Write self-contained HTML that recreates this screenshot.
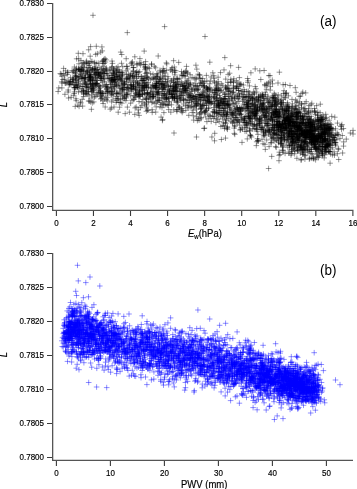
<!DOCTYPE html><html><head><meta charset="utf-8"><style>html,body{margin:0;padding:0;background:#fff;width:357px;height:489px;overflow:hidden}svg{display:block}</style></head><body><svg width="357" height="489" viewBox="0 0 357 489"><path d="M308.2 151.4h5.6m-2.8-2.8v5.6M103.9 69.2h5.6m-2.8-2.8v5.6M91.0 101.9h5.6m-2.8-2.8v5.6M177.5 97.2h5.6m-2.8-2.8v5.6M82.3 74.1h5.6m-2.8-2.8v5.6M326.2 128.7h5.6m-2.8-2.8v5.6M220.4 92.3h5.6m-2.8-2.8v5.6M245.5 123.9h5.6m-2.8-2.8v5.6M261.4 117.5h5.6m-2.8-2.8v5.6M213.4 88.2h5.6m-2.8-2.8v5.6M87.8 46.6h5.6m-2.8-2.8v5.6M194.0 89.5h5.6m-2.8-2.8v5.6M198.2 106.3h5.6m-2.8-2.8v5.6M218.7 114.5h5.6m-2.8-2.8v5.6M118.6 80.7h5.6m-2.8-2.8v5.6M175.9 62.4h5.6m-2.8-2.8v5.6M281.2 90.7h5.6m-2.8-2.8v5.6M131.1 89.4h5.6m-2.8-2.8v5.6M278.3 127.3h5.6m-2.8-2.8v5.6M268.9 116.6h5.6m-2.8-2.8v5.6M264.3 85.2h5.6m-2.8-2.8v5.6M299.1 131.2h5.6m-2.8-2.8v5.6M319.7 138.3h5.6m-2.8-2.8v5.6M264.3 126.0h5.6m-2.8-2.8v5.6M136.5 91.4h5.6m-2.8-2.8v5.6M322.4 134.9h5.6m-2.8-2.8v5.6M287.9 122.6h5.6m-2.8-2.8v5.6M261.8 116.9h5.6m-2.8-2.8v5.6M294.8 146.6h5.6m-2.8-2.8v5.6M288.0 118.4h5.6m-2.8-2.8v5.6M273.6 109.5h5.6m-2.8-2.8v5.6M69.9 79.2h5.6m-2.8-2.8v5.6M308.5 124.3h5.6m-2.8-2.8v5.6M304.2 146.6h5.6m-2.8-2.8v5.6M293.1 114.8h5.6m-2.8-2.8v5.6M302.5 131.8h5.6m-2.8-2.8v5.6M120.1 98.2h5.6m-2.8-2.8v5.6M265.1 119.9h5.6m-2.8-2.8v5.6M171.3 97.7h5.6m-2.8-2.8v5.6M211.8 103.6h5.6m-2.8-2.8v5.6M232.1 111.8h5.6m-2.8-2.8v5.6M113.0 76.7h5.6m-2.8-2.8v5.6M292.5 87.7h5.6m-2.8-2.8v5.6M163.9 84.9h5.6m-2.8-2.8v5.6M103.4 86.5h5.6m-2.8-2.8v5.6M274.6 114.5h5.6m-2.8-2.8v5.6M294.6 129.3h5.6m-2.8-2.8v5.6M321.5 132.9h5.6m-2.8-2.8v5.6M284.5 118.0h5.6m-2.8-2.8v5.6M279.7 124.3h5.6m-2.8-2.8v5.6M300.9 146.7h5.6m-2.8-2.8v5.6M214.6 105.2h5.6m-2.8-2.8v5.6M312.6 138.5h5.6m-2.8-2.8v5.6M93.2 86.7h5.6m-2.8-2.8v5.6M275.7 110.1h5.6m-2.8-2.8v5.6M296.6 126.2h5.6m-2.8-2.8v5.6M320.5 124.0h5.6m-2.8-2.8v5.6M269.7 128.1h5.6m-2.8-2.8v5.6M325.5 129.8h5.6m-2.8-2.8v5.6M126.6 112.2h5.6m-2.8-2.8v5.6M87.2 81.2h5.6m-2.8-2.8v5.6M288.4 142.2h5.6m-2.8-2.8v5.6M289.0 136.8h5.6m-2.8-2.8v5.6M141.6 103.9h5.6m-2.8-2.8v5.6M112.2 70.7h5.6m-2.8-2.8v5.6M277.2 154.6h5.6m-2.8-2.8v5.6M228.9 98.0h5.6m-2.8-2.8v5.6M186.0 83.8h5.6m-2.8-2.8v5.6M91.7 96.9h5.6m-2.8-2.8v5.6M201.7 86.1h5.6m-2.8-2.8v5.6M90.4 85.3h5.6m-2.8-2.8v5.6M211.3 78.3h5.6m-2.8-2.8v5.6M299.7 149.9h5.6m-2.8-2.8v5.6M216.2 107.3h5.6m-2.8-2.8v5.6M321.0 125.5h5.6m-2.8-2.8v5.6M216.1 112.4h5.6m-2.8-2.8v5.6M62.8 83.2h5.6m-2.8-2.8v5.6M327.3 144.5h5.6m-2.8-2.8v5.6M118.7 63.3h5.6m-2.8-2.8v5.6M218.7 99.7h5.6m-2.8-2.8v5.6M124.1 94.7h5.6m-2.8-2.8v5.6M321.4 146.9h5.6m-2.8-2.8v5.6M249.4 98.5h5.6m-2.8-2.8v5.6M108.1 92.4h5.6m-2.8-2.8v5.6M267.4 90.1h5.6m-2.8-2.8v5.6M303.0 126.2h5.6m-2.8-2.8v5.6M308.8 131.1h5.6m-2.8-2.8v5.6M189.3 77.6h5.6m-2.8-2.8v5.6M232.0 134.4h5.6m-2.8-2.8v5.6M322.3 131.2h5.6m-2.8-2.8v5.6M301.7 155.0h5.6m-2.8-2.8v5.6M92.4 75.8h5.6m-2.8-2.8v5.6M303.1 125.7h5.6m-2.8-2.8v5.6M260.8 133.9h5.6m-2.8-2.8v5.6M283.1 117.2h5.6m-2.8-2.8v5.6M275.6 129.7h5.6m-2.8-2.8v5.6M303.0 111.2h5.6m-2.8-2.8v5.6M66.2 84.8h5.6m-2.8-2.8v5.6M311.7 145.2h5.6m-2.8-2.8v5.6M153.3 85.7h5.6m-2.8-2.8v5.6M326.2 132.2h5.6m-2.8-2.8v5.6M93.9 80.5h5.6m-2.8-2.8v5.6M339.1 124.5h5.6m-2.8-2.8v5.6M237.3 130.0h5.6m-2.8-2.8v5.6M285.5 123.8h5.6m-2.8-2.8v5.6M162.9 95.7h5.6m-2.8-2.8v5.6M282.5 110.6h5.6m-2.8-2.8v5.6M269.2 125.0h5.6m-2.8-2.8v5.6M286.5 122.8h5.6m-2.8-2.8v5.6M263.7 116.5h5.6m-2.8-2.8v5.6M223.8 120.4h5.6m-2.8-2.8v5.6M242.3 125.6h5.6m-2.8-2.8v5.6M131.2 95.5h5.6m-2.8-2.8v5.6M298.1 145.2h5.6m-2.8-2.8v5.6M253.1 88.7h5.6m-2.8-2.8v5.6M85.7 87.0h5.6m-2.8-2.8v5.6M89.2 98.0h5.6m-2.8-2.8v5.6M289.9 122.3h5.6m-2.8-2.8v5.6M289.4 133.4h5.6m-2.8-2.8v5.6M104.5 100.8h5.6m-2.8-2.8v5.6M303.1 131.0h5.6m-2.8-2.8v5.6M154.5 95.1h5.6m-2.8-2.8v5.6M284.7 117.8h5.6m-2.8-2.8v5.6M318.2 120.3h5.6m-2.8-2.8v5.6M328.5 124.7h5.6m-2.8-2.8v5.6M269.7 120.4h5.6m-2.8-2.8v5.6M289.9 115.8h5.6m-2.8-2.8v5.6M249.3 111.5h5.6m-2.8-2.8v5.6M252.4 86.6h5.6m-2.8-2.8v5.6M294.4 133.3h5.6m-2.8-2.8v5.6M146.7 68.6h5.6m-2.8-2.8v5.6M317.7 137.4h5.6m-2.8-2.8v5.6M319.9 138.6h5.6m-2.8-2.8v5.6M73.1 80.8h5.6m-2.8-2.8v5.6M211.3 104.1h5.6m-2.8-2.8v5.6M233.6 122.2h5.6m-2.8-2.8v5.6M202.3 96.7h5.6m-2.8-2.8v5.6M243.7 108.5h5.6m-2.8-2.8v5.6M296.1 119.7h5.6m-2.8-2.8v5.6M143.6 111.3h5.6m-2.8-2.8v5.6M321.8 137.6h5.6m-2.8-2.8v5.6M150.2 96.4h5.6m-2.8-2.8v5.6M156.5 79.7h5.6m-2.8-2.8v5.6M313.3 141.5h5.6m-2.8-2.8v5.6M221.1 110.6h5.6m-2.8-2.8v5.6M111.5 79.4h5.6m-2.8-2.8v5.6M208.3 77.0h5.6m-2.8-2.8v5.6M143.4 98.3h5.6m-2.8-2.8v5.6M194.0 104.1h5.6m-2.8-2.8v5.6M301.2 133.8h5.6m-2.8-2.8v5.6M307.5 112.3h5.6m-2.8-2.8v5.6M196.4 94.8h5.6m-2.8-2.8v5.6M55.3 91.5h5.6m-2.8-2.8v5.6M236.8 125.0h5.6m-2.8-2.8v5.6M311.1 142.1h5.6m-2.8-2.8v5.6M248.1 72.8h5.6m-2.8-2.8v5.6M263.1 130.5h5.6m-2.8-2.8v5.6M211.3 81.2h5.6m-2.8-2.8v5.6M232.1 126.0h5.6m-2.8-2.8v5.6M154.0 102.2h5.6m-2.8-2.8v5.6M316.8 120.5h5.6m-2.8-2.8v5.6M298.3 127.4h5.6m-2.8-2.8v5.6M119.5 78.7h5.6m-2.8-2.8v5.6M236.5 83.9h5.6m-2.8-2.8v5.6M273.3 125.8h5.6m-2.8-2.8v5.6M291.2 133.8h5.6m-2.8-2.8v5.6M290.5 138.0h5.6m-2.8-2.8v5.6M280.1 146.3h5.6m-2.8-2.8v5.6M210.6 98.3h5.6m-2.8-2.8v5.6M277.8 144.0h5.6m-2.8-2.8v5.6M317.3 119.8h5.6m-2.8-2.8v5.6M153.3 92.5h5.6m-2.8-2.8v5.6M321.8 138.5h5.6m-2.8-2.8v5.6M268.4 114.6h5.6m-2.8-2.8v5.6M295.5 142.3h5.6m-2.8-2.8v5.6M279.3 141.2h5.6m-2.8-2.8v5.6M131.2 99.0h5.6m-2.8-2.8v5.6M288.2 121.9h5.6m-2.8-2.8v5.6M300.5 120.0h5.6m-2.8-2.8v5.6M216.0 106.1h5.6m-2.8-2.8v5.6M261.3 100.4h5.6m-2.8-2.8v5.6M306.8 131.4h5.6m-2.8-2.8v5.6M238.6 117.6h5.6m-2.8-2.8v5.6M218.6 90.3h5.6m-2.8-2.8v5.6M308.4 116.3h5.6m-2.8-2.8v5.6M318.7 152.8h5.6m-2.8-2.8v5.6M194.1 100.4h5.6m-2.8-2.8v5.6M65.2 80.8h5.6m-2.8-2.8v5.6M224.5 127.0h5.6m-2.8-2.8v5.6M280.2 114.8h5.6m-2.8-2.8v5.6M301.2 128.3h5.6m-2.8-2.8v5.6M294.8 151.1h5.6m-2.8-2.8v5.6M174.0 95.7h5.6m-2.8-2.8v5.6M265.0 106.5h5.6m-2.8-2.8v5.6M282.4 123.4h5.6m-2.8-2.8v5.6M315.4 119.1h5.6m-2.8-2.8v5.6M214.2 85.4h5.6m-2.8-2.8v5.6M311.7 111.6h5.6m-2.8-2.8v5.6M298.9 120.2h5.6m-2.8-2.8v5.6M180.3 95.4h5.6m-2.8-2.8v5.6M276.7 126.7h5.6m-2.8-2.8v5.6M87.6 76.5h5.6m-2.8-2.8v5.6M211.0 107.5h5.6m-2.8-2.8v5.6M237.1 107.9h5.6m-2.8-2.8v5.6M59.1 76.2h5.6m-2.8-2.8v5.6M302.2 147.1h5.6m-2.8-2.8v5.6M234.4 99.1h5.6m-2.8-2.8v5.6M92.7 84.6h5.6m-2.8-2.8v5.6M281.5 112.4h5.6m-2.8-2.8v5.6M203.6 75.4h5.6m-2.8-2.8v5.6M306.4 117.2h5.6m-2.8-2.8v5.6M87.0 78.0h5.6m-2.8-2.8v5.6M295.7 136.7h5.6m-2.8-2.8v5.6M242.6 96.9h5.6m-2.8-2.8v5.6M230.9 87.9h5.6m-2.8-2.8v5.6M283.9 133.5h5.6m-2.8-2.8v5.6M267.7 119.2h5.6m-2.8-2.8v5.6M267.2 75.7h5.6m-2.8-2.8v5.6M92.7 83.8h5.6m-2.8-2.8v5.6M300.5 119.8h5.6m-2.8-2.8v5.6M244.2 105.1h5.6m-2.8-2.8v5.6M334.9 134.4h5.6m-2.8-2.8v5.6M245.0 107.0h5.6m-2.8-2.8v5.6M302.5 137.0h5.6m-2.8-2.8v5.6M292.7 135.7h5.6m-2.8-2.8v5.6M216.2 110.6h5.6m-2.8-2.8v5.6M247.1 131.1h5.6m-2.8-2.8v5.6M270.2 112.7h5.6m-2.8-2.8v5.6M151.1 87.8h5.6m-2.8-2.8v5.6M230.1 123.1h5.6m-2.8-2.8v5.6M119.7 96.1h5.6m-2.8-2.8v5.6M245.0 82.4h5.6m-2.8-2.8v5.6M85.8 79.7h5.6m-2.8-2.8v5.6M140.2 83.7h5.6m-2.8-2.8v5.6M274.9 104.1h5.6m-2.8-2.8v5.6M184.2 72.5h5.6m-2.8-2.8v5.6M88.8 91.3h5.6m-2.8-2.8v5.6M97.6 77.9h5.6m-2.8-2.8v5.6M334.7 123.1h5.6m-2.8-2.8v5.6M282.2 121.9h5.6m-2.8-2.8v5.6M214.1 94.9h5.6m-2.8-2.8v5.6M230.7 91.9h5.6m-2.8-2.8v5.6M87.9 80.5h5.6m-2.8-2.8v5.6M297.8 127.2h5.6m-2.8-2.8v5.6M323.9 130.6h5.6m-2.8-2.8v5.6M185.6 105.3h5.6m-2.8-2.8v5.6M172.5 86.9h5.6m-2.8-2.8v5.6M135.0 87.2h5.6m-2.8-2.8v5.6M94.4 83.5h5.6m-2.8-2.8v5.6M280.9 117.4h5.6m-2.8-2.8v5.6M263.0 115.9h5.6m-2.8-2.8v5.6M322.9 114.3h5.6m-2.8-2.8v5.6M193.9 112.8h5.6m-2.8-2.8v5.6M180.8 104.0h5.6m-2.8-2.8v5.6M294.1 134.7h5.6m-2.8-2.8v5.6M244.5 125.3h5.6m-2.8-2.8v5.6M278.5 138.3h5.6m-2.8-2.8v5.6M308.9 128.2h5.6m-2.8-2.8v5.6M150.0 85.1h5.6m-2.8-2.8v5.6M110.5 73.1h5.6m-2.8-2.8v5.6M299.0 130.7h5.6m-2.8-2.8v5.6M241.2 97.8h5.6m-2.8-2.8v5.6M277.8 125.7h5.6m-2.8-2.8v5.6M329.9 142.9h5.6m-2.8-2.8v5.6M266.5 112.8h5.6m-2.8-2.8v5.6M277.3 116.4h5.6m-2.8-2.8v5.6M276.3 125.0h5.6m-2.8-2.8v5.6M66.9 84.7h5.6m-2.8-2.8v5.6M294.8 127.5h5.6m-2.8-2.8v5.6M270.0 112.6h5.6m-2.8-2.8v5.6M261.8 109.5h5.6m-2.8-2.8v5.6M225.2 89.0h5.6m-2.8-2.8v5.6M290.0 121.0h5.6m-2.8-2.8v5.6M145.8 101.6h5.6m-2.8-2.8v5.6M244.7 107.0h5.6m-2.8-2.8v5.6M71.0 95.3h5.6m-2.8-2.8v5.6M209.9 116.0h5.6m-2.8-2.8v5.6M278.9 130.2h5.6m-2.8-2.8v5.6M294.3 112.7h5.6m-2.8-2.8v5.6M209.1 137.0h5.6m-2.8-2.8v5.6M89.5 70.1h5.6m-2.8-2.8v5.6M87.5 67.9h5.6m-2.8-2.8v5.6M270.6 98.8h5.6m-2.8-2.8v5.6M322.0 154.7h5.6m-2.8-2.8v5.6M293.8 126.2h5.6m-2.8-2.8v5.6M75.9 58.8h5.6m-2.8-2.8v5.6M196.4 97.4h5.6m-2.8-2.8v5.6M293.7 122.6h5.6m-2.8-2.8v5.6M315.0 129.0h5.6m-2.8-2.8v5.6M312.4 144.3h5.6m-2.8-2.8v5.6M135.5 109.9h5.6m-2.8-2.8v5.6M308.3 130.3h5.6m-2.8-2.8v5.6M227.0 88.3h5.6m-2.8-2.8v5.6M80.2 70.0h5.6m-2.8-2.8v5.6M214.2 90.6h5.6m-2.8-2.8v5.6M78.1 76.9h5.6m-2.8-2.8v5.6M130.9 99.6h5.6m-2.8-2.8v5.6M97.7 93.4h5.6m-2.8-2.8v5.6M155.6 88.2h5.6m-2.8-2.8v5.6M240.6 94.3h5.6m-2.8-2.8v5.6M322.8 148.3h5.6m-2.8-2.8v5.6M83.2 90.8h5.6m-2.8-2.8v5.6M320.0 141.8h5.6m-2.8-2.8v5.6M92.6 69.0h5.6m-2.8-2.8v5.6M325.4 124.1h5.6m-2.8-2.8v5.6M313.8 138.8h5.6m-2.8-2.8v5.6M325.3 129.3h5.6m-2.8-2.8v5.6M73.8 70.6h5.6m-2.8-2.8v5.6M310.0 135.7h5.6m-2.8-2.8v5.6M254.0 114.0h5.6m-2.8-2.8v5.6M307.6 139.6h5.6m-2.8-2.8v5.6M278.8 143.0h5.6m-2.8-2.8v5.6M253.1 109.5h5.6m-2.8-2.8v5.6M167.5 86.5h5.6m-2.8-2.8v5.6M317.8 133.0h5.6m-2.8-2.8v5.6M319.9 155.0h5.6m-2.8-2.8v5.6M288.9 136.4h5.6m-2.8-2.8v5.6M161.7 94.0h5.6m-2.8-2.8v5.6M250.2 111.6h5.6m-2.8-2.8v5.6M173.7 88.0h5.6m-2.8-2.8v5.6M145.3 93.0h5.6m-2.8-2.8v5.6M274.8 98.1h5.6m-2.8-2.8v5.6M304.6 119.2h5.6m-2.8-2.8v5.6M220.2 112.4h5.6m-2.8-2.8v5.6M283.3 118.8h5.6m-2.8-2.8v5.6M323.6 141.3h5.6m-2.8-2.8v5.6M222.0 108.1h5.6m-2.8-2.8v5.6M166.8 90.9h5.6m-2.8-2.8v5.6M218.1 126.5h5.6m-2.8-2.8v5.6M312.9 137.3h5.6m-2.8-2.8v5.6M131.2 75.8h5.6m-2.8-2.8v5.6M73.6 84.3h5.6m-2.8-2.8v5.6M267.5 135.2h5.6m-2.8-2.8v5.6M202.2 36.5h5.6m-2.8-2.8v5.6M260.1 94.9h5.6m-2.8-2.8v5.6M159.2 107.7h5.6m-2.8-2.8v5.6M137.0 85.2h5.6m-2.8-2.8v5.6M276.6 72.2h5.6m-2.8-2.8v5.6M279.6 147.3h5.6m-2.8-2.8v5.6M277.7 125.4h5.6m-2.8-2.8v5.6M83.9 92.0h5.6m-2.8-2.8v5.6M129.2 65.1h5.6m-2.8-2.8v5.6M322.3 141.0h5.6m-2.8-2.8v5.6M285.8 123.2h5.6m-2.8-2.8v5.6M270.9 131.0h5.6m-2.8-2.8v5.6M292.4 109.5h5.6m-2.8-2.8v5.6M195.3 99.8h5.6m-2.8-2.8v5.6M208.4 97.2h5.6m-2.8-2.8v5.6M262.9 117.6h5.6m-2.8-2.8v5.6M225.8 105.1h5.6m-2.8-2.8v5.6M305.6 145.1h5.6m-2.8-2.8v5.6M119.0 76.9h5.6m-2.8-2.8v5.6M305.3 123.0h5.6m-2.8-2.8v5.6M260.3 129.0h5.6m-2.8-2.8v5.6M294.8 140.5h5.6m-2.8-2.8v5.6M259.0 122.7h5.6m-2.8-2.8v5.6M246.5 118.5h5.6m-2.8-2.8v5.6M317.2 129.2h5.6m-2.8-2.8v5.6M254.2 107.8h5.6m-2.8-2.8v5.6M114.1 96.5h5.6m-2.8-2.8v5.6M73.8 58.8h5.6m-2.8-2.8v5.6M130.5 81.3h5.6m-2.8-2.8v5.6M278.8 135.4h5.6m-2.8-2.8v5.6M325.0 147.0h5.6m-2.8-2.8v5.6M321.5 129.2h5.6m-2.8-2.8v5.6M319.7 146.7h5.6m-2.8-2.8v5.6M311.8 126.3h5.6m-2.8-2.8v5.6M315.1 138.6h5.6m-2.8-2.8v5.6M199.3 99.7h5.6m-2.8-2.8v5.6M60.8 68.4h5.6m-2.8-2.8v5.6M78.3 68.8h5.6m-2.8-2.8v5.6M308.6 137.0h5.6m-2.8-2.8v5.6M169.4 94.4h5.6m-2.8-2.8v5.6M305.7 122.3h5.6m-2.8-2.8v5.6M123.1 100.6h5.6m-2.8-2.8v5.6M171.6 70.3h5.6m-2.8-2.8v5.6M100.7 60.2h5.6m-2.8-2.8v5.6M119.2 75.4h5.6m-2.8-2.8v5.6M309.5 126.0h5.6m-2.8-2.8v5.6M127.9 85.3h5.6m-2.8-2.8v5.6M318.3 125.0h5.6m-2.8-2.8v5.6M99.5 50.9h5.6m-2.8-2.8v5.6M200.1 104.7h5.6m-2.8-2.8v5.6M325.3 136.8h5.6m-2.8-2.8v5.6M331.3 135.1h5.6m-2.8-2.8v5.6M92.8 70.3h5.6m-2.8-2.8v5.6M314.6 148.3h5.6m-2.8-2.8v5.6M181.2 99.3h5.6m-2.8-2.8v5.6M263.9 140.0h5.6m-2.8-2.8v5.6M314.1 136.3h5.6m-2.8-2.8v5.6M65.8 98.0h5.6m-2.8-2.8v5.6M304.7 145.9h5.6m-2.8-2.8v5.6M280.9 118.1h5.6m-2.8-2.8v5.6M309.5 124.3h5.6m-2.8-2.8v5.6M100.0 71.8h5.6m-2.8-2.8v5.6M282.9 120.8h5.6m-2.8-2.8v5.6M129.8 76.0h5.6m-2.8-2.8v5.6M159.1 84.3h5.6m-2.8-2.8v5.6M155.0 94.5h5.6m-2.8-2.8v5.6M72.6 73.2h5.6m-2.8-2.8v5.6M80.8 71.0h5.6m-2.8-2.8v5.6M202.3 111.2h5.6m-2.8-2.8v5.6M172.1 74.9h5.6m-2.8-2.8v5.6M185.9 94.9h5.6m-2.8-2.8v5.6M207.0 88.3h5.6m-2.8-2.8v5.6M239.4 91.3h5.6m-2.8-2.8v5.6M205.2 114.2h5.6m-2.8-2.8v5.6M289.1 116.7h5.6m-2.8-2.8v5.6M139.3 86.1h5.6m-2.8-2.8v5.6M224.2 101.0h5.6m-2.8-2.8v5.6M79.5 75.4h5.6m-2.8-2.8v5.6M327.7 141.7h5.6m-2.8-2.8v5.6M182.1 88.5h5.6m-2.8-2.8v5.6M288.3 112.9h5.6m-2.8-2.8v5.6M236.7 121.4h5.6m-2.8-2.8v5.6M104.9 93.4h5.6m-2.8-2.8v5.6M305.0 134.0h5.6m-2.8-2.8v5.6M129.1 62.7h5.6m-2.8-2.8v5.6M193.0 86.0h5.6m-2.8-2.8v5.6M118.6 81.0h5.6m-2.8-2.8v5.6M102.5 69.1h5.6m-2.8-2.8v5.6M167.3 94.1h5.6m-2.8-2.8v5.6M97.1 86.2h5.6m-2.8-2.8v5.6M302.9 92.9h5.6m-2.8-2.8v5.6M182.4 76.2h5.6m-2.8-2.8v5.6M86.6 74.8h5.6m-2.8-2.8v5.6M253.6 118.3h5.6m-2.8-2.8v5.6M318.0 128.0h5.6m-2.8-2.8v5.6M273.8 121.3h5.6m-2.8-2.8v5.6M174.5 102.2h5.6m-2.8-2.8v5.6M308.4 119.1h5.6m-2.8-2.8v5.6M82.3 77.3h5.6m-2.8-2.8v5.6M116.7 87.9h5.6m-2.8-2.8v5.6M113.9 71.1h5.6m-2.8-2.8v5.6M276.2 121.7h5.6m-2.8-2.8v5.6M291.2 148.7h5.6m-2.8-2.8v5.6M229.3 112.5h5.6m-2.8-2.8v5.6M330.7 137.5h5.6m-2.8-2.8v5.6M66.9 83.4h5.6m-2.8-2.8v5.6M258.8 109.7h5.6m-2.8-2.8v5.6M325.5 144.3h5.6m-2.8-2.8v5.6M303.0 127.4h5.6m-2.8-2.8v5.6M286.2 110.2h5.6m-2.8-2.8v5.6M246.8 118.3h5.6m-2.8-2.8v5.6M95.9 89.8h5.6m-2.8-2.8v5.6M115.4 112.2h5.6m-2.8-2.8v5.6M243.9 122.6h5.6m-2.8-2.8v5.6M108.6 87.0h5.6m-2.8-2.8v5.6M113.3 102.5h5.6m-2.8-2.8v5.6M235.7 109.8h5.6m-2.8-2.8v5.6M166.9 91.0h5.6m-2.8-2.8v5.6M169.2 94.2h5.6m-2.8-2.8v5.6M297.7 130.9h5.6m-2.8-2.8v5.6M286.3 106.7h5.6m-2.8-2.8v5.6M78.2 70.4h5.6m-2.8-2.8v5.6M267.4 125.7h5.6m-2.8-2.8v5.6M153.3 87.7h5.6m-2.8-2.8v5.6M99.9 94.0h5.6m-2.8-2.8v5.6M255.7 121.4h5.6m-2.8-2.8v5.6M103.0 96.0h5.6m-2.8-2.8v5.6M157.1 70.3h5.6m-2.8-2.8v5.6M121.9 84.4h5.6m-2.8-2.8v5.6M199.0 111.7h5.6m-2.8-2.8v5.6M211.0 111.4h5.6m-2.8-2.8v5.6M97.9 99.0h5.6m-2.8-2.8v5.6M283.2 127.5h5.6m-2.8-2.8v5.6M98.0 78.3h5.6m-2.8-2.8v5.6M330.0 128.9h5.6m-2.8-2.8v5.6M315.2 154.2h5.6m-2.8-2.8v5.6M311.6 136.8h5.6m-2.8-2.8v5.6M271.3 133.4h5.6m-2.8-2.8v5.6M213.4 90.6h5.6m-2.8-2.8v5.6M290.9 134.5h5.6m-2.8-2.8v5.6M76.4 76.9h5.6m-2.8-2.8v5.6M238.4 84.3h5.6m-2.8-2.8v5.6M188.8 102.0h5.6m-2.8-2.8v5.6M291.7 147.5h5.6m-2.8-2.8v5.6M326.9 139.7h5.6m-2.8-2.8v5.6M153.4 106.9h5.6m-2.8-2.8v5.6M293.5 123.0h5.6m-2.8-2.8v5.6M152.7 98.1h5.6m-2.8-2.8v5.6M196.8 114.0h5.6m-2.8-2.8v5.6M308.6 142.4h5.6m-2.8-2.8v5.6M243.2 97.4h5.6m-2.8-2.8v5.6M305.7 130.5h5.6m-2.8-2.8v5.6M183.2 71.0h5.6m-2.8-2.8v5.6M158.5 84.3h5.6m-2.8-2.8v5.6M84.4 94.3h5.6m-2.8-2.8v5.6M237.8 110.3h5.6m-2.8-2.8v5.6M94.5 80.1h5.6m-2.8-2.8v5.6M109.4 93.3h5.6m-2.8-2.8v5.6M153.7 87.5h5.6m-2.8-2.8v5.6M221.9 113.1h5.6m-2.8-2.8v5.6M175.0 81.5h5.6m-2.8-2.8v5.6M159.8 119.5h5.6m-2.8-2.8v5.6M119.9 74.7h5.6m-2.8-2.8v5.6M129.6 76.8h5.6m-2.8-2.8v5.6M323.0 146.7h5.6m-2.8-2.8v5.6M257.1 118.9h5.6m-2.8-2.8v5.6M224.6 127.2h5.6m-2.8-2.8v5.6M195.3 74.2h5.6m-2.8-2.8v5.6M135.8 72.6h5.6m-2.8-2.8v5.6M314.1 121.7h5.6m-2.8-2.8v5.6M168.9 94.5h5.6m-2.8-2.8v5.6M103.8 89.4h5.6m-2.8-2.8v5.6M289.1 107.5h5.6m-2.8-2.8v5.6M302.0 131.5h5.6m-2.8-2.8v5.6M116.8 107.2h5.6m-2.8-2.8v5.6M89.5 102.9h5.6m-2.8-2.8v5.6M274.7 130.2h5.6m-2.8-2.8v5.6M273.6 106.1h5.6m-2.8-2.8v5.6M263.2 115.7h5.6m-2.8-2.8v5.6M92.4 67.0h5.6m-2.8-2.8v5.6M298.8 128.9h5.6m-2.8-2.8v5.6M128.4 63.4h5.6m-2.8-2.8v5.6M328.9 134.0h5.6m-2.8-2.8v5.6M291.5 112.1h5.6m-2.8-2.8v5.6M75.7 91.8h5.6m-2.8-2.8v5.6M150.2 91.4h5.6m-2.8-2.8v5.6M213.8 118.1h5.6m-2.8-2.8v5.6M233.8 117.3h5.6m-2.8-2.8v5.6M230.9 81.1h5.6m-2.8-2.8v5.6M270.2 117.2h5.6m-2.8-2.8v5.6M201.6 105.3h5.6m-2.8-2.8v5.6M264.6 130.3h5.6m-2.8-2.8v5.6M167.7 85.7h5.6m-2.8-2.8v5.6M238.1 114.9h5.6m-2.8-2.8v5.6M285.0 138.4h5.6m-2.8-2.8v5.6M272.9 101.4h5.6m-2.8-2.8v5.6M322.5 139.4h5.6m-2.8-2.8v5.6M211.0 118.6h5.6m-2.8-2.8v5.6M249.3 124.0h5.6m-2.8-2.8v5.6M245.7 100.7h5.6m-2.8-2.8v5.6M331.7 155.1h5.6m-2.8-2.8v5.6M264.8 123.4h5.6m-2.8-2.8v5.6M121.0 84.8h5.6m-2.8-2.8v5.6M201.4 96.9h5.6m-2.8-2.8v5.6M103.4 84.6h5.6m-2.8-2.8v5.6M288.7 119.3h5.6m-2.8-2.8v5.6M251.1 113.0h5.6m-2.8-2.8v5.6M303.4 101.7h5.6m-2.8-2.8v5.6M90.3 90.4h5.6m-2.8-2.8v5.6M326.0 151.5h5.6m-2.8-2.8v5.6M309.8 139.0h5.6m-2.8-2.8v5.6M180.5 90.6h5.6m-2.8-2.8v5.6M301.3 139.2h5.6m-2.8-2.8v5.6M162.0 101.4h5.6m-2.8-2.8v5.6M153.6 77.1h5.6m-2.8-2.8v5.6M273.5 105.0h5.6m-2.8-2.8v5.6M248.3 117.1h5.6m-2.8-2.8v5.6M139.4 87.4h5.6m-2.8-2.8v5.6M286.2 126.2h5.6m-2.8-2.8v5.6M136.9 71.6h5.6m-2.8-2.8v5.6M291.0 141.9h5.6m-2.8-2.8v5.6M283.0 128.1h5.6m-2.8-2.8v5.6M313.4 121.5h5.6m-2.8-2.8v5.6M292.1 121.3h5.6m-2.8-2.8v5.6M200.5 105.5h5.6m-2.8-2.8v5.6M305.7 111.2h5.6m-2.8-2.8v5.6M283.9 110.9h5.6m-2.8-2.8v5.6M198.8 94.6h5.6m-2.8-2.8v5.6M82.9 73.7h5.6m-2.8-2.8v5.6M191.3 78.2h5.6m-2.8-2.8v5.6M286.6 146.1h5.6m-2.8-2.8v5.6M225.3 104.1h5.6m-2.8-2.8v5.6M144.5 77.2h5.6m-2.8-2.8v5.6M126.3 79.8h5.6m-2.8-2.8v5.6M254.4 102.2h5.6m-2.8-2.8v5.6M296.2 123.5h5.6m-2.8-2.8v5.6M292.7 100.0h5.6m-2.8-2.8v5.6M326.1 151.6h5.6m-2.8-2.8v5.6M89.9 91.2h5.6m-2.8-2.8v5.6M281.6 137.6h5.6m-2.8-2.8v5.6M97.8 87.2h5.6m-2.8-2.8v5.6M170.4 82.2h5.6m-2.8-2.8v5.6M144.8 110.1h5.6m-2.8-2.8v5.6M217.1 108.0h5.6m-2.8-2.8v5.6M290.6 121.9h5.6m-2.8-2.8v5.6M301.9 134.4h5.6m-2.8-2.8v5.6M123.8 66.2h5.6m-2.8-2.8v5.6M297.7 116.4h5.6m-2.8-2.8v5.6M228.1 121.3h5.6m-2.8-2.8v5.6M148.0 99.0h5.6m-2.8-2.8v5.6M178.7 71.5h5.6m-2.8-2.8v5.6M275.2 112.9h5.6m-2.8-2.8v5.6M305.2 133.4h5.6m-2.8-2.8v5.6M283.0 120.6h5.6m-2.8-2.8v5.6M165.9 109.6h5.6m-2.8-2.8v5.6M279.5 130.7h5.6m-2.8-2.8v5.6M157.8 104.3h5.6m-2.8-2.8v5.6M319.2 119.3h5.6m-2.8-2.8v5.6M159.0 85.5h5.6m-2.8-2.8v5.6M300.9 108.3h5.6m-2.8-2.8v5.6M110.5 80.2h5.6m-2.8-2.8v5.6M110.7 71.2h5.6m-2.8-2.8v5.6M171.1 78.9h5.6m-2.8-2.8v5.6M306.8 134.0h5.6m-2.8-2.8v5.6M128.9 85.2h5.6m-2.8-2.8v5.6M154.6 101.0h5.6m-2.8-2.8v5.6M293.6 136.8h5.6m-2.8-2.8v5.6M226.8 100.8h5.6m-2.8-2.8v5.6M174.6 98.6h5.6m-2.8-2.8v5.6M318.6 133.9h5.6m-2.8-2.8v5.6M83.8 61.1h5.6m-2.8-2.8v5.6M315.4 129.1h5.6m-2.8-2.8v5.6M214.4 93.7h5.6m-2.8-2.8v5.6M62.2 82.9h5.6m-2.8-2.8v5.6M273.6 130.6h5.6m-2.8-2.8v5.6M279.8 129.2h5.6m-2.8-2.8v5.6M282.7 93.8h5.6m-2.8-2.8v5.6M185.1 94.8h5.6m-2.8-2.8v5.6M296.7 135.2h5.6m-2.8-2.8v5.6M143.4 84.6h5.6m-2.8-2.8v5.6M152.1 78.0h5.6m-2.8-2.8v5.6M312.7 144.2h5.6m-2.8-2.8v5.6M82.7 80.0h5.6m-2.8-2.8v5.6M309.9 139.5h5.6m-2.8-2.8v5.6M207.8 90.2h5.6m-2.8-2.8v5.6M292.1 150.8h5.6m-2.8-2.8v5.6M212.0 97.1h5.6m-2.8-2.8v5.6M268.1 142.9h5.6m-2.8-2.8v5.6M247.4 112.7h5.6m-2.8-2.8v5.6M295.9 127.3h5.6m-2.8-2.8v5.6M136.5 63.6h5.6m-2.8-2.8v5.6M257.4 111.3h5.6m-2.8-2.8v5.6M319.8 135.0h5.6m-2.8-2.8v5.6M112.6 81.5h5.6m-2.8-2.8v5.6M106.9 78.0h5.6m-2.8-2.8v5.6M260.4 131.0h5.6m-2.8-2.8v5.6M59.3 83.0h5.6m-2.8-2.8v5.6M320.8 142.2h5.6m-2.8-2.8v5.6M297.8 122.2h5.6m-2.8-2.8v5.6M123.0 96.7h5.6m-2.8-2.8v5.6M185.7 86.5h5.6m-2.8-2.8v5.6M105.6 78.7h5.6m-2.8-2.8v5.6M306.6 129.4h5.6m-2.8-2.8v5.6M283.6 130.5h5.6m-2.8-2.8v5.6M302.4 141.3h5.6m-2.8-2.8v5.6M286.7 130.8h5.6m-2.8-2.8v5.6M178.4 94.0h5.6m-2.8-2.8v5.6M117.8 102.4h5.6m-2.8-2.8v5.6M285.6 106.0h5.6m-2.8-2.8v5.6M235.8 90.5h5.6m-2.8-2.8v5.6M70.8 71.1h5.6m-2.8-2.8v5.6M124.4 88.1h5.6m-2.8-2.8v5.6M88.4 71.8h5.6m-2.8-2.8v5.6M160.0 83.3h5.6m-2.8-2.8v5.6M244.3 106.0h5.6m-2.8-2.8v5.6M130.3 80.3h5.6m-2.8-2.8v5.6M297.6 115.8h5.6m-2.8-2.8v5.6M237.8 110.9h5.6m-2.8-2.8v5.6M320.1 140.3h5.6m-2.8-2.8v5.6M148.0 88.7h5.6m-2.8-2.8v5.6M316.9 127.9h5.6m-2.8-2.8v5.6M183.3 87.3h5.6m-2.8-2.8v5.6M172.5 90.8h5.6m-2.8-2.8v5.6M72.1 72.3h5.6m-2.8-2.8v5.6M232.2 96.1h5.6m-2.8-2.8v5.6M296.1 112.7h5.6m-2.8-2.8v5.6M215.9 100.8h5.6m-2.8-2.8v5.6M90.2 84.9h5.6m-2.8-2.8v5.6M301.6 149.1h5.6m-2.8-2.8v5.6M304.1 135.1h5.6m-2.8-2.8v5.6M254.9 100.9h5.6m-2.8-2.8v5.6M315.2 135.5h5.6m-2.8-2.8v5.6M253.3 106.3h5.6m-2.8-2.8v5.6M202.9 101.2h5.6m-2.8-2.8v5.6M199.8 106.0h5.6m-2.8-2.8v5.6M91.4 87.6h5.6m-2.8-2.8v5.6M198.9 107.9h5.6m-2.8-2.8v5.6M288.7 111.6h5.6m-2.8-2.8v5.6M231.4 128.1h5.6m-2.8-2.8v5.6M270.6 113.5h5.6m-2.8-2.8v5.6M104.4 75.3h5.6m-2.8-2.8v5.6M249.8 118.7h5.6m-2.8-2.8v5.6M197.7 103.3h5.6m-2.8-2.8v5.6M101.8 81.3h5.6m-2.8-2.8v5.6M64.3 74.4h5.6m-2.8-2.8v5.6M151.0 77.3h5.6m-2.8-2.8v5.6M256.7 118.8h5.6m-2.8-2.8v5.6M98.8 78.6h5.6m-2.8-2.8v5.6M170.8 91.3h5.6m-2.8-2.8v5.6M97.9 52.2h5.6m-2.8-2.8v5.6M103.9 73.3h5.6m-2.8-2.8v5.6M200.0 95.7h5.6m-2.8-2.8v5.6M247.9 106.5h5.6m-2.8-2.8v5.6M105.1 90.9h5.6m-2.8-2.8v5.6M311.0 158.9h5.6m-2.8-2.8v5.6M310.6 136.9h5.6m-2.8-2.8v5.6M254.3 129.6h5.6m-2.8-2.8v5.6M281.3 128.6h5.6m-2.8-2.8v5.6M156.7 87.1h5.6m-2.8-2.8v5.6M216.4 105.3h5.6m-2.8-2.8v5.6M171.0 88.7h5.6m-2.8-2.8v5.6M311.7 124.6h5.6m-2.8-2.8v5.6M293.3 108.7h5.6m-2.8-2.8v5.6M71.8 85.2h5.6m-2.8-2.8v5.6M295.2 126.3h5.6m-2.8-2.8v5.6M273.5 126.6h5.6m-2.8-2.8v5.6M276.8 125.9h5.6m-2.8-2.8v5.6M155.8 91.6h5.6m-2.8-2.8v5.6M316.8 135.6h5.6m-2.8-2.8v5.6M74.0 76.6h5.6m-2.8-2.8v5.6M233.6 80.9h5.6m-2.8-2.8v5.6M248.1 106.5h5.6m-2.8-2.8v5.6M222.7 86.7h5.6m-2.8-2.8v5.6M246.2 117.7h5.6m-2.8-2.8v5.6M80.8 62.7h5.6m-2.8-2.8v5.6M282.7 128.9h5.6m-2.8-2.8v5.6M245.3 80.8h5.6m-2.8-2.8v5.6M179.0 95.4h5.6m-2.8-2.8v5.6M221.9 94.0h5.6m-2.8-2.8v5.6M252.6 114.0h5.6m-2.8-2.8v5.6M277.9 101.4h5.6m-2.8-2.8v5.6M275.9 102.3h5.6m-2.8-2.8v5.6M109.1 95.7h5.6m-2.8-2.8v5.6M130.7 84.9h5.6m-2.8-2.8v5.6M87.3 77.5h5.6m-2.8-2.8v5.6M287.1 117.9h5.6m-2.8-2.8v5.6M309.6 144.6h5.6m-2.8-2.8v5.6M278.9 133.1h5.6m-2.8-2.8v5.6M179.2 108.5h5.6m-2.8-2.8v5.6M290.2 116.2h5.6m-2.8-2.8v5.6M81.9 82.5h5.6m-2.8-2.8v5.6M173.5 101.9h5.6m-2.8-2.8v5.6M136.7 91.8h5.6m-2.8-2.8v5.6M273.6 110.1h5.6m-2.8-2.8v5.6M103.2 59.9h5.6m-2.8-2.8v5.6M107.5 84.5h5.6m-2.8-2.8v5.6M125.3 84.7h5.6m-2.8-2.8v5.6M246.8 92.8h5.6m-2.8-2.8v5.6M121.6 92.8h5.6m-2.8-2.8v5.6M292.6 118.7h5.6m-2.8-2.8v5.6M198.0 82.7h5.6m-2.8-2.8v5.6M211.6 97.1h5.6m-2.8-2.8v5.6M206.5 101.3h5.6m-2.8-2.8v5.6M252.4 105.6h5.6m-2.8-2.8v5.6M205.9 108.1h5.6m-2.8-2.8v5.6M74.7 87.0h5.6m-2.8-2.8v5.6M84.5 71.1h5.6m-2.8-2.8v5.6M280.2 111.8h5.6m-2.8-2.8v5.6M288.9 149.8h5.6m-2.8-2.8v5.6M299.5 130.9h5.6m-2.8-2.8v5.6M254.6 110.7h5.6m-2.8-2.8v5.6M276.3 155.3h5.6m-2.8-2.8v5.6M150.2 101.9h5.6m-2.8-2.8v5.6M287.2 137.2h5.6m-2.8-2.8v5.6M109.8 77.7h5.6m-2.8-2.8v5.6M319.6 153.4h5.6m-2.8-2.8v5.6M315.5 138.5h5.6m-2.8-2.8v5.6M275.8 127.3h5.6m-2.8-2.8v5.6M141.4 51.1h5.6m-2.8-2.8v5.6M270.9 130.0h5.6m-2.8-2.8v5.6M163.5 62.9h5.6m-2.8-2.8v5.6M244.0 127.6h5.6m-2.8-2.8v5.6M300.6 146.9h5.6m-2.8-2.8v5.6M255.7 99.8h5.6m-2.8-2.8v5.6M83.7 84.7h5.6m-2.8-2.8v5.6M314.7 141.8h5.6m-2.8-2.8v5.6M280.2 150.2h5.6m-2.8-2.8v5.6M252.0 128.4h5.6m-2.8-2.8v5.6M144.7 93.0h5.6m-2.8-2.8v5.6M84.5 72.2h5.6m-2.8-2.8v5.6M59.1 87.9h5.6m-2.8-2.8v5.6M279.1 130.1h5.6m-2.8-2.8v5.6M287.2 118.2h5.6m-2.8-2.8v5.6M94.5 94.8h5.6m-2.8-2.8v5.6M99.4 97.3h5.6m-2.8-2.8v5.6M311.0 143.1h5.6m-2.8-2.8v5.6M318.9 136.0h5.6m-2.8-2.8v5.6M250.1 98.9h5.6m-2.8-2.8v5.6M271.3 128.1h5.6m-2.8-2.8v5.6M89.4 86.6h5.6m-2.8-2.8v5.6M274.9 121.6h5.6m-2.8-2.8v5.6M198.1 112.6h5.6m-2.8-2.8v5.6M150.2 94.2h5.6m-2.8-2.8v5.6M126.0 90.7h5.6m-2.8-2.8v5.6M301.7 133.0h5.6m-2.8-2.8v5.6M301.5 144.4h5.6m-2.8-2.8v5.6M138.3 76.9h5.6m-2.8-2.8v5.6M306.1 132.9h5.6m-2.8-2.8v5.6M231.7 98.6h5.6m-2.8-2.8v5.6M190.5 115.8h5.6m-2.8-2.8v5.6M170.6 79.1h5.6m-2.8-2.8v5.6M326.9 151.6h5.6m-2.8-2.8v5.6M75.8 80.1h5.6m-2.8-2.8v5.6M319.7 139.6h5.6m-2.8-2.8v5.6M270.1 138.5h5.6m-2.8-2.8v5.6M197.7 108.9h5.6m-2.8-2.8v5.6M176.5 97.1h5.6m-2.8-2.8v5.6M113.9 100.7h5.6m-2.8-2.8v5.6M294.1 102.5h5.6m-2.8-2.8v5.6M328.9 116.4h5.6m-2.8-2.8v5.6M289.4 108.9h5.6m-2.8-2.8v5.6M181.9 85.0h5.6m-2.8-2.8v5.6M289.5 123.6h5.6m-2.8-2.8v5.6M265.0 124.9h5.6m-2.8-2.8v5.6M163.9 98.2h5.6m-2.8-2.8v5.6M200.3 87.2h5.6m-2.8-2.8v5.6M169.1 88.3h5.6m-2.8-2.8v5.6M141.9 75.8h5.6m-2.8-2.8v5.6M84.0 68.0h5.6m-2.8-2.8v5.6M265.2 113.4h5.6m-2.8-2.8v5.6M221.3 98.7h5.6m-2.8-2.8v5.6M314.1 153.2h5.6m-2.8-2.8v5.6M313.4 149.1h5.6m-2.8-2.8v5.6M309.2 133.7h5.6m-2.8-2.8v5.6M87.1 84.3h5.6m-2.8-2.8v5.6M266.4 131.5h5.6m-2.8-2.8v5.6M167.7 70.1h5.6m-2.8-2.8v5.6M300.4 135.0h5.6m-2.8-2.8v5.6M251.0 126.1h5.6m-2.8-2.8v5.6M138.2 62.7h5.6m-2.8-2.8v5.6M306.8 149.5h5.6m-2.8-2.8v5.6M166.1 102.9h5.6m-2.8-2.8v5.6M285.7 114.9h5.6m-2.8-2.8v5.6M213.6 105.3h5.6m-2.8-2.8v5.6M292.5 131.2h5.6m-2.8-2.8v5.6M293.0 114.1h5.6m-2.8-2.8v5.6M248.0 118.9h5.6m-2.8-2.8v5.6M320.7 132.2h5.6m-2.8-2.8v5.6M257.0 70.8h5.6m-2.8-2.8v5.6M289.8 140.5h5.6m-2.8-2.8v5.6M289.6 113.4h5.6m-2.8-2.8v5.6M93.9 72.9h5.6m-2.8-2.8v5.6M243.9 104.6h5.6m-2.8-2.8v5.6M266.0 75.6h5.6m-2.8-2.8v5.6M88.2 69.7h5.6m-2.8-2.8v5.6M307.3 142.2h5.6m-2.8-2.8v5.6M87.4 56.2h5.6m-2.8-2.8v5.6M322.5 139.0h5.6m-2.8-2.8v5.6M168.5 93.7h5.6m-2.8-2.8v5.6M278.3 126.9h5.6m-2.8-2.8v5.6M174.1 111.5h5.6m-2.8-2.8v5.6M277.8 128.6h5.6m-2.8-2.8v5.6M260.3 143.8h5.6m-2.8-2.8v5.6M87.2 75.7h5.6m-2.8-2.8v5.6M285.5 124.9h5.6m-2.8-2.8v5.6M299.5 133.9h5.6m-2.8-2.8v5.6M284.7 107.1h5.6m-2.8-2.8v5.6M93.0 96.3h5.6m-2.8-2.8v5.6M75.2 85.1h5.6m-2.8-2.8v5.6M72.8 77.6h5.6m-2.8-2.8v5.6M161.1 83.7h5.6m-2.8-2.8v5.6M135.6 94.5h5.6m-2.8-2.8v5.6M76.3 106.4h5.6m-2.8-2.8v5.6M116.6 77.9h5.6m-2.8-2.8v5.6M132.9 93.8h5.6m-2.8-2.8v5.6M299.5 152.2h5.6m-2.8-2.8v5.6M322.5 138.6h5.6m-2.8-2.8v5.6M204.2 103.2h5.6m-2.8-2.8v5.6M288.5 131.3h5.6m-2.8-2.8v5.6M77.0 88.5h5.6m-2.8-2.8v5.6M311.9 129.1h5.6m-2.8-2.8v5.6M305.3 127.8h5.6m-2.8-2.8v5.6M318.2 121.8h5.6m-2.8-2.8v5.6M115.4 79.4h5.6m-2.8-2.8v5.6M239.9 109.5h5.6m-2.8-2.8v5.6M289.4 131.8h5.6m-2.8-2.8v5.6M316.0 133.6h5.6m-2.8-2.8v5.6M171.7 98.3h5.6m-2.8-2.8v5.6M298.6 140.8h5.6m-2.8-2.8v5.6M126.0 88.6h5.6m-2.8-2.8v5.6M276.9 113.2h5.6m-2.8-2.8v5.6M258.9 120.7h5.6m-2.8-2.8v5.6M290.5 110.4h5.6m-2.8-2.8v5.6M191.7 91.2h5.6m-2.8-2.8v5.6M91.6 72.1h5.6m-2.8-2.8v5.6M295.4 137.8h5.6m-2.8-2.8v5.6M162.5 81.5h5.6m-2.8-2.8v5.6M160.1 103.6h5.6m-2.8-2.8v5.6M262.7 123.4h5.6m-2.8-2.8v5.6M161.2 87.0h5.6m-2.8-2.8v5.6M281.9 97.3h5.6m-2.8-2.8v5.6M271.6 105.8h5.6m-2.8-2.8v5.6M79.4 99.3h5.6m-2.8-2.8v5.6M154.1 93.5h5.6m-2.8-2.8v5.6M312.9 134.8h5.6m-2.8-2.8v5.6M281.8 120.5h5.6m-2.8-2.8v5.6M265.0 96.2h5.6m-2.8-2.8v5.6M213.5 110.9h5.6m-2.8-2.8v5.6M196.9 98.0h5.6m-2.8-2.8v5.6M272.9 103.0h5.6m-2.8-2.8v5.6M205.5 97.4h5.6m-2.8-2.8v5.6M220.7 111.0h5.6m-2.8-2.8v5.6M109.7 63.4h5.6m-2.8-2.8v5.6M141.6 85.8h5.6m-2.8-2.8v5.6M275.5 99.5h5.6m-2.8-2.8v5.6M324.2 146.4h5.6m-2.8-2.8v5.6M270.5 113.0h5.6m-2.8-2.8v5.6M150.8 79.4h5.6m-2.8-2.8v5.6M230.0 92.6h5.6m-2.8-2.8v5.6M286.0 126.3h5.6m-2.8-2.8v5.6M324.9 145.8h5.6m-2.8-2.8v5.6M88.6 109.3h5.6m-2.8-2.8v5.6M302.7 137.5h5.6m-2.8-2.8v5.6M293.9 117.1h5.6m-2.8-2.8v5.6M73.8 76.2h5.6m-2.8-2.8v5.6M312.5 148.9h5.6m-2.8-2.8v5.6M192.3 90.2h5.6m-2.8-2.8v5.6M281.6 139.4h5.6m-2.8-2.8v5.6M97.1 76.6h5.6m-2.8-2.8v5.6M285.7 121.0h5.6m-2.8-2.8v5.6M215.4 81.7h5.6m-2.8-2.8v5.6M326.8 143.4h5.6m-2.8-2.8v5.6M229.8 113.8h5.6m-2.8-2.8v5.6M214.5 113.3h5.6m-2.8-2.8v5.6M315.4 120.8h5.6m-2.8-2.8v5.6M294.9 140.1h5.6m-2.8-2.8v5.6M307.9 136.9h5.6m-2.8-2.8v5.6M270.4 117.7h5.6m-2.8-2.8v5.6M316.1 142.1h5.6m-2.8-2.8v5.6M197.4 83.6h5.6m-2.8-2.8v5.6M266.4 108.5h5.6m-2.8-2.8v5.6M326.8 129.7h5.6m-2.8-2.8v5.6M313.6 147.1h5.6m-2.8-2.8v5.6M93.5 46.3h5.6m-2.8-2.8v5.6M300.3 140.5h5.6m-2.8-2.8v5.6M204.6 88.8h5.6m-2.8-2.8v5.6M161.6 76.0h5.6m-2.8-2.8v5.6M284.4 129.5h5.6m-2.8-2.8v5.6M162.3 104.8h5.6m-2.8-2.8v5.6M95.9 92.4h5.6m-2.8-2.8v5.6M224.7 129.3h5.6m-2.8-2.8v5.6M288.0 122.7h5.6m-2.8-2.8v5.6M127.9 95.9h5.6m-2.8-2.8v5.6M287.2 128.3h5.6m-2.8-2.8v5.6M140.5 80.6h5.6m-2.8-2.8v5.6M271.2 106.5h5.6m-2.8-2.8v5.6M184.6 73.6h5.6m-2.8-2.8v5.6M330.0 130.2h5.6m-2.8-2.8v5.6M91.3 68.7h5.6m-2.8-2.8v5.6M193.2 78.0h5.6m-2.8-2.8v5.6M103.0 91.2h5.6m-2.8-2.8v5.6M303.0 144.9h5.6m-2.8-2.8v5.6M263.0 113.2h5.6m-2.8-2.8v5.6M309.8 154.3h5.6m-2.8-2.8v5.6M175.8 84.6h5.6m-2.8-2.8v5.6M193.6 105.6h5.6m-2.8-2.8v5.6M299.2 116.2h5.6m-2.8-2.8v5.6M203.2 92.8h5.6m-2.8-2.8v5.6M305.6 137.4h5.6m-2.8-2.8v5.6M287.0 136.5h5.6m-2.8-2.8v5.6M226.4 96.0h5.6m-2.8-2.8v5.6M322.4 151.3h5.6m-2.8-2.8v5.6M73.5 86.1h5.6m-2.8-2.8v5.6M276.0 131.9h5.6m-2.8-2.8v5.6M281.0 132.4h5.6m-2.8-2.8v5.6M286.6 132.5h5.6m-2.8-2.8v5.6M215.2 103.2h5.6m-2.8-2.8v5.6M61.7 79.2h5.6m-2.8-2.8v5.6M195.4 118.4h5.6m-2.8-2.8v5.6M245.3 96.5h5.6m-2.8-2.8v5.6M130.9 86.5h5.6m-2.8-2.8v5.6M286.5 131.1h5.6m-2.8-2.8v5.6M204.5 96.2h5.6m-2.8-2.8v5.6M66.2 81.4h5.6m-2.8-2.8v5.6M95.3 85.2h5.6m-2.8-2.8v5.6M137.2 90.3h5.6m-2.8-2.8v5.6M218.3 101.1h5.6m-2.8-2.8v5.6M231.9 126.0h5.6m-2.8-2.8v5.6M262.0 98.1h5.6m-2.8-2.8v5.6M262.3 112.6h5.6m-2.8-2.8v5.6M86.6 101.1h5.6m-2.8-2.8v5.6M275.2 83.0h5.6m-2.8-2.8v5.6M180.5 100.1h5.6m-2.8-2.8v5.6M284.8 102.6h5.6m-2.8-2.8v5.6M89.2 61.4h5.6m-2.8-2.8v5.6M310.5 123.0h5.6m-2.8-2.8v5.6M213.0 100.0h5.6m-2.8-2.8v5.6M246.2 115.7h5.6m-2.8-2.8v5.6M111.6 78.9h5.6m-2.8-2.8v5.6M168.4 96.6h5.6m-2.8-2.8v5.6M170.3 90.8h5.6m-2.8-2.8v5.6M311.5 147.3h5.6m-2.8-2.8v5.6M308.7 143.1h5.6m-2.8-2.8v5.6M111.4 89.2h5.6m-2.8-2.8v5.6M184.8 88.7h5.6m-2.8-2.8v5.6M147.9 92.7h5.6m-2.8-2.8v5.6M234.2 108.1h5.6m-2.8-2.8v5.6M184.5 80.6h5.6m-2.8-2.8v5.6M92.2 82.1h5.6m-2.8-2.8v5.6M307.6 119.9h5.6m-2.8-2.8v5.6M176.7 107.0h5.6m-2.8-2.8v5.6M69.3 70.6h5.6m-2.8-2.8v5.6M294.1 134.9h5.6m-2.8-2.8v5.6M211.6 112.3h5.6m-2.8-2.8v5.6M75.2 85.2h5.6m-2.8-2.8v5.6M310.7 139.4h5.6m-2.8-2.8v5.6M199.9 78.5h5.6m-2.8-2.8v5.6M298.2 130.4h5.6m-2.8-2.8v5.6M289.2 106.6h5.6m-2.8-2.8v5.6M129.3 100.3h5.6m-2.8-2.8v5.6M95.5 75.1h5.6m-2.8-2.8v5.6M284.8 116.1h5.6m-2.8-2.8v5.6M108.8 79.8h5.6m-2.8-2.8v5.6M69.8 82.3h5.6m-2.8-2.8v5.6M291.5 145.5h5.6m-2.8-2.8v5.6M89.8 68.8h5.6m-2.8-2.8v5.6M156.4 97.6h5.6m-2.8-2.8v5.6M99.1 46.9h5.6m-2.8-2.8v5.6M94.4 69.6h5.6m-2.8-2.8v5.6M294.2 119.3h5.6m-2.8-2.8v5.6M243.6 124.5h5.6m-2.8-2.8v5.6M139.9 80.5h5.6m-2.8-2.8v5.6M299.1 122.5h5.6m-2.8-2.8v5.6M260.8 135.8h5.6m-2.8-2.8v5.6M103.4 85.0h5.6m-2.8-2.8v5.6M199.0 85.3h5.6m-2.8-2.8v5.6M156.6 79.5h5.6m-2.8-2.8v5.6M250.1 103.3h5.6m-2.8-2.8v5.6M281.1 117.0h5.6m-2.8-2.8v5.6M160.6 105.0h5.6m-2.8-2.8v5.6M152.1 103.5h5.6m-2.8-2.8v5.6M181.5 93.1h5.6m-2.8-2.8v5.6M149.4 112.4h5.6m-2.8-2.8v5.6M312.2 147.3h5.6m-2.8-2.8v5.6M102.3 58.7h5.6m-2.8-2.8v5.6M310.7 135.9h5.6m-2.8-2.8v5.6M150.2 74.3h5.6m-2.8-2.8v5.6M279.3 124.2h5.6m-2.8-2.8v5.6M104.7 87.5h5.6m-2.8-2.8v5.6M286.6 108.3h5.6m-2.8-2.8v5.6M123.4 58.7h5.6m-2.8-2.8v5.6M290.2 141.5h5.6m-2.8-2.8v5.6M92.1 63.3h5.6m-2.8-2.8v5.6M133.8 72.5h5.6m-2.8-2.8v5.6M241.7 118.0h5.6m-2.8-2.8v5.6M171.8 97.1h5.6m-2.8-2.8v5.6M73.4 100.7h5.6m-2.8-2.8v5.6M305.5 112.6h5.6m-2.8-2.8v5.6M299.8 123.4h5.6m-2.8-2.8v5.6M303.9 132.0h5.6m-2.8-2.8v5.6M319.1 119.5h5.6m-2.8-2.8v5.6M109.4 91.3h5.6m-2.8-2.8v5.6M321.9 149.6h5.6m-2.8-2.8v5.6M174.2 93.9h5.6m-2.8-2.8v5.6M179.2 83.3h5.6m-2.8-2.8v5.6M302.1 103.6h5.6m-2.8-2.8v5.6M308.5 158.3h5.6m-2.8-2.8v5.6M294.2 115.3h5.6m-2.8-2.8v5.6M186.0 107.9h5.6m-2.8-2.8v5.6M297.0 144.6h5.6m-2.8-2.8v5.6M220.3 99.0h5.6m-2.8-2.8v5.6M187.0 92.9h5.6m-2.8-2.8v5.6M285.5 142.2h5.6m-2.8-2.8v5.6M217.9 103.2h5.6m-2.8-2.8v5.6M211.5 92.6h5.6m-2.8-2.8v5.6M311.3 130.2h5.6m-2.8-2.8v5.6M166.5 92.3h5.6m-2.8-2.8v5.6M243.9 131.3h5.6m-2.8-2.8v5.6M97.6 75.1h5.6m-2.8-2.8v5.6M305.9 123.8h5.6m-2.8-2.8v5.6M253.7 111.0h5.6m-2.8-2.8v5.6M174.7 84.3h5.6m-2.8-2.8v5.6M278.7 104.6h5.6m-2.8-2.8v5.6M315.3 123.4h5.6m-2.8-2.8v5.6M294.7 119.1h5.6m-2.8-2.8v5.6M216.9 95.5h5.6m-2.8-2.8v5.6M302.2 108.8h5.6m-2.8-2.8v5.6M295.0 116.8h5.6m-2.8-2.8v5.6M274.8 125.3h5.6m-2.8-2.8v5.6M100.9 76.8h5.6m-2.8-2.8v5.6M289.6 140.0h5.6m-2.8-2.8v5.6M107.6 69.9h5.6m-2.8-2.8v5.6M128.4 84.7h5.6m-2.8-2.8v5.6M224.5 112.8h5.6m-2.8-2.8v5.6M128.5 89.3h5.6m-2.8-2.8v5.6M203.3 103.1h5.6m-2.8-2.8v5.6M268.6 116.2h5.6m-2.8-2.8v5.6M215.0 106.9h5.6m-2.8-2.8v5.6M256.7 108.3h5.6m-2.8-2.8v5.6M76.3 69.3h5.6m-2.8-2.8v5.6M125.6 74.2h5.6m-2.8-2.8v5.6M122.4 113.6h5.6m-2.8-2.8v5.6M218.6 83.8h5.6m-2.8-2.8v5.6M310.3 133.5h5.6m-2.8-2.8v5.6M86.4 77.4h5.6m-2.8-2.8v5.6M226.2 91.2h5.6m-2.8-2.8v5.6M239.2 142.4h5.6m-2.8-2.8v5.6M148.7 64.7h5.6m-2.8-2.8v5.6M238.4 119.6h5.6m-2.8-2.8v5.6M275.7 129.1h5.6m-2.8-2.8v5.6M306.5 132.8h5.6m-2.8-2.8v5.6M215.6 114.7h5.6m-2.8-2.8v5.6M305.0 131.2h5.6m-2.8-2.8v5.6M272.5 114.8h5.6m-2.8-2.8v5.6M290.6 134.1h5.6m-2.8-2.8v5.6M287.7 122.0h5.6m-2.8-2.8v5.6M293.9 114.0h5.6m-2.8-2.8v5.6M273.5 140.3h5.6m-2.8-2.8v5.6M279.8 122.7h5.6m-2.8-2.8v5.6M299.8 118.7h5.6m-2.8-2.8v5.6M286.2 116.7h5.6m-2.8-2.8v5.6M322.5 139.7h5.6m-2.8-2.8v5.6M211.8 109.3h5.6m-2.8-2.8v5.6M285.7 110.1h5.6m-2.8-2.8v5.6M221.4 104.0h5.6m-2.8-2.8v5.6M67.7 81.5h5.6m-2.8-2.8v5.6M99.1 68.5h5.6m-2.8-2.8v5.6M230.3 88.8h5.6m-2.8-2.8v5.6M97.4 96.2h5.6m-2.8-2.8v5.6M234.3 119.5h5.6m-2.8-2.8v5.6M230.7 114.9h5.6m-2.8-2.8v5.6M285.1 136.4h5.6m-2.8-2.8v5.6M230.9 112.9h5.6m-2.8-2.8v5.6M145.3 67.7h5.6m-2.8-2.8v5.6M259.8 95.9h5.6m-2.8-2.8v5.6M182.1 75.8h5.6m-2.8-2.8v5.6M304.6 132.2h5.6m-2.8-2.8v5.6M186.2 100.5h5.6m-2.8-2.8v5.6M73.1 98.8h5.6m-2.8-2.8v5.6M323.1 146.3h5.6m-2.8-2.8v5.6M87.6 80.4h5.6m-2.8-2.8v5.6M237.7 84.2h5.6m-2.8-2.8v5.6M278.9 124.4h5.6m-2.8-2.8v5.6M313.3 139.4h5.6m-2.8-2.8v5.6M327.6 128.5h5.6m-2.8-2.8v5.6M253.9 141.8h5.6m-2.8-2.8v5.6M143.4 87.4h5.6m-2.8-2.8v5.6M135.2 83.1h5.6m-2.8-2.8v5.6M136.8 89.9h5.6m-2.8-2.8v5.6M292.2 133.9h5.6m-2.8-2.8v5.6M236.5 93.4h5.6m-2.8-2.8v5.6M328.2 134.3h5.6m-2.8-2.8v5.6M304.1 132.6h5.6m-2.8-2.8v5.6M295.3 115.8h5.6m-2.8-2.8v5.6M319.7 151.0h5.6m-2.8-2.8v5.6M280.9 125.7h5.6m-2.8-2.8v5.6M200.1 91.4h5.6m-2.8-2.8v5.6M219.9 85.4h5.6m-2.8-2.8v5.6M323.1 124.7h5.6m-2.8-2.8v5.6M270.1 137.6h5.6m-2.8-2.8v5.6M169.7 96.6h5.6m-2.8-2.8v5.6M287.6 119.5h5.6m-2.8-2.8v5.6M252.4 114.3h5.6m-2.8-2.8v5.6M347.5 133.0h5.6m-2.8-2.8v5.6M252.3 104.4h5.6m-2.8-2.8v5.6M121.2 95.6h5.6m-2.8-2.8v5.6M158.3 117.1h5.6m-2.8-2.8v5.6M294.4 134.7h5.6m-2.8-2.8v5.6M302.7 122.5h5.6m-2.8-2.8v5.6M73.0 87.4h5.6m-2.8-2.8v5.6M295.3 112.6h5.6m-2.8-2.8v5.6M301.6 113.5h5.6m-2.8-2.8v5.6M217.4 110.7h5.6m-2.8-2.8v5.6M83.3 62.2h5.6m-2.8-2.8v5.6M309.6 122.3h5.6m-2.8-2.8v5.6M304.5 137.1h5.6m-2.8-2.8v5.6M320.8 131.7h5.6m-2.8-2.8v5.6M306.6 137.9h5.6m-2.8-2.8v5.6M292.4 105.8h5.6m-2.8-2.8v5.6M231.5 133.4h5.6m-2.8-2.8v5.6M220.8 122.7h5.6m-2.8-2.8v5.6M284.1 113.7h5.6m-2.8-2.8v5.6M282.2 113.5h5.6m-2.8-2.8v5.6M224.6 112.9h5.6m-2.8-2.8v5.6M338.7 129.4h5.6m-2.8-2.8v5.6M135.8 76.3h5.6m-2.8-2.8v5.6M317.8 122.4h5.6m-2.8-2.8v5.6M229.1 98.9h5.6m-2.8-2.8v5.6M292.5 123.1h5.6m-2.8-2.8v5.6M322.6 118.5h5.6m-2.8-2.8v5.6M323.4 144.5h5.6m-2.8-2.8v5.6M272.8 108.2h5.6m-2.8-2.8v5.6M160.8 95.9h5.6m-2.8-2.8v5.6M187.4 74.7h5.6m-2.8-2.8v5.6M298.0 118.6h5.6m-2.8-2.8v5.6M216.3 104.9h5.6m-2.8-2.8v5.6M299.9 119.0h5.6m-2.8-2.8v5.6M302.8 155.7h5.6m-2.8-2.8v5.6M331.8 142.5h5.6m-2.8-2.8v5.6M230.1 92.9h5.6m-2.8-2.8v5.6M235.9 111.2h5.6m-2.8-2.8v5.6M308.1 133.5h5.6m-2.8-2.8v5.6M222.7 122.3h5.6m-2.8-2.8v5.6M140.8 87.7h5.6m-2.8-2.8v5.6M315.4 119.9h5.6m-2.8-2.8v5.6M224.5 111.5h5.6m-2.8-2.8v5.6M316.0 137.2h5.6m-2.8-2.8v5.6M88.3 89.0h5.6m-2.8-2.8v5.6M161.3 70.8h5.6m-2.8-2.8v5.6M100.5 73.2h5.6m-2.8-2.8v5.6M277.9 143.6h5.6m-2.8-2.8v5.6M191.0 97.6h5.6m-2.8-2.8v5.6M232.7 117.8h5.6m-2.8-2.8v5.6M174.2 90.5h5.6m-2.8-2.8v5.6M177.0 78.6h5.6m-2.8-2.8v5.6M132.1 96.8h5.6m-2.8-2.8v5.6M279.9 150.3h5.6m-2.8-2.8v5.6M161.1 112.6h5.6m-2.8-2.8v5.6M275.1 135.1h5.6m-2.8-2.8v5.6M266.0 111.9h5.6m-2.8-2.8v5.6M234.8 109.5h5.6m-2.8-2.8v5.6M318.2 150.8h5.6m-2.8-2.8v5.6M193.1 98.7h5.6m-2.8-2.8v5.6M292.7 127.3h5.6m-2.8-2.8v5.6M198.4 81.0h5.6m-2.8-2.8v5.6M110.0 72.8h5.6m-2.8-2.8v5.6M287.5 125.7h5.6m-2.8-2.8v5.6M233.8 103.9h5.6m-2.8-2.8v5.6M100.1 100.8h5.6m-2.8-2.8v5.6M177.3 95.7h5.6m-2.8-2.8v5.6M248.6 96.9h5.6m-2.8-2.8v5.6M78.1 69.9h5.6m-2.8-2.8v5.6M286.1 137.1h5.6m-2.8-2.8v5.6M317.5 104.2h5.6m-2.8-2.8v5.6M206.5 91.3h5.6m-2.8-2.8v5.6M72.4 75.7h5.6m-2.8-2.8v5.6M318.5 116.8h5.6m-2.8-2.8v5.6M235.0 82.8h5.6m-2.8-2.8v5.6M311.2 130.8h5.6m-2.8-2.8v5.6M274.5 103.6h5.6m-2.8-2.8v5.6M101.2 79.1h5.6m-2.8-2.8v5.6M137.1 58.6h5.6m-2.8-2.8v5.6M281.5 120.2h5.6m-2.8-2.8v5.6M289.7 139.0h5.6m-2.8-2.8v5.6M315.8 145.6h5.6m-2.8-2.8v5.6M319.2 146.5h5.6m-2.8-2.8v5.6M221.3 98.9h5.6m-2.8-2.8v5.6M241.4 122.7h5.6m-2.8-2.8v5.6M196.7 75.1h5.6m-2.8-2.8v5.6M264.0 109.1h5.6m-2.8-2.8v5.6M94.9 76.9h5.6m-2.8-2.8v5.6M142.8 61.6h5.6m-2.8-2.8v5.6M196.8 74.8h5.6m-2.8-2.8v5.6M317.8 138.1h5.6m-2.8-2.8v5.6M303.6 124.0h5.6m-2.8-2.8v5.6M232.0 97.4h5.6m-2.8-2.8v5.6M220.4 102.0h5.6m-2.8-2.8v5.6M174.3 98.8h5.6m-2.8-2.8v5.6M331.6 139.1h5.6m-2.8-2.8v5.6M271.4 93.2h5.6m-2.8-2.8v5.6M142.3 64.5h5.6m-2.8-2.8v5.6M172.9 70.7h5.6m-2.8-2.8v5.6M75.0 79.0h5.6m-2.8-2.8v5.6M225.8 99.2h5.6m-2.8-2.8v5.6M325.2 144.8h5.6m-2.8-2.8v5.6M288.2 131.0h5.6m-2.8-2.8v5.6M301.4 132.4h5.6m-2.8-2.8v5.6M193.1 65.2h5.6m-2.8-2.8v5.6M155.4 100.1h5.6m-2.8-2.8v5.6M296.3 126.5h5.6m-2.8-2.8v5.6M262.0 84.6h5.6m-2.8-2.8v5.6M297.1 124.9h5.6m-2.8-2.8v5.6M133.4 107.0h5.6m-2.8-2.8v5.6M144.0 77.2h5.6m-2.8-2.8v5.6M303.3 133.0h5.6m-2.8-2.8v5.6M319.7 139.9h5.6m-2.8-2.8v5.6M313.0 148.3h5.6m-2.8-2.8v5.6M321.4 129.2h5.6m-2.8-2.8v5.6M249.1 109.9h5.6m-2.8-2.8v5.6M241.8 119.0h5.6m-2.8-2.8v5.6M326.2 128.6h5.6m-2.8-2.8v5.6M218.7 108.5h5.6m-2.8-2.8v5.6M89.2 84.1h5.6m-2.8-2.8v5.6M255.4 140.7h5.6m-2.8-2.8v5.6M284.5 111.3h5.6m-2.8-2.8v5.6M234.3 108.1h5.6m-2.8-2.8v5.6M179.5 75.5h5.6m-2.8-2.8v5.6M226.1 118.5h5.6m-2.8-2.8v5.6M313.8 105.6h5.6m-2.8-2.8v5.6M322.5 147.4h5.6m-2.8-2.8v5.6M78.9 78.2h5.6m-2.8-2.8v5.6M296.6 109.1h5.6m-2.8-2.8v5.6M314.7 115.6h5.6m-2.8-2.8v5.6M234.1 86.4h5.6m-2.8-2.8v5.6M198.5 108.2h5.6m-2.8-2.8v5.6M253.9 99.4h5.6m-2.8-2.8v5.6M273.4 112.2h5.6m-2.8-2.8v5.6M314.1 139.7h5.6m-2.8-2.8v5.6M188.9 106.0h5.6m-2.8-2.8v5.6M98.5 95.9h5.6m-2.8-2.8v5.6M294.0 117.3h5.6m-2.8-2.8v5.6M154.6 76.5h5.6m-2.8-2.8v5.6M307.2 137.3h5.6m-2.8-2.8v5.6M121.8 97.9h5.6m-2.8-2.8v5.6M169.7 97.9h5.6m-2.8-2.8v5.6M281.2 128.2h5.6m-2.8-2.8v5.6M308.2 123.8h5.6m-2.8-2.8v5.6M132.8 93.0h5.6m-2.8-2.8v5.6M204.0 95.9h5.6m-2.8-2.8v5.6M213.2 94.5h5.6m-2.8-2.8v5.6M278.0 103.6h5.6m-2.8-2.8v5.6M274.5 116.6h5.6m-2.8-2.8v5.6M162.7 87.8h5.6m-2.8-2.8v5.6M77.7 73.8h5.6m-2.8-2.8v5.6M312.8 128.3h5.6m-2.8-2.8v5.6M308.2 104.8h5.6m-2.8-2.8v5.6M280.3 84.7h5.6m-2.8-2.8v5.6M295.2 138.5h5.6m-2.8-2.8v5.6M278.0 131.5h5.6m-2.8-2.8v5.6M164.1 97.5h5.6m-2.8-2.8v5.6M118.1 94.4h5.6m-2.8-2.8v5.6M210.0 72.8h5.6m-2.8-2.8v5.6M145.2 110.3h5.6m-2.8-2.8v5.6M109.2 81.7h5.6m-2.8-2.8v5.6M98.9 93.6h5.6m-2.8-2.8v5.6M201.9 112.8h5.6m-2.8-2.8v5.6M80.7 92.9h5.6m-2.8-2.8v5.6M295.3 113.4h5.6m-2.8-2.8v5.6M246.2 103.5h5.6m-2.8-2.8v5.6M152.6 78.5h5.6m-2.8-2.8v5.6M73.0 80.1h5.6m-2.8-2.8v5.6M267.6 86.6h5.6m-2.8-2.8v5.6M105.1 87.0h5.6m-2.8-2.8v5.6M152.8 67.8h5.6m-2.8-2.8v5.6M340.7 146.1h5.6m-2.8-2.8v5.6M80.8 96.6h5.6m-2.8-2.8v5.6M278.0 137.7h5.6m-2.8-2.8v5.6M323.3 129.5h5.6m-2.8-2.8v5.6M119.1 103.2h5.6m-2.8-2.8v5.6M252.8 99.0h5.6m-2.8-2.8v5.6M252.3 113.3h5.6m-2.8-2.8v5.6M145.4 87.1h5.6m-2.8-2.8v5.6M128.2 87.1h5.6m-2.8-2.8v5.6M101.5 63.5h5.6m-2.8-2.8v5.6M253.0 115.3h5.6m-2.8-2.8v5.6M174.5 78.3h5.6m-2.8-2.8v5.6M129.3 88.2h5.6m-2.8-2.8v5.6M105.0 78.4h5.6m-2.8-2.8v5.6M285.6 120.0h5.6m-2.8-2.8v5.6M141.3 94.0h5.6m-2.8-2.8v5.6M189.8 99.1h5.6m-2.8-2.8v5.6M94.6 69.8h5.6m-2.8-2.8v5.6M129.4 88.7h5.6m-2.8-2.8v5.6M123.4 79.2h5.6m-2.8-2.8v5.6M316.3 138.0h5.6m-2.8-2.8v5.6M157.1 83.5h5.6m-2.8-2.8v5.6M206.4 96.2h5.6m-2.8-2.8v5.6M142.4 98.0h5.6m-2.8-2.8v5.6M231.0 78.8h5.6m-2.8-2.8v5.6M306.4 151.6h5.6m-2.8-2.8v5.6M173.3 91.2h5.6m-2.8-2.8v5.6M211.6 112.5h5.6m-2.8-2.8v5.6M211.9 101.5h5.6m-2.8-2.8v5.6M182.7 90.6h5.6m-2.8-2.8v5.6M188.7 89.1h5.6m-2.8-2.8v5.6M276.7 112.3h5.6m-2.8-2.8v5.6M314.7 117.7h5.6m-2.8-2.8v5.6M255.4 141.2h5.6m-2.8-2.8v5.6M302.1 135.3h5.6m-2.8-2.8v5.6M318.8 136.3h5.6m-2.8-2.8v5.6M292.0 123.2h5.6m-2.8-2.8v5.6M111.7 73.9h5.6m-2.8-2.8v5.6M212.1 90.8h5.6m-2.8-2.8v5.6M213.8 89.0h5.6m-2.8-2.8v5.6M300.1 154.1h5.6m-2.8-2.8v5.6M268.7 117.6h5.6m-2.8-2.8v5.6M116.3 72.1h5.6m-2.8-2.8v5.6M307.0 136.1h5.6m-2.8-2.8v5.6M225.0 105.6h5.6m-2.8-2.8v5.6M277.4 138.0h5.6m-2.8-2.8v5.6M282.1 132.8h5.6m-2.8-2.8v5.6M281.8 123.7h5.6m-2.8-2.8v5.6M281.5 110.0h5.6m-2.8-2.8v5.6M259.0 109.0h5.6m-2.8-2.8v5.6M110.9 86.7h5.6m-2.8-2.8v5.6M340.6 128.5h5.6m-2.8-2.8v5.6M177.7 99.8h5.6m-2.8-2.8v5.6M246.3 96.0h5.6m-2.8-2.8v5.6M132.0 114.4h5.6m-2.8-2.8v5.6M297.2 127.8h5.6m-2.8-2.8v5.6M312.5 114.4h5.6m-2.8-2.8v5.6M315.7 130.1h5.6m-2.8-2.8v5.6M253.7 129.3h5.6m-2.8-2.8v5.6M178.4 111.1h5.6m-2.8-2.8v5.6M271.7 102.0h5.6m-2.8-2.8v5.6M192.3 96.6h5.6m-2.8-2.8v5.6M304.3 150.5h5.6m-2.8-2.8v5.6M335.5 134.7h5.6m-2.8-2.8v5.6M221.2 69.9h5.6m-2.8-2.8v5.6M307.8 124.3h5.6m-2.8-2.8v5.6M215.4 88.8h5.6m-2.8-2.8v5.6M88.5 89.2h5.6m-2.8-2.8v5.6M295.9 129.4h5.6m-2.8-2.8v5.6M289.1 136.2h5.6m-2.8-2.8v5.6M147.8 73.7h5.6m-2.8-2.8v5.6M113.8 93.5h5.6m-2.8-2.8v5.6M296.9 101.9h5.6m-2.8-2.8v5.6M301.0 148.3h5.6m-2.8-2.8v5.6M283.1 105.9h5.6m-2.8-2.8v5.6M130.9 86.5h5.6m-2.8-2.8v5.6M299.9 117.1h5.6m-2.8-2.8v5.6M261.9 120.6h5.6m-2.8-2.8v5.6M258.4 108.1h5.6m-2.8-2.8v5.6M275.6 141.2h5.6m-2.8-2.8v5.6M154.1 81.6h5.6m-2.8-2.8v5.6M95.8 75.2h5.6m-2.8-2.8v5.6M307.2 134.8h5.6m-2.8-2.8v5.6M247.5 113.9h5.6m-2.8-2.8v5.6M265.8 168.5h5.6m-2.8-2.8v5.6M229.3 103.3h5.6m-2.8-2.8v5.6M213.2 87.0h5.6m-2.8-2.8v5.6M114.0 82.4h5.6m-2.8-2.8v5.6M119.8 90.1h5.6m-2.8-2.8v5.6M113.8 85.1h5.6m-2.8-2.8v5.6M173.8 109.9h5.6m-2.8-2.8v5.6M294.0 109.4h5.6m-2.8-2.8v5.6M220.3 108.1h5.6m-2.8-2.8v5.6M282.3 153.4h5.6m-2.8-2.8v5.6M250.0 129.1h5.6m-2.8-2.8v5.6M271.4 97.5h5.6m-2.8-2.8v5.6M253.9 125.8h5.6m-2.8-2.8v5.6M321.7 125.7h5.6m-2.8-2.8v5.6M193.6 109.1h5.6m-2.8-2.8v5.6M121.2 83.2h5.6m-2.8-2.8v5.6M332.7 128.8h5.6m-2.8-2.8v5.6M308.9 137.6h5.6m-2.8-2.8v5.6M135.4 92.9h5.6m-2.8-2.8v5.6M196.5 78.0h5.6m-2.8-2.8v5.6M188.4 96.3h5.6m-2.8-2.8v5.6M296.7 130.7h5.6m-2.8-2.8v5.6M322.9 133.1h5.6m-2.8-2.8v5.6M217.0 112.9h5.6m-2.8-2.8v5.6M190.4 107.3h5.6m-2.8-2.8v5.6M117.9 52.1h5.6m-2.8-2.8v5.6M326.8 135.8h5.6m-2.8-2.8v5.6M303.1 130.4h5.6m-2.8-2.8v5.6M242.3 108.2h5.6m-2.8-2.8v5.6M303.5 131.9h5.6m-2.8-2.8v5.6M309.1 126.4h5.6m-2.8-2.8v5.6M230.8 103.9h5.6m-2.8-2.8v5.6M271.7 133.2h5.6m-2.8-2.8v5.6M208.0 116.6h5.6m-2.8-2.8v5.6M171.5 67.0h5.6m-2.8-2.8v5.6M222.1 94.3h5.6m-2.8-2.8v5.6M275.7 116.4h5.6m-2.8-2.8v5.6M144.0 73.0h5.6m-2.8-2.8v5.6M90.2 85.8h5.6m-2.8-2.8v5.6M332.0 117.2h5.6m-2.8-2.8v5.6M286.9 122.1h5.6m-2.8-2.8v5.6M286.5 145.5h5.6m-2.8-2.8v5.6M302.1 159.1h5.6m-2.8-2.8v5.6M139.7 94.3h5.6m-2.8-2.8v5.6M242.6 122.5h5.6m-2.8-2.8v5.6M311.3 125.8h5.6m-2.8-2.8v5.6M323.1 132.3h5.6m-2.8-2.8v5.6M203.3 110.3h5.6m-2.8-2.8v5.6M279.2 132.4h5.6m-2.8-2.8v5.6M71.0 78.8h5.6m-2.8-2.8v5.6M317.8 142.4h5.6m-2.8-2.8v5.6M298.8 123.9h5.6m-2.8-2.8v5.6M249.5 98.0h5.6m-2.8-2.8v5.6M199.8 82.2h5.6m-2.8-2.8v5.6M153.5 83.5h5.6m-2.8-2.8v5.6M270.2 100.6h5.6m-2.8-2.8v5.6M160.2 76.1h5.6m-2.8-2.8v5.6M296.3 138.3h5.6m-2.8-2.8v5.6M298.8 148.0h5.6m-2.8-2.8v5.6M91.6 74.6h5.6m-2.8-2.8v5.6M171.4 100.3h5.6m-2.8-2.8v5.6M292.9 131.7h5.6m-2.8-2.8v5.6M295.8 140.6h5.6m-2.8-2.8v5.6M232.5 113.9h5.6m-2.8-2.8v5.6M89.1 94.7h5.6m-2.8-2.8v5.6M70.2 72.2h5.6m-2.8-2.8v5.6M225.7 104.9h5.6m-2.8-2.8v5.6M222.9 123.5h5.6m-2.8-2.8v5.6M239.7 129.0h5.6m-2.8-2.8v5.6M251.6 102.1h5.6m-2.8-2.8v5.6M261.8 126.0h5.6m-2.8-2.8v5.6M227.8 81.3h5.6m-2.8-2.8v5.6M81.4 67.4h5.6m-2.8-2.8v5.6M93.6 72.4h5.6m-2.8-2.8v5.6M197.8 95.0h5.6m-2.8-2.8v5.6M302.9 134.1h5.6m-2.8-2.8v5.6M114.0 86.0h5.6m-2.8-2.8v5.6M310.3 158.3h5.6m-2.8-2.8v5.6M256.0 96.2h5.6m-2.8-2.8v5.6M318.1 127.6h5.6m-2.8-2.8v5.6M200.5 100.5h5.6m-2.8-2.8v5.6M286.2 124.0h5.6m-2.8-2.8v5.6M311.5 120.1h5.6m-2.8-2.8v5.6M327.7 128.3h5.6m-2.8-2.8v5.6M71.6 91.9h5.6m-2.8-2.8v5.6M180.3 86.5h5.6m-2.8-2.8v5.6M296.4 96.3h5.6m-2.8-2.8v5.6M128.4 91.7h5.6m-2.8-2.8v5.6M316.1 144.6h5.6m-2.8-2.8v5.6M135.5 112.9h5.6m-2.8-2.8v5.6M266.3 130.6h5.6m-2.8-2.8v5.6M165.6 98.4h5.6m-2.8-2.8v5.6M276.2 137.3h5.6m-2.8-2.8v5.6M317.9 123.9h5.6m-2.8-2.8v5.6M304.0 138.7h5.6m-2.8-2.8v5.6M224.3 116.0h5.6m-2.8-2.8v5.6M206.2 102.1h5.6m-2.8-2.8v5.6M280.4 99.4h5.6m-2.8-2.8v5.6M283.9 106.4h5.6m-2.8-2.8v5.6M315.6 126.3h5.6m-2.8-2.8v5.6M97.5 91.5h5.6m-2.8-2.8v5.6M201.3 97.5h5.6m-2.8-2.8v5.6M262.5 149.4h5.6m-2.8-2.8v5.6M326.7 145.0h5.6m-2.8-2.8v5.6M164.0 97.2h5.6m-2.8-2.8v5.6M298.4 147.0h5.6m-2.8-2.8v5.6M256.7 120.0h5.6m-2.8-2.8v5.6M110.2 100.0h5.6m-2.8-2.8v5.6M112.0 77.3h5.6m-2.8-2.8v5.6M311.7 144.5h5.6m-2.8-2.8v5.6M298.2 159.9h5.6m-2.8-2.8v5.6M88.1 61.6h5.6m-2.8-2.8v5.6M218.9 102.4h5.6m-2.8-2.8v5.6M186.5 97.4h5.6m-2.8-2.8v5.6M310.1 140.0h5.6m-2.8-2.8v5.6M294.9 127.4h5.6m-2.8-2.8v5.6M258.5 106.2h5.6m-2.8-2.8v5.6M314.5 141.7h5.6m-2.8-2.8v5.6M281.9 120.8h5.6m-2.8-2.8v5.6M92.9 73.9h5.6m-2.8-2.8v5.6M151.6 66.3h5.6m-2.8-2.8v5.6M161.9 85.7h5.6m-2.8-2.8v5.6M219.8 101.8h5.6m-2.8-2.8v5.6M143.4 102.6h5.6m-2.8-2.8v5.6M165.1 76.7h5.6m-2.8-2.8v5.6M309.7 133.2h5.6m-2.8-2.8v5.6M315.6 133.7h5.6m-2.8-2.8v5.6M235.8 67.4h5.6m-2.8-2.8v5.6M298.1 134.8h5.6m-2.8-2.8v5.6M322.7 128.9h5.6m-2.8-2.8v5.6M284.6 124.1h5.6m-2.8-2.8v5.6M100.1 63.4h5.6m-2.8-2.8v5.6M236.6 77.6h5.6m-2.8-2.8v5.6M67.2 82.0h5.6m-2.8-2.8v5.6M317.0 125.0h5.6m-2.8-2.8v5.6M304.0 143.8h5.6m-2.8-2.8v5.6M271.2 134.3h5.6m-2.8-2.8v5.6M180.5 98.7h5.6m-2.8-2.8v5.6M306.8 134.2h5.6m-2.8-2.8v5.6M107.9 88.0h5.6m-2.8-2.8v5.6M284.5 104.2h5.6m-2.8-2.8v5.6M129.1 73.3h5.6m-2.8-2.8v5.6M288.3 126.9h5.6m-2.8-2.8v5.6M110.7 94.4h5.6m-2.8-2.8v5.6M312.8 159.8h5.6m-2.8-2.8v5.6M68.2 84.5h5.6m-2.8-2.8v5.6M311.7 134.9h5.6m-2.8-2.8v5.6M308.2 149.4h5.6m-2.8-2.8v5.6M235.9 90.5h5.6m-2.8-2.8v5.6M270.7 97.8h5.6m-2.8-2.8v5.6M268.5 139.0h5.6m-2.8-2.8v5.6M337.2 138.6h5.6m-2.8-2.8v5.6M286.5 134.1h5.6m-2.8-2.8v5.6M293.9 133.6h5.6m-2.8-2.8v5.6M164.0 63.9h5.6m-2.8-2.8v5.6M307.5 131.8h5.6m-2.8-2.8v5.6M276.8 115.1h5.6m-2.8-2.8v5.6M288.2 155.1h5.6m-2.8-2.8v5.6M111.4 74.7h5.6m-2.8-2.8v5.6M294.1 158.3h5.6m-2.8-2.8v5.6M279.6 123.6h5.6m-2.8-2.8v5.6M281.3 140.8h5.6m-2.8-2.8v5.6M251.6 115.6h5.6m-2.8-2.8v5.6M114.7 98.9h5.6m-2.8-2.8v5.6M320.1 146.1h5.6m-2.8-2.8v5.6M272.3 111.9h5.6m-2.8-2.8v5.6M307.2 122.5h5.6m-2.8-2.8v5.6M272.5 115.7h5.6m-2.8-2.8v5.6M274.2 123.0h5.6m-2.8-2.8v5.6M311.4 124.5h5.6m-2.8-2.8v5.6M140.2 99.5h5.6m-2.8-2.8v5.6M289.2 144.2h5.6m-2.8-2.8v5.6M88.9 77.3h5.6m-2.8-2.8v5.6M92.4 74.3h5.6m-2.8-2.8v5.6M308.6 138.9h5.6m-2.8-2.8v5.6M232.7 102.7h5.6m-2.8-2.8v5.6M206.3 100.1h5.6m-2.8-2.8v5.6M298.2 128.7h5.6m-2.8-2.8v5.6M168.9 69.2h5.6m-2.8-2.8v5.6M108.7 79.5h5.6m-2.8-2.8v5.6M170.8 60.7h5.6m-2.8-2.8v5.6M299.0 123.3h5.6m-2.8-2.8v5.6M113.6 93.2h5.6m-2.8-2.8v5.6M85.8 91.4h5.6m-2.8-2.8v5.6M300.7 135.2h5.6m-2.8-2.8v5.6M169.4 67.7h5.6m-2.8-2.8v5.6M120.5 89.6h5.6m-2.8-2.8v5.6M236.7 96.0h5.6m-2.8-2.8v5.6M87.6 76.4h5.6m-2.8-2.8v5.6M250.6 113.9h5.6m-2.8-2.8v5.6M163.8 70.1h5.6m-2.8-2.8v5.6M299.5 141.0h5.6m-2.8-2.8v5.6M249.7 99.9h5.6m-2.8-2.8v5.6M235.2 88.3h5.6m-2.8-2.8v5.6M190.0 95.8h5.6m-2.8-2.8v5.6M245.9 113.6h5.6m-2.8-2.8v5.6M315.8 136.7h5.6m-2.8-2.8v5.6M333.0 145.7h5.6m-2.8-2.8v5.6M186.5 102.7h5.6m-2.8-2.8v5.6M334.3 133.0h5.6m-2.8-2.8v5.6M285.2 130.0h5.6m-2.8-2.8v5.6M156.1 100.6h5.6m-2.8-2.8v5.6M233.6 88.6h5.6m-2.8-2.8v5.6M147.4 98.0h5.6m-2.8-2.8v5.6M206.5 98.8h5.6m-2.8-2.8v5.6M101.4 59.3h5.6m-2.8-2.8v5.6M222.0 57.6h5.6m-2.8-2.8v5.6M299.4 148.2h5.6m-2.8-2.8v5.6M170.3 97.0h5.6m-2.8-2.8v5.6M239.8 97.2h5.6m-2.8-2.8v5.6M111.2 69.1h5.6m-2.8-2.8v5.6M247.6 135.6h5.6m-2.8-2.8v5.6M109.2 66.5h5.6m-2.8-2.8v5.6M249.1 112.5h5.6m-2.8-2.8v5.6M58.9 81.8h5.6m-2.8-2.8v5.6M97.1 73.3h5.6m-2.8-2.8v5.6M323.9 144.8h5.6m-2.8-2.8v5.6M263.6 111.6h5.6m-2.8-2.8v5.6M310.3 136.7h5.6m-2.8-2.8v5.6M319.8 141.5h5.6m-2.8-2.8v5.6M113.6 72.3h5.6m-2.8-2.8v5.6M301.2 122.8h5.6m-2.8-2.8v5.6M133.8 93.0h5.6m-2.8-2.8v5.6M142.1 82.7h5.6m-2.8-2.8v5.6M274.8 127.3h5.6m-2.8-2.8v5.6M316.5 155.7h5.6m-2.8-2.8v5.6M275.6 127.8h5.6m-2.8-2.8v5.6M324.8 145.8h5.6m-2.8-2.8v5.6M96.7 88.4h5.6m-2.8-2.8v5.6M258.8 116.2h5.6m-2.8-2.8v5.6M228.3 110.3h5.6m-2.8-2.8v5.6M143.2 85.9h5.6m-2.8-2.8v5.6M292.1 143.5h5.6m-2.8-2.8v5.6M98.8 76.2h5.6m-2.8-2.8v5.6M158.9 93.6h5.6m-2.8-2.8v5.6M166.7 101.5h5.6m-2.8-2.8v5.6M290.5 122.4h5.6m-2.8-2.8v5.6M315.2 150.1h5.6m-2.8-2.8v5.6M211.7 140.8h5.6m-2.8-2.8v5.6M245.5 117.0h5.6m-2.8-2.8v5.6M297.4 147.2h5.6m-2.8-2.8v5.6M306.8 142.0h5.6m-2.8-2.8v5.6M119.9 66.7h5.6m-2.8-2.8v5.6M69.2 81.8h5.6m-2.8-2.8v5.6M195.1 94.8h5.6m-2.8-2.8v5.6M215.6 90.3h5.6m-2.8-2.8v5.6M339.5 135.5h5.6m-2.8-2.8v5.6M117.5 99.5h5.6m-2.8-2.8v5.6M124.0 94.4h5.6m-2.8-2.8v5.6M257.3 118.7h5.6m-2.8-2.8v5.6M170.4 90.5h5.6m-2.8-2.8v5.6M294.1 101.2h5.6m-2.8-2.8v5.6M251.5 124.4h5.6m-2.8-2.8v5.6M321.9 140.3h5.6m-2.8-2.8v5.6M285.5 131.9h5.6m-2.8-2.8v5.6M109.0 80.6h5.6m-2.8-2.8v5.6M319.1 117.0h5.6m-2.8-2.8v5.6M93.8 83.4h5.6m-2.8-2.8v5.6M190.4 110.2h5.6m-2.8-2.8v5.6M103.5 68.0h5.6m-2.8-2.8v5.6M294.1 137.9h5.6m-2.8-2.8v5.6M291.7 126.4h5.6m-2.8-2.8v5.6M292.9 124.8h5.6m-2.8-2.8v5.6M282.2 120.9h5.6m-2.8-2.8v5.6M133.0 88.1h5.6m-2.8-2.8v5.6M324.4 123.9h5.6m-2.8-2.8v5.6M253.9 124.7h5.6m-2.8-2.8v5.6M251.3 115.2h5.6m-2.8-2.8v5.6M339.8 153.0h5.6m-2.8-2.8v5.6M259.5 127.3h5.6m-2.8-2.8v5.6M103.5 99.3h5.6m-2.8-2.8v5.6M248.7 137.0h5.6m-2.8-2.8v5.6M230.7 85.8h5.6m-2.8-2.8v5.6M90.4 88.8h5.6m-2.8-2.8v5.6M302.2 129.8h5.6m-2.8-2.8v5.6M171.1 94.0h5.6m-2.8-2.8v5.6M276.8 124.7h5.6m-2.8-2.8v5.6M173.2 91.8h5.6m-2.8-2.8v5.6M283.1 123.5h5.6m-2.8-2.8v5.6M105.1 91.7h5.6m-2.8-2.8v5.6M77.4 83.7h5.6m-2.8-2.8v5.6M279.0 102.8h5.6m-2.8-2.8v5.6M321.4 125.8h5.6m-2.8-2.8v5.6M143.6 94.4h5.6m-2.8-2.8v5.6M209.3 102.3h5.6m-2.8-2.8v5.6M236.3 113.8h5.6m-2.8-2.8v5.6M115.7 98.4h5.6m-2.8-2.8v5.6M157.7 72.2h5.6m-2.8-2.8v5.6M266.7 101.3h5.6m-2.8-2.8v5.6M272.8 111.9h5.6m-2.8-2.8v5.6M124.3 66.6h5.6m-2.8-2.8v5.6M171.6 91.5h5.6m-2.8-2.8v5.6M75.6 69.4h5.6m-2.8-2.8v5.6M273.6 125.2h5.6m-2.8-2.8v5.6M306.3 129.8h5.6m-2.8-2.8v5.6M262.3 85.7h5.6m-2.8-2.8v5.6M278.6 102.7h5.6m-2.8-2.8v5.6M208.1 101.5h5.6m-2.8-2.8v5.6M323.2 147.4h5.6m-2.8-2.8v5.6M100.1 60.9h5.6m-2.8-2.8v5.6M220.6 102.2h5.6m-2.8-2.8v5.6M275.9 116.6h5.6m-2.8-2.8v5.6M231.5 120.3h5.6m-2.8-2.8v5.6M281.2 126.9h5.6m-2.8-2.8v5.6M316.5 137.2h5.6m-2.8-2.8v5.6M262.4 92.3h5.6m-2.8-2.8v5.6M325.4 146.0h5.6m-2.8-2.8v5.6M200.7 83.3h5.6m-2.8-2.8v5.6M322.9 120.3h5.6m-2.8-2.8v5.6M175.1 79.5h5.6m-2.8-2.8v5.6M242.2 131.3h5.6m-2.8-2.8v5.6M265.6 82.7h5.6m-2.8-2.8v5.6M281.9 115.8h5.6m-2.8-2.8v5.6M119.5 89.4h5.6m-2.8-2.8v5.6M82.9 93.4h5.6m-2.8-2.8v5.6M308.3 137.1h5.6m-2.8-2.8v5.6M204.8 99.8h5.6m-2.8-2.8v5.6M170.6 85.9h5.6m-2.8-2.8v5.6M294.5 127.5h5.6m-2.8-2.8v5.6M192.2 83.1h5.6m-2.8-2.8v5.6M111.2 107.0h5.6m-2.8-2.8v5.6M137.8 65.0h5.6m-2.8-2.8v5.6M103.3 71.1h5.6m-2.8-2.8v5.6M229.1 114.7h5.6m-2.8-2.8v5.6M275.0 116.5h5.6m-2.8-2.8v5.6M217.4 103.8h5.6m-2.8-2.8v5.6M181.3 72.4h5.6m-2.8-2.8v5.6M254.7 107.4h5.6m-2.8-2.8v5.6M242.1 102.0h5.6m-2.8-2.8v5.6M155.4 56.0h5.6m-2.8-2.8v5.6M303.8 134.7h5.6m-2.8-2.8v5.6M237.0 85.9h5.6m-2.8-2.8v5.6M215.7 105.0h5.6m-2.8-2.8v5.6M277.6 131.2h5.6m-2.8-2.8v5.6M245.7 103.4h5.6m-2.8-2.8v5.6M306.8 158.1h5.6m-2.8-2.8v5.6M281.6 130.4h5.6m-2.8-2.8v5.6M260.0 112.9h5.6m-2.8-2.8v5.6M261.5 135.0h5.6m-2.8-2.8v5.6M86.4 72.9h5.6m-2.8-2.8v5.6M101.0 77.9h5.6m-2.8-2.8v5.6M157.9 81.1h5.6m-2.8-2.8v5.6M265.7 134.2h5.6m-2.8-2.8v5.6M254.7 138.7h5.6m-2.8-2.8v5.6M264.7 102.1h5.6m-2.8-2.8v5.6M259.9 109.0h5.6m-2.8-2.8v5.6M183.0 110.4h5.6m-2.8-2.8v5.6M182.8 105.7h5.6m-2.8-2.8v5.6M285.6 125.0h5.6m-2.8-2.8v5.6M119.6 73.1h5.6m-2.8-2.8v5.6M143.5 79.8h5.6m-2.8-2.8v5.6M130.9 84.8h5.6m-2.8-2.8v5.6M239.8 100.9h5.6m-2.8-2.8v5.6M91.5 83.4h5.6m-2.8-2.8v5.6M263.7 107.8h5.6m-2.8-2.8v5.6M216.4 89.8h5.6m-2.8-2.8v5.6M187.8 93.9h5.6m-2.8-2.8v5.6M223.5 105.0h5.6m-2.8-2.8v5.6M320.2 138.6h5.6m-2.8-2.8v5.6M224.5 101.1h5.6m-2.8-2.8v5.6M265.7 102.6h5.6m-2.8-2.8v5.6M79.5 86.5h5.6m-2.8-2.8v5.6M102.6 62.0h5.6m-2.8-2.8v5.6M110.0 77.8h5.6m-2.8-2.8v5.6M273.5 117.4h5.6m-2.8-2.8v5.6M303.9 135.0h5.6m-2.8-2.8v5.6M160.1 78.4h5.6m-2.8-2.8v5.6M107.4 109.2h5.6m-2.8-2.8v5.6M288.4 143.9h5.6m-2.8-2.8v5.6M289.6 103.8h5.6m-2.8-2.8v5.6M282.8 97.9h5.6m-2.8-2.8v5.6M167.1 89.6h5.6m-2.8-2.8v5.6M235.0 122.7h5.6m-2.8-2.8v5.6M268.0 102.6h5.6m-2.8-2.8v5.6M183.5 92.8h5.6m-2.8-2.8v5.6M119.7 83.1h5.6m-2.8-2.8v5.6M84.2 63.4h5.6m-2.8-2.8v5.6M276.5 123.9h5.6m-2.8-2.8v5.6M227.1 109.3h5.6m-2.8-2.8v5.6M252.5 110.7h5.6m-2.8-2.8v5.6M197.4 78.3h5.6m-2.8-2.8v5.6M201.2 128.5h5.6m-2.8-2.8v5.6M285.0 133.6h5.6m-2.8-2.8v5.6M300.1 154.3h5.6m-2.8-2.8v5.6M116.4 69.9h5.6m-2.8-2.8v5.6M319.5 131.7h5.6m-2.8-2.8v5.6M273.9 117.0h5.6m-2.8-2.8v5.6M87.9 102.0h5.6m-2.8-2.8v5.6M255.7 101.7h5.6m-2.8-2.8v5.6M126.6 78.5h5.6m-2.8-2.8v5.6M280.6 133.9h5.6m-2.8-2.8v5.6M224.3 106.0h5.6m-2.8-2.8v5.6M262.8 94.6h5.6m-2.8-2.8v5.6M182.4 90.9h5.6m-2.8-2.8v5.6M314.8 127.5h5.6m-2.8-2.8v5.6M71.7 88.9h5.6m-2.8-2.8v5.6M317.0 143.1h5.6m-2.8-2.8v5.6M305.9 118.5h5.6m-2.8-2.8v5.6M132.0 56.8h5.6m-2.8-2.8v5.6M146.2 96.9h5.6m-2.8-2.8v5.6M71.4 93.5h5.6m-2.8-2.8v5.6M173.4 96.5h5.6m-2.8-2.8v5.6M204.3 98.9h5.6m-2.8-2.8v5.6M174.8 89.7h5.6m-2.8-2.8v5.6M173.9 85.0h5.6m-2.8-2.8v5.6M301.4 137.8h5.6m-2.8-2.8v5.6M85.9 49.8h5.6m-2.8-2.8v5.6M166.5 93.8h5.6m-2.8-2.8v5.6M308.8 136.4h5.6m-2.8-2.8v5.6M297.2 122.7h5.6m-2.8-2.8v5.6M325.4 143.9h5.6m-2.8-2.8v5.6M289.4 138.7h5.6m-2.8-2.8v5.6M197.6 104.5h5.6m-2.8-2.8v5.6M191.8 99.2h5.6m-2.8-2.8v5.6M205.5 89.1h5.6m-2.8-2.8v5.6M82.9 84.0h5.6m-2.8-2.8v5.6M110.8 73.3h5.6m-2.8-2.8v5.6M79.4 63.2h5.6m-2.8-2.8v5.6M90.5 78.4h5.6m-2.8-2.8v5.6M180.1 110.9h5.6m-2.8-2.8v5.6M247.5 122.9h5.6m-2.8-2.8v5.6M300.6 142.7h5.6m-2.8-2.8v5.6M275.2 135.4h5.6m-2.8-2.8v5.6M317.2 143.0h5.6m-2.8-2.8v5.6M175.0 109.6h5.6m-2.8-2.8v5.6M162.8 73.1h5.6m-2.8-2.8v5.6M326.4 120.2h5.6m-2.8-2.8v5.6M74.9 87.4h5.6m-2.8-2.8v5.6M304.7 119.2h5.6m-2.8-2.8v5.6M108.0 81.3h5.6m-2.8-2.8v5.6M216.2 104.2h5.6m-2.8-2.8v5.6M240.5 108.1h5.6m-2.8-2.8v5.6M159.1 88.8h5.6m-2.8-2.8v5.6M102.4 107.0h5.6m-2.8-2.8v5.6M256.6 125.8h5.6m-2.8-2.8v5.6M93.7 83.4h5.6m-2.8-2.8v5.6M246.0 94.7h5.6m-2.8-2.8v5.6M288.2 134.3h5.6m-2.8-2.8v5.6M171.9 72.4h5.6m-2.8-2.8v5.6M79.8 69.8h5.6m-2.8-2.8v5.6M115.2 66.6h5.6m-2.8-2.8v5.6M94.6 53.7h5.6m-2.8-2.8v5.6M313.9 127.0h5.6m-2.8-2.8v5.6M163.6 94.4h5.6m-2.8-2.8v5.6M107.0 78.2h5.6m-2.8-2.8v5.6M324.1 140.9h5.6m-2.8-2.8v5.6M306.0 132.6h5.6m-2.8-2.8v5.6M155.9 93.9h5.6m-2.8-2.8v5.6M225.6 96.5h5.6m-2.8-2.8v5.6M201.3 86.0h5.6m-2.8-2.8v5.6M141.3 80.7h5.6m-2.8-2.8v5.6M168.1 81.2h5.6m-2.8-2.8v5.6M219.9 105.7h5.6m-2.8-2.8v5.6M214.1 113.1h5.6m-2.8-2.8v5.6M300.7 136.0h5.6m-2.8-2.8v5.6M211.5 116.4h5.6m-2.8-2.8v5.6M152.9 112.1h5.6m-2.8-2.8v5.6M123.5 82.1h5.6m-2.8-2.8v5.6M293.9 112.6h5.6m-2.8-2.8v5.6M328.5 135.2h5.6m-2.8-2.8v5.6M213.6 106.7h5.6m-2.8-2.8v5.6M142.1 66.9h5.6m-2.8-2.8v5.6M261.3 70.5h5.6m-2.8-2.8v5.6M310.6 137.5h5.6m-2.8-2.8v5.6M252.9 104.9h5.6m-2.8-2.8v5.6M269.0 106.6h5.6m-2.8-2.8v5.6M281.4 137.1h5.6m-2.8-2.8v5.6M216.9 97.4h5.6m-2.8-2.8v5.6M227.8 65.7h5.6m-2.8-2.8v5.6M299.8 137.1h5.6m-2.8-2.8v5.6M316.9 146.5h5.6m-2.8-2.8v5.6M297.1 149.2h5.6m-2.8-2.8v5.6M304.3 126.6h5.6m-2.8-2.8v5.6M260.6 105.0h5.6m-2.8-2.8v5.6M171.1 87.8h5.6m-2.8-2.8v5.6M159.9 91.7h5.6m-2.8-2.8v5.6M309.4 134.5h5.6m-2.8-2.8v5.6M181.9 89.2h5.6m-2.8-2.8v5.6M332.6 144.3h5.6m-2.8-2.8v5.6M318.1 137.2h5.6m-2.8-2.8v5.6M284.4 107.3h5.6m-2.8-2.8v5.6M321.8 133.8h5.6m-2.8-2.8v5.6M230.1 100.8h5.6m-2.8-2.8v5.6M271.4 141.0h5.6m-2.8-2.8v5.6M305.0 152.3h5.6m-2.8-2.8v5.6M271.5 114.3h5.6m-2.8-2.8v5.6M139.6 94.0h5.6m-2.8-2.8v5.6M128.1 88.1h5.6m-2.8-2.8v5.6M81.0 90.6h5.6m-2.8-2.8v5.6M171.5 98.5h5.6m-2.8-2.8v5.6M307.1 120.9h5.6m-2.8-2.8v5.6M176.6 91.5h5.6m-2.8-2.8v5.6M173.3 87.3h5.6m-2.8-2.8v5.6M192.1 104.1h5.6m-2.8-2.8v5.6M251.0 105.7h5.6m-2.8-2.8v5.6M258.3 103.3h5.6m-2.8-2.8v5.6M195.5 88.7h5.6m-2.8-2.8v5.6M243.9 91.4h5.6m-2.8-2.8v5.6M224.9 82.5h5.6m-2.8-2.8v5.6M276.5 111.5h5.6m-2.8-2.8v5.6M171.0 109.8h5.6m-2.8-2.8v5.6M302.9 141.7h5.6m-2.8-2.8v5.6M143.5 85.8h5.6m-2.8-2.8v5.6M241.3 89.6h5.6m-2.8-2.8v5.6M140.6 78.6h5.6m-2.8-2.8v5.6M335.9 149.0h5.6m-2.8-2.8v5.6M71.6 87.5h5.6m-2.8-2.8v5.6M276.2 160.7h5.6m-2.8-2.8v5.6M178.3 100.5h5.6m-2.8-2.8v5.6M311.0 141.7h5.6m-2.8-2.8v5.6M204.4 91.1h5.6m-2.8-2.8v5.6M206.3 87.3h5.6m-2.8-2.8v5.6M288.8 149.7h5.6m-2.8-2.8v5.6M257.4 127.2h5.6m-2.8-2.8v5.6M81.5 64.0h5.6m-2.8-2.8v5.6M220.0 125.7h5.6m-2.8-2.8v5.6M288.3 131.9h5.6m-2.8-2.8v5.6M235.7 98.5h5.6m-2.8-2.8v5.6M260.3 108.2h5.6m-2.8-2.8v5.6M157.2 106.8h5.6m-2.8-2.8v5.6M254.1 115.7h5.6m-2.8-2.8v5.6M255.0 110.2h5.6m-2.8-2.8v5.6M62.1 75.4h5.6m-2.8-2.8v5.6M127.6 75.1h5.6m-2.8-2.8v5.6M303.8 136.4h5.6m-2.8-2.8v5.6M303.9 137.4h5.6m-2.8-2.8v5.6M149.0 102.6h5.6m-2.8-2.8v5.6M198.4 97.1h5.6m-2.8-2.8v5.6M222.6 98.3h5.6m-2.8-2.8v5.6M259.8 106.6h5.6m-2.8-2.8v5.6M299.2 117.1h5.6m-2.8-2.8v5.6M285.7 108.6h5.6m-2.8-2.8v5.6M327.0 139.2h5.6m-2.8-2.8v5.6M286.7 124.7h5.6m-2.8-2.8v5.6M217.5 116.3h5.6m-2.8-2.8v5.6M81.5 78.3h5.6m-2.8-2.8v5.6M159.4 95.4h5.6m-2.8-2.8v5.6M240.9 120.1h5.6m-2.8-2.8v5.6M323.1 125.4h5.6m-2.8-2.8v5.6M306.7 119.6h5.6m-2.8-2.8v5.6M257.2 117.3h5.6m-2.8-2.8v5.6M87.9 74.8h5.6m-2.8-2.8v5.6M302.3 137.7h5.6m-2.8-2.8v5.6M176.3 107.6h5.6m-2.8-2.8v5.6M81.2 94.2h5.6m-2.8-2.8v5.6M259.6 96.1h5.6m-2.8-2.8v5.6M276.1 115.3h5.6m-2.8-2.8v5.6M91.0 89.9h5.6m-2.8-2.8v5.6M244.5 101.2h5.6m-2.8-2.8v5.6M285.6 125.5h5.6m-2.8-2.8v5.6M284.1 118.1h5.6m-2.8-2.8v5.6M196.3 120.1h5.6m-2.8-2.8v5.6M230.4 119.2h5.6m-2.8-2.8v5.6M310.2 141.5h5.6m-2.8-2.8v5.6M221.7 116.8h5.6m-2.8-2.8v5.6M267.6 132.7h5.6m-2.8-2.8v5.6M211.9 133.3h5.6m-2.8-2.8v5.6M197.2 95.2h5.6m-2.8-2.8v5.6M291.2 138.1h5.6m-2.8-2.8v5.6M221.3 125.9h5.6m-2.8-2.8v5.6M312.6 143.5h5.6m-2.8-2.8v5.6M161.8 26.6h5.6m-2.8-2.8v5.6M295.8 105.4h5.6m-2.8-2.8v5.6M188.0 98.3h5.6m-2.8-2.8v5.6M311.5 139.0h5.6m-2.8-2.8v5.6M222.7 138.1h5.6m-2.8-2.8v5.6M155.0 89.7h5.6m-2.8-2.8v5.6M320.2 142.3h5.6m-2.8-2.8v5.6M308.8 136.8h5.6m-2.8-2.8v5.6M192.0 106.4h5.6m-2.8-2.8v5.6M246.6 110.3h5.6m-2.8-2.8v5.6M182.9 100.0h5.6m-2.8-2.8v5.6M89.5 69.8h5.6m-2.8-2.8v5.6M278.6 144.0h5.6m-2.8-2.8v5.6M94.2 84.3h5.6m-2.8-2.8v5.6M287.1 145.4h5.6m-2.8-2.8v5.6M228.0 79.4h5.6m-2.8-2.8v5.6M231.3 108.9h5.6m-2.8-2.8v5.6M78.6 91.8h5.6m-2.8-2.8v5.6M76.5 71.6h5.6m-2.8-2.8v5.6M310.0 131.3h5.6m-2.8-2.8v5.6M307.8 128.7h5.6m-2.8-2.8v5.6M295.4 111.5h5.6m-2.8-2.8v5.6M156.0 84.1h5.6m-2.8-2.8v5.6M283.5 125.8h5.6m-2.8-2.8v5.6M260.5 98.7h5.6m-2.8-2.8v5.6M87.4 79.7h5.6m-2.8-2.8v5.6M269.7 103.8h5.6m-2.8-2.8v5.6M296.5 135.7h5.6m-2.8-2.8v5.6M285.7 115.1h5.6m-2.8-2.8v5.6M308.6 133.1h5.6m-2.8-2.8v5.6M253.5 98.2h5.6m-2.8-2.8v5.6M302.9 123.2h5.6m-2.8-2.8v5.6M136.2 101.5h5.6m-2.8-2.8v5.6M308.8 141.2h5.6m-2.8-2.8v5.6M177.2 84.5h5.6m-2.8-2.8v5.6M124.7 87.1h5.6m-2.8-2.8v5.6M152.9 87.3h5.6m-2.8-2.8v5.6M304.5 122.8h5.6m-2.8-2.8v5.6M309.5 130.8h5.6m-2.8-2.8v5.6M88.1 88.1h5.6m-2.8-2.8v5.6M238.7 108.3h5.6m-2.8-2.8v5.6M81.1 84.1h5.6m-2.8-2.8v5.6M268.5 142.6h5.6m-2.8-2.8v5.6M291.5 136.7h5.6m-2.8-2.8v5.6M70.6 84.1h5.6m-2.8-2.8v5.6M280.5 102.7h5.6m-2.8-2.8v5.6M274.4 124.8h5.6m-2.8-2.8v5.6M265.8 123.2h5.6m-2.8-2.8v5.6M311.5 140.5h5.6m-2.8-2.8v5.6M175.6 105.9h5.6m-2.8-2.8v5.6M263.8 89.3h5.6m-2.8-2.8v5.6M307.5 126.3h5.6m-2.8-2.8v5.6M317.3 112.7h5.6m-2.8-2.8v5.6M188.4 91.1h5.6m-2.8-2.8v5.6M239.0 94.2h5.6m-2.8-2.8v5.6M271.0 125.2h5.6m-2.8-2.8v5.6M121.9 87.3h5.6m-2.8-2.8v5.6M110.2 80.2h5.6m-2.8-2.8v5.6M245.4 110.8h5.6m-2.8-2.8v5.6M222.2 103.9h5.6m-2.8-2.8v5.6M143.6 99.2h5.6m-2.8-2.8v5.6M247.4 134.8h5.6m-2.8-2.8v5.6M112.4 86.6h5.6m-2.8-2.8v5.6M139.2 90.4h5.6m-2.8-2.8v5.6M79.1 78.7h5.6m-2.8-2.8v5.6M269.5 80.1h5.6m-2.8-2.8v5.6M109.2 61.1h5.6m-2.8-2.8v5.6M288.1 114.8h5.6m-2.8-2.8v5.6M291.6 119.4h5.6m-2.8-2.8v5.6M260.7 132.5h5.6m-2.8-2.8v5.6M273.6 133.6h5.6m-2.8-2.8v5.6M240.3 122.4h5.6m-2.8-2.8v5.6M180.2 92.4h5.6m-2.8-2.8v5.6M296.0 126.0h5.6m-2.8-2.8v5.6M327.2 133.5h5.6m-2.8-2.8v5.6M198.0 109.0h5.6m-2.8-2.8v5.6M223.8 114.4h5.6m-2.8-2.8v5.6M149.3 109.7h5.6m-2.8-2.8v5.6M350.2 134.0h5.6m-2.8-2.8v5.6M256.4 97.6h5.6m-2.8-2.8v5.6M325.0 124.8h5.6m-2.8-2.8v5.6M318.8 135.1h5.6m-2.8-2.8v5.6M143.0 68.7h5.6m-2.8-2.8v5.6M272.8 101.0h5.6m-2.8-2.8v5.6M297.2 113.0h5.6m-2.8-2.8v5.6M72.7 75.9h5.6m-2.8-2.8v5.6M296.3 133.4h5.6m-2.8-2.8v5.6M307.1 130.5h5.6m-2.8-2.8v5.6M304.4 125.1h5.6m-2.8-2.8v5.6M267.2 100.0h5.6m-2.8-2.8v5.6M262.1 135.9h5.6m-2.8-2.8v5.6M160.3 98.7h5.6m-2.8-2.8v5.6M289.8 125.4h5.6m-2.8-2.8v5.6M203.1 110.2h5.6m-2.8-2.8v5.6M113.0 98.3h5.6m-2.8-2.8v5.6M116.2 102.5h5.6m-2.8-2.8v5.6M325.2 133.8h5.6m-2.8-2.8v5.6M73.7 68.3h5.6m-2.8-2.8v5.6M204.3 96.1h5.6m-2.8-2.8v5.6M253.4 111.6h5.6m-2.8-2.8v5.6M251.5 93.0h5.6m-2.8-2.8v5.6M255.6 97.4h5.6m-2.8-2.8v5.6M118.9 54.5h5.6m-2.8-2.8v5.6M95.7 73.0h5.6m-2.8-2.8v5.6M298.7 141.5h5.6m-2.8-2.8v5.6M271.9 104.9h5.6m-2.8-2.8v5.6M288.5 129.2h5.6m-2.8-2.8v5.6M332.7 135.2h5.6m-2.8-2.8v5.6M200.0 94.0h5.6m-2.8-2.8v5.6M140.3 89.1h5.6m-2.8-2.8v5.6M179.9 89.7h5.6m-2.8-2.8v5.6M273.2 108.9h5.6m-2.8-2.8v5.6M299.7 125.6h5.6m-2.8-2.8v5.6M269.3 97.1h5.6m-2.8-2.8v5.6M285.0 119.9h5.6m-2.8-2.8v5.6M311.6 135.8h5.6m-2.8-2.8v5.6M306.0 108.6h5.6m-2.8-2.8v5.6M288.7 139.6h5.6m-2.8-2.8v5.6M141.3 90.6h5.6m-2.8-2.8v5.6M149.0 91.1h5.6m-2.8-2.8v5.6M159.4 71.8h5.6m-2.8-2.8v5.6M280.4 136.9h5.6m-2.8-2.8v5.6M241.6 92.0h5.6m-2.8-2.8v5.6M237.8 129.6h5.6m-2.8-2.8v5.6M304.6 113.5h5.6m-2.8-2.8v5.6M153.2 85.4h5.6m-2.8-2.8v5.6M225.5 90.9h5.6m-2.8-2.8v5.6M299.2 149.6h5.6m-2.8-2.8v5.6M289.2 146.2h5.6m-2.8-2.8v5.6M285.7 112.2h5.6m-2.8-2.8v5.6M324.6 140.9h5.6m-2.8-2.8v5.6M75.9 81.8h5.6m-2.8-2.8v5.6M294.2 125.4h5.6m-2.8-2.8v5.6M303.8 137.6h5.6m-2.8-2.8v5.6M317.7 148.8h5.6m-2.8-2.8v5.6M306.7 131.7h5.6m-2.8-2.8v5.6M225.4 74.6h5.6m-2.8-2.8v5.6M173.9 78.8h5.6m-2.8-2.8v5.6M89.9 79.7h5.6m-2.8-2.8v5.6M114.6 69.9h5.6m-2.8-2.8v5.6M256.9 123.9h5.6m-2.8-2.8v5.6M278.2 100.5h5.6m-2.8-2.8v5.6M247.4 123.7h5.6m-2.8-2.8v5.6M251.5 94.1h5.6m-2.8-2.8v5.6M294.6 122.0h5.6m-2.8-2.8v5.6M301.4 132.2h5.6m-2.8-2.8v5.6M283.6 127.9h5.6m-2.8-2.8v5.6M99.4 72.5h5.6m-2.8-2.8v5.6M236.2 101.5h5.6m-2.8-2.8v5.6M141.7 90.0h5.6m-2.8-2.8v5.6M164.5 91.2h5.6m-2.8-2.8v5.6M272.6 111.5h5.6m-2.8-2.8v5.6M133.6 74.6h5.6m-2.8-2.8v5.6M317.8 136.3h5.6m-2.8-2.8v5.6M90.2 15.3h5.6m-2.8-2.8v5.6M280.4 124.2h5.6m-2.8-2.8v5.6M254.5 106.6h5.6m-2.8-2.8v5.6M130.6 67.6h5.6m-2.8-2.8v5.6M192.6 96.4h5.6m-2.8-2.8v5.6M296.4 112.9h5.6m-2.8-2.8v5.6M295.1 131.4h5.6m-2.8-2.8v5.6M139.3 88.6h5.6m-2.8-2.8v5.6M194.0 69.1h5.6m-2.8-2.8v5.6M299.0 149.3h5.6m-2.8-2.8v5.6M212.3 92.7h5.6m-2.8-2.8v5.6M265.2 98.2h5.6m-2.8-2.8v5.6M276.1 134.5h5.6m-2.8-2.8v5.6M281.5 108.8h5.6m-2.8-2.8v5.6M220.2 115.4h5.6m-2.8-2.8v5.6M266.7 129.8h5.6m-2.8-2.8v5.6M224.0 114.5h5.6m-2.8-2.8v5.6M286.2 117.6h5.6m-2.8-2.8v5.6M85.0 81.9h5.6m-2.8-2.8v5.6M159.2 81.7h5.6m-2.8-2.8v5.6M86.4 78.7h5.6m-2.8-2.8v5.6M184.1 102.7h5.6m-2.8-2.8v5.6M258.2 97.7h5.6m-2.8-2.8v5.6M95.8 72.0h5.6m-2.8-2.8v5.6M288.7 134.0h5.6m-2.8-2.8v5.6M249.5 112.2h5.6m-2.8-2.8v5.6M76.1 63.8h5.6m-2.8-2.8v5.6M317.0 135.7h5.6m-2.8-2.8v5.6M319.4 129.7h5.6m-2.8-2.8v5.6M317.0 119.6h5.6m-2.8-2.8v5.6M211.8 82.7h5.6m-2.8-2.8v5.6M272.3 98.4h5.6m-2.8-2.8v5.6M237.8 111.4h5.6m-2.8-2.8v5.6M178.3 92.1h5.6m-2.8-2.8v5.6M250.2 125.7h5.6m-2.8-2.8v5.6M312.4 131.0h5.6m-2.8-2.8v5.6M301.7 141.6h5.6m-2.8-2.8v5.6M125.3 78.0h5.6m-2.8-2.8v5.6M325.7 143.9h5.6m-2.8-2.8v5.6M241.7 120.7h5.6m-2.8-2.8v5.6M308.7 140.7h5.6m-2.8-2.8v5.6M263.9 99.2h5.6m-2.8-2.8v5.6M312.6 139.0h5.6m-2.8-2.8v5.6M117.6 88.6h5.6m-2.8-2.8v5.6M203.7 108.8h5.6m-2.8-2.8v5.6M258.5 129.1h5.6m-2.8-2.8v5.6M278.6 95.9h5.6m-2.8-2.8v5.6M207.0 62.2h5.6m-2.8-2.8v5.6M120.1 84.9h5.6m-2.8-2.8v5.6M244.8 78.5h5.6m-2.8-2.8v5.6M312.0 147.0h5.6m-2.8-2.8v5.6M129.6 61.8h5.6m-2.8-2.8v5.6M104.9 97.6h5.6m-2.8-2.8v5.6M267.3 81.8h5.6m-2.8-2.8v5.6M299.5 133.2h5.6m-2.8-2.8v5.6M206.0 118.7h5.6m-2.8-2.8v5.6M254.9 140.6h5.6m-2.8-2.8v5.6M145.0 84.0h5.6m-2.8-2.8v5.6M164.7 82.8h5.6m-2.8-2.8v5.6M273.2 111.4h5.6m-2.8-2.8v5.6M283.0 119.0h5.6m-2.8-2.8v5.6M297.3 136.5h5.6m-2.8-2.8v5.6M207.0 83.8h5.6m-2.8-2.8v5.6M283.2 93.8h5.6m-2.8-2.8v5.6M173.5 85.8h5.6m-2.8-2.8v5.6M187.0 84.4h5.6m-2.8-2.8v5.6M271.9 100.6h5.6m-2.8-2.8v5.6M169.6 71.7h5.6m-2.8-2.8v5.6M251.9 107.9h5.6m-2.8-2.8v5.6M329.7 136.7h5.6m-2.8-2.8v5.6M121.8 83.2h5.6m-2.8-2.8v5.6M56.0 87.9h5.6m-2.8-2.8v5.6M283.7 92.8h5.6m-2.8-2.8v5.6M262.4 131.4h5.6m-2.8-2.8v5.6M301.8 131.6h5.6m-2.8-2.8v5.6M205.9 108.1h5.6m-2.8-2.8v5.6M289.2 99.4h5.6m-2.8-2.8v5.6M161.3 85.2h5.6m-2.8-2.8v5.6M99.5 82.3h5.6m-2.8-2.8v5.6M323.9 145.3h5.6m-2.8-2.8v5.6M111.0 79.6h5.6m-2.8-2.8v5.6M273.8 134.4h5.6m-2.8-2.8v5.6M300.4 115.7h5.6m-2.8-2.8v5.6M134.8 83.9h5.6m-2.8-2.8v5.6M251.6 108.9h5.6m-2.8-2.8v5.6M67.8 77.4h5.6m-2.8-2.8v5.6M327.6 124.0h5.6m-2.8-2.8v5.6M121.7 81.5h5.6m-2.8-2.8v5.6M294.6 112.8h5.6m-2.8-2.8v5.6M286.5 121.4h5.6m-2.8-2.8v5.6M187.6 97.4h5.6m-2.8-2.8v5.6M185.8 78.9h5.6m-2.8-2.8v5.6M178.4 109.1h5.6m-2.8-2.8v5.6M307.8 129.5h5.6m-2.8-2.8v5.6M275.7 142.6h5.6m-2.8-2.8v5.6M235.8 120.2h5.6m-2.8-2.8v5.6M315.8 147.3h5.6m-2.8-2.8v5.6M308.6 149.1h5.6m-2.8-2.8v5.6M306.1 116.5h5.6m-2.8-2.8v5.6M154.9 92.4h5.6m-2.8-2.8v5.6M311.0 135.9h5.6m-2.8-2.8v5.6M171.2 133.0h5.6m-2.8-2.8v5.6M75.0 105.2h5.6m-2.8-2.8v5.6M80.8 90.6h5.6m-2.8-2.8v5.6M98.5 98.3h5.6m-2.8-2.8v5.6M218.6 139.5h5.6m-2.8-2.8v5.6M184.4 99.8h5.6m-2.8-2.8v5.6M300.7 152.0h5.6m-2.8-2.8v5.6M204.0 81.0h5.6m-2.8-2.8v5.6M101.9 73.6h5.6m-2.8-2.8v5.6M245.8 115.2h5.6m-2.8-2.8v5.6M227.3 107.3h5.6m-2.8-2.8v5.6M147.6 79.8h5.6m-2.8-2.8v5.6M229.2 97.0h5.6m-2.8-2.8v5.6M72.8 87.6h5.6m-2.8-2.8v5.6M165.4 85.9h5.6m-2.8-2.8v5.6M314.5 123.6h5.6m-2.8-2.8v5.6M269.7 127.7h5.6m-2.8-2.8v5.6M187.5 84.8h5.6m-2.8-2.8v5.6M223.7 116.1h5.6m-2.8-2.8v5.6M290.6 128.3h5.6m-2.8-2.8v5.6M290.7 148.3h5.6m-2.8-2.8v5.6M89.2 83.6h5.6m-2.8-2.8v5.6M142.4 85.9h5.6m-2.8-2.8v5.6M332.6 142.9h5.6m-2.8-2.8v5.6M260.6 112.2h5.6m-2.8-2.8v5.6M190.8 85.3h5.6m-2.8-2.8v5.6M276.3 118.0h5.6m-2.8-2.8v5.6M327.3 151.7h5.6m-2.8-2.8v5.6M156.6 100.0h5.6m-2.8-2.8v5.6M299.4 129.6h5.6m-2.8-2.8v5.6M329.6 147.7h5.6m-2.8-2.8v5.6M75.5 53.3h5.6m-2.8-2.8v5.6M170.2 86.6h5.6m-2.8-2.8v5.6M318.6 140.9h5.6m-2.8-2.8v5.6M249.5 104.7h5.6m-2.8-2.8v5.6M202.9 116.9h5.6m-2.8-2.8v5.6M118.0 79.2h5.6m-2.8-2.8v5.6M162.6 79.5h5.6m-2.8-2.8v5.6M319.1 132.5h5.6m-2.8-2.8v5.6M222.4 107.9h5.6m-2.8-2.8v5.6M279.6 121.0h5.6m-2.8-2.8v5.6M124.2 94.4h5.6m-2.8-2.8v5.6M115.7 85.3h5.6m-2.8-2.8v5.6M276.6 123.1h5.6m-2.8-2.8v5.6M197.2 114.0h5.6m-2.8-2.8v5.6M308.5 147.3h5.6m-2.8-2.8v5.6M260.6 96.6h5.6m-2.8-2.8v5.6M280.6 93.4h5.6m-2.8-2.8v5.6M334.6 153.7h5.6m-2.8-2.8v5.6M189.0 99.8h5.6m-2.8-2.8v5.6M278.5 139.8h5.6m-2.8-2.8v5.6M96.2 85.9h5.6m-2.8-2.8v5.6M134.7 82.9h5.6m-2.8-2.8v5.6M301.3 132.4h5.6m-2.8-2.8v5.6M318.9 142.0h5.6m-2.8-2.8v5.6M117.3 75.6h5.6m-2.8-2.8v5.6M290.5 141.8h5.6m-2.8-2.8v5.6M144.5 92.5h5.6m-2.8-2.8v5.6M261.4 106.0h5.6m-2.8-2.8v5.6M195.4 89.5h5.6m-2.8-2.8v5.6M326.3 130.9h5.6m-2.8-2.8v5.6M272.0 109.4h5.6m-2.8-2.8v5.6M297.3 134.3h5.6m-2.8-2.8v5.6M193.6 116.8h5.6m-2.8-2.8v5.6M240.6 85.0h5.6m-2.8-2.8v5.6M298.9 134.5h5.6m-2.8-2.8v5.6M321.0 118.0h5.6m-2.8-2.8v5.6M253.5 112.4h5.6m-2.8-2.8v5.6M293.7 121.6h5.6m-2.8-2.8v5.6M99.1 78.4h5.6m-2.8-2.8v5.6M308.4 153.5h5.6m-2.8-2.8v5.6M277.8 106.8h5.6m-2.8-2.8v5.6M157.1 87.2h5.6m-2.8-2.8v5.6M87.4 77.9h5.6m-2.8-2.8v5.6M278.4 138.4h5.6m-2.8-2.8v5.6M83.7 86.8h5.6m-2.8-2.8v5.6M250.5 108.3h5.6m-2.8-2.8v5.6M322.0 128.5h5.6m-2.8-2.8v5.6M222.5 96.6h5.6m-2.8-2.8v5.6M327.3 163.2h5.6m-2.8-2.8v5.6M294.6 128.9h5.6m-2.8-2.8v5.6M228.1 117.0h5.6m-2.8-2.8v5.6M127.5 75.4h5.6m-2.8-2.8v5.6M264.6 110.7h5.6m-2.8-2.8v5.6M269.4 105.0h5.6m-2.8-2.8v5.6M229.6 115.3h5.6m-2.8-2.8v5.6M313.3 140.3h5.6m-2.8-2.8v5.6M276.8 121.6h5.6m-2.8-2.8v5.6M201.8 81.4h5.6m-2.8-2.8v5.6M289.4 136.4h5.6m-2.8-2.8v5.6M97.4 90.6h5.6m-2.8-2.8v5.6M319.4 119.5h5.6m-2.8-2.8v5.6M280.2 105.1h5.6m-2.8-2.8v5.6M201.2 86.0h5.6m-2.8-2.8v5.6M238.6 114.0h5.6m-2.8-2.8v5.6M106.7 70.4h5.6m-2.8-2.8v5.6M303.2 116.5h5.6m-2.8-2.8v5.6M187.8 83.0h5.6m-2.8-2.8v5.6M324.1 130.8h5.6m-2.8-2.8v5.6M316.2 152.3h5.6m-2.8-2.8v5.6M259.2 139.3h5.6m-2.8-2.8v5.6M257.1 123.5h5.6m-2.8-2.8v5.6M288.8 127.9h5.6m-2.8-2.8v5.6M255.9 96.5h5.6m-2.8-2.8v5.6M302.2 149.5h5.6m-2.8-2.8v5.6M160.3 84.5h5.6m-2.8-2.8v5.6M199.4 95.1h5.6m-2.8-2.8v5.6M277.4 113.7h5.6m-2.8-2.8v5.6M91.4 62.5h5.6m-2.8-2.8v5.6M296.0 130.9h5.6m-2.8-2.8v5.6M304.1 127.9h5.6m-2.8-2.8v5.6M268.0 106.5h5.6m-2.8-2.8v5.6M144.1 99.2h5.6m-2.8-2.8v5.6M290.4 132.7h5.6m-2.8-2.8v5.6M85.5 92.0h5.6m-2.8-2.8v5.6M298.6 104.0h5.6m-2.8-2.8v5.6M321.8 143.9h5.6m-2.8-2.8v5.6M145.3 87.9h5.6m-2.8-2.8v5.6M247.0 128.7h5.6m-2.8-2.8v5.6M266.1 107.3h5.6m-2.8-2.8v5.6M310.1 140.2h5.6m-2.8-2.8v5.6M93.0 78.0h5.6m-2.8-2.8v5.6M321.8 123.9h5.6m-2.8-2.8v5.6M150.2 96.2h5.6m-2.8-2.8v5.6M124.6 107.1h5.6m-2.8-2.8v5.6M319.4 155.8h5.6m-2.8-2.8v5.6M92.9 54.4h5.6m-2.8-2.8v5.6M264.2 119.0h5.6m-2.8-2.8v5.6M293.8 142.4h5.6m-2.8-2.8v5.6M236.3 96.7h5.6m-2.8-2.8v5.6M280.8 128.0h5.6m-2.8-2.8v5.6M201.4 112.8h5.6m-2.8-2.8v5.6M179.4 112.5h5.6m-2.8-2.8v5.6M210.9 96.4h5.6m-2.8-2.8v5.6M279.6 110.4h5.6m-2.8-2.8v5.6M301.6 124.8h5.6m-2.8-2.8v5.6M275.9 121.8h5.6m-2.8-2.8v5.6M262.2 108.3h5.6m-2.8-2.8v5.6M171.4 82.5h5.6m-2.8-2.8v5.6M215.7 102.8h5.6m-2.8-2.8v5.6M315.3 115.1h5.6m-2.8-2.8v5.6M258.2 119.4h5.6m-2.8-2.8v5.6M259.9 103.6h5.6m-2.8-2.8v5.6M245.3 121.2h5.6m-2.8-2.8v5.6M80.2 53.7h5.6m-2.8-2.8v5.6M289.9 121.4h5.6m-2.8-2.8v5.6M326.7 130.1h5.6m-2.8-2.8v5.6M172.6 87.9h5.6m-2.8-2.8v5.6M123.4 89.6h5.6m-2.8-2.8v5.6M283.0 126.7h5.6m-2.8-2.8v5.6M198.1 118.8h5.6m-2.8-2.8v5.6M202.4 111.6h5.6m-2.8-2.8v5.6M310.3 122.1h5.6m-2.8-2.8v5.6M178.2 91.6h5.6m-2.8-2.8v5.6M243.9 102.7h5.6m-2.8-2.8v5.6M217.6 100.9h5.6m-2.8-2.8v5.6M331.8 137.9h5.6m-2.8-2.8v5.6M177.0 88.5h5.6m-2.8-2.8v5.6M133.1 87.9h5.6m-2.8-2.8v5.6M317.7 117.8h5.6m-2.8-2.8v5.6M216.4 121.6h5.6m-2.8-2.8v5.6M310.0 127.4h5.6m-2.8-2.8v5.6M301.8 117.2h5.6m-2.8-2.8v5.6M317.7 140.5h5.6m-2.8-2.8v5.6M311.8 108.5h5.6m-2.8-2.8v5.6M241.8 118.9h5.6m-2.8-2.8v5.6M283.3 109.4h5.6m-2.8-2.8v5.6M150.1 94.7h5.6m-2.8-2.8v5.6M80.9 78.4h5.6m-2.8-2.8v5.6M309.0 126.5h5.6m-2.8-2.8v5.6M136.2 94.5h5.6m-2.8-2.8v5.6M160.4 68.4h5.6m-2.8-2.8v5.6M253.4 113.5h5.6m-2.8-2.8v5.6M123.6 97.9h5.6m-2.8-2.8v5.6M328.6 128.7h5.6m-2.8-2.8v5.6M160.4 89.2h5.6m-2.8-2.8v5.6M293.2 116.2h5.6m-2.8-2.8v5.6M272.4 133.0h5.6m-2.8-2.8v5.6M283.1 127.4h5.6m-2.8-2.8v5.6M327.8 149.0h5.6m-2.8-2.8v5.6M280.3 152.2h5.6m-2.8-2.8v5.6M95.1 72.8h5.6m-2.8-2.8v5.6M257.6 104.3h5.6m-2.8-2.8v5.6M83.2 86.0h5.6m-2.8-2.8v5.6M254.6 110.0h5.6m-2.8-2.8v5.6M89.9 80.3h5.6m-2.8-2.8v5.6M268.7 115.2h5.6m-2.8-2.8v5.6M188.1 106.7h5.6m-2.8-2.8v5.6M302.4 141.1h5.6m-2.8-2.8v5.6M288.4 119.8h5.6m-2.8-2.8v5.6M271.5 127.0h5.6m-2.8-2.8v5.6M275.4 123.1h5.6m-2.8-2.8v5.6M325.4 140.4h5.6m-2.8-2.8v5.6M244.3 111.9h5.6m-2.8-2.8v5.6M102.2 86.8h5.6m-2.8-2.8v5.6M307.3 127.6h5.6m-2.8-2.8v5.6M293.5 125.1h5.6m-2.8-2.8v5.6M119.0 91.2h5.6m-2.8-2.8v5.6M214.4 100.9h5.6m-2.8-2.8v5.6M306.1 125.2h5.6m-2.8-2.8v5.6M300.0 116.3h5.6m-2.8-2.8v5.6M308.1 121.6h5.6m-2.8-2.8v5.6M142.6 67.9h5.6m-2.8-2.8v5.6M115.1 93.6h5.6m-2.8-2.8v5.6M111.8 79.5h5.6m-2.8-2.8v5.6M93.2 77.8h5.6m-2.8-2.8v5.6M303.6 142.8h5.6m-2.8-2.8v5.6M301.8 142.8h5.6m-2.8-2.8v5.6M332.8 142.5h5.6m-2.8-2.8v5.6M317.5 125.7h5.6m-2.8-2.8v5.6M144.3 77.0h5.6m-2.8-2.8v5.6M207.5 81.0h5.6m-2.8-2.8v5.6M262.9 132.8h5.6m-2.8-2.8v5.6M178.6 74.9h5.6m-2.8-2.8v5.6M257.1 105.3h5.6m-2.8-2.8v5.6M269.7 83.8h5.6m-2.8-2.8v5.6M281.1 115.0h5.6m-2.8-2.8v5.6M236.7 113.6h5.6m-2.8-2.8v5.6M206.4 94.7h5.6m-2.8-2.8v5.6M307.1 125.4h5.6m-2.8-2.8v5.6M155.7 81.7h5.6m-2.8-2.8v5.6M247.8 135.8h5.6m-2.8-2.8v5.6M113.6 76.2h5.6m-2.8-2.8v5.6M78.0 102.9h5.6m-2.8-2.8v5.6M142.2 78.6h5.6m-2.8-2.8v5.6M297.7 147.8h5.6m-2.8-2.8v5.6M325.1 134.4h5.6m-2.8-2.8v5.6M268.7 129.6h5.6m-2.8-2.8v5.6M312.7 120.4h5.6m-2.8-2.8v5.6M322.9 143.7h5.6m-2.8-2.8v5.6M262.1 144.3h5.6m-2.8-2.8v5.6M233.2 109.2h5.6m-2.8-2.8v5.6M318.7 120.7h5.6m-2.8-2.8v5.6M314.0 148.7h5.6m-2.8-2.8v5.6M298.9 143.0h5.6m-2.8-2.8v5.6M98.3 69.7h5.6m-2.8-2.8v5.6M228.1 82.5h5.6m-2.8-2.8v5.6M114.6 76.5h5.6m-2.8-2.8v5.6M115.9 78.0h5.6m-2.8-2.8v5.6M134.3 64.7h5.6m-2.8-2.8v5.6M144.6 93.5h5.6m-2.8-2.8v5.6M124.8 69.0h5.6m-2.8-2.8v5.6M209.2 89.9h5.6m-2.8-2.8v5.6M252.5 118.7h5.6m-2.8-2.8v5.6M287.0 120.8h5.6m-2.8-2.8v5.6M309.2 143.0h5.6m-2.8-2.8v5.6M270.2 134.9h5.6m-2.8-2.8v5.6M294.1 140.0h5.6m-2.8-2.8v5.6M261.1 102.4h5.6m-2.8-2.8v5.6M145.4 82.6h5.6m-2.8-2.8v5.6M141.8 82.7h5.6m-2.8-2.8v5.6M302.4 125.6h5.6m-2.8-2.8v5.6M232.7 110.7h5.6m-2.8-2.8v5.6M290.3 121.8h5.6m-2.8-2.8v5.6M304.1 127.4h5.6m-2.8-2.8v5.6M300.0 92.2h5.6m-2.8-2.8v5.6M310.9 157.8h5.6m-2.8-2.8v5.6M316.5 151.2h5.6m-2.8-2.8v5.6M136.0 95.9h5.6m-2.8-2.8v5.6M291.7 126.0h5.6m-2.8-2.8v5.6M192.9 102.8h5.6m-2.8-2.8v5.6M143.8 87.2h5.6m-2.8-2.8v5.6M255.2 134.4h5.6m-2.8-2.8v5.6M96.2 67.3h5.6m-2.8-2.8v5.6M273.6 99.9h5.6m-2.8-2.8v5.6M321.8 132.8h5.6m-2.8-2.8v5.6M296.8 139.9h5.6m-2.8-2.8v5.6M319.9 129.3h5.6m-2.8-2.8v5.6M305.4 137.2h5.6m-2.8-2.8v5.6M285.8 135.4h5.6m-2.8-2.8v5.6M271.5 121.1h5.6m-2.8-2.8v5.6M254.0 92.1h5.6m-2.8-2.8v5.6M146.5 94.8h5.6m-2.8-2.8v5.6M142.8 73.3h5.6m-2.8-2.8v5.6M296.3 126.3h5.6m-2.8-2.8v5.6M62.1 94.3h5.6m-2.8-2.8v5.6M297.7 146.0h5.6m-2.8-2.8v5.6M245.4 106.4h5.6m-2.8-2.8v5.6M242.0 127.2h5.6m-2.8-2.8v5.6M312.2 131.0h5.6m-2.8-2.8v5.6M296.9 136.6h5.6m-2.8-2.8v5.6M68.3 97.3h5.6m-2.8-2.8v5.6M159.6 88.8h5.6m-2.8-2.8v5.6M335.3 149.0h5.6m-2.8-2.8v5.6M293.8 144.2h5.6m-2.8-2.8v5.6M285.0 140.3h5.6m-2.8-2.8v5.6M141.6 87.1h5.6m-2.8-2.8v5.6M254.5 119.5h5.6m-2.8-2.8v5.6M161.1 89.6h5.6m-2.8-2.8v5.6M258.9 127.5h5.6m-2.8-2.8v5.6M308.8 143.0h5.6m-2.8-2.8v5.6M257.8 94.9h5.6m-2.8-2.8v5.6M285.6 135.8h5.6m-2.8-2.8v5.6M350.2 130.4h5.6m-2.8-2.8v5.6M280.4 119.5h5.6m-2.8-2.8v5.6M140.8 64.4h5.6m-2.8-2.8v5.6M265.8 103.0h5.6m-2.8-2.8v5.6M119.8 88.4h5.6m-2.8-2.8v5.6M294.0 129.1h5.6m-2.8-2.8v5.6M268.8 109.5h5.6m-2.8-2.8v5.6M311.2 128.8h5.6m-2.8-2.8v5.6M294.1 149.4h5.6m-2.8-2.8v5.6M306.3 124.2h5.6m-2.8-2.8v5.6M234.1 115.3h5.6m-2.8-2.8v5.6M139.9 79.0h5.6m-2.8-2.8v5.6M252.3 117.0h5.6m-2.8-2.8v5.6M258.0 79.5h5.6m-2.8-2.8v5.6M246.8 130.3h5.6m-2.8-2.8v5.6M312.0 141.2h5.6m-2.8-2.8v5.6M287.2 131.4h5.6m-2.8-2.8v5.6M298.7 107.6h5.6m-2.8-2.8v5.6M190.9 120.1h5.6m-2.8-2.8v5.6M271.4 127.7h5.6m-2.8-2.8v5.6M178.0 86.3h5.6m-2.8-2.8v5.6M80.4 89.1h5.6m-2.8-2.8v5.6M321.8 149.0h5.6m-2.8-2.8v5.6M224.6 104.5h5.6m-2.8-2.8v5.6M242.3 116.4h5.6m-2.8-2.8v5.6M82.2 77.6h5.6m-2.8-2.8v5.6M243.9 96.7h5.6m-2.8-2.8v5.6M281.0 124.7h5.6m-2.8-2.8v5.6M326.9 145.4h5.6m-2.8-2.8v5.6M287.9 141.3h5.6m-2.8-2.8v5.6M60.5 73.5h5.6m-2.8-2.8v5.6M132.7 82.7h5.6m-2.8-2.8v5.6M337.9 126.4h5.6m-2.8-2.8v5.6M258.0 100.2h5.6m-2.8-2.8v5.6M108.6 107.9h5.6m-2.8-2.8v5.6M163.4 104.6h5.6m-2.8-2.8v5.6M326.3 136.5h5.6m-2.8-2.8v5.6M291.8 123.6h5.6m-2.8-2.8v5.6M320.0 121.6h5.6m-2.8-2.8v5.6M154.4 76.0h5.6m-2.8-2.8v5.6M168.7 80.6h5.6m-2.8-2.8v5.6M274.7 111.5h5.6m-2.8-2.8v5.6M306.9 139.0h5.6m-2.8-2.8v5.6M130.9 67.5h5.6m-2.8-2.8v5.6M291.5 126.6h5.6m-2.8-2.8v5.6M76.0 77.0h5.6m-2.8-2.8v5.6M159.1 98.0h5.6m-2.8-2.8v5.6M127.2 76.9h5.6m-2.8-2.8v5.6M130.6 86.1h5.6m-2.8-2.8v5.6M249.0 104.7h5.6m-2.8-2.8v5.6M321.3 128.3h5.6m-2.8-2.8v5.6M324.7 132.9h5.6m-2.8-2.8v5.6M72.8 69.6h5.6m-2.8-2.8v5.6M294.8 124.8h5.6m-2.8-2.8v5.6M271.6 111.3h5.6m-2.8-2.8v5.6M315.7 157.5h5.6m-2.8-2.8v5.6M298.0 145.9h5.6m-2.8-2.8v5.6M281.1 134.6h5.6m-2.8-2.8v5.6M316.5 146.8h5.6m-2.8-2.8v5.6M309.3 111.0h5.6m-2.8-2.8v5.6M307.9 126.7h5.6m-2.8-2.8v5.6M86.2 95.9h5.6m-2.8-2.8v5.6M226.7 108.1h5.6m-2.8-2.8v5.6M117.6 79.8h5.6m-2.8-2.8v5.6M130.2 71.1h5.6m-2.8-2.8v5.6M162.0 97.7h5.6m-2.8-2.8v5.6M237.4 114.5h5.6m-2.8-2.8v5.6M196.3 94.4h5.6m-2.8-2.8v5.6M320.2 115.1h5.6m-2.8-2.8v5.6M307.3 134.9h5.6m-2.8-2.8v5.6M86.3 70.7h5.6m-2.8-2.8v5.6M221.7 128.6h5.6m-2.8-2.8v5.6M106.6 91.3h5.6m-2.8-2.8v5.6M169.6 97.5h5.6m-2.8-2.8v5.6M303.3 131.8h5.6m-2.8-2.8v5.6M209.9 111.9h5.6m-2.8-2.8v5.6M90.2 80.1h5.6m-2.8-2.8v5.6M313.0 149.1h5.6m-2.8-2.8v5.6M165.3 78.8h5.6m-2.8-2.8v5.6M78.2 74.7h5.6m-2.8-2.8v5.6M207.0 115.5h5.6m-2.8-2.8v5.6M226.2 91.7h5.6m-2.8-2.8v5.6M289.7 136.9h5.6m-2.8-2.8v5.6M85.9 67.4h5.6m-2.8-2.8v5.6M316.0 138.0h5.6m-2.8-2.8v5.6M281.3 114.3h5.6m-2.8-2.8v5.6M222.9 89.4h5.6m-2.8-2.8v5.6M224.3 88.4h5.6m-2.8-2.8v5.6M249.5 94.3h5.6m-2.8-2.8v5.6M259.3 104.3h5.6m-2.8-2.8v5.6M204.7 89.3h5.6m-2.8-2.8v5.6M241.9 104.6h5.6m-2.8-2.8v5.6M301.9 134.8h5.6m-2.8-2.8v5.6M283.2 110.6h5.6m-2.8-2.8v5.6M299.1 145.4h5.6m-2.8-2.8v5.6M150.8 96.6h5.6m-2.8-2.8v5.6M157.8 77.6h5.6m-2.8-2.8v5.6M139.1 105.7h5.6m-2.8-2.8v5.6M295.4 129.3h5.6m-2.8-2.8v5.6M282.2 123.0h5.6m-2.8-2.8v5.6M313.9 129.0h5.6m-2.8-2.8v5.6M151.0 85.8h5.6m-2.8-2.8v5.6M271.2 113.2h5.6m-2.8-2.8v5.6M283.8 139.7h5.6m-2.8-2.8v5.6M329.5 141.0h5.6m-2.8-2.8v5.6M62.8 70.8h5.6m-2.8-2.8v5.6M291.6 126.1h5.6m-2.8-2.8v5.6M137.1 96.0h5.6m-2.8-2.8v5.6M289.0 115.4h5.6m-2.8-2.8v5.6M65.0 72.6h5.6m-2.8-2.8v5.6M308.8 132.0h5.6m-2.8-2.8v5.6M136.5 84.4h5.6m-2.8-2.8v5.6M340.9 141.9h5.6m-2.8-2.8v5.6M84.7 87.3h5.6m-2.8-2.8v5.6M293.4 129.4h5.6m-2.8-2.8v5.6M282.3 120.8h5.6m-2.8-2.8v5.6M195.9 101.5h5.6m-2.8-2.8v5.6M202.4 100.6h5.6m-2.8-2.8v5.6M217.6 98.7h5.6m-2.8-2.8v5.6M171.5 89.5h5.6m-2.8-2.8v5.6M330.6 140.7h5.6m-2.8-2.8v5.6M300.2 123.6h5.6m-2.8-2.8v5.6M335.9 159.5h5.6m-2.8-2.8v5.6M224.0 128.4h5.6m-2.8-2.8v5.6M315.2 131.8h5.6m-2.8-2.8v5.6M148.8 63.8h5.6m-2.8-2.8v5.6M293.3 114.1h5.6m-2.8-2.8v5.6M320.9 140.3h5.6m-2.8-2.8v5.6M291.5 112.6h5.6m-2.8-2.8v5.6M252.0 124.2h5.6m-2.8-2.8v5.6M269.6 97.7h5.6m-2.8-2.8v5.6M149.6 85.1h5.6m-2.8-2.8v5.6M80.1 91.6h5.6m-2.8-2.8v5.6M185.2 96.6h5.6m-2.8-2.8v5.6M84.2 87.5h5.6m-2.8-2.8v5.6M153.9 82.3h5.6m-2.8-2.8v5.6M311.2 134.6h5.6m-2.8-2.8v5.6M78.6 71.3h5.6m-2.8-2.8v5.6M201.1 92.8h5.6m-2.8-2.8v5.6M295.6 144.8h5.6m-2.8-2.8v5.6M249.1 121.7h5.6m-2.8-2.8v5.6M180.6 73.2h5.6m-2.8-2.8v5.6M132.8 72.9h5.6m-2.8-2.8v5.6M239.2 107.8h5.6m-2.8-2.8v5.6M236.6 108.0h5.6m-2.8-2.8v5.6M194.6 120.6h5.6m-2.8-2.8v5.6M278.3 124.7h5.6m-2.8-2.8v5.6M322.8 151.9h5.6m-2.8-2.8v5.6M134.1 76.7h5.6m-2.8-2.8v5.6M325.4 135.5h5.6m-2.8-2.8v5.6M302.5 136.7h5.6m-2.8-2.8v5.6M290.4 125.8h5.6m-2.8-2.8v5.6M85.1 75.8h5.6m-2.8-2.8v5.6M309.8 124.0h5.6m-2.8-2.8v5.6M213.9 98.7h5.6m-2.8-2.8v5.6M98.0 80.5h5.6m-2.8-2.8v5.6M288.4 116.8h5.6m-2.8-2.8v5.6M79.8 78.3h5.6m-2.8-2.8v5.6M139.2 94.0h5.6m-2.8-2.8v5.6M315.4 125.8h5.6m-2.8-2.8v5.6M273.5 114.9h5.6m-2.8-2.8v5.6M211.0 75.7h5.6m-2.8-2.8v5.6M193.4 105.8h5.6m-2.8-2.8v5.6M326.6 126.0h5.6m-2.8-2.8v5.6M123.3 70.8h5.6m-2.8-2.8v5.6M237.4 108.9h5.6m-2.8-2.8v5.6M295.0 150.5h5.6m-2.8-2.8v5.6M180.0 86.0h5.6m-2.8-2.8v5.6M308.1 125.0h5.6m-2.8-2.8v5.6M309.8 137.9h5.6m-2.8-2.8v5.6M109.1 75.6h5.6m-2.8-2.8v5.6M295.1 130.8h5.6m-2.8-2.8v5.6M298.5 159.7h5.6m-2.8-2.8v5.6M240.5 104.1h5.6m-2.8-2.8v5.6M263.0 132.0h5.6m-2.8-2.8v5.6M289.1 114.1h5.6m-2.8-2.8v5.6M139.4 85.5h5.6m-2.8-2.8v5.6M247.7 97.6h5.6m-2.8-2.8v5.6M298.6 133.6h5.6m-2.8-2.8v5.6M223.2 114.1h5.6m-2.8-2.8v5.6M143.9 106.0h5.6m-2.8-2.8v5.6M313.8 157.0h5.6m-2.8-2.8v5.6M284.1 128.2h5.6m-2.8-2.8v5.6M228.3 91.1h5.6m-2.8-2.8v5.6M318.5 136.4h5.6m-2.8-2.8v5.6M277.7 127.7h5.6m-2.8-2.8v5.6M137.5 107.4h5.6m-2.8-2.8v5.6M315.0 112.1h5.6m-2.8-2.8v5.6M87.6 76.5h5.6m-2.8-2.8v5.6M203.6 87.8h5.6m-2.8-2.8v5.6M316.9 134.1h5.6m-2.8-2.8v5.6M304.8 148.2h5.6m-2.8-2.8v5.6M222.8 119.3h5.6m-2.8-2.8v5.6M234.9 107.6h5.6m-2.8-2.8v5.6M70.5 79.8h5.6m-2.8-2.8v5.6M130.5 76.3h5.6m-2.8-2.8v5.6M193.4 103.2h5.6m-2.8-2.8v5.6M266.9 106.1h5.6m-2.8-2.8v5.6M311.0 136.2h5.6m-2.8-2.8v5.6M108.4 75.3h5.6m-2.8-2.8v5.6M270.3 132.9h5.6m-2.8-2.8v5.6M75.7 69.0h5.6m-2.8-2.8v5.6M73.1 82.5h5.6m-2.8-2.8v5.6M100.6 93.5h5.6m-2.8-2.8v5.6M132.3 107.9h5.6m-2.8-2.8v5.6M302.2 136.2h5.6m-2.8-2.8v5.6M217.7 72.6h5.6m-2.8-2.8v5.6M91.2 73.1h5.6m-2.8-2.8v5.6M247.0 120.8h5.6m-2.8-2.8v5.6M138.7 80.5h5.6m-2.8-2.8v5.6M282.8 124.1h5.6m-2.8-2.8v5.6M314.6 141.9h5.6m-2.8-2.8v5.6M268.0 108.2h5.6m-2.8-2.8v5.6M287.2 85.5h5.6m-2.8-2.8v5.6M65.4 90.0h5.6m-2.8-2.8v5.6M134.1 63.7h5.6m-2.8-2.8v5.6M276.6 116.3h5.6m-2.8-2.8v5.6M265.5 115.9h5.6m-2.8-2.8v5.6M270.0 110.5h5.6m-2.8-2.8v5.6M300.8 119.4h5.6m-2.8-2.8v5.6M172.3 94.8h5.6m-2.8-2.8v5.6M141.9 93.1h5.6m-2.8-2.8v5.6M302.6 139.6h5.6m-2.8-2.8v5.6M161.0 70.8h5.6m-2.8-2.8v5.6M308.0 120.1h5.6m-2.8-2.8v5.6M183.6 83.5h5.6m-2.8-2.8v5.6M316.1 139.3h5.6m-2.8-2.8v5.6M165.3 89.9h5.6m-2.8-2.8v5.6M133.1 90.3h5.6m-2.8-2.8v5.6M89.5 88.4h5.6m-2.8-2.8v5.6M150.8 96.3h5.6m-2.8-2.8v5.6M100.3 103.5h5.6m-2.8-2.8v5.6M273.1 139.2h5.6m-2.8-2.8v5.6M278.9 127.2h5.6m-2.8-2.8v5.6M277.9 117.8h5.6m-2.8-2.8v5.6M124.2 87.5h5.6m-2.8-2.8v5.6M71.5 87.5h5.6m-2.8-2.8v5.6M222.8 101.7h5.6m-2.8-2.8v5.6M318.3 134.7h5.6m-2.8-2.8v5.6M105.1 73.8h5.6m-2.8-2.8v5.6M254.1 120.5h5.6m-2.8-2.8v5.6M222.9 79.1h5.6m-2.8-2.8v5.6M213.4 113.0h5.6m-2.8-2.8v5.6M85.9 101.0h5.6m-2.8-2.8v5.6M139.2 102.1h5.6m-2.8-2.8v5.6M154.9 83.3h5.6m-2.8-2.8v5.6M77.6 102.1h5.6m-2.8-2.8v5.6M142.9 67.0h5.6m-2.8-2.8v5.6M307.6 130.6h5.6m-2.8-2.8v5.6M244.5 138.9h5.6m-2.8-2.8v5.6M58.4 74.2h5.6m-2.8-2.8v5.6M306.4 137.9h5.6m-2.8-2.8v5.6M308.0 139.7h5.6m-2.8-2.8v5.6M281.9 139.8h5.6m-2.8-2.8v5.6M164.2 81.9h5.6m-2.8-2.8v5.6M292.7 142.9h5.6m-2.8-2.8v5.6M319.5 146.5h5.6m-2.8-2.8v5.6M245.7 108.8h5.6m-2.8-2.8v5.6M233.3 87.7h5.6m-2.8-2.8v5.6M184.4 91.2h5.6m-2.8-2.8v5.6M247.3 116.7h5.6m-2.8-2.8v5.6M301.5 110.0h5.6m-2.8-2.8v5.6M118.2 72.2h5.6m-2.8-2.8v5.6M256.5 109.9h5.6m-2.8-2.8v5.6M208.7 103.4h5.6m-2.8-2.8v5.6M168.7 104.8h5.6m-2.8-2.8v5.6M166.0 92.2h5.6m-2.8-2.8v5.6M110.3 80.3h5.6m-2.8-2.8v5.6M275.2 129.5h5.6m-2.8-2.8v5.6M224.1 94.0h5.6m-2.8-2.8v5.6M319.4 134.1h5.6m-2.8-2.8v5.6M189.4 112.5h5.6m-2.8-2.8v5.6M247.4 108.8h5.6m-2.8-2.8v5.6M215.3 77.2h5.6m-2.8-2.8v5.6M186.3 87.9h5.6m-2.8-2.8v5.6M263.2 121.7h5.6m-2.8-2.8v5.6M178.6 82.2h5.6m-2.8-2.8v5.6M243.7 122.9h5.6m-2.8-2.8v5.6M324.0 127.8h5.6m-2.8-2.8v5.6M253.5 145.6h5.6m-2.8-2.8v5.6M152.4 88.7h5.6m-2.8-2.8v5.6M268.9 104.3h5.6m-2.8-2.8v5.6M87.7 84.8h5.6m-2.8-2.8v5.6M290.6 124.8h5.6m-2.8-2.8v5.6M302.5 149.6h5.6m-2.8-2.8v5.6M285.6 95.8h5.6m-2.8-2.8v5.6M91.6 68.8h5.6m-2.8-2.8v5.6M268.7 136.7h5.6m-2.8-2.8v5.6M172.6 82.4h5.6m-2.8-2.8v5.6M165.6 86.5h5.6m-2.8-2.8v5.6M185.2 85.7h5.6m-2.8-2.8v5.6M295.4 150.2h5.6m-2.8-2.8v5.6M217.3 87.8h5.6m-2.8-2.8v5.6M131.6 77.7h5.6m-2.8-2.8v5.6M306.2 105.6h5.6m-2.8-2.8v5.6M266.7 119.8h5.6m-2.8-2.8v5.6M214.9 119.7h5.6m-2.8-2.8v5.6M294.8 147.5h5.6m-2.8-2.8v5.6M142.2 69.7h5.6m-2.8-2.8v5.6M207.4 103.9h5.6m-2.8-2.8v5.6M243.0 116.5h5.6m-2.8-2.8v5.6M201.7 128.1h5.6m-2.8-2.8v5.6M100.3 66.3h5.6m-2.8-2.8v5.6M312.7 140.6h5.6m-2.8-2.8v5.6M275.4 112.9h5.6m-2.8-2.8v5.6M145.8 78.3h5.6m-2.8-2.8v5.6M343.5 139.1h5.6m-2.8-2.8v5.6M212.3 89.5h5.6m-2.8-2.8v5.6M134.1 71.4h5.6m-2.8-2.8v5.6M296.4 125.8h5.6m-2.8-2.8v5.6M283.2 111.4h5.6m-2.8-2.8v5.6M290.7 138.2h5.6m-2.8-2.8v5.6M140.4 86.1h5.6m-2.8-2.8v5.6M331.8 139.9h5.6m-2.8-2.8v5.6M232.3 117.4h5.6m-2.8-2.8v5.6M310.8 130.2h5.6m-2.8-2.8v5.6M213.9 83.1h5.6m-2.8-2.8v5.6M81.7 81.4h5.6m-2.8-2.8v5.6M111.7 90.8h5.6m-2.8-2.8v5.6M285.0 147.6h5.6m-2.8-2.8v5.6M78.8 67.2h5.6m-2.8-2.8v5.6M312.8 129.6h5.6m-2.8-2.8v5.6M242.4 110.8h5.6m-2.8-2.8v5.6M241.4 96.6h5.6m-2.8-2.8v5.6M152.2 86.1h5.6m-2.8-2.8v5.6M319.4 129.9h5.6m-2.8-2.8v5.6M273.0 134.4h5.6m-2.8-2.8v5.6M183.7 66.4h5.6m-2.8-2.8v5.6M230.9 121.2h5.6m-2.8-2.8v5.6M86.4 62.8h5.6m-2.8-2.8v5.6M277.9 140.0h5.6m-2.8-2.8v5.6M287.2 113.5h5.6m-2.8-2.8v5.6M100.3 85.4h5.6m-2.8-2.8v5.6M286.5 121.1h5.6m-2.8-2.8v5.6M130.7 71.2h5.6m-2.8-2.8v5.6M324.5 126.8h5.6m-2.8-2.8v5.6M308.3 125.9h5.6m-2.8-2.8v5.6M293.3 92.3h5.6m-2.8-2.8v5.6M300.1 133.4h5.6m-2.8-2.8v5.6M144.1 72.3h5.6m-2.8-2.8v5.6M260.9 110.1h5.6m-2.8-2.8v5.6M109.1 88.1h5.6m-2.8-2.8v5.6M269.6 121.6h5.6m-2.8-2.8v5.6M205.7 101.8h5.6m-2.8-2.8v5.6M99.4 92.8h5.6m-2.8-2.8v5.6M307.0 136.1h5.6m-2.8-2.8v5.6M297.7 116.6h5.6m-2.8-2.8v5.6M279.9 109.0h5.6m-2.8-2.8v5.6M306.5 159.2h5.6m-2.8-2.8v5.6M270.3 95.8h5.6m-2.8-2.8v5.6M201.1 97.8h5.6m-2.8-2.8v5.6M260.2 129.4h5.6m-2.8-2.8v5.6M143.4 107.9h5.6m-2.8-2.8v5.6M272.9 104.6h5.6m-2.8-2.8v5.6M111.6 82.3h5.6m-2.8-2.8v5.6M148.3 87.3h5.6m-2.8-2.8v5.6M87.9 83.5h5.6m-2.8-2.8v5.6M247.7 100.8h5.6m-2.8-2.8v5.6M279.4 126.6h5.6m-2.8-2.8v5.6M269.2 129.9h5.6m-2.8-2.8v5.6M60.2 79.5h5.6m-2.8-2.8v5.6M323.5 127.7h5.6m-2.8-2.8v5.6M134.2 94.6h5.6m-2.8-2.8v5.6M115.1 74.2h5.6m-2.8-2.8v5.6M269.8 119.9h5.6m-2.8-2.8v5.6M289.5 131.1h5.6m-2.8-2.8v5.6M194.7 85.9h5.6m-2.8-2.8v5.6M261.9 114.8h5.6m-2.8-2.8v5.6M292.3 139.7h5.6m-2.8-2.8v5.6M161.6 87.9h5.6m-2.8-2.8v5.6M319.3 119.2h5.6m-2.8-2.8v5.6M109.0 67.6h5.6m-2.8-2.8v5.6M111.5 85.2h5.6m-2.8-2.8v5.6M80.4 71.1h5.6m-2.8-2.8v5.6M64.9 72.2h5.6m-2.8-2.8v5.6M136.3 96.4h5.6m-2.8-2.8v5.6M313.0 112.5h5.6m-2.8-2.8v5.6M217.5 91.1h5.6m-2.8-2.8v5.6M100.6 69.9h5.6m-2.8-2.8v5.6M304.6 131.0h5.6m-2.8-2.8v5.6M322.5 128.0h5.6m-2.8-2.8v5.6M87.1 74.6h5.6m-2.8-2.8v5.6M269.9 124.2h5.6m-2.8-2.8v5.6M302.0 142.9h5.6m-2.8-2.8v5.6M321.4 157.9h5.6m-2.8-2.8v5.6M326.3 127.0h5.6m-2.8-2.8v5.6M315.8 121.7h5.6m-2.8-2.8v5.6M244.9 104.8h5.6m-2.8-2.8v5.6M170.0 90.6h5.6m-2.8-2.8v5.6M96.7 74.2h5.6m-2.8-2.8v5.6M257.0 107.1h5.6m-2.8-2.8v5.6M274.8 120.9h5.6m-2.8-2.8v5.6M319.7 151.1h5.6m-2.8-2.8v5.6M115.1 92.3h5.6m-2.8-2.8v5.6M279.1 135.7h5.6m-2.8-2.8v5.6M213.7 98.0h5.6m-2.8-2.8v5.6M224.5 103.8h5.6m-2.8-2.8v5.6M136.9 95.0h5.6m-2.8-2.8v5.6M311.6 127.3h5.6m-2.8-2.8v5.6M240.5 99.4h5.6m-2.8-2.8v5.6M331.3 151.8h5.6m-2.8-2.8v5.6M251.6 100.6h5.6m-2.8-2.8v5.6M314.2 135.5h5.6m-2.8-2.8v5.6M223.0 88.0h5.6m-2.8-2.8v5.6M63.6 82.6h5.6m-2.8-2.8v5.6M285.0 117.4h5.6m-2.8-2.8v5.6M322.2 134.2h5.6m-2.8-2.8v5.6M295.3 146.4h5.6m-2.8-2.8v5.6M294.3 128.0h5.6m-2.8-2.8v5.6M204.6 88.9h5.6m-2.8-2.8v5.6M250.6 91.9h5.6m-2.8-2.8v5.6M245.5 91.3h5.6m-2.8-2.8v5.6M221.5 103.6h5.6m-2.8-2.8v5.6M291.5 131.1h5.6m-2.8-2.8v5.6M271.7 114.9h5.6m-2.8-2.8v5.6M315.3 149.5h5.6m-2.8-2.8v5.6M299.3 93.5h5.6m-2.8-2.8v5.6M333.2 135.4h5.6m-2.8-2.8v5.6M272.0 124.7h5.6m-2.8-2.8v5.6M165.2 105.3h5.6m-2.8-2.8v5.6M104.3 92.2h5.6m-2.8-2.8v5.6M223.9 87.8h5.6m-2.8-2.8v5.6M94.0 63.3h5.6m-2.8-2.8v5.6M227.7 94.2h5.6m-2.8-2.8v5.6M287.7 121.1h5.6m-2.8-2.8v5.6M108.8 101.9h5.6m-2.8-2.8v5.6M273.0 95.8h5.6m-2.8-2.8v5.6M245.2 107.8h5.6m-2.8-2.8v5.6M303.4 114.4h5.6m-2.8-2.8v5.6M312.0 110.9h5.6m-2.8-2.8v5.6M225.4 85.3h5.6m-2.8-2.8v5.6M298.5 129.9h5.6m-2.8-2.8v5.6M124.3 77.1h5.6m-2.8-2.8v5.6M121.1 87.6h5.6m-2.8-2.8v5.6M193.7 137.0h5.6m-2.8-2.8v5.6M238.3 127.9h5.6m-2.8-2.8v5.6M298.9 103.9h5.6m-2.8-2.8v5.6M252.4 68.9h5.6m-2.8-2.8v5.6M183.0 87.4h5.6m-2.8-2.8v5.6M84.6 71.1h5.6m-2.8-2.8v5.6M233.8 86.4h5.6m-2.8-2.8v5.6M319.3 145.0h5.6m-2.8-2.8v5.6M256.4 123.4h5.6m-2.8-2.8v5.6M196.8 85.4h5.6m-2.8-2.8v5.6M322.8 147.2h5.6m-2.8-2.8v5.6M263.9 83.7h5.6m-2.8-2.8v5.6M198.4 117.5h5.6m-2.8-2.8v5.6M210.0 92.9h5.6m-2.8-2.8v5.6M272.5 117.2h5.6m-2.8-2.8v5.6M231.5 106.2h5.6m-2.8-2.8v5.6M226.8 73.2h5.6m-2.8-2.8v5.6M318.5 126.2h5.6m-2.8-2.8v5.6M289.2 125.7h5.6m-2.8-2.8v5.6M85.4 63.4h5.6m-2.8-2.8v5.6M315.5 135.2h5.6m-2.8-2.8v5.6M197.9 100.0h5.6m-2.8-2.8v5.6M289.6 151.5h5.6m-2.8-2.8v5.6M97.4 92.6h5.6m-2.8-2.8v5.6M123.5 74.3h5.6m-2.8-2.8v5.6M288.5 153.5h5.6m-2.8-2.8v5.6M124.9 78.8h5.6m-2.8-2.8v5.6M264.0 123.5h5.6m-2.8-2.8v5.6M309.0 103.3h5.6m-2.8-2.8v5.6M274.7 138.4h5.6m-2.8-2.8v5.6M296.9 132.5h5.6m-2.8-2.8v5.6M313.3 140.4h5.6m-2.8-2.8v5.6M116.4 84.0h5.6m-2.8-2.8v5.6M324.8 142.7h5.6m-2.8-2.8v5.6M285.7 116.9h5.6m-2.8-2.8v5.6M274.2 121.7h5.6m-2.8-2.8v5.6M285.0 139.3h5.6m-2.8-2.8v5.6M201.3 90.2h5.6m-2.8-2.8v5.6M193.3 79.3h5.6m-2.8-2.8v5.6M70.0 79.1h5.6m-2.8-2.8v5.6M155.1 74.1h5.6m-2.8-2.8v5.6M219.9 105.5h5.6m-2.8-2.8v5.6M234.9 120.8h5.6m-2.8-2.8v5.6M163.0 99.3h5.6m-2.8-2.8v5.6M227.1 104.7h5.6m-2.8-2.8v5.6M300.4 130.1h5.6m-2.8-2.8v5.6M101.9 70.6h5.6m-2.8-2.8v5.6M326.3 128.3h5.6m-2.8-2.8v5.6M171.3 84.9h5.6m-2.8-2.8v5.6M234.3 112.1h5.6m-2.8-2.8v5.6M229.6 122.6h5.6m-2.8-2.8v5.6M189.2 95.5h5.6m-2.8-2.8v5.6M297.7 96.2h5.6m-2.8-2.8v5.6M304.7 143.4h5.6m-2.8-2.8v5.6M251.7 116.7h5.6m-2.8-2.8v5.6M276.5 152.2h5.6m-2.8-2.8v5.6M284.0 110.4h5.6m-2.8-2.8v5.6M127.8 103.2h5.6m-2.8-2.8v5.6M283.7 120.7h5.6m-2.8-2.8v5.6M320.5 134.1h5.6m-2.8-2.8v5.6M318.9 130.8h5.6m-2.8-2.8v5.6M159.6 120.5h5.6m-2.8-2.8v5.6M314.0 141.8h5.6m-2.8-2.8v5.6M297.5 128.5h5.6m-2.8-2.8v5.6M96.0 63.1h5.6m-2.8-2.8v5.6M320.0 124.6h5.6m-2.8-2.8v5.6M279.1 108.3h5.6m-2.8-2.8v5.6M295.3 139.4h5.6m-2.8-2.8v5.6M284.1 120.3h5.6m-2.8-2.8v5.6M266.6 131.8h5.6m-2.8-2.8v5.6M229.1 113.6h5.6m-2.8-2.8v5.6M138.8 76.7h5.6m-2.8-2.8v5.6M265.9 129.4h5.6m-2.8-2.8v5.6M311.0 145.1h5.6m-2.8-2.8v5.6M268.0 118.5h5.6m-2.8-2.8v5.6M295.8 118.5h5.6m-2.8-2.8v5.6M101.4 73.7h5.6m-2.8-2.8v5.6M287.3 124.3h5.6m-2.8-2.8v5.6M288.4 130.6h5.6m-2.8-2.8v5.6M297.6 122.8h5.6m-2.8-2.8v5.6M289.9 142.5h5.6m-2.8-2.8v5.6M163.8 99.2h5.6m-2.8-2.8v5.6M291.8 130.5h5.6m-2.8-2.8v5.6M249.3 115.5h5.6m-2.8-2.8v5.6M215.3 84.3h5.6m-2.8-2.8v5.6M133.6 78.5h5.6m-2.8-2.8v5.6M134.0 81.8h5.6m-2.8-2.8v5.6M294.8 137.6h5.6m-2.8-2.8v5.6M257.3 121.9h5.6m-2.8-2.8v5.6M109.6 84.0h5.6m-2.8-2.8v5.6M104.2 88.6h5.6m-2.8-2.8v5.6M182.6 88.8h5.6m-2.8-2.8v5.6M306.6 122.3h5.6m-2.8-2.8v5.6M297.5 153.2h5.6m-2.8-2.8v5.6M86.7 65.4h5.6m-2.8-2.8v5.6M132.9 97.4h5.6m-2.8-2.8v5.6M293.9 117.2h5.6m-2.8-2.8v5.6M113.0 80.4h5.6m-2.8-2.8v5.6M281.5 135.9h5.6m-2.8-2.8v5.6M313.9 136.9h5.6m-2.8-2.8v5.6M321.1 134.4h5.6m-2.8-2.8v5.6M289.4 134.7h5.6m-2.8-2.8v5.6M297.1 139.4h5.6m-2.8-2.8v5.6M193.8 99.0h5.6m-2.8-2.8v5.6M149.5 97.4h5.6m-2.8-2.8v5.6M183.9 82.3h5.6m-2.8-2.8v5.6M334.0 139.7h5.6m-2.8-2.8v5.6M165.8 98.5h5.6m-2.8-2.8v5.6M282.1 128.6h5.6m-2.8-2.8v5.6M269.5 105.7h5.6m-2.8-2.8v5.6M313.4 151.2h5.6m-2.8-2.8v5.6M305.7 122.6h5.6m-2.8-2.8v5.6M153.7 83.4h5.6m-2.8-2.8v5.6M293.3 132.1h5.6m-2.8-2.8v5.6M283.5 144.1h5.6m-2.8-2.8v5.6M183.4 90.5h5.6m-2.8-2.8v5.6M261.1 114.8h5.6m-2.8-2.8v5.6M108.8 91.5h5.6m-2.8-2.8v5.6M194.9 90.4h5.6m-2.8-2.8v5.6M79.2 86.5h5.6m-2.8-2.8v5.6M165.2 104.9h5.6m-2.8-2.8v5.6M94.0 93.1h5.6m-2.8-2.8v5.6M277.3 131.8h5.6m-2.8-2.8v5.6M329.8 154.8h5.6m-2.8-2.8v5.6M272.0 102.2h5.6m-2.8-2.8v5.6M257.5 100.4h5.6m-2.8-2.8v5.6M314.9 136.7h5.6m-2.8-2.8v5.6M72.4 106.4h5.6m-2.8-2.8v5.6M282.6 84.6h5.6m-2.8-2.8v5.6M246.7 99.1h5.6m-2.8-2.8v5.6M127.4 82.1h5.6m-2.8-2.8v5.6M289.5 145.3h5.6m-2.8-2.8v5.6M119.3 72.3h5.6m-2.8-2.8v5.6M271.8 119.5h5.6m-2.8-2.8v5.6M181.9 85.6h5.6m-2.8-2.8v5.6M146.2 96.1h5.6m-2.8-2.8v5.6M108.4 94.5h5.6m-2.8-2.8v5.6M174.7 101.9h5.6m-2.8-2.8v5.6M318.9 126.5h5.6m-2.8-2.8v5.6M143.5 104.2h5.6m-2.8-2.8v5.6M83.3 93.7h5.6m-2.8-2.8v5.6M184.6 107.0h5.6m-2.8-2.8v5.6M154.0 73.6h5.6m-2.8-2.8v5.6M173.1 83.5h5.6m-2.8-2.8v5.6M162.2 93.6h5.6m-2.8-2.8v5.6M189.7 89.3h5.6m-2.8-2.8v5.6M79.8 106.1h5.6m-2.8-2.8v5.6M322.7 134.2h5.6m-2.8-2.8v5.6M182.4 81.8h5.6m-2.8-2.8v5.6M123.7 78.3h5.6m-2.8-2.8v5.6M312.2 146.5h5.6m-2.8-2.8v5.6M260.6 104.9h5.6m-2.8-2.8v5.6M308.1 122.9h5.6m-2.8-2.8v5.6M322.6 149.7h5.6m-2.8-2.8v5.6M262.2 109.1h5.6m-2.8-2.8v5.6M303.6 120.1h5.6m-2.8-2.8v5.6M284.9 120.1h5.6m-2.8-2.8v5.6M290.0 116.4h5.6m-2.8-2.8v5.6M113.5 67.9h5.6m-2.8-2.8v5.6M98.1 72.9h5.6m-2.8-2.8v5.6M292.1 141.6h5.6m-2.8-2.8v5.6M247.7 119.0h5.6m-2.8-2.8v5.6M264.1 109.7h5.6m-2.8-2.8v5.6M318.5 149.5h5.6m-2.8-2.8v5.6M160.6 87.0h5.6m-2.8-2.8v5.6M154.2 91.7h5.6m-2.8-2.8v5.6M310.6 121.0h5.6m-2.8-2.8v5.6M315.1 119.3h5.6m-2.8-2.8v5.6M186.0 115.3h5.6m-2.8-2.8v5.6M288.1 136.2h5.6m-2.8-2.8v5.6M221.1 103.4h5.6m-2.8-2.8v5.6M251.1 97.3h5.6m-2.8-2.8v5.6M215.0 100.4h5.6m-2.8-2.8v5.6M152.8 85.7h5.6m-2.8-2.8v5.6M312.4 139.2h5.6m-2.8-2.8v5.6M136.3 115.4h5.6m-2.8-2.8v5.6M290.1 125.9h5.6m-2.8-2.8v5.6M272.0 94.8h5.6m-2.8-2.8v5.6M327.9 154.0h5.6m-2.8-2.8v5.6M287.4 128.0h5.6m-2.8-2.8v5.6M112.5 84.0h5.6m-2.8-2.8v5.6M265.9 128.0h5.6m-2.8-2.8v5.6M147.6 93.9h5.6m-2.8-2.8v5.6M183.0 71.4h5.6m-2.8-2.8v5.6M291.8 153.8h5.6m-2.8-2.8v5.6M254.3 131.4h5.6m-2.8-2.8v5.6M321.5 136.6h5.6m-2.8-2.8v5.6M161.2 94.0h5.6m-2.8-2.8v5.6M309.7 127.3h5.6m-2.8-2.8v5.6M151.5 86.4h5.6m-2.8-2.8v5.6M322.2 139.1h5.6m-2.8-2.8v5.6M286.9 134.9h5.6m-2.8-2.8v5.6M280.3 145.4h5.6m-2.8-2.8v5.6M292.1 133.7h5.6m-2.8-2.8v5.6M194.5 103.8h5.6m-2.8-2.8v5.6M271.2 137.6h5.6m-2.8-2.8v5.6M276.7 109.4h5.6m-2.8-2.8v5.6M288.0 129.0h5.6m-2.8-2.8v5.6M258.3 129.7h5.6m-2.8-2.8v5.6M323.6 151.0h5.6m-2.8-2.8v5.6M314.8 156.3h5.6m-2.8-2.8v5.6M159.0 102.6h5.6m-2.8-2.8v5.6M300.9 150.2h5.6m-2.8-2.8v5.6M274.0 112.7h5.6m-2.8-2.8v5.6M325.4 126.9h5.6m-2.8-2.8v5.6M186.6 95.3h5.6m-2.8-2.8v5.6M307.1 135.1h5.6m-2.8-2.8v5.6M249.4 103.4h5.6m-2.8-2.8v5.6M234.9 96.1h5.6m-2.8-2.8v5.6M328.0 132.5h5.6m-2.8-2.8v5.6M80.0 66.1h5.6m-2.8-2.8v5.6M207.2 102.6h5.6m-2.8-2.8v5.6M328.2 127.5h5.6m-2.8-2.8v5.6M338.7 125.8h5.6m-2.8-2.8v5.6M310.9 144.7h5.6m-2.8-2.8v5.6M259.3 94.1h5.6m-2.8-2.8v5.6M279.5 109.3h5.6m-2.8-2.8v5.6M230.5 82.5h5.6m-2.8-2.8v5.6M286.1 153.2h5.6m-2.8-2.8v5.6M273.4 113.7h5.6m-2.8-2.8v5.6M204.1 121.6h5.6m-2.8-2.8v5.6M137.4 96.1h5.6m-2.8-2.8v5.6M292.2 108.5h5.6m-2.8-2.8v5.6M132.7 89.6h5.6m-2.8-2.8v5.6M289.5 141.9h5.6m-2.8-2.8v5.6M118.8 86.1h5.6m-2.8-2.8v5.6M220.7 114.8h5.6m-2.8-2.8v5.6M294.4 136.8h5.6m-2.8-2.8v5.6M168.0 112.2h5.6m-2.8-2.8v5.6M251.7 109.1h5.6m-2.8-2.8v5.6M245.3 116.6h5.6m-2.8-2.8v5.6M323.8 131.0h5.6m-2.8-2.8v5.6M266.3 146.6h5.6m-2.8-2.8v5.6M197.6 97.7h5.6m-2.8-2.8v5.6M204.0 87.4h5.6m-2.8-2.8v5.6M285.5 134.4h5.6m-2.8-2.8v5.6M275.4 94.8h5.6m-2.8-2.8v5.6M156.1 92.1h5.6m-2.8-2.8v5.6M124.8 93.3h5.6m-2.8-2.8v5.6M300.6 121.6h5.6m-2.8-2.8v5.6M193.3 86.3h5.6m-2.8-2.8v5.6M319.0 127.3h5.6m-2.8-2.8v5.6M90.6 92.6h5.6m-2.8-2.8v5.6M82.9 83.6h5.6m-2.8-2.8v5.6M57.5 73.6h5.6m-2.8-2.8v5.6M253.2 128.4h5.6m-2.8-2.8v5.6M260.2 103.5h5.6m-2.8-2.8v5.6M124.5 32.6h5.6m-2.8-2.8v5.6M285.9 132.9h5.6m-2.8-2.8v5.6M221.7 98.7h5.6m-2.8-2.8v5.6M278.1 106.8h5.6m-2.8-2.8v5.6M135.8 85.8h5.6m-2.8-2.8v5.6M298.2 135.4h5.6m-2.8-2.8v5.6M298.6 134.1h5.6m-2.8-2.8v5.6M300.9 124.6h5.6m-2.8-2.8v5.6M298.0 111.7h5.6m-2.8-2.8v5.6M219.6 118.9h5.6m-2.8-2.8v5.6M276.6 124.5h5.6m-2.8-2.8v5.6M244.4 102.3h5.6m-2.8-2.8v5.6M328.3 145.3h5.6m-2.8-2.8v5.6M234.2 94.7h5.6m-2.8-2.8v5.6M307.5 142.7h5.6m-2.8-2.8v5.6M290.8 116.5h5.6m-2.8-2.8v5.6M292.0 125.5h5.6m-2.8-2.8v5.6M227.9 112.4h5.6m-2.8-2.8v5.6M273.5 147.3h5.6m-2.8-2.8v5.6M149.2 78.6h5.6m-2.8-2.8v5.6M293.0 106.8h5.6m-2.8-2.8v5.6M304.9 132.5h5.6m-2.8-2.8v5.6M65.3 92.0h5.6m-2.8-2.8v5.6M272.8 146.6h5.6m-2.8-2.8v5.6M193.6 96.4h5.6m-2.8-2.8v5.6M330.2 137.5h5.6m-2.8-2.8v5.6M260.3 115.5h5.6m-2.8-2.8v5.6M268.9 156.4h5.6m-2.8-2.8v5.6M117.0 93.2h5.6m-2.8-2.8v5.6M172.7 86.5h5.6m-2.8-2.8v5.6M308.7 141.4h5.6m-2.8-2.8v5.6M203.8 105.3h5.6m-2.8-2.8v5.6M181.4 89.3h5.6m-2.8-2.8v5.6M101.8 99.1h5.6m-2.8-2.8v5.6M320.3 133.1h5.6m-2.8-2.8v5.6M180.6 86.1h5.6m-2.8-2.8v5.6M191.4 88.2h5.6m-2.8-2.8v5.6M324.5 128.3h5.6m-2.8-2.8v5.6M324.7 138.5h5.6m-2.8-2.8v5.6M82.5 77.4h5.6m-2.8-2.8v5.6M274.2 124.8h5.6m-2.8-2.8v5.6M321.7 139.8h5.6m-2.8-2.8v5.6M246.7 85.9h5.6m-2.8-2.8v5.6M78.1 60.5h5.6m-2.8-2.8v5.6M269.4 120.8h5.6m-2.8-2.8v5.6M180.0 85.7h5.6m-2.8-2.8v5.6M76.7 69.8h5.6m-2.8-2.8v5.6M323.7 117.4h5.6m-2.8-2.8v5.6M222.3 108.8h5.6m-2.8-2.8v5.6M264.2 125.2h5.6m-2.8-2.8v5.6M190.7 96.9h5.6m-2.8-2.8v5.6M240.1 118.7h5.6m-2.8-2.8v5.6M152.7 86.7h5.6m-2.8-2.8v5.6M196.3 105.2h5.6m-2.8-2.8v5.6M238.1 91.0h5.6m-2.8-2.8v5.6M283.8 119.0h5.6m-2.8-2.8v5.6M259.9 111.0h5.6m-2.8-2.8v5.6M96.2 75.1h5.6m-2.8-2.8v5.6M300.4 142.0h5.6m-2.8-2.8v5.6M137.3 80.8h5.6m-2.8-2.8v5.6M110.7 68.9h5.6m-2.8-2.8v5.6M213.1 122.5h5.6m-2.8-2.8v5.6M114.7 79.0h5.6m-2.8-2.8v5.6M121.3 98.8h5.6m-2.8-2.8v5.6M325.8 151.0h5.6m-2.8-2.8v5.6M157.2 78.5h5.6m-2.8-2.8v5.6M319.9 153.7h5.6m-2.8-2.8v5.6M292.9 139.4h5.6m-2.8-2.8v5.6M176.4 98.2h5.6m-2.8-2.8v5.6M254.9 125.0h5.6m-2.8-2.8v5.6M190.6 101.5h5.6m-2.8-2.8v5.6M299.5 133.2h5.6m-2.8-2.8v5.6M107.4 82.8h5.6m-2.8-2.8v5.6M116.8 76.6h5.6m-2.8-2.8v5.6M159.9 71.9h5.6m-2.8-2.8v5.6M245.8 100.3h5.6m-2.8-2.8v5.6M71.6 67.0h5.6m-2.8-2.8v5.6M271.9 130.4h5.6m-2.8-2.8v5.6M204.6 100.3h5.6m-2.8-2.8v5.6M205.8 96.9h5.6m-2.8-2.8v5.6M284.2 118.7h5.6m-2.8-2.8v5.6M271.3 124.8h5.6m-2.8-2.8v5.6M308.1 127.2h5.6m-2.8-2.8v5.6M208.4 121.4h5.6m-2.8-2.8v5.6M286.3 152.0h5.6m-2.8-2.8v5.6M265.5 119.2h5.6m-2.8-2.8v5.6M83.8 72.1h5.6m-2.8-2.8v5.6M113.6 75.2h5.6m-2.8-2.8v5.6M116.1 72.4h5.6m-2.8-2.8v5.6M328.4 139.9h5.6m-2.8-2.8v5.6M180.4 75.6h5.6m-2.8-2.8v5.6M297.0 122.7h5.6m-2.8-2.8v5.6M324.0 152.5h5.6m-2.8-2.8v5.6M99.5 61.5h5.6m-2.8-2.8v5.6" fill="none" stroke="#000" stroke-width="0.8" stroke-opacity="0.52"/><path d="M89.2 307.4h5.6m-2.8-2.8v5.6M81.0 319.7h5.6m-2.8-2.8v5.6M285.7 379.6h5.6m-2.8-2.8v5.6M161.0 346.4h5.6m-2.8-2.8v5.6M281.9 385.4h5.6m-2.8-2.8v5.6M180.1 371.8h5.6m-2.8-2.8v5.6M112.1 340.7h5.6m-2.8-2.8v5.6M249.2 358.6h5.6m-2.8-2.8v5.6M160.5 328.9h5.6m-2.8-2.8v5.6M97.7 358.1h5.6m-2.8-2.8v5.6M128.7 356.4h5.6m-2.8-2.8v5.6M215.3 350.3h5.6m-2.8-2.8v5.6M313.1 385.1h5.6m-2.8-2.8v5.6M197.2 366.8h5.6m-2.8-2.8v5.6M111.2 328.8h5.6m-2.8-2.8v5.6M198.4 365.5h5.6m-2.8-2.8v5.6M152.1 358.8h5.6m-2.8-2.8v5.6M105.8 346.4h5.6m-2.8-2.8v5.6M187.6 346.8h5.6m-2.8-2.8v5.6M68.0 335.8h5.6m-2.8-2.8v5.6M293.9 389.8h5.6m-2.8-2.8v5.6M115.2 328.8h5.6m-2.8-2.8v5.6M74.0 342.6h5.6m-2.8-2.8v5.6M218.7 367.0h5.6m-2.8-2.8v5.6M172.0 367.0h5.6m-2.8-2.8v5.6M207.7 368.0h5.6m-2.8-2.8v5.6M241.2 374.9h5.6m-2.8-2.8v5.6M154.9 349.4h5.6m-2.8-2.8v5.6M93.6 342.6h5.6m-2.8-2.8v5.6M210.4 339.9h5.6m-2.8-2.8v5.6M70.6 333.2h5.6m-2.8-2.8v5.6M113.4 334.7h5.6m-2.8-2.8v5.6M302.9 367.5h5.6m-2.8-2.8v5.6M164.5 374.5h5.6m-2.8-2.8v5.6M294.1 373.8h5.6m-2.8-2.8v5.6M86.1 331.8h5.6m-2.8-2.8v5.6M287.6 392.5h5.6m-2.8-2.8v5.6M286.7 390.5h5.6m-2.8-2.8v5.6M281.1 377.4h5.6m-2.8-2.8v5.6M274.2 382.4h5.6m-2.8-2.8v5.6M231.2 364.2h5.6m-2.8-2.8v5.6M73.4 351.9h5.6m-2.8-2.8v5.6M246.6 369.2h5.6m-2.8-2.8v5.6M71.3 328.3h5.6m-2.8-2.8v5.6M310.9 384.9h5.6m-2.8-2.8v5.6M280.7 390.6h5.6m-2.8-2.8v5.6M294.7 372.1h5.6m-2.8-2.8v5.6M84.1 330.2h5.6m-2.8-2.8v5.6M251.3 358.1h5.6m-2.8-2.8v5.6M310.2 375.5h5.6m-2.8-2.8v5.6M192.8 336.7h5.6m-2.8-2.8v5.6M187.0 370.8h5.6m-2.8-2.8v5.6M256.6 368.7h5.6m-2.8-2.8v5.6M71.8 319.7h5.6m-2.8-2.8v5.6M100.9 329.9h5.6m-2.8-2.8v5.6M236.4 356.6h5.6m-2.8-2.8v5.6M243.9 369.3h5.6m-2.8-2.8v5.6M67.6 326.5h5.6m-2.8-2.8v5.6M303.0 378.3h5.6m-2.8-2.8v5.6M130.5 354.8h5.6m-2.8-2.8v5.6M147.2 355.7h5.6m-2.8-2.8v5.6M177.8 362.6h5.6m-2.8-2.8v5.6M315.7 398.2h5.6m-2.8-2.8v5.6M61.1 333.0h5.6m-2.8-2.8v5.6M184.3 363.1h5.6m-2.8-2.8v5.6M143.8 344.9h5.6m-2.8-2.8v5.6M234.3 371.8h5.6m-2.8-2.8v5.6M162.6 365.6h5.6m-2.8-2.8v5.6M249.1 360.1h5.6m-2.8-2.8v5.6M111.3 345.3h5.6m-2.8-2.8v5.6M138.4 334.2h5.6m-2.8-2.8v5.6M189.2 350.3h5.6m-2.8-2.8v5.6M256.6 385.0h5.6m-2.8-2.8v5.6M140.5 361.0h5.6m-2.8-2.8v5.6M223.9 373.5h5.6m-2.8-2.8v5.6M166.1 360.2h5.6m-2.8-2.8v5.6M277.3 368.7h5.6m-2.8-2.8v5.6M278.5 394.6h5.6m-2.8-2.8v5.6M99.9 342.4h5.6m-2.8-2.8v5.6M301.2 383.5h5.6m-2.8-2.8v5.6M203.6 350.8h5.6m-2.8-2.8v5.6M241.6 372.6h5.6m-2.8-2.8v5.6M155.8 338.6h5.6m-2.8-2.8v5.6M279.8 391.3h5.6m-2.8-2.8v5.6M145.4 328.0h5.6m-2.8-2.8v5.6M148.6 379.9h5.6m-2.8-2.8v5.6M75.7 358.0h5.6m-2.8-2.8v5.6M157.8 354.5h5.6m-2.8-2.8v5.6M200.8 346.0h5.6m-2.8-2.8v5.6M215.8 375.2h5.6m-2.8-2.8v5.6M64.0 317.6h5.6m-2.8-2.8v5.6M297.8 381.4h5.6m-2.8-2.8v5.6M79.0 302.7h5.6m-2.8-2.8v5.6M215.8 352.0h5.6m-2.8-2.8v5.6M74.9 320.3h5.6m-2.8-2.8v5.6M74.5 321.8h5.6m-2.8-2.8v5.6M131.7 362.7h5.6m-2.8-2.8v5.6M68.4 328.5h5.6m-2.8-2.8v5.6M273.7 364.9h5.6m-2.8-2.8v5.6M271.4 377.9h5.6m-2.8-2.8v5.6M285.6 373.3h5.6m-2.8-2.8v5.6M283.6 384.4h5.6m-2.8-2.8v5.6M294.0 373.1h5.6m-2.8-2.8v5.6M64.4 325.4h5.6m-2.8-2.8v5.6M133.0 336.2h5.6m-2.8-2.8v5.6M246.7 354.6h5.6m-2.8-2.8v5.6M278.1 358.1h5.6m-2.8-2.8v5.6M97.7 344.3h5.6m-2.8-2.8v5.6M121.9 345.6h5.6m-2.8-2.8v5.6M251.6 359.4h5.6m-2.8-2.8v5.6M294.9 357.4h5.6m-2.8-2.8v5.6M170.7 355.2h5.6m-2.8-2.8v5.6M194.8 363.5h5.6m-2.8-2.8v5.6M100.5 329.9h5.6m-2.8-2.8v5.6M171.7 363.1h5.6m-2.8-2.8v5.6M161.5 363.1h5.6m-2.8-2.8v5.6M134.4 347.2h5.6m-2.8-2.8v5.6M67.3 324.3h5.6m-2.8-2.8v5.6M298.2 392.1h5.6m-2.8-2.8v5.6M234.4 380.5h5.6m-2.8-2.8v5.6M306.8 389.1h5.6m-2.8-2.8v5.6M111.1 338.1h5.6m-2.8-2.8v5.6M178.6 337.1h5.6m-2.8-2.8v5.6M80.6 323.3h5.6m-2.8-2.8v5.6M61.2 335.9h5.6m-2.8-2.8v5.6M254.2 366.4h5.6m-2.8-2.8v5.6M107.8 372.2h5.6m-2.8-2.8v5.6M102.3 349.2h5.6m-2.8-2.8v5.6M223.3 374.0h5.6m-2.8-2.8v5.6M84.4 332.4h5.6m-2.8-2.8v5.6M297.5 378.4h5.6m-2.8-2.8v5.6M285.4 379.8h5.6m-2.8-2.8v5.6M166.1 347.0h5.6m-2.8-2.8v5.6M310.5 381.1h5.6m-2.8-2.8v5.6M134.8 361.7h5.6m-2.8-2.8v5.6M314.5 377.8h5.6m-2.8-2.8v5.6M289.5 384.2h5.6m-2.8-2.8v5.6M65.8 349.7h5.6m-2.8-2.8v5.6M262.3 374.7h5.6m-2.8-2.8v5.6M291.8 384.8h5.6m-2.8-2.8v5.6M266.7 381.2h5.6m-2.8-2.8v5.6M254.0 388.0h5.6m-2.8-2.8v5.6M154.1 350.7h5.6m-2.8-2.8v5.6M272.7 384.7h5.6m-2.8-2.8v5.6M99.8 336.9h5.6m-2.8-2.8v5.6M287.3 409.4h5.6m-2.8-2.8v5.6M290.5 374.1h5.6m-2.8-2.8v5.6M116.3 347.9h5.6m-2.8-2.8v5.6M301.3 387.2h5.6m-2.8-2.8v5.6M279.7 396.2h5.6m-2.8-2.8v5.6M257.9 360.4h5.6m-2.8-2.8v5.6M89.0 345.2h5.6m-2.8-2.8v5.6M213.5 366.1h5.6m-2.8-2.8v5.6M136.0 356.1h5.6m-2.8-2.8v5.6M311.5 396.2h5.6m-2.8-2.8v5.6M201.2 339.3h5.6m-2.8-2.8v5.6M197.9 364.4h5.6m-2.8-2.8v5.6M181.3 359.6h5.6m-2.8-2.8v5.6M275.7 369.7h5.6m-2.8-2.8v5.6M305.9 388.7h5.6m-2.8-2.8v5.6M259.7 366.3h5.6m-2.8-2.8v5.6M269.5 362.3h5.6m-2.8-2.8v5.6M175.6 366.7h5.6m-2.8-2.8v5.6M122.5 348.7h5.6m-2.8-2.8v5.6M223.8 379.3h5.6m-2.8-2.8v5.6M77.0 353.7h5.6m-2.8-2.8v5.6M88.8 337.4h5.6m-2.8-2.8v5.6M118.6 341.0h5.6m-2.8-2.8v5.6M87.3 324.0h5.6m-2.8-2.8v5.6M314.6 395.0h5.6m-2.8-2.8v5.6M202.7 359.9h5.6m-2.8-2.8v5.6M184.5 349.9h5.6m-2.8-2.8v5.6M118.4 344.0h5.6m-2.8-2.8v5.6M280.9 392.9h5.6m-2.8-2.8v5.6M97.9 356.7h5.6m-2.8-2.8v5.6M238.1 354.6h5.6m-2.8-2.8v5.6M265.6 374.9h5.6m-2.8-2.8v5.6M118.4 339.5h5.6m-2.8-2.8v5.6M272.3 374.8h5.6m-2.8-2.8v5.6M160.6 350.8h5.6m-2.8-2.8v5.6M270.3 382.8h5.6m-2.8-2.8v5.6M138.4 342.4h5.6m-2.8-2.8v5.6M163.2 361.4h5.6m-2.8-2.8v5.6M220.7 345.0h5.6m-2.8-2.8v5.6M312.7 394.8h5.6m-2.8-2.8v5.6M110.7 326.8h5.6m-2.8-2.8v5.6M70.1 342.5h5.6m-2.8-2.8v5.6M87.8 334.6h5.6m-2.8-2.8v5.6M268.4 380.2h5.6m-2.8-2.8v5.6M305.4 384.7h5.6m-2.8-2.8v5.6M207.1 367.9h5.6m-2.8-2.8v5.6M297.1 387.1h5.6m-2.8-2.8v5.6M199.7 372.3h5.6m-2.8-2.8v5.6M297.0 377.0h5.6m-2.8-2.8v5.6M266.7 370.1h5.6m-2.8-2.8v5.6M112.0 362.8h5.6m-2.8-2.8v5.6M250.7 363.6h5.6m-2.8-2.8v5.6M82.9 336.7h5.6m-2.8-2.8v5.6M86.3 318.5h5.6m-2.8-2.8v5.6M281.3 395.7h5.6m-2.8-2.8v5.6M302.2 381.6h5.6m-2.8-2.8v5.6M296.5 398.5h5.6m-2.8-2.8v5.6M184.0 355.5h5.6m-2.8-2.8v5.6M102.7 343.7h5.6m-2.8-2.8v5.6M176.1 360.6h5.6m-2.8-2.8v5.6M219.6 359.1h5.6m-2.8-2.8v5.6M201.0 364.9h5.6m-2.8-2.8v5.6M274.7 382.1h5.6m-2.8-2.8v5.6M234.2 371.9h5.6m-2.8-2.8v5.6M275.8 372.0h5.6m-2.8-2.8v5.6M109.1 336.2h5.6m-2.8-2.8v5.6M82.3 319.3h5.6m-2.8-2.8v5.6M283.3 378.9h5.6m-2.8-2.8v5.6M75.0 335.9h5.6m-2.8-2.8v5.6M196.3 363.7h5.6m-2.8-2.8v5.6M148.6 329.1h5.6m-2.8-2.8v5.6M110.2 350.6h5.6m-2.8-2.8v5.6M266.6 376.8h5.6m-2.8-2.8v5.6M69.1 314.5h5.6m-2.8-2.8v5.6M135.6 328.1h5.6m-2.8-2.8v5.6M124.4 347.3h5.6m-2.8-2.8v5.6M189.5 362.5h5.6m-2.8-2.8v5.6M234.5 361.5h5.6m-2.8-2.8v5.6M174.1 343.6h5.6m-2.8-2.8v5.6M277.2 400.3h5.6m-2.8-2.8v5.6M77.9 354.5h5.6m-2.8-2.8v5.6M292.0 384.5h5.6m-2.8-2.8v5.6M152.4 353.4h5.6m-2.8-2.8v5.6M310.4 391.9h5.6m-2.8-2.8v5.6M76.3 332.0h5.6m-2.8-2.8v5.6M207.1 366.0h5.6m-2.8-2.8v5.6M269.1 395.7h5.6m-2.8-2.8v5.6M313.8 365.2h5.6m-2.8-2.8v5.6M158.7 352.1h5.6m-2.8-2.8v5.6M127.4 351.6h5.6m-2.8-2.8v5.6M315.7 375.2h5.6m-2.8-2.8v5.6M93.0 320.0h5.6m-2.8-2.8v5.6M66.4 321.9h5.6m-2.8-2.8v5.6M77.8 360.8h5.6m-2.8-2.8v5.6M276.2 383.3h5.6m-2.8-2.8v5.6M83.0 282.6h5.6m-2.8-2.8v5.6M176.4 353.7h5.6m-2.8-2.8v5.6M90.6 333.8h5.6m-2.8-2.8v5.6M279.8 380.1h5.6m-2.8-2.8v5.6M189.6 340.5h5.6m-2.8-2.8v5.6M149.6 335.1h5.6m-2.8-2.8v5.6M285.3 387.4h5.6m-2.8-2.8v5.6M243.7 361.0h5.6m-2.8-2.8v5.6M212.1 385.3h5.6m-2.8-2.8v5.6M109.4 346.2h5.6m-2.8-2.8v5.6M218.3 361.1h5.6m-2.8-2.8v5.6M188.9 366.9h5.6m-2.8-2.8v5.6M283.1 372.3h5.6m-2.8-2.8v5.6M305.1 391.0h5.6m-2.8-2.8v5.6M278.4 375.5h5.6m-2.8-2.8v5.6M312.8 385.3h5.6m-2.8-2.8v5.6M193.9 349.0h5.6m-2.8-2.8v5.6M109.9 332.4h5.6m-2.8-2.8v5.6M292.8 371.6h5.6m-2.8-2.8v5.6M108.0 320.5h5.6m-2.8-2.8v5.6M222.2 378.8h5.6m-2.8-2.8v5.6M283.4 377.8h5.6m-2.8-2.8v5.6M182.9 347.4h5.6m-2.8-2.8v5.6M292.7 383.8h5.6m-2.8-2.8v5.6M268.9 382.6h5.6m-2.8-2.8v5.6M176.4 333.1h5.6m-2.8-2.8v5.6M261.7 369.0h5.6m-2.8-2.8v5.6M288.3 375.6h5.6m-2.8-2.8v5.6M294.5 379.9h5.6m-2.8-2.8v5.6M85.9 343.7h5.6m-2.8-2.8v5.6M293.8 377.4h5.6m-2.8-2.8v5.6M198.9 356.3h5.6m-2.8-2.8v5.6M83.5 356.8h5.6m-2.8-2.8v5.6M102.9 350.2h5.6m-2.8-2.8v5.6M138.7 349.9h5.6m-2.8-2.8v5.6M192.4 373.6h5.6m-2.8-2.8v5.6M257.7 375.9h5.6m-2.8-2.8v5.6M245.5 353.0h5.6m-2.8-2.8v5.6M145.9 354.1h5.6m-2.8-2.8v5.6M103.6 332.1h5.6m-2.8-2.8v5.6M285.6 400.5h5.6m-2.8-2.8v5.6M141.0 366.0h5.6m-2.8-2.8v5.6M254.0 364.0h5.6m-2.8-2.8v5.6M281.8 386.5h5.6m-2.8-2.8v5.6M260.8 389.6h5.6m-2.8-2.8v5.6M117.2 333.2h5.6m-2.8-2.8v5.6M208.0 350.4h5.6m-2.8-2.8v5.6M123.8 339.0h5.6m-2.8-2.8v5.6M282.5 371.6h5.6m-2.8-2.8v5.6M272.0 375.8h5.6m-2.8-2.8v5.6M84.8 327.5h5.6m-2.8-2.8v5.6M91.8 334.2h5.6m-2.8-2.8v5.6M168.6 345.8h5.6m-2.8-2.8v5.6M220.0 350.7h5.6m-2.8-2.8v5.6M267.4 383.8h5.6m-2.8-2.8v5.6M150.6 338.3h5.6m-2.8-2.8v5.6M207.4 338.4h5.6m-2.8-2.8v5.6M208.4 339.4h5.6m-2.8-2.8v5.6M62.8 340.6h5.6m-2.8-2.8v5.6M294.9 378.0h5.6m-2.8-2.8v5.6M78.8 330.7h5.6m-2.8-2.8v5.6M208.3 366.6h5.6m-2.8-2.8v5.6M292.6 366.4h5.6m-2.8-2.8v5.6M172.5 362.3h5.6m-2.8-2.8v5.6M286.7 390.5h5.6m-2.8-2.8v5.6M160.7 385.1h5.6m-2.8-2.8v5.6M69.4 340.4h5.6m-2.8-2.8v5.6M161.5 366.5h5.6m-2.8-2.8v5.6M244.0 352.0h5.6m-2.8-2.8v5.6M209.1 382.3h5.6m-2.8-2.8v5.6M69.5 315.6h5.6m-2.8-2.8v5.6M279.7 379.0h5.6m-2.8-2.8v5.6M197.7 360.0h5.6m-2.8-2.8v5.6M186.8 363.0h5.6m-2.8-2.8v5.6M165.7 343.7h5.6m-2.8-2.8v5.6M195.1 357.4h5.6m-2.8-2.8v5.6M230.5 360.8h5.6m-2.8-2.8v5.6M287.5 389.4h5.6m-2.8-2.8v5.6M139.0 329.5h5.6m-2.8-2.8v5.6M97.0 324.2h5.6m-2.8-2.8v5.6M84.1 315.7h5.6m-2.8-2.8v5.6M310.0 402.1h5.6m-2.8-2.8v5.6M65.7 326.3h5.6m-2.8-2.8v5.6M214.9 363.1h5.6m-2.8-2.8v5.6M129.5 370.3h5.6m-2.8-2.8v5.6M314.4 397.0h5.6m-2.8-2.8v5.6M80.2 333.4h5.6m-2.8-2.8v5.6M73.7 295.5h5.6m-2.8-2.8v5.6M155.6 359.5h5.6m-2.8-2.8v5.6M139.3 333.5h5.6m-2.8-2.8v5.6M247.3 366.6h5.6m-2.8-2.8v5.6M143.9 336.8h5.6m-2.8-2.8v5.6M216.4 344.7h5.6m-2.8-2.8v5.6M190.1 368.2h5.6m-2.8-2.8v5.6M260.8 372.3h5.6m-2.8-2.8v5.6M195.0 344.9h5.6m-2.8-2.8v5.6M175.9 355.5h5.6m-2.8-2.8v5.6M109.2 335.6h5.6m-2.8-2.8v5.6M89.6 335.4h5.6m-2.8-2.8v5.6M270.0 365.3h5.6m-2.8-2.8v5.6M218.3 391.9h5.6m-2.8-2.8v5.6M271.1 393.5h5.6m-2.8-2.8v5.6M73.3 323.2h5.6m-2.8-2.8v5.6M137.7 346.7h5.6m-2.8-2.8v5.6M309.3 399.8h5.6m-2.8-2.8v5.6M281.7 373.7h5.6m-2.8-2.8v5.6M97.2 358.3h5.6m-2.8-2.8v5.6M92.4 329.5h5.6m-2.8-2.8v5.6M243.0 368.0h5.6m-2.8-2.8v5.6M230.2 357.5h5.6m-2.8-2.8v5.6M189.7 358.3h5.6m-2.8-2.8v5.6M150.8 349.8h5.6m-2.8-2.8v5.6M294.9 387.2h5.6m-2.8-2.8v5.6M227.1 338.7h5.6m-2.8-2.8v5.6M321.9 402.8h5.6m-2.8-2.8v5.6M91.4 339.7h5.6m-2.8-2.8v5.6M210.2 357.9h5.6m-2.8-2.8v5.6M124.7 350.7h5.6m-2.8-2.8v5.6M293.1 398.1h5.6m-2.8-2.8v5.6M156.9 345.4h5.6m-2.8-2.8v5.6M223.9 355.7h5.6m-2.8-2.8v5.6M277.7 351.3h5.6m-2.8-2.8v5.6M152.7 335.6h5.6m-2.8-2.8v5.6M241.5 360.7h5.6m-2.8-2.8v5.6M182.6 354.8h5.6m-2.8-2.8v5.6M164.4 348.6h5.6m-2.8-2.8v5.6M86.9 334.9h5.6m-2.8-2.8v5.6M99.3 350.3h5.6m-2.8-2.8v5.6M244.5 356.4h5.6m-2.8-2.8v5.6M81.3 334.8h5.6m-2.8-2.8v5.6M301.3 389.3h5.6m-2.8-2.8v5.6M281.6 376.1h5.6m-2.8-2.8v5.6M88.0 334.4h5.6m-2.8-2.8v5.6M260.3 365.4h5.6m-2.8-2.8v5.6M107.5 346.5h5.6m-2.8-2.8v5.6M217.0 357.4h5.6m-2.8-2.8v5.6M189.8 368.3h5.6m-2.8-2.8v5.6M312.8 400.6h5.6m-2.8-2.8v5.6M301.9 371.8h5.6m-2.8-2.8v5.6M113.3 342.7h5.6m-2.8-2.8v5.6M138.3 339.4h5.6m-2.8-2.8v5.6M295.3 408.4h5.6m-2.8-2.8v5.6M82.5 341.0h5.6m-2.8-2.8v5.6M233.2 354.1h5.6m-2.8-2.8v5.6M152.0 341.9h5.6m-2.8-2.8v5.6M162.7 342.5h5.6m-2.8-2.8v5.6M69.8 338.7h5.6m-2.8-2.8v5.6M264.2 372.4h5.6m-2.8-2.8v5.6M264.0 391.8h5.6m-2.8-2.8v5.6M74.2 336.7h5.6m-2.8-2.8v5.6M90.9 339.5h5.6m-2.8-2.8v5.6M275.4 390.6h5.6m-2.8-2.8v5.6M126.0 344.1h5.6m-2.8-2.8v5.6M164.0 352.1h5.6m-2.8-2.8v5.6M108.7 336.9h5.6m-2.8-2.8v5.6M247.0 362.8h5.6m-2.8-2.8v5.6M96.8 339.1h5.6m-2.8-2.8v5.6M293.7 383.1h5.6m-2.8-2.8v5.6M180.7 351.1h5.6m-2.8-2.8v5.6M216.5 363.6h5.6m-2.8-2.8v5.6M190.1 340.1h5.6m-2.8-2.8v5.6M241.3 364.4h5.6m-2.8-2.8v5.6M250.9 376.5h5.6m-2.8-2.8v5.6M90.8 336.7h5.6m-2.8-2.8v5.6M212.7 341.1h5.6m-2.8-2.8v5.6M302.4 388.9h5.6m-2.8-2.8v5.6M73.3 326.6h5.6m-2.8-2.8v5.6M160.7 342.6h5.6m-2.8-2.8v5.6M283.0 392.9h5.6m-2.8-2.8v5.6M219.0 360.4h5.6m-2.8-2.8v5.6M244.2 387.4h5.6m-2.8-2.8v5.6M247.0 367.5h5.6m-2.8-2.8v5.6M84.8 333.7h5.6m-2.8-2.8v5.6M200.6 353.0h5.6m-2.8-2.8v5.6M291.1 370.8h5.6m-2.8-2.8v5.6M109.4 355.3h5.6m-2.8-2.8v5.6M118.6 342.1h5.6m-2.8-2.8v5.6M103.3 344.8h5.6m-2.8-2.8v5.6M264.4 373.7h5.6m-2.8-2.8v5.6M238.8 380.0h5.6m-2.8-2.8v5.6M216.8 372.5h5.6m-2.8-2.8v5.6M244.4 376.0h5.6m-2.8-2.8v5.6M132.5 339.3h5.6m-2.8-2.8v5.6M73.0 333.9h5.6m-2.8-2.8v5.6M260.2 382.7h5.6m-2.8-2.8v5.6M185.0 354.8h5.6m-2.8-2.8v5.6M214.2 368.6h5.6m-2.8-2.8v5.6M195.0 357.4h5.6m-2.8-2.8v5.6M112.9 350.0h5.6m-2.8-2.8v5.6M240.4 372.2h5.6m-2.8-2.8v5.6M96.7 336.2h5.6m-2.8-2.8v5.6M223.3 353.9h5.6m-2.8-2.8v5.6M142.1 332.3h5.6m-2.8-2.8v5.6M235.1 376.3h5.6m-2.8-2.8v5.6M201.5 372.6h5.6m-2.8-2.8v5.6M69.6 344.7h5.6m-2.8-2.8v5.6M231.6 365.5h5.6m-2.8-2.8v5.6M275.4 370.7h5.6m-2.8-2.8v5.6M258.6 355.0h5.6m-2.8-2.8v5.6M147.2 363.7h5.6m-2.8-2.8v5.6M306.0 369.9h5.6m-2.8-2.8v5.6M288.5 393.2h5.6m-2.8-2.8v5.6M258.3 380.5h5.6m-2.8-2.8v5.6M282.7 387.6h5.6m-2.8-2.8v5.6M76.0 330.5h5.6m-2.8-2.8v5.6M254.3 409.8h5.6m-2.8-2.8v5.6M265.5 382.1h5.6m-2.8-2.8v5.6M209.7 376.0h5.6m-2.8-2.8v5.6M245.6 363.6h5.6m-2.8-2.8v5.6M268.3 385.7h5.6m-2.8-2.8v5.6M147.5 363.3h5.6m-2.8-2.8v5.6M112.4 321.7h5.6m-2.8-2.8v5.6M298.3 385.5h5.6m-2.8-2.8v5.6M304.1 394.0h5.6m-2.8-2.8v5.6M80.7 342.0h5.6m-2.8-2.8v5.6M295.5 383.9h5.6m-2.8-2.8v5.6M177.6 351.2h5.6m-2.8-2.8v5.6M136.3 346.0h5.6m-2.8-2.8v5.6M121.0 349.5h5.6m-2.8-2.8v5.6M295.7 395.7h5.6m-2.8-2.8v5.6M143.3 339.0h5.6m-2.8-2.8v5.6M301.4 382.6h5.6m-2.8-2.8v5.6M131.7 347.8h5.6m-2.8-2.8v5.6M75.3 344.6h5.6m-2.8-2.8v5.6M65.9 329.4h5.6m-2.8-2.8v5.6M204.8 378.5h5.6m-2.8-2.8v5.6M226.9 364.4h5.6m-2.8-2.8v5.6M146.9 333.3h5.6m-2.8-2.8v5.6M88.7 335.5h5.6m-2.8-2.8v5.6M149.3 356.4h5.6m-2.8-2.8v5.6M205.0 382.9h5.6m-2.8-2.8v5.6M203.3 372.6h5.6m-2.8-2.8v5.6M149.4 358.3h5.6m-2.8-2.8v5.6M270.2 366.1h5.6m-2.8-2.8v5.6M310.8 383.6h5.6m-2.8-2.8v5.6M241.3 367.7h5.6m-2.8-2.8v5.6M164.3 338.3h5.6m-2.8-2.8v5.6M132.9 376.3h5.6m-2.8-2.8v5.6M178.1 367.2h5.6m-2.8-2.8v5.6M204.1 355.5h5.6m-2.8-2.8v5.6M300.2 399.2h5.6m-2.8-2.8v5.6M74.7 322.7h5.6m-2.8-2.8v5.6M70.0 332.0h5.6m-2.8-2.8v5.6M78.6 320.2h5.6m-2.8-2.8v5.6M78.5 322.2h5.6m-2.8-2.8v5.6M317.9 401.5h5.6m-2.8-2.8v5.6M135.6 367.2h5.6m-2.8-2.8v5.6M179.8 352.8h5.6m-2.8-2.8v5.6M129.1 349.2h5.6m-2.8-2.8v5.6M262.5 365.8h5.6m-2.8-2.8v5.6M182.0 360.6h5.6m-2.8-2.8v5.6M148.5 360.2h5.6m-2.8-2.8v5.6M278.1 371.7h5.6m-2.8-2.8v5.6M182.4 348.3h5.6m-2.8-2.8v5.6M309.7 392.7h5.6m-2.8-2.8v5.6M256.4 366.7h5.6m-2.8-2.8v5.6M192.2 344.7h5.6m-2.8-2.8v5.6M281.0 386.2h5.6m-2.8-2.8v5.6M205.6 352.9h5.6m-2.8-2.8v5.6M246.2 367.4h5.6m-2.8-2.8v5.6M190.0 359.7h5.6m-2.8-2.8v5.6M236.3 383.4h5.6m-2.8-2.8v5.6M60.6 337.1h5.6m-2.8-2.8v5.6M249.0 366.0h5.6m-2.8-2.8v5.6M97.3 346.7h5.6m-2.8-2.8v5.6M265.5 377.4h5.6m-2.8-2.8v5.6M154.8 352.7h5.6m-2.8-2.8v5.6M66.9 306.9h5.6m-2.8-2.8v5.6M126.2 314.0h5.6m-2.8-2.8v5.6M94.3 327.7h5.6m-2.8-2.8v5.6M96.5 331.8h5.6m-2.8-2.8v5.6M74.4 364.3h5.6m-2.8-2.8v5.6M275.2 390.8h5.6m-2.8-2.8v5.6M234.3 331.9h5.6m-2.8-2.8v5.6M265.5 362.7h5.6m-2.8-2.8v5.6M92.0 339.5h5.6m-2.8-2.8v5.6M87.3 329.5h5.6m-2.8-2.8v5.6M218.4 371.6h5.6m-2.8-2.8v5.6M88.5 340.9h5.6m-2.8-2.8v5.6M265.5 373.6h5.6m-2.8-2.8v5.6M116.2 346.5h5.6m-2.8-2.8v5.6M276.3 402.6h5.6m-2.8-2.8v5.6M199.4 387.8h5.6m-2.8-2.8v5.6M140.3 344.3h5.6m-2.8-2.8v5.6M172.0 341.1h5.6m-2.8-2.8v5.6M307.5 393.8h5.6m-2.8-2.8v5.6M103.1 338.2h5.6m-2.8-2.8v5.6M256.7 379.0h5.6m-2.8-2.8v5.6M239.2 380.1h5.6m-2.8-2.8v5.6M294.8 366.4h5.6m-2.8-2.8v5.6M205.1 339.8h5.6m-2.8-2.8v5.6M226.5 353.5h5.6m-2.8-2.8v5.6M264.9 382.0h5.6m-2.8-2.8v5.6M84.5 336.5h5.6m-2.8-2.8v5.6M134.8 362.1h5.6m-2.8-2.8v5.6M70.0 329.5h5.6m-2.8-2.8v5.6M315.1 389.5h5.6m-2.8-2.8v5.6M277.5 373.7h5.6m-2.8-2.8v5.6M88.1 341.1h5.6m-2.8-2.8v5.6M101.2 328.9h5.6m-2.8-2.8v5.6M239.5 363.3h5.6m-2.8-2.8v5.6M297.8 381.9h5.6m-2.8-2.8v5.6M198.8 368.6h5.6m-2.8-2.8v5.6M151.1 371.9h5.6m-2.8-2.8v5.6M261.0 384.8h5.6m-2.8-2.8v5.6M88.3 334.1h5.6m-2.8-2.8v5.6M275.4 393.4h5.6m-2.8-2.8v5.6M151.1 350.2h5.6m-2.8-2.8v5.6M108.8 346.4h5.6m-2.8-2.8v5.6M157.5 352.4h5.6m-2.8-2.8v5.6M219.9 348.0h5.6m-2.8-2.8v5.6M191.3 362.9h5.6m-2.8-2.8v5.6M140.9 349.2h5.6m-2.8-2.8v5.6M280.0 379.0h5.6m-2.8-2.8v5.6M261.7 381.4h5.6m-2.8-2.8v5.6M337.2 384.7h5.6m-2.8-2.8v5.6M140.3 337.6h5.6m-2.8-2.8v5.6M108.4 347.4h5.6m-2.8-2.8v5.6M69.8 335.5h5.6m-2.8-2.8v5.6M76.1 324.3h5.6m-2.8-2.8v5.6M299.3 385.3h5.6m-2.8-2.8v5.6M292.8 378.0h5.6m-2.8-2.8v5.6M64.3 352.7h5.6m-2.8-2.8v5.6M127.5 332.0h5.6m-2.8-2.8v5.6M90.3 331.4h5.6m-2.8-2.8v5.6M86.0 343.4h5.6m-2.8-2.8v5.6M132.9 334.7h5.6m-2.8-2.8v5.6M240.3 363.2h5.6m-2.8-2.8v5.6M230.4 354.5h5.6m-2.8-2.8v5.6M218.2 372.2h5.6m-2.8-2.8v5.6M90.0 354.7h5.6m-2.8-2.8v5.6M291.3 379.5h5.6m-2.8-2.8v5.6M267.5 362.5h5.6m-2.8-2.8v5.6M280.8 382.0h5.6m-2.8-2.8v5.6M133.7 355.9h5.6m-2.8-2.8v5.6M293.3 370.5h5.6m-2.8-2.8v5.6M175.5 345.6h5.6m-2.8-2.8v5.6M136.1 356.0h5.6m-2.8-2.8v5.6M115.5 346.2h5.6m-2.8-2.8v5.6M301.4 399.0h5.6m-2.8-2.8v5.6M280.4 373.0h5.6m-2.8-2.8v5.6M107.5 349.6h5.6m-2.8-2.8v5.6M72.3 331.2h5.6m-2.8-2.8v5.6M65.4 338.1h5.6m-2.8-2.8v5.6M90.9 350.9h5.6m-2.8-2.8v5.6M186.6 358.5h5.6m-2.8-2.8v5.6M273.1 374.1h5.6m-2.8-2.8v5.6M315.3 364.2h5.6m-2.8-2.8v5.6M284.0 373.0h5.6m-2.8-2.8v5.6M262.4 381.8h5.6m-2.8-2.8v5.6M223.3 357.1h5.6m-2.8-2.8v5.6M88.0 323.1h5.6m-2.8-2.8v5.6M299.0 386.2h5.6m-2.8-2.8v5.6M219.3 371.0h5.6m-2.8-2.8v5.6M66.9 340.2h5.6m-2.8-2.8v5.6M117.5 360.9h5.6m-2.8-2.8v5.6M303.9 375.3h5.6m-2.8-2.8v5.6M171.9 379.4h5.6m-2.8-2.8v5.6M71.1 352.0h5.6m-2.8-2.8v5.6M77.1 320.0h5.6m-2.8-2.8v5.6M258.7 369.7h5.6m-2.8-2.8v5.6M229.4 376.4h5.6m-2.8-2.8v5.6M298.0 386.1h5.6m-2.8-2.8v5.6M241.4 376.0h5.6m-2.8-2.8v5.6M271.2 401.7h5.6m-2.8-2.8v5.6M299.5 374.0h5.6m-2.8-2.8v5.6M283.9 393.5h5.6m-2.8-2.8v5.6M263.2 367.6h5.6m-2.8-2.8v5.6M281.9 390.6h5.6m-2.8-2.8v5.6M136.2 354.9h5.6m-2.8-2.8v5.6M211.9 354.4h5.6m-2.8-2.8v5.6M112.7 333.6h5.6m-2.8-2.8v5.6M83.6 317.9h5.6m-2.8-2.8v5.6M113.2 333.3h5.6m-2.8-2.8v5.6M203.9 359.2h5.6m-2.8-2.8v5.6M238.5 373.9h5.6m-2.8-2.8v5.6M222.4 395.9h5.6m-2.8-2.8v5.6M100.7 328.5h5.6m-2.8-2.8v5.6M306.6 376.7h5.6m-2.8-2.8v5.6M305.2 380.7h5.6m-2.8-2.8v5.6M305.8 392.4h5.6m-2.8-2.8v5.6M278.9 391.5h5.6m-2.8-2.8v5.6M269.0 382.4h5.6m-2.8-2.8v5.6M101.2 325.1h5.6m-2.8-2.8v5.6M71.1 304.4h5.6m-2.8-2.8v5.6M138.5 352.8h5.6m-2.8-2.8v5.6M280.0 374.1h5.6m-2.8-2.8v5.6M121.6 331.5h5.6m-2.8-2.8v5.6M218.6 361.9h5.6m-2.8-2.8v5.6M67.2 336.8h5.6m-2.8-2.8v5.6M81.9 318.7h5.6m-2.8-2.8v5.6M238.9 371.1h5.6m-2.8-2.8v5.6M255.7 374.1h5.6m-2.8-2.8v5.6M210.7 370.9h5.6m-2.8-2.8v5.6M192.5 361.1h5.6m-2.8-2.8v5.6M77.6 340.6h5.6m-2.8-2.8v5.6M270.1 369.4h5.6m-2.8-2.8v5.6M278.9 404.0h5.6m-2.8-2.8v5.6M80.3 338.6h5.6m-2.8-2.8v5.6M311.5 388.5h5.6m-2.8-2.8v5.6M90.2 337.5h5.6m-2.8-2.8v5.6M266.4 372.0h5.6m-2.8-2.8v5.6M79.0 315.7h5.6m-2.8-2.8v5.6M173.8 339.4h5.6m-2.8-2.8v5.6M195.6 357.4h5.6m-2.8-2.8v5.6M77.9 355.3h5.6m-2.8-2.8v5.6M200.7 348.4h5.6m-2.8-2.8v5.6M62.8 346.8h5.6m-2.8-2.8v5.6M145.3 342.4h5.6m-2.8-2.8v5.6M250.2 359.5h5.6m-2.8-2.8v5.6M290.4 386.4h5.6m-2.8-2.8v5.6M93.2 330.0h5.6m-2.8-2.8v5.6M67.8 323.3h5.6m-2.8-2.8v5.6M188.5 347.9h5.6m-2.8-2.8v5.6M103.0 327.4h5.6m-2.8-2.8v5.6M91.8 349.9h5.6m-2.8-2.8v5.6M78.0 359.9h5.6m-2.8-2.8v5.6M156.9 353.3h5.6m-2.8-2.8v5.6M220.0 363.4h5.6m-2.8-2.8v5.6M221.5 356.4h5.6m-2.8-2.8v5.6M300.9 393.7h5.6m-2.8-2.8v5.6M78.8 351.9h5.6m-2.8-2.8v5.6M149.5 332.5h5.6m-2.8-2.8v5.6M75.1 339.7h5.6m-2.8-2.8v5.6M308.1 387.5h5.6m-2.8-2.8v5.6M207.2 370.0h5.6m-2.8-2.8v5.6M223.3 365.2h5.6m-2.8-2.8v5.6M195.0 357.7h5.6m-2.8-2.8v5.6M309.4 386.6h5.6m-2.8-2.8v5.6M61.7 323.2h5.6m-2.8-2.8v5.6M95.8 348.9h5.6m-2.8-2.8v5.6M142.0 350.4h5.6m-2.8-2.8v5.6M292.2 383.5h5.6m-2.8-2.8v5.6M308.8 377.4h5.6m-2.8-2.8v5.6M114.4 369.1h5.6m-2.8-2.8v5.6M137.4 344.2h5.6m-2.8-2.8v5.6M180.6 345.0h5.6m-2.8-2.8v5.6M107.4 322.1h5.6m-2.8-2.8v5.6M247.6 360.2h5.6m-2.8-2.8v5.6M133.9 344.3h5.6m-2.8-2.8v5.6M294.6 389.9h5.6m-2.8-2.8v5.6M165.4 373.8h5.6m-2.8-2.8v5.6M274.0 382.0h5.6m-2.8-2.8v5.6M81.5 342.5h5.6m-2.8-2.8v5.6M167.5 344.4h5.6m-2.8-2.8v5.6M94.2 313.4h5.6m-2.8-2.8v5.6M117.3 371.6h5.6m-2.8-2.8v5.6M139.4 315.8h5.6m-2.8-2.8v5.6M92.2 320.5h5.6m-2.8-2.8v5.6M162.2 339.2h5.6m-2.8-2.8v5.6M154.2 366.4h5.6m-2.8-2.8v5.6M154.3 365.2h5.6m-2.8-2.8v5.6M293.1 389.5h5.6m-2.8-2.8v5.6M164.9 345.0h5.6m-2.8-2.8v5.6M302.8 400.5h5.6m-2.8-2.8v5.6M315.4 385.2h5.6m-2.8-2.8v5.6M123.2 353.4h5.6m-2.8-2.8v5.6M154.1 363.7h5.6m-2.8-2.8v5.6M153.7 366.0h5.6m-2.8-2.8v5.6M91.0 352.0h5.6m-2.8-2.8v5.6M146.5 363.5h5.6m-2.8-2.8v5.6M89.1 325.0h5.6m-2.8-2.8v5.6M286.3 385.1h5.6m-2.8-2.8v5.6M76.6 323.6h5.6m-2.8-2.8v5.6M134.0 340.8h5.6m-2.8-2.8v5.6M225.5 376.6h5.6m-2.8-2.8v5.6M270.7 382.7h5.6m-2.8-2.8v5.6M312.5 383.2h5.6m-2.8-2.8v5.6M272.7 367.2h5.6m-2.8-2.8v5.6M162.4 346.7h5.6m-2.8-2.8v5.6M311.7 394.2h5.6m-2.8-2.8v5.6M146.4 346.8h5.6m-2.8-2.8v5.6M219.0 355.9h5.6m-2.8-2.8v5.6M247.2 347.1h5.6m-2.8-2.8v5.6M223.8 356.9h5.6m-2.8-2.8v5.6M242.6 370.3h5.6m-2.8-2.8v5.6M158.3 335.3h5.6m-2.8-2.8v5.6M94.3 338.8h5.6m-2.8-2.8v5.6M62.1 342.8h5.6m-2.8-2.8v5.6M267.3 370.5h5.6m-2.8-2.8v5.6M233.1 357.6h5.6m-2.8-2.8v5.6M248.0 371.3h5.6m-2.8-2.8v5.6M224.3 376.7h5.6m-2.8-2.8v5.6M185.7 347.9h5.6m-2.8-2.8v5.6M87.0 350.5h5.6m-2.8-2.8v5.6M293.1 376.3h5.6m-2.8-2.8v5.6M116.2 345.9h5.6m-2.8-2.8v5.6M156.4 331.7h5.6m-2.8-2.8v5.6M315.7 397.4h5.6m-2.8-2.8v5.6M89.3 319.6h5.6m-2.8-2.8v5.6M268.9 379.0h5.6m-2.8-2.8v5.6M268.5 353.7h5.6m-2.8-2.8v5.6M198.1 343.8h5.6m-2.8-2.8v5.6M190.7 370.2h5.6m-2.8-2.8v5.6M104.8 313.0h5.6m-2.8-2.8v5.6M231.3 372.6h5.6m-2.8-2.8v5.6M239.8 352.5h5.6m-2.8-2.8v5.6M138.2 377.7h5.6m-2.8-2.8v5.6M279.0 376.7h5.6m-2.8-2.8v5.6M295.1 375.3h5.6m-2.8-2.8v5.6M284.1 372.5h5.6m-2.8-2.8v5.6M108.0 322.4h5.6m-2.8-2.8v5.6M289.4 373.1h5.6m-2.8-2.8v5.6M84.3 336.0h5.6m-2.8-2.8v5.6M302.8 387.2h5.6m-2.8-2.8v5.6M189.0 344.0h5.6m-2.8-2.8v5.6M302.1 397.6h5.6m-2.8-2.8v5.6M186.4 354.4h5.6m-2.8-2.8v5.6M157.8 353.1h5.6m-2.8-2.8v5.6M310.5 370.7h5.6m-2.8-2.8v5.6M157.0 373.0h5.6m-2.8-2.8v5.6M64.9 332.7h5.6m-2.8-2.8v5.6M254.5 386.2h5.6m-2.8-2.8v5.6M92.4 330.9h5.6m-2.8-2.8v5.6M61.9 326.4h5.6m-2.8-2.8v5.6M315.6 385.8h5.6m-2.8-2.8v5.6M295.8 376.2h5.6m-2.8-2.8v5.6M280.5 402.4h5.6m-2.8-2.8v5.6M240.2 377.2h5.6m-2.8-2.8v5.6M116.2 363.2h5.6m-2.8-2.8v5.6M222.0 367.1h5.6m-2.8-2.8v5.6M226.5 362.6h5.6m-2.8-2.8v5.6M83.5 330.4h5.6m-2.8-2.8v5.6M112.2 335.8h5.6m-2.8-2.8v5.6M80.8 309.1h5.6m-2.8-2.8v5.6M213.9 354.4h5.6m-2.8-2.8v5.6M102.7 351.0h5.6m-2.8-2.8v5.6M310.4 383.5h5.6m-2.8-2.8v5.6M83.3 346.8h5.6m-2.8-2.8v5.6M283.0 378.6h5.6m-2.8-2.8v5.6M269.2 378.6h5.6m-2.8-2.8v5.6M194.2 335.9h5.6m-2.8-2.8v5.6M310.4 374.5h5.6m-2.8-2.8v5.6M199.0 365.2h5.6m-2.8-2.8v5.6M142.7 344.3h5.6m-2.8-2.8v5.6M274.3 367.5h5.6m-2.8-2.8v5.6M63.0 332.1h5.6m-2.8-2.8v5.6M211.2 365.7h5.6m-2.8-2.8v5.6M225.5 371.2h5.6m-2.8-2.8v5.6M161.9 353.3h5.6m-2.8-2.8v5.6M222.5 375.6h5.6m-2.8-2.8v5.6M310.4 382.7h5.6m-2.8-2.8v5.6M297.4 387.4h5.6m-2.8-2.8v5.6M148.0 347.5h5.6m-2.8-2.8v5.6M155.2 375.3h5.6m-2.8-2.8v5.6M78.8 335.9h5.6m-2.8-2.8v5.6M265.1 385.5h5.6m-2.8-2.8v5.6M164.9 363.4h5.6m-2.8-2.8v5.6M308.7 391.8h5.6m-2.8-2.8v5.6M216.7 376.8h5.6m-2.8-2.8v5.6M124.2 336.3h5.6m-2.8-2.8v5.6M179.3 331.7h5.6m-2.8-2.8v5.6M244.9 360.5h5.6m-2.8-2.8v5.6M61.6 324.3h5.6m-2.8-2.8v5.6M99.5 342.3h5.6m-2.8-2.8v5.6M208.4 359.9h5.6m-2.8-2.8v5.6M94.1 358.3h5.6m-2.8-2.8v5.6M137.1 363.4h5.6m-2.8-2.8v5.6M283.5 390.9h5.6m-2.8-2.8v5.6M300.3 386.0h5.6m-2.8-2.8v5.6M238.0 364.1h5.6m-2.8-2.8v5.6M248.0 372.6h5.6m-2.8-2.8v5.6M296.6 378.0h5.6m-2.8-2.8v5.6M113.7 368.0h5.6m-2.8-2.8v5.6M275.1 377.5h5.6m-2.8-2.8v5.6M164.5 370.8h5.6m-2.8-2.8v5.6M161.0 334.5h5.6m-2.8-2.8v5.6M134.6 345.5h5.6m-2.8-2.8v5.6M184.4 359.6h5.6m-2.8-2.8v5.6M299.0 386.3h5.6m-2.8-2.8v5.6M88.1 332.1h5.6m-2.8-2.8v5.6M127.3 352.6h5.6m-2.8-2.8v5.6M169.3 340.2h5.6m-2.8-2.8v5.6M212.2 358.7h5.6m-2.8-2.8v5.6M109.9 321.4h5.6m-2.8-2.8v5.6M276.7 363.6h5.6m-2.8-2.8v5.6M98.6 325.1h5.6m-2.8-2.8v5.6M295.7 373.6h5.6m-2.8-2.8v5.6M157.6 358.0h5.6m-2.8-2.8v5.6M175.7 360.6h5.6m-2.8-2.8v5.6M144.5 337.7h5.6m-2.8-2.8v5.6M194.2 341.5h5.6m-2.8-2.8v5.6M105.9 360.9h5.6m-2.8-2.8v5.6M231.9 364.6h5.6m-2.8-2.8v5.6M285.4 382.1h5.6m-2.8-2.8v5.6M253.1 377.8h5.6m-2.8-2.8v5.6M302.2 385.2h5.6m-2.8-2.8v5.6M150.3 351.0h5.6m-2.8-2.8v5.6M104.0 339.7h5.6m-2.8-2.8v5.6M144.8 368.9h5.6m-2.8-2.8v5.6M156.7 367.7h5.6m-2.8-2.8v5.6M148.5 336.1h5.6m-2.8-2.8v5.6M297.0 383.0h5.6m-2.8-2.8v5.6M114.7 359.6h5.6m-2.8-2.8v5.6M245.6 382.1h5.6m-2.8-2.8v5.6M76.4 322.4h5.6m-2.8-2.8v5.6M157.4 360.9h5.6m-2.8-2.8v5.6M251.0 397.7h5.6m-2.8-2.8v5.6M68.8 338.4h5.6m-2.8-2.8v5.6M226.2 374.7h5.6m-2.8-2.8v5.6M287.2 385.8h5.6m-2.8-2.8v5.6M120.1 339.3h5.6m-2.8-2.8v5.6M101.3 370.2h5.6m-2.8-2.8v5.6M292.0 368.3h5.6m-2.8-2.8v5.6M307.5 392.0h5.6m-2.8-2.8v5.6M199.7 366.5h5.6m-2.8-2.8v5.6M212.0 360.0h5.6m-2.8-2.8v5.6M166.3 356.9h5.6m-2.8-2.8v5.6M118.7 356.4h5.6m-2.8-2.8v5.6M166.8 371.6h5.6m-2.8-2.8v5.6M185.9 350.7h5.6m-2.8-2.8v5.6M75.4 333.3h5.6m-2.8-2.8v5.6M166.7 368.0h5.6m-2.8-2.8v5.6M264.1 390.1h5.6m-2.8-2.8v5.6M240.1 395.3h5.6m-2.8-2.8v5.6M169.3 350.0h5.6m-2.8-2.8v5.6M59.7 337.8h5.6m-2.8-2.8v5.6M118.8 344.8h5.6m-2.8-2.8v5.6M321.5 399.8h5.6m-2.8-2.8v5.6M206.9 319.0h5.6m-2.8-2.8v5.6M147.1 365.2h5.6m-2.8-2.8v5.6M300.2 390.7h5.6m-2.8-2.8v5.6M84.2 351.6h5.6m-2.8-2.8v5.6M76.7 334.2h5.6m-2.8-2.8v5.6M122.3 351.2h5.6m-2.8-2.8v5.6M122.5 358.2h5.6m-2.8-2.8v5.6M236.0 370.8h5.6m-2.8-2.8v5.6M161.5 360.1h5.6m-2.8-2.8v5.6M228.0 371.2h5.6m-2.8-2.8v5.6M287.2 368.8h5.6m-2.8-2.8v5.6M215.1 378.0h5.6m-2.8-2.8v5.6M302.5 377.3h5.6m-2.8-2.8v5.6M268.2 374.9h5.6m-2.8-2.8v5.6M276.8 381.1h5.6m-2.8-2.8v5.6M89.7 319.4h5.6m-2.8-2.8v5.6M166.4 381.2h5.6m-2.8-2.8v5.6M285.0 398.9h5.6m-2.8-2.8v5.6M66.3 317.0h5.6m-2.8-2.8v5.6M170.8 361.6h5.6m-2.8-2.8v5.6M163.9 359.2h5.6m-2.8-2.8v5.6M228.9 363.8h5.6m-2.8-2.8v5.6M248.5 361.1h5.6m-2.8-2.8v5.6M71.9 312.4h5.6m-2.8-2.8v5.6M246.6 348.9h5.6m-2.8-2.8v5.6M85.2 352.4h5.6m-2.8-2.8v5.6M300.1 384.5h5.6m-2.8-2.8v5.6M83.7 327.8h5.6m-2.8-2.8v5.6M100.9 335.4h5.6m-2.8-2.8v5.6M275.5 383.3h5.6m-2.8-2.8v5.6M63.8 331.6h5.6m-2.8-2.8v5.6M138.0 363.9h5.6m-2.8-2.8v5.6M298.0 371.4h5.6m-2.8-2.8v5.6M276.6 365.5h5.6m-2.8-2.8v5.6M229.7 375.9h5.6m-2.8-2.8v5.6M101.3 350.5h5.6m-2.8-2.8v5.6M80.5 351.4h5.6m-2.8-2.8v5.6M282.0 388.0h5.6m-2.8-2.8v5.6M279.9 387.8h5.6m-2.8-2.8v5.6M239.0 394.4h5.6m-2.8-2.8v5.6M292.8 385.7h5.6m-2.8-2.8v5.6M67.8 323.0h5.6m-2.8-2.8v5.6M181.4 352.6h5.6m-2.8-2.8v5.6M221.1 382.3h5.6m-2.8-2.8v5.6M301.2 384.1h5.6m-2.8-2.8v5.6M195.5 355.8h5.6m-2.8-2.8v5.6M272.5 375.9h5.6m-2.8-2.8v5.6M71.0 313.1h5.6m-2.8-2.8v5.6M110.1 313.4h5.6m-2.8-2.8v5.6M76.8 337.1h5.6m-2.8-2.8v5.6M214.1 356.2h5.6m-2.8-2.8v5.6M63.2 352.0h5.6m-2.8-2.8v5.6M197.1 353.5h5.6m-2.8-2.8v5.6M282.1 379.1h5.6m-2.8-2.8v5.6M220.7 375.7h5.6m-2.8-2.8v5.6M151.0 379.1h5.6m-2.8-2.8v5.6M82.2 326.0h5.6m-2.8-2.8v5.6M72.6 335.2h5.6m-2.8-2.8v5.6M179.0 372.9h5.6m-2.8-2.8v5.6M252.4 356.0h5.6m-2.8-2.8v5.6M140.6 337.8h5.6m-2.8-2.8v5.6M302.6 401.0h5.6m-2.8-2.8v5.6M176.4 335.8h5.6m-2.8-2.8v5.6M167.0 344.2h5.6m-2.8-2.8v5.6M236.8 378.3h5.6m-2.8-2.8v5.6M186.0 336.8h5.6m-2.8-2.8v5.6M223.2 367.0h5.6m-2.8-2.8v5.6M69.2 329.8h5.6m-2.8-2.8v5.6M138.3 346.9h5.6m-2.8-2.8v5.6M209.6 353.4h5.6m-2.8-2.8v5.6M268.0 366.7h5.6m-2.8-2.8v5.6M75.8 347.7h5.6m-2.8-2.8v5.6M77.4 310.6h5.6m-2.8-2.8v5.6M281.8 385.4h5.6m-2.8-2.8v5.6M159.4 338.5h5.6m-2.8-2.8v5.6M240.2 374.5h5.6m-2.8-2.8v5.6M112.7 340.1h5.6m-2.8-2.8v5.6M277.8 371.7h5.6m-2.8-2.8v5.6M119.9 352.5h5.6m-2.8-2.8v5.6M255.8 388.0h5.6m-2.8-2.8v5.6M303.2 388.6h5.6m-2.8-2.8v5.6M316.2 400.2h5.6m-2.8-2.8v5.6M315.0 394.1h5.6m-2.8-2.8v5.6M211.8 375.7h5.6m-2.8-2.8v5.6M73.5 351.6h5.6m-2.8-2.8v5.6M246.7 353.0h5.6m-2.8-2.8v5.6M197.5 374.2h5.6m-2.8-2.8v5.6M144.6 337.5h5.6m-2.8-2.8v5.6M225.0 381.1h5.6m-2.8-2.8v5.6M194.7 353.5h5.6m-2.8-2.8v5.6M137.7 358.5h5.6m-2.8-2.8v5.6M279.4 386.4h5.6m-2.8-2.8v5.6M296.2 390.2h5.6m-2.8-2.8v5.6M235.4 379.4h5.6m-2.8-2.8v5.6M146.1 332.4h5.6m-2.8-2.8v5.6M105.1 339.9h5.6m-2.8-2.8v5.6M237.7 365.2h5.6m-2.8-2.8v5.6M156.7 346.7h5.6m-2.8-2.8v5.6M248.2 384.4h5.6m-2.8-2.8v5.6M295.0 380.1h5.6m-2.8-2.8v5.6M214.1 371.1h5.6m-2.8-2.8v5.6M318.7 392.4h5.6m-2.8-2.8v5.6M272.5 380.8h5.6m-2.8-2.8v5.6M75.3 330.8h5.6m-2.8-2.8v5.6M137.7 329.9h5.6m-2.8-2.8v5.6M170.6 359.9h5.6m-2.8-2.8v5.6M227.4 367.8h5.6m-2.8-2.8v5.6M288.1 380.0h5.6m-2.8-2.8v5.6M272.5 385.5h5.6m-2.8-2.8v5.6M306.5 386.5h5.6m-2.8-2.8v5.6M290.7 397.4h5.6m-2.8-2.8v5.6M226.7 377.8h5.6m-2.8-2.8v5.6M74.3 322.4h5.6m-2.8-2.8v5.6M253.2 365.4h5.6m-2.8-2.8v5.6M248.6 376.6h5.6m-2.8-2.8v5.6M228.5 380.4h5.6m-2.8-2.8v5.6M175.4 335.8h5.6m-2.8-2.8v5.6M290.5 375.8h5.6m-2.8-2.8v5.6M173.7 380.0h5.6m-2.8-2.8v5.6M78.3 351.7h5.6m-2.8-2.8v5.6M184.8 369.6h5.6m-2.8-2.8v5.6M68.8 362.0h5.6m-2.8-2.8v5.6M232.0 367.2h5.6m-2.8-2.8v5.6M266.6 388.4h5.6m-2.8-2.8v5.6M189.2 353.8h5.6m-2.8-2.8v5.6M291.0 368.5h5.6m-2.8-2.8v5.6M174.2 376.0h5.6m-2.8-2.8v5.6M107.9 340.7h5.6m-2.8-2.8v5.6M259.6 374.6h5.6m-2.8-2.8v5.6M282.4 390.2h5.6m-2.8-2.8v5.6M303.6 396.4h5.6m-2.8-2.8v5.6M278.5 376.3h5.6m-2.8-2.8v5.6M95.5 344.4h5.6m-2.8-2.8v5.6M294.3 403.0h5.6m-2.8-2.8v5.6M183.5 363.6h5.6m-2.8-2.8v5.6M201.9 359.5h5.6m-2.8-2.8v5.6M243.2 359.6h5.6m-2.8-2.8v5.6M72.1 315.6h5.6m-2.8-2.8v5.6M265.9 362.9h5.6m-2.8-2.8v5.6M190.5 351.3h5.6m-2.8-2.8v5.6M149.6 367.2h5.6m-2.8-2.8v5.6M289.1 386.9h5.6m-2.8-2.8v5.6M110.4 335.6h5.6m-2.8-2.8v5.6M253.9 368.8h5.6m-2.8-2.8v5.6M256.7 388.0h5.6m-2.8-2.8v5.6M278.0 382.5h5.6m-2.8-2.8v5.6M76.8 307.1h5.6m-2.8-2.8v5.6M179.8 356.9h5.6m-2.8-2.8v5.6M87.2 335.4h5.6m-2.8-2.8v5.6M311.6 368.4h5.6m-2.8-2.8v5.6M134.2 329.0h5.6m-2.8-2.8v5.6M130.8 373.8h5.6m-2.8-2.8v5.6M103.4 345.4h5.6m-2.8-2.8v5.6M210.1 338.8h5.6m-2.8-2.8v5.6M155.0 370.9h5.6m-2.8-2.8v5.6M313.6 403.4h5.6m-2.8-2.8v5.6M225.2 350.8h5.6m-2.8-2.8v5.6M102.9 358.9h5.6m-2.8-2.8v5.6M189.3 330.4h5.6m-2.8-2.8v5.6M206.4 349.9h5.6m-2.8-2.8v5.6M146.4 365.6h5.6m-2.8-2.8v5.6M288.6 408.1h5.6m-2.8-2.8v5.6M313.2 402.3h5.6m-2.8-2.8v5.6M267.6 382.8h5.6m-2.8-2.8v5.6M183.3 375.7h5.6m-2.8-2.8v5.6M164.0 352.1h5.6m-2.8-2.8v5.6M150.6 357.8h5.6m-2.8-2.8v5.6M309.4 370.1h5.6m-2.8-2.8v5.6M308.2 391.1h5.6m-2.8-2.8v5.6M71.5 336.0h5.6m-2.8-2.8v5.6M240.8 372.4h5.6m-2.8-2.8v5.6M281.9 377.0h5.6m-2.8-2.8v5.6M268.2 382.1h5.6m-2.8-2.8v5.6M69.1 321.6h5.6m-2.8-2.8v5.6M65.8 335.4h5.6m-2.8-2.8v5.6M297.8 368.9h5.6m-2.8-2.8v5.6M232.3 365.4h5.6m-2.8-2.8v5.6M277.7 388.5h5.6m-2.8-2.8v5.6M142.5 359.6h5.6m-2.8-2.8v5.6M214.6 355.0h5.6m-2.8-2.8v5.6M107.3 354.6h5.6m-2.8-2.8v5.6M66.0 329.9h5.6m-2.8-2.8v5.6M229.3 365.8h5.6m-2.8-2.8v5.6M144.7 346.6h5.6m-2.8-2.8v5.6M224.7 378.7h5.6m-2.8-2.8v5.6M284.5 384.1h5.6m-2.8-2.8v5.6M306.6 392.6h5.6m-2.8-2.8v5.6M274.2 392.6h5.6m-2.8-2.8v5.6M142.5 349.7h5.6m-2.8-2.8v5.6M280.5 377.6h5.6m-2.8-2.8v5.6M63.4 318.8h5.6m-2.8-2.8v5.6M81.4 342.9h5.6m-2.8-2.8v5.6M183.7 342.1h5.6m-2.8-2.8v5.6M318.5 364.5h5.6m-2.8-2.8v5.6M115.1 362.6h5.6m-2.8-2.8v5.6M72.8 327.4h5.6m-2.8-2.8v5.6M94.1 358.0h5.6m-2.8-2.8v5.6M153.3 327.6h5.6m-2.8-2.8v5.6M128.3 349.9h5.6m-2.8-2.8v5.6M99.4 338.6h5.6m-2.8-2.8v5.6M252.2 365.5h5.6m-2.8-2.8v5.6M76.8 326.7h5.6m-2.8-2.8v5.6M228.0 368.1h5.6m-2.8-2.8v5.6M299.0 386.5h5.6m-2.8-2.8v5.6M277.9 386.2h5.6m-2.8-2.8v5.6M239.2 377.9h5.6m-2.8-2.8v5.6M169.7 358.2h5.6m-2.8-2.8v5.6M252.3 383.4h5.6m-2.8-2.8v5.6M96.3 350.5h5.6m-2.8-2.8v5.6M101.3 350.6h5.6m-2.8-2.8v5.6M302.2 399.6h5.6m-2.8-2.8v5.6M286.0 396.0h5.6m-2.8-2.8v5.6M298.5 387.8h5.6m-2.8-2.8v5.6M161.3 335.9h5.6m-2.8-2.8v5.6M287.0 386.1h5.6m-2.8-2.8v5.6M196.0 375.2h5.6m-2.8-2.8v5.6M83.9 356.7h5.6m-2.8-2.8v5.6M163.2 351.5h5.6m-2.8-2.8v5.6M80.6 297.7h5.6m-2.8-2.8v5.6M139.4 370.5h5.6m-2.8-2.8v5.6M69.5 316.5h5.6m-2.8-2.8v5.6M221.0 383.0h5.6m-2.8-2.8v5.6M195.6 348.0h5.6m-2.8-2.8v5.6M104.6 340.6h5.6m-2.8-2.8v5.6M83.0 334.0h5.6m-2.8-2.8v5.6M204.8 379.7h5.6m-2.8-2.8v5.6M299.6 381.1h5.6m-2.8-2.8v5.6M254.5 373.3h5.6m-2.8-2.8v5.6M209.1 376.4h5.6m-2.8-2.8v5.6M79.9 357.2h5.6m-2.8-2.8v5.6M192.1 381.2h5.6m-2.8-2.8v5.6M227.4 368.1h5.6m-2.8-2.8v5.6M299.0 367.6h5.6m-2.8-2.8v5.6M304.7 388.3h5.6m-2.8-2.8v5.6M267.1 377.3h5.6m-2.8-2.8v5.6M133.8 357.0h5.6m-2.8-2.8v5.6M232.8 349.2h5.6m-2.8-2.8v5.6M290.5 380.5h5.6m-2.8-2.8v5.6M294.8 379.8h5.6m-2.8-2.8v5.6M199.5 384.1h5.6m-2.8-2.8v5.6M267.8 381.1h5.6m-2.8-2.8v5.6M100.4 337.2h5.6m-2.8-2.8v5.6M137.6 342.4h5.6m-2.8-2.8v5.6M77.8 343.6h5.6m-2.8-2.8v5.6M267.0 406.0h5.6m-2.8-2.8v5.6M240.6 348.9h5.6m-2.8-2.8v5.6M297.6 372.1h5.6m-2.8-2.8v5.6M161.2 353.9h5.6m-2.8-2.8v5.6M235.4 371.2h5.6m-2.8-2.8v5.6M183.7 379.1h5.6m-2.8-2.8v5.6M270.0 383.9h5.6m-2.8-2.8v5.6M307.6 373.4h5.6m-2.8-2.8v5.6M279.6 380.5h5.6m-2.8-2.8v5.6M272.8 343.7h5.6m-2.8-2.8v5.6M111.2 342.7h5.6m-2.8-2.8v5.6M106.8 346.8h5.6m-2.8-2.8v5.6M87.3 326.9h5.6m-2.8-2.8v5.6M262.0 366.2h5.6m-2.8-2.8v5.6M132.1 345.4h5.6m-2.8-2.8v5.6M255.1 385.7h5.6m-2.8-2.8v5.6M74.7 323.9h5.6m-2.8-2.8v5.6M94.2 323.3h5.6m-2.8-2.8v5.6M95.0 312.6h5.6m-2.8-2.8v5.6M289.0 390.9h5.6m-2.8-2.8v5.6M249.4 377.2h5.6m-2.8-2.8v5.6M137.5 342.1h5.6m-2.8-2.8v5.6M80.7 352.1h5.6m-2.8-2.8v5.6M95.3 348.2h5.6m-2.8-2.8v5.6M240.8 352.1h5.6m-2.8-2.8v5.6M61.6 333.9h5.6m-2.8-2.8v5.6M165.6 347.0h5.6m-2.8-2.8v5.6M234.6 374.2h5.6m-2.8-2.8v5.6M153.9 349.9h5.6m-2.8-2.8v5.6M284.1 381.9h5.6m-2.8-2.8v5.6M68.5 343.1h5.6m-2.8-2.8v5.6M285.3 384.3h5.6m-2.8-2.8v5.6M293.4 398.6h5.6m-2.8-2.8v5.6M98.5 348.0h5.6m-2.8-2.8v5.6M295.2 397.5h5.6m-2.8-2.8v5.6M192.4 369.0h5.6m-2.8-2.8v5.6M74.0 342.4h5.6m-2.8-2.8v5.6M178.8 364.8h5.6m-2.8-2.8v5.6M153.8 337.2h5.6m-2.8-2.8v5.6M198.2 370.2h5.6m-2.8-2.8v5.6M188.0 355.3h5.6m-2.8-2.8v5.6M73.1 316.6h5.6m-2.8-2.8v5.6M295.3 370.3h5.6m-2.8-2.8v5.6M85.3 345.6h5.6m-2.8-2.8v5.6M199.2 347.1h5.6m-2.8-2.8v5.6M217.1 351.9h5.6m-2.8-2.8v5.6M109.9 343.4h5.6m-2.8-2.8v5.6M269.4 369.7h5.6m-2.8-2.8v5.6M287.8 388.6h5.6m-2.8-2.8v5.6M311.6 390.2h5.6m-2.8-2.8v5.6M237.6 377.2h5.6m-2.8-2.8v5.6M64.4 330.9h5.6m-2.8-2.8v5.6M260.3 369.1h5.6m-2.8-2.8v5.6M140.6 354.9h5.6m-2.8-2.8v5.6M83.8 322.6h5.6m-2.8-2.8v5.6M279.4 390.7h5.6m-2.8-2.8v5.6M275.4 360.9h5.6m-2.8-2.8v5.6M257.1 379.4h5.6m-2.8-2.8v5.6M252.3 402.4h5.6m-2.8-2.8v5.6M288.0 386.6h5.6m-2.8-2.8v5.6M269.7 354.1h5.6m-2.8-2.8v5.6M68.3 333.8h5.6m-2.8-2.8v5.6M206.2 349.4h5.6m-2.8-2.8v5.6M215.0 376.0h5.6m-2.8-2.8v5.6M139.7 335.1h5.6m-2.8-2.8v5.6M185.1 340.7h5.6m-2.8-2.8v5.6M232.3 355.0h5.6m-2.8-2.8v5.6M294.9 408.9h5.6m-2.8-2.8v5.6M75.7 340.6h5.6m-2.8-2.8v5.6M178.9 358.5h5.6m-2.8-2.8v5.6M189.1 357.7h5.6m-2.8-2.8v5.6M257.5 382.3h5.6m-2.8-2.8v5.6M80.7 349.0h5.6m-2.8-2.8v5.6M264.8 377.2h5.6m-2.8-2.8v5.6M206.8 366.4h5.6m-2.8-2.8v5.6M225.9 368.0h5.6m-2.8-2.8v5.6M93.8 387.0h5.6m-2.8-2.8v5.6M190.4 365.5h5.6m-2.8-2.8v5.6M168.9 353.2h5.6m-2.8-2.8v5.6M151.5 336.2h5.6m-2.8-2.8v5.6M282.7 370.9h5.6m-2.8-2.8v5.6M68.7 338.6h5.6m-2.8-2.8v5.6M232.5 383.0h5.6m-2.8-2.8v5.6M194.4 372.5h5.6m-2.8-2.8v5.6M229.0 369.7h5.6m-2.8-2.8v5.6M150.5 355.1h5.6m-2.8-2.8v5.6M231.9 377.0h5.6m-2.8-2.8v5.6M162.3 373.8h5.6m-2.8-2.8v5.6M240.2 368.5h5.6m-2.8-2.8v5.6M215.5 361.2h5.6m-2.8-2.8v5.6M176.9 360.0h5.6m-2.8-2.8v5.6M214.3 360.5h5.6m-2.8-2.8v5.6M235.6 370.3h5.6m-2.8-2.8v5.6M204.4 360.8h5.6m-2.8-2.8v5.6M288.8 379.9h5.6m-2.8-2.8v5.6M91.7 359.0h5.6m-2.8-2.8v5.6M306.8 387.0h5.6m-2.8-2.8v5.6M198.6 350.0h5.6m-2.8-2.8v5.6M108.8 316.0h5.6m-2.8-2.8v5.6M116.6 362.0h5.6m-2.8-2.8v5.6M72.3 336.8h5.6m-2.8-2.8v5.6M151.4 347.0h5.6m-2.8-2.8v5.6M291.4 378.4h5.6m-2.8-2.8v5.6M75.2 334.7h5.6m-2.8-2.8v5.6M258.2 355.0h5.6m-2.8-2.8v5.6M171.6 367.0h5.6m-2.8-2.8v5.6M76.9 327.2h5.6m-2.8-2.8v5.6M271.6 419.5h5.6m-2.8-2.8v5.6M225.0 355.1h5.6m-2.8-2.8v5.6M196.1 371.1h5.6m-2.8-2.8v5.6M120.6 328.2h5.6m-2.8-2.8v5.6M122.5 350.4h5.6m-2.8-2.8v5.6M168.4 353.2h5.6m-2.8-2.8v5.6M188.3 334.6h5.6m-2.8-2.8v5.6M238.9 364.8h5.6m-2.8-2.8v5.6M68.8 315.4h5.6m-2.8-2.8v5.6M277.0 370.3h5.6m-2.8-2.8v5.6M121.8 327.4h5.6m-2.8-2.8v5.6M281.6 373.4h5.6m-2.8-2.8v5.6M158.1 353.1h5.6m-2.8-2.8v5.6M266.6 380.7h5.6m-2.8-2.8v5.6M151.1 357.2h5.6m-2.8-2.8v5.6M254.0 387.6h5.6m-2.8-2.8v5.6M276.3 370.6h5.6m-2.8-2.8v5.6M126.3 349.4h5.6m-2.8-2.8v5.6M223.9 366.7h5.6m-2.8-2.8v5.6M126.7 342.9h5.6m-2.8-2.8v5.6M152.1 332.6h5.6m-2.8-2.8v5.6M285.9 377.4h5.6m-2.8-2.8v5.6M85.7 296.8h5.6m-2.8-2.8v5.6M76.7 334.7h5.6m-2.8-2.8v5.6M305.0 376.3h5.6m-2.8-2.8v5.6M68.6 322.2h5.6m-2.8-2.8v5.6M117.2 340.9h5.6m-2.8-2.8v5.6M291.0 397.5h5.6m-2.8-2.8v5.6M189.1 352.1h5.6m-2.8-2.8v5.6M192.7 367.7h5.6m-2.8-2.8v5.6M282.8 376.0h5.6m-2.8-2.8v5.6M64.0 327.2h5.6m-2.8-2.8v5.6M167.7 350.3h5.6m-2.8-2.8v5.6M158.1 335.3h5.6m-2.8-2.8v5.6M290.8 391.4h5.6m-2.8-2.8v5.6M147.1 352.5h5.6m-2.8-2.8v5.6M87.4 326.1h5.6m-2.8-2.8v5.6M165.1 322.9h5.6m-2.8-2.8v5.6M138.1 374.7h5.6m-2.8-2.8v5.6M271.9 382.1h5.6m-2.8-2.8v5.6M63.3 330.9h5.6m-2.8-2.8v5.6M128.7 375.2h5.6m-2.8-2.8v5.6M236.7 374.0h5.6m-2.8-2.8v5.6M209.1 365.7h5.6m-2.8-2.8v5.6M143.6 349.5h5.6m-2.8-2.8v5.6M257.6 371.5h5.6m-2.8-2.8v5.6M157.2 327.1h5.6m-2.8-2.8v5.6M293.2 395.5h5.6m-2.8-2.8v5.6M296.5 383.3h5.6m-2.8-2.8v5.6M102.8 333.3h5.6m-2.8-2.8v5.6M89.8 337.3h5.6m-2.8-2.8v5.6M66.2 325.3h5.6m-2.8-2.8v5.6M66.6 333.9h5.6m-2.8-2.8v5.6M309.3 388.8h5.6m-2.8-2.8v5.6M201.0 365.8h5.6m-2.8-2.8v5.6M73.9 323.3h5.6m-2.8-2.8v5.6M267.7 380.5h5.6m-2.8-2.8v5.6M96.2 332.5h5.6m-2.8-2.8v5.6M263.4 359.5h5.6m-2.8-2.8v5.6M300.5 374.3h5.6m-2.8-2.8v5.6M237.7 368.4h5.6m-2.8-2.8v5.6M210.5 376.0h5.6m-2.8-2.8v5.6M71.4 316.5h5.6m-2.8-2.8v5.6M175.1 373.8h5.6m-2.8-2.8v5.6M215.9 368.6h5.6m-2.8-2.8v5.6M164.7 355.1h5.6m-2.8-2.8v5.6M243.1 387.0h5.6m-2.8-2.8v5.6M272.8 375.4h5.6m-2.8-2.8v5.6M300.9 384.1h5.6m-2.8-2.8v5.6M130.5 363.4h5.6m-2.8-2.8v5.6M116.4 333.9h5.6m-2.8-2.8v5.6M130.5 343.2h5.6m-2.8-2.8v5.6M80.0 346.6h5.6m-2.8-2.8v5.6M172.4 336.4h5.6m-2.8-2.8v5.6M306.1 396.0h5.6m-2.8-2.8v5.6M198.6 358.4h5.6m-2.8-2.8v5.6M243.5 380.0h5.6m-2.8-2.8v5.6M298.0 389.0h5.6m-2.8-2.8v5.6M256.4 385.8h5.6m-2.8-2.8v5.6M116.0 334.4h5.6m-2.8-2.8v5.6M265.6 355.4h5.6m-2.8-2.8v5.6M93.0 344.6h5.6m-2.8-2.8v5.6M109.2 356.0h5.6m-2.8-2.8v5.6M300.2 377.2h5.6m-2.8-2.8v5.6M259.3 374.0h5.6m-2.8-2.8v5.6M211.5 371.9h5.6m-2.8-2.8v5.6M294.1 381.2h5.6m-2.8-2.8v5.6M280.2 382.9h5.6m-2.8-2.8v5.6M256.1 382.4h5.6m-2.8-2.8v5.6M144.7 364.8h5.6m-2.8-2.8v5.6M141.9 331.6h5.6m-2.8-2.8v5.6M129.4 355.8h5.6m-2.8-2.8v5.6M121.8 342.4h5.6m-2.8-2.8v5.6M287.4 396.6h5.6m-2.8-2.8v5.6M81.1 362.7h5.6m-2.8-2.8v5.6M294.3 365.2h5.6m-2.8-2.8v5.6M141.7 356.0h5.6m-2.8-2.8v5.6M276.7 380.3h5.6m-2.8-2.8v5.6M61.6 325.4h5.6m-2.8-2.8v5.6M162.7 339.1h5.6m-2.8-2.8v5.6M159.6 354.5h5.6m-2.8-2.8v5.6M88.4 325.4h5.6m-2.8-2.8v5.6M311.6 402.5h5.6m-2.8-2.8v5.6M76.8 330.8h5.6m-2.8-2.8v5.6M276.2 369.4h5.6m-2.8-2.8v5.6M138.9 333.1h5.6m-2.8-2.8v5.6M93.1 325.9h5.6m-2.8-2.8v5.6M210.8 346.7h5.6m-2.8-2.8v5.6M138.9 333.7h5.6m-2.8-2.8v5.6M211.2 343.9h5.6m-2.8-2.8v5.6M73.8 353.3h5.6m-2.8-2.8v5.6M208.1 376.1h5.6m-2.8-2.8v5.6M220.2 377.3h5.6m-2.8-2.8v5.6M260.6 364.7h5.6m-2.8-2.8v5.6M86.3 317.4h5.6m-2.8-2.8v5.6M260.1 399.2h5.6m-2.8-2.8v5.6M61.9 343.7h5.6m-2.8-2.8v5.6M267.3 377.7h5.6m-2.8-2.8v5.6M92.8 346.6h5.6m-2.8-2.8v5.6M305.0 389.1h5.6m-2.8-2.8v5.6M284.4 393.8h5.6m-2.8-2.8v5.6M262.5 374.5h5.6m-2.8-2.8v5.6M158.6 336.9h5.6m-2.8-2.8v5.6M257.9 393.5h5.6m-2.8-2.8v5.6M257.2 368.5h5.6m-2.8-2.8v5.6M307.6 390.6h5.6m-2.8-2.8v5.6M197.9 339.7h5.6m-2.8-2.8v5.6M90.0 334.8h5.6m-2.8-2.8v5.6M243.7 397.4h5.6m-2.8-2.8v5.6M234.2 395.9h5.6m-2.8-2.8v5.6M134.4 355.4h5.6m-2.8-2.8v5.6M284.6 399.4h5.6m-2.8-2.8v5.6M241.1 371.1h5.6m-2.8-2.8v5.6M143.1 334.2h5.6m-2.8-2.8v5.6M248.7 377.3h5.6m-2.8-2.8v5.6M293.1 401.1h5.6m-2.8-2.8v5.6M78.3 352.4h5.6m-2.8-2.8v5.6M139.3 342.8h5.6m-2.8-2.8v5.6M147.4 344.5h5.6m-2.8-2.8v5.6M174.2 368.1h5.6m-2.8-2.8v5.6M111.1 325.3h5.6m-2.8-2.8v5.6M86.1 343.0h5.6m-2.8-2.8v5.6M292.9 364.6h5.6m-2.8-2.8v5.6M189.5 364.4h5.6m-2.8-2.8v5.6M274.9 391.2h5.6m-2.8-2.8v5.6M259.9 358.6h5.6m-2.8-2.8v5.6M306.7 389.8h5.6m-2.8-2.8v5.6M85.4 316.5h5.6m-2.8-2.8v5.6M268.0 385.2h5.6m-2.8-2.8v5.6M257.8 388.5h5.6m-2.8-2.8v5.6M218.5 376.6h5.6m-2.8-2.8v5.6M269.4 375.0h5.6m-2.8-2.8v5.6M216.9 358.5h5.6m-2.8-2.8v5.6M124.3 348.5h5.6m-2.8-2.8v5.6M264.4 375.3h5.6m-2.8-2.8v5.6M115.4 338.2h5.6m-2.8-2.8v5.6M214.8 360.0h5.6m-2.8-2.8v5.6M94.8 327.8h5.6m-2.8-2.8v5.6M238.7 373.0h5.6m-2.8-2.8v5.6M140.4 348.3h5.6m-2.8-2.8v5.6M77.2 330.4h5.6m-2.8-2.8v5.6M185.5 334.0h5.6m-2.8-2.8v5.6M269.2 382.2h5.6m-2.8-2.8v5.6M254.4 370.6h5.6m-2.8-2.8v5.6M259.8 385.5h5.6m-2.8-2.8v5.6M249.6 378.3h5.6m-2.8-2.8v5.6M262.0 372.4h5.6m-2.8-2.8v5.6M82.6 332.8h5.6m-2.8-2.8v5.6M160.8 355.6h5.6m-2.8-2.8v5.6M262.2 374.3h5.6m-2.8-2.8v5.6M133.6 332.7h5.6m-2.8-2.8v5.6M133.8 346.1h5.6m-2.8-2.8v5.6M297.7 382.5h5.6m-2.8-2.8v5.6M226.7 369.0h5.6m-2.8-2.8v5.6M266.8 374.7h5.6m-2.8-2.8v5.6M310.9 391.1h5.6m-2.8-2.8v5.6M263.4 373.4h5.6m-2.8-2.8v5.6M205.5 371.1h5.6m-2.8-2.8v5.6M225.9 360.5h5.6m-2.8-2.8v5.6M204.5 366.4h5.6m-2.8-2.8v5.6M181.0 346.4h5.6m-2.8-2.8v5.6M186.7 352.4h5.6m-2.8-2.8v5.6M197.8 368.2h5.6m-2.8-2.8v5.6M296.4 398.8h5.6m-2.8-2.8v5.6M267.2 369.5h5.6m-2.8-2.8v5.6M278.3 407.9h5.6m-2.8-2.8v5.6M257.0 378.7h5.6m-2.8-2.8v5.6M238.8 366.0h5.6m-2.8-2.8v5.6M94.6 350.5h5.6m-2.8-2.8v5.6M311.8 399.9h5.6m-2.8-2.8v5.6M174.1 348.3h5.6m-2.8-2.8v5.6M278.3 379.6h5.6m-2.8-2.8v5.6M75.6 339.1h5.6m-2.8-2.8v5.6M164.4 355.8h5.6m-2.8-2.8v5.6M265.9 371.3h5.6m-2.8-2.8v5.6M77.3 325.3h5.6m-2.8-2.8v5.6M186.7 365.8h5.6m-2.8-2.8v5.6M131.7 362.2h5.6m-2.8-2.8v5.6M223.1 369.7h5.6m-2.8-2.8v5.6M288.6 390.6h5.6m-2.8-2.8v5.6M142.2 365.2h5.6m-2.8-2.8v5.6M257.8 383.0h5.6m-2.8-2.8v5.6M90.7 329.4h5.6m-2.8-2.8v5.6M76.2 329.0h5.6m-2.8-2.8v5.6M111.3 327.7h5.6m-2.8-2.8v5.6M210.4 367.5h5.6m-2.8-2.8v5.6M282.5 378.9h5.6m-2.8-2.8v5.6M247.5 371.1h5.6m-2.8-2.8v5.6M214.5 364.3h5.6m-2.8-2.8v5.6M258.4 370.8h5.6m-2.8-2.8v5.6M171.5 353.4h5.6m-2.8-2.8v5.6M311.4 375.8h5.6m-2.8-2.8v5.6M144.2 349.8h5.6m-2.8-2.8v5.6M280.2 418.6h5.6m-2.8-2.8v5.6M224.2 375.2h5.6m-2.8-2.8v5.6M247.9 350.0h5.6m-2.8-2.8v5.6M75.8 329.5h5.6m-2.8-2.8v5.6M283.5 383.4h5.6m-2.8-2.8v5.6M260.0 379.3h5.6m-2.8-2.8v5.6M242.2 365.8h5.6m-2.8-2.8v5.6M171.6 347.8h5.6m-2.8-2.8v5.6M172.9 352.9h5.6m-2.8-2.8v5.6M271.4 378.5h5.6m-2.8-2.8v5.6M155.1 361.7h5.6m-2.8-2.8v5.6M283.9 371.8h5.6m-2.8-2.8v5.6M229.6 367.8h5.6m-2.8-2.8v5.6M126.2 347.8h5.6m-2.8-2.8v5.6M185.8 350.9h5.6m-2.8-2.8v5.6M286.4 387.9h5.6m-2.8-2.8v5.6M270.6 379.7h5.6m-2.8-2.8v5.6M248.1 382.7h5.6m-2.8-2.8v5.6M237.0 372.5h5.6m-2.8-2.8v5.6M111.7 334.7h5.6m-2.8-2.8v5.6M207.7 354.8h5.6m-2.8-2.8v5.6M90.4 338.9h5.6m-2.8-2.8v5.6M64.0 334.5h5.6m-2.8-2.8v5.6M110.9 337.7h5.6m-2.8-2.8v5.6M309.3 392.1h5.6m-2.8-2.8v5.6M253.0 373.8h5.6m-2.8-2.8v5.6M275.1 369.3h5.6m-2.8-2.8v5.6M180.5 347.1h5.6m-2.8-2.8v5.6M144.5 339.5h5.6m-2.8-2.8v5.6M205.0 354.8h5.6m-2.8-2.8v5.6M113.3 351.1h5.6m-2.8-2.8v5.6M106.4 350.7h5.6m-2.8-2.8v5.6M294.4 372.4h5.6m-2.8-2.8v5.6M204.1 347.9h5.6m-2.8-2.8v5.6M318.7 382.5h5.6m-2.8-2.8v5.6M115.3 313.9h5.6m-2.8-2.8v5.6M288.3 374.3h5.6m-2.8-2.8v5.6M158.6 340.7h5.6m-2.8-2.8v5.6M292.4 383.5h5.6m-2.8-2.8v5.6M313.6 395.0h5.6m-2.8-2.8v5.6M137.4 347.1h5.6m-2.8-2.8v5.6M288.9 386.4h5.6m-2.8-2.8v5.6M68.0 334.6h5.6m-2.8-2.8v5.6M243.6 363.9h5.6m-2.8-2.8v5.6M275.8 394.2h5.6m-2.8-2.8v5.6M260.8 382.5h5.6m-2.8-2.8v5.6M209.1 365.4h5.6m-2.8-2.8v5.6M286.1 403.9h5.6m-2.8-2.8v5.6M77.5 327.9h5.6m-2.8-2.8v5.6M304.4 387.2h5.6m-2.8-2.8v5.6M216.6 349.7h5.6m-2.8-2.8v5.6M144.7 354.6h5.6m-2.8-2.8v5.6M221.5 359.0h5.6m-2.8-2.8v5.6M274.2 373.9h5.6m-2.8-2.8v5.6M295.0 381.2h5.6m-2.8-2.8v5.6M215.4 378.3h5.6m-2.8-2.8v5.6M247.3 377.2h5.6m-2.8-2.8v5.6M283.2 379.4h5.6m-2.8-2.8v5.6M250.3 382.8h5.6m-2.8-2.8v5.6M75.5 280.9h5.6m-2.8-2.8v5.6M286.4 386.2h5.6m-2.8-2.8v5.6M119.4 343.5h5.6m-2.8-2.8v5.6M70.9 342.0h5.6m-2.8-2.8v5.6M84.7 342.9h5.6m-2.8-2.8v5.6M142.0 353.6h5.6m-2.8-2.8v5.6M221.6 384.0h5.6m-2.8-2.8v5.6M306.2 401.3h5.6m-2.8-2.8v5.6M106.1 339.6h5.6m-2.8-2.8v5.6M137.3 359.4h5.6m-2.8-2.8v5.6M270.1 384.0h5.6m-2.8-2.8v5.6M85.1 318.9h5.6m-2.8-2.8v5.6M243.7 367.0h5.6m-2.8-2.8v5.6M252.7 368.1h5.6m-2.8-2.8v5.6M263.7 381.2h5.6m-2.8-2.8v5.6M144.8 342.2h5.6m-2.8-2.8v5.6M311.2 375.0h5.6m-2.8-2.8v5.6M298.9 390.0h5.6m-2.8-2.8v5.6M212.8 340.6h5.6m-2.8-2.8v5.6M247.1 350.5h5.6m-2.8-2.8v5.6M81.7 337.1h5.6m-2.8-2.8v5.6M106.8 331.1h5.6m-2.8-2.8v5.6M252.7 380.9h5.6m-2.8-2.8v5.6M292.2 378.4h5.6m-2.8-2.8v5.6M255.9 353.6h5.6m-2.8-2.8v5.6M99.3 340.0h5.6m-2.8-2.8v5.6M283.0 377.8h5.6m-2.8-2.8v5.6M132.0 341.4h5.6m-2.8-2.8v5.6M260.6 354.1h5.6m-2.8-2.8v5.6M191.7 354.2h5.6m-2.8-2.8v5.6M282.3 368.7h5.6m-2.8-2.8v5.6M146.9 346.4h5.6m-2.8-2.8v5.6M62.5 341.5h5.6m-2.8-2.8v5.6M106.7 348.3h5.6m-2.8-2.8v5.6M218.2 348.8h5.6m-2.8-2.8v5.6M111.5 327.3h5.6m-2.8-2.8v5.6M149.8 340.8h5.6m-2.8-2.8v5.6M157.1 353.4h5.6m-2.8-2.8v5.6M255.7 385.5h5.6m-2.8-2.8v5.6M254.5 383.1h5.6m-2.8-2.8v5.6M163.3 356.3h5.6m-2.8-2.8v5.6M285.1 385.1h5.6m-2.8-2.8v5.6M69.2 340.3h5.6m-2.8-2.8v5.6M292.1 399.9h5.6m-2.8-2.8v5.6M218.5 367.3h5.6m-2.8-2.8v5.6M226.2 377.5h5.6m-2.8-2.8v5.6M284.5 374.8h5.6m-2.8-2.8v5.6M288.0 362.4h5.6m-2.8-2.8v5.6M95.8 359.0h5.6m-2.8-2.8v5.6M88.3 326.6h5.6m-2.8-2.8v5.6M66.6 338.4h5.6m-2.8-2.8v5.6M210.0 363.9h5.6m-2.8-2.8v5.6M210.0 364.0h5.6m-2.8-2.8v5.6M276.7 373.9h5.6m-2.8-2.8v5.6M163.9 365.5h5.6m-2.8-2.8v5.6M106.2 331.3h5.6m-2.8-2.8v5.6M267.6 381.6h5.6m-2.8-2.8v5.6M158.1 333.8h5.6m-2.8-2.8v5.6M152.8 356.6h5.6m-2.8-2.8v5.6M251.0 385.9h5.6m-2.8-2.8v5.6M115.6 354.2h5.6m-2.8-2.8v5.6M114.6 328.6h5.6m-2.8-2.8v5.6M69.0 344.6h5.6m-2.8-2.8v5.6M64.7 330.6h5.6m-2.8-2.8v5.6M257.1 390.9h5.6m-2.8-2.8v5.6M297.0 392.6h5.6m-2.8-2.8v5.6M101.2 345.2h5.6m-2.8-2.8v5.6M81.4 334.8h5.6m-2.8-2.8v5.6M89.7 327.2h5.6m-2.8-2.8v5.6M102.6 365.9h5.6m-2.8-2.8v5.6M138.4 342.2h5.6m-2.8-2.8v5.6M65.3 326.9h5.6m-2.8-2.8v5.6M258.7 367.6h5.6m-2.8-2.8v5.6M257.8 373.1h5.6m-2.8-2.8v5.6M230.1 384.5h5.6m-2.8-2.8v5.6M101.7 333.0h5.6m-2.8-2.8v5.6M312.3 392.0h5.6m-2.8-2.8v5.6M100.2 336.1h5.6m-2.8-2.8v5.6M156.0 342.7h5.6m-2.8-2.8v5.6M115.4 333.7h5.6m-2.8-2.8v5.6M166.8 366.0h5.6m-2.8-2.8v5.6M257.4 379.3h5.6m-2.8-2.8v5.6M100.6 320.1h5.6m-2.8-2.8v5.6M197.5 328.3h5.6m-2.8-2.8v5.6M177.9 341.8h5.6m-2.8-2.8v5.6M260.8 369.3h5.6m-2.8-2.8v5.6M195.1 310.0h5.6m-2.8-2.8v5.6M110.4 342.0h5.6m-2.8-2.8v5.6M237.8 352.9h5.6m-2.8-2.8v5.6M156.5 361.5h5.6m-2.8-2.8v5.6M143.1 342.6h5.6m-2.8-2.8v5.6M298.1 391.1h5.6m-2.8-2.8v5.6M75.4 320.3h5.6m-2.8-2.8v5.6M281.3 386.9h5.6m-2.8-2.8v5.6M91.3 331.6h5.6m-2.8-2.8v5.6M90.1 330.8h5.6m-2.8-2.8v5.6M89.4 325.7h5.6m-2.8-2.8v5.6M148.8 346.8h5.6m-2.8-2.8v5.6M202.1 351.6h5.6m-2.8-2.8v5.6M93.3 314.6h5.6m-2.8-2.8v5.6M263.4 410.0h5.6m-2.8-2.8v5.6M177.0 369.0h5.6m-2.8-2.8v5.6M66.8 339.6h5.6m-2.8-2.8v5.6M295.4 384.9h5.6m-2.8-2.8v5.6M277.0 362.5h5.6m-2.8-2.8v5.6M93.6 344.6h5.6m-2.8-2.8v5.6M115.7 350.4h5.6m-2.8-2.8v5.6M213.4 378.0h5.6m-2.8-2.8v5.6M295.0 395.1h5.6m-2.8-2.8v5.6M74.4 330.7h5.6m-2.8-2.8v5.6M256.1 374.1h5.6m-2.8-2.8v5.6M265.0 370.3h5.6m-2.8-2.8v5.6M227.0 389.6h5.6m-2.8-2.8v5.6M95.2 326.4h5.6m-2.8-2.8v5.6M278.3 373.1h5.6m-2.8-2.8v5.6M249.6 375.0h5.6m-2.8-2.8v5.6M87.0 324.5h5.6m-2.8-2.8v5.6M100.3 316.8h5.6m-2.8-2.8v5.6M264.5 389.1h5.6m-2.8-2.8v5.6M105.5 324.9h5.6m-2.8-2.8v5.6M156.0 349.3h5.6m-2.8-2.8v5.6M246.4 370.1h5.6m-2.8-2.8v5.6M275.2 362.5h5.6m-2.8-2.8v5.6M220.4 380.6h5.6m-2.8-2.8v5.6M210.0 373.8h5.6m-2.8-2.8v5.6M282.1 397.5h5.6m-2.8-2.8v5.6M252.3 389.9h5.6m-2.8-2.8v5.6M182.0 366.8h5.6m-2.8-2.8v5.6M77.9 315.5h5.6m-2.8-2.8v5.6M229.2 361.6h5.6m-2.8-2.8v5.6M199.0 346.1h5.6m-2.8-2.8v5.6M179.6 361.1h5.6m-2.8-2.8v5.6M184.2 354.8h5.6m-2.8-2.8v5.6M62.5 339.1h5.6m-2.8-2.8v5.6M287.6 378.7h5.6m-2.8-2.8v5.6M86.5 338.7h5.6m-2.8-2.8v5.6M143.4 347.8h5.6m-2.8-2.8v5.6M174.7 339.5h5.6m-2.8-2.8v5.6M233.2 374.4h5.6m-2.8-2.8v5.6M76.9 312.0h5.6m-2.8-2.8v5.6M246.9 374.1h5.6m-2.8-2.8v5.6M187.9 359.6h5.6m-2.8-2.8v5.6M304.8 386.4h5.6m-2.8-2.8v5.6M251.2 375.8h5.6m-2.8-2.8v5.6M200.7 357.5h5.6m-2.8-2.8v5.6M238.2 358.0h5.6m-2.8-2.8v5.6M303.1 375.5h5.6m-2.8-2.8v5.6M275.9 362.6h5.6m-2.8-2.8v5.6M295.0 399.0h5.6m-2.8-2.8v5.6M85.6 338.8h5.6m-2.8-2.8v5.6M128.4 338.5h5.6m-2.8-2.8v5.6M72.4 325.8h5.6m-2.8-2.8v5.6M276.8 374.7h5.6m-2.8-2.8v5.6M248.7 380.5h5.6m-2.8-2.8v5.6M296.9 379.2h5.6m-2.8-2.8v5.6M148.1 350.5h5.6m-2.8-2.8v5.6M76.3 324.0h5.6m-2.8-2.8v5.6M134.7 353.5h5.6m-2.8-2.8v5.6M276.3 371.6h5.6m-2.8-2.8v5.6M247.3 380.8h5.6m-2.8-2.8v5.6M268.3 379.1h5.6m-2.8-2.8v5.6M164.0 346.2h5.6m-2.8-2.8v5.6M231.7 356.3h5.6m-2.8-2.8v5.6M243.4 358.7h5.6m-2.8-2.8v5.6M187.3 345.9h5.6m-2.8-2.8v5.6M196.2 358.8h5.6m-2.8-2.8v5.6M158.0 381.4h5.6m-2.8-2.8v5.6M105.4 369.4h5.6m-2.8-2.8v5.6M201.8 365.1h5.6m-2.8-2.8v5.6M249.7 390.7h5.6m-2.8-2.8v5.6M276.4 367.2h5.6m-2.8-2.8v5.6M266.5 406.5h5.6m-2.8-2.8v5.6M109.1 322.7h5.6m-2.8-2.8v5.6M253.0 354.0h5.6m-2.8-2.8v5.6M208.1 362.9h5.6m-2.8-2.8v5.6M291.7 389.5h5.6m-2.8-2.8v5.6M156.1 332.4h5.6m-2.8-2.8v5.6M251.9 381.7h5.6m-2.8-2.8v5.6M238.5 382.3h5.6m-2.8-2.8v5.6M133.0 347.3h5.6m-2.8-2.8v5.6M194.5 352.5h5.6m-2.8-2.8v5.6M89.1 326.2h5.6m-2.8-2.8v5.6M211.6 369.0h5.6m-2.8-2.8v5.6M279.2 370.5h5.6m-2.8-2.8v5.6M255.7 386.5h5.6m-2.8-2.8v5.6M110.7 354.4h5.6m-2.8-2.8v5.6M310.8 397.6h5.6m-2.8-2.8v5.6M308.9 402.9h5.6m-2.8-2.8v5.6M276.9 380.8h5.6m-2.8-2.8v5.6M297.4 382.4h5.6m-2.8-2.8v5.6M201.5 374.7h5.6m-2.8-2.8v5.6M300.7 389.3h5.6m-2.8-2.8v5.6M67.9 313.7h5.6m-2.8-2.8v5.6M133.8 334.6h5.6m-2.8-2.8v5.6M174.9 365.7h5.6m-2.8-2.8v5.6M254.2 387.3h5.6m-2.8-2.8v5.6M123.1 358.7h5.6m-2.8-2.8v5.6M173.1 344.8h5.6m-2.8-2.8v5.6M284.6 386.4h5.6m-2.8-2.8v5.6M88.6 336.9h5.6m-2.8-2.8v5.6M272.6 374.4h5.6m-2.8-2.8v5.6M201.1 358.9h5.6m-2.8-2.8v5.6M303.2 388.9h5.6m-2.8-2.8v5.6M231.8 360.7h5.6m-2.8-2.8v5.6M263.1 391.1h5.6m-2.8-2.8v5.6M252.3 383.0h5.6m-2.8-2.8v5.6M238.0 365.5h5.6m-2.8-2.8v5.6M163.6 342.0h5.6m-2.8-2.8v5.6M304.5 393.5h5.6m-2.8-2.8v5.6M273.7 388.9h5.6m-2.8-2.8v5.6M272.2 376.5h5.6m-2.8-2.8v5.6M214.3 366.3h5.6m-2.8-2.8v5.6M266.8 371.1h5.6m-2.8-2.8v5.6M301.2 376.4h5.6m-2.8-2.8v5.6M251.6 342.5h5.6m-2.8-2.8v5.6M65.8 327.9h5.6m-2.8-2.8v5.6M142.7 377.0h5.6m-2.8-2.8v5.6M312.5 398.1h5.6m-2.8-2.8v5.6M111.5 333.6h5.6m-2.8-2.8v5.6M176.9 372.9h5.6m-2.8-2.8v5.6M90.8 320.8h5.6m-2.8-2.8v5.6M262.2 378.7h5.6m-2.8-2.8v5.6M261.6 375.9h5.6m-2.8-2.8v5.6M183.8 365.4h5.6m-2.8-2.8v5.6M175.6 354.4h5.6m-2.8-2.8v5.6M298.6 380.4h5.6m-2.8-2.8v5.6M70.8 324.6h5.6m-2.8-2.8v5.6M65.8 315.0h5.6m-2.8-2.8v5.6M147.5 349.9h5.6m-2.8-2.8v5.6M282.4 389.5h5.6m-2.8-2.8v5.6M285.6 365.0h5.6m-2.8-2.8v5.6M66.4 327.2h5.6m-2.8-2.8v5.6M231.5 378.7h5.6m-2.8-2.8v5.6M215.9 341.1h5.6m-2.8-2.8v5.6M217.4 375.6h5.6m-2.8-2.8v5.6M119.8 351.9h5.6m-2.8-2.8v5.6M231.5 375.4h5.6m-2.8-2.8v5.6M311.5 378.3h5.6m-2.8-2.8v5.6M224.1 382.9h5.6m-2.8-2.8v5.6M75.4 344.0h5.6m-2.8-2.8v5.6M148.6 345.9h5.6m-2.8-2.8v5.6M296.7 388.6h5.6m-2.8-2.8v5.6M268.4 359.6h5.6m-2.8-2.8v5.6M238.6 373.1h5.6m-2.8-2.8v5.6M175.2 345.8h5.6m-2.8-2.8v5.6M198.9 353.8h5.6m-2.8-2.8v5.6M291.0 384.1h5.6m-2.8-2.8v5.6M194.7 357.6h5.6m-2.8-2.8v5.6M311.4 381.3h5.6m-2.8-2.8v5.6M282.3 370.0h5.6m-2.8-2.8v5.6M142.8 362.5h5.6m-2.8-2.8v5.6M129.7 349.5h5.6m-2.8-2.8v5.6M213.8 341.3h5.6m-2.8-2.8v5.6M110.1 340.8h5.6m-2.8-2.8v5.6M179.5 367.1h5.6m-2.8-2.8v5.6M105.6 340.9h5.6m-2.8-2.8v5.6M158.0 374.4h5.6m-2.8-2.8v5.6M222.5 378.6h5.6m-2.8-2.8v5.6M97.0 286.0h5.6m-2.8-2.8v5.6M159.3 348.4h5.6m-2.8-2.8v5.6M246.0 361.4h5.6m-2.8-2.8v5.6M312.5 376.4h5.6m-2.8-2.8v5.6M93.7 348.6h5.6m-2.8-2.8v5.6M300.7 405.3h5.6m-2.8-2.8v5.6M265.0 365.4h5.6m-2.8-2.8v5.6M304.0 366.0h5.6m-2.8-2.8v5.6M215.6 360.9h5.6m-2.8-2.8v5.6M278.3 392.8h5.6m-2.8-2.8v5.6M111.3 336.2h5.6m-2.8-2.8v5.6M70.5 328.0h5.6m-2.8-2.8v5.6M237.0 374.3h5.6m-2.8-2.8v5.6M71.7 328.3h5.6m-2.8-2.8v5.6M295.3 378.0h5.6m-2.8-2.8v5.6M313.4 387.6h5.6m-2.8-2.8v5.6M272.3 381.6h5.6m-2.8-2.8v5.6M279.1 386.5h5.6m-2.8-2.8v5.6M236.5 366.8h5.6m-2.8-2.8v5.6M103.4 332.5h5.6m-2.8-2.8v5.6M305.1 392.0h5.6m-2.8-2.8v5.6M197.3 365.5h5.6m-2.8-2.8v5.6M79.4 348.3h5.6m-2.8-2.8v5.6M301.0 388.8h5.6m-2.8-2.8v5.6M167.8 351.5h5.6m-2.8-2.8v5.6M303.6 382.8h5.6m-2.8-2.8v5.6M98.7 340.1h5.6m-2.8-2.8v5.6M293.7 379.4h5.6m-2.8-2.8v5.6M290.7 370.7h5.6m-2.8-2.8v5.6M280.7 381.0h5.6m-2.8-2.8v5.6M73.5 316.6h5.6m-2.8-2.8v5.6M181.2 344.2h5.6m-2.8-2.8v5.6M65.9 329.9h5.6m-2.8-2.8v5.6M138.0 334.2h5.6m-2.8-2.8v5.6M161.1 364.8h5.6m-2.8-2.8v5.6M238.4 373.6h5.6m-2.8-2.8v5.6M72.4 323.4h5.6m-2.8-2.8v5.6M306.9 371.4h5.6m-2.8-2.8v5.6M276.6 398.8h5.6m-2.8-2.8v5.6M144.0 349.2h5.6m-2.8-2.8v5.6M285.8 366.7h5.6m-2.8-2.8v5.6M182.7 387.7h5.6m-2.8-2.8v5.6M113.9 347.4h5.6m-2.8-2.8v5.6M188.9 375.7h5.6m-2.8-2.8v5.6M202.0 365.0h5.6m-2.8-2.8v5.6M186.9 364.9h5.6m-2.8-2.8v5.6M159.1 348.9h5.6m-2.8-2.8v5.6M80.2 338.4h5.6m-2.8-2.8v5.6M295.3 401.2h5.6m-2.8-2.8v5.6M179.3 331.0h5.6m-2.8-2.8v5.6M292.1 379.3h5.6m-2.8-2.8v5.6M66.9 316.3h5.6m-2.8-2.8v5.6M203.9 369.8h5.6m-2.8-2.8v5.6M231.5 368.5h5.6m-2.8-2.8v5.6M268.5 371.6h5.6m-2.8-2.8v5.6M74.7 265.3h5.6m-2.8-2.8v5.6M254.6 354.2h5.6m-2.8-2.8v5.6M182.6 353.3h5.6m-2.8-2.8v5.6M179.0 332.2h5.6m-2.8-2.8v5.6M170.9 360.2h5.6m-2.8-2.8v5.6M281.4 380.4h5.6m-2.8-2.8v5.6M278.0 358.5h5.6m-2.8-2.8v5.6M65.8 345.1h5.6m-2.8-2.8v5.6M311.3 400.8h5.6m-2.8-2.8v5.6M269.0 378.7h5.6m-2.8-2.8v5.6M211.0 368.6h5.6m-2.8-2.8v5.6M190.2 361.5h5.6m-2.8-2.8v5.6M113.9 335.8h5.6m-2.8-2.8v5.6M286.3 394.7h5.6m-2.8-2.8v5.6M124.4 345.2h5.6m-2.8-2.8v5.6M170.3 371.8h5.6m-2.8-2.8v5.6M310.4 382.5h5.6m-2.8-2.8v5.6M165.2 355.4h5.6m-2.8-2.8v5.6M123.2 352.4h5.6m-2.8-2.8v5.6M97.6 352.8h5.6m-2.8-2.8v5.6M301.2 385.4h5.6m-2.8-2.8v5.6M292.4 382.4h5.6m-2.8-2.8v5.6M170.1 349.8h5.6m-2.8-2.8v5.6M184.1 348.8h5.6m-2.8-2.8v5.6M217.4 378.2h5.6m-2.8-2.8v5.6M250.2 367.8h5.6m-2.8-2.8v5.6M289.8 383.4h5.6m-2.8-2.8v5.6M235.7 367.7h5.6m-2.8-2.8v5.6M192.8 354.3h5.6m-2.8-2.8v5.6M204.9 367.1h5.6m-2.8-2.8v5.6M281.1 376.6h5.6m-2.8-2.8v5.6M121.1 342.7h5.6m-2.8-2.8v5.6M72.1 330.4h5.6m-2.8-2.8v5.6M205.9 381.4h5.6m-2.8-2.8v5.6M301.4 389.2h5.6m-2.8-2.8v5.6M115.1 343.3h5.6m-2.8-2.8v5.6M157.5 359.0h5.6m-2.8-2.8v5.6M240.6 362.6h5.6m-2.8-2.8v5.6M168.0 341.5h5.6m-2.8-2.8v5.6M247.4 365.2h5.6m-2.8-2.8v5.6M95.4 327.7h5.6m-2.8-2.8v5.6M288.9 383.3h5.6m-2.8-2.8v5.6M186.0 353.8h5.6m-2.8-2.8v5.6M143.0 363.3h5.6m-2.8-2.8v5.6M83.3 332.2h5.6m-2.8-2.8v5.6M296.6 396.4h5.6m-2.8-2.8v5.6M262.6 379.9h5.6m-2.8-2.8v5.6M111.4 353.1h5.6m-2.8-2.8v5.6M179.4 366.3h5.6m-2.8-2.8v5.6M236.6 403.2h5.6m-2.8-2.8v5.6M212.1 353.9h5.6m-2.8-2.8v5.6M260.0 363.8h5.6m-2.8-2.8v5.6M130.4 359.0h5.6m-2.8-2.8v5.6M184.0 360.2h5.6m-2.8-2.8v5.6M113.9 340.0h5.6m-2.8-2.8v5.6M76.5 336.0h5.6m-2.8-2.8v5.6M267.4 366.4h5.6m-2.8-2.8v5.6M137.0 346.3h5.6m-2.8-2.8v5.6M178.1 369.9h5.6m-2.8-2.8v5.6M228.9 347.8h5.6m-2.8-2.8v5.6M100.0 330.8h5.6m-2.8-2.8v5.6M121.4 341.2h5.6m-2.8-2.8v5.6M71.0 335.9h5.6m-2.8-2.8v5.6M203.4 372.2h5.6m-2.8-2.8v5.6M193.9 328.6h5.6m-2.8-2.8v5.6M68.7 334.9h5.6m-2.8-2.8v5.6M303.3 393.3h5.6m-2.8-2.8v5.6M306.8 382.0h5.6m-2.8-2.8v5.6M81.6 343.2h5.6m-2.8-2.8v5.6M132.1 348.9h5.6m-2.8-2.8v5.6M140.1 335.2h5.6m-2.8-2.8v5.6M114.2 336.7h5.6m-2.8-2.8v5.6M86.1 354.4h5.6m-2.8-2.8v5.6M287.0 381.2h5.6m-2.8-2.8v5.6M205.2 339.0h5.6m-2.8-2.8v5.6M85.3 351.2h5.6m-2.8-2.8v5.6M135.1 347.8h5.6m-2.8-2.8v5.6M165.9 384.8h5.6m-2.8-2.8v5.6M143.0 333.5h5.6m-2.8-2.8v5.6M80.9 338.6h5.6m-2.8-2.8v5.6M286.8 386.4h5.6m-2.8-2.8v5.6M73.9 325.9h5.6m-2.8-2.8v5.6M284.3 402.9h5.6m-2.8-2.8v5.6M255.8 352.3h5.6m-2.8-2.8v5.6M88.1 333.8h5.6m-2.8-2.8v5.6M84.3 321.7h5.6m-2.8-2.8v5.6M170.6 349.0h5.6m-2.8-2.8v5.6M242.9 340.2h5.6m-2.8-2.8v5.6M237.6 369.4h5.6m-2.8-2.8v5.6M295.4 382.8h5.6m-2.8-2.8v5.6M161.6 379.2h5.6m-2.8-2.8v5.6M216.6 341.3h5.6m-2.8-2.8v5.6M250.0 357.9h5.6m-2.8-2.8v5.6M80.1 327.9h5.6m-2.8-2.8v5.6M136.2 353.5h5.6m-2.8-2.8v5.6M181.9 390.1h5.6m-2.8-2.8v5.6M237.5 352.5h5.6m-2.8-2.8v5.6M149.3 353.1h5.6m-2.8-2.8v5.6M189.8 349.9h5.6m-2.8-2.8v5.6M102.8 344.0h5.6m-2.8-2.8v5.6M120.7 342.0h5.6m-2.8-2.8v5.6M315.3 384.5h5.6m-2.8-2.8v5.6M167.7 366.7h5.6m-2.8-2.8v5.6M138.5 324.5h5.6m-2.8-2.8v5.6M256.2 372.7h5.6m-2.8-2.8v5.6M317.2 387.6h5.6m-2.8-2.8v5.6M153.0 354.3h5.6m-2.8-2.8v5.6M168.1 352.7h5.6m-2.8-2.8v5.6M222.3 388.2h5.6m-2.8-2.8v5.6M204.2 349.3h5.6m-2.8-2.8v5.6M85.6 314.3h5.6m-2.8-2.8v5.6M69.7 316.2h5.6m-2.8-2.8v5.6M259.3 382.7h5.6m-2.8-2.8v5.6M278.9 377.5h5.6m-2.8-2.8v5.6M189.3 354.1h5.6m-2.8-2.8v5.6M177.1 364.1h5.6m-2.8-2.8v5.6M76.8 341.4h5.6m-2.8-2.8v5.6M190.6 345.5h5.6m-2.8-2.8v5.6M59.4 346.5h5.6m-2.8-2.8v5.6M85.0 340.7h5.6m-2.8-2.8v5.6M312.9 387.0h5.6m-2.8-2.8v5.6M229.4 363.7h5.6m-2.8-2.8v5.6M193.1 378.4h5.6m-2.8-2.8v5.6M218.5 374.3h5.6m-2.8-2.8v5.6M103.4 334.9h5.6m-2.8-2.8v5.6M225.6 362.9h5.6m-2.8-2.8v5.6M303.2 396.7h5.6m-2.8-2.8v5.6M298.4 383.2h5.6m-2.8-2.8v5.6M131.6 341.9h5.6m-2.8-2.8v5.6M260.6 376.9h5.6m-2.8-2.8v5.6M112.7 341.0h5.6m-2.8-2.8v5.6M85.0 312.7h5.6m-2.8-2.8v5.6M281.2 359.4h5.6m-2.8-2.8v5.6M84.7 333.6h5.6m-2.8-2.8v5.6M139.1 366.1h5.6m-2.8-2.8v5.6M128.7 339.1h5.6m-2.8-2.8v5.6M233.0 362.5h5.6m-2.8-2.8v5.6M132.7 354.0h5.6m-2.8-2.8v5.6M154.9 348.1h5.6m-2.8-2.8v5.6M177.7 360.9h5.6m-2.8-2.8v5.6M281.2 385.3h5.6m-2.8-2.8v5.6M310.6 373.7h5.6m-2.8-2.8v5.6M180.3 348.7h5.6m-2.8-2.8v5.6M78.6 325.7h5.6m-2.8-2.8v5.6M221.3 359.8h5.6m-2.8-2.8v5.6M287.9 393.7h5.6m-2.8-2.8v5.6M225.7 374.6h5.6m-2.8-2.8v5.6M301.7 384.1h5.6m-2.8-2.8v5.6M156.0 363.0h5.6m-2.8-2.8v5.6M226.1 383.1h5.6m-2.8-2.8v5.6M70.5 349.8h5.6m-2.8-2.8v5.6M192.9 361.5h5.6m-2.8-2.8v5.6M252.4 378.2h5.6m-2.8-2.8v5.6M77.3 337.2h5.6m-2.8-2.8v5.6M113.7 356.1h5.6m-2.8-2.8v5.6M113.6 325.7h5.6m-2.8-2.8v5.6M293.7 400.7h5.6m-2.8-2.8v5.6M65.6 337.4h5.6m-2.8-2.8v5.6M217.6 381.8h5.6m-2.8-2.8v5.6M293.4 382.9h5.6m-2.8-2.8v5.6M237.7 358.7h5.6m-2.8-2.8v5.6M158.8 350.1h5.6m-2.8-2.8v5.6M66.1 353.8h5.6m-2.8-2.8v5.6M200.3 365.9h5.6m-2.8-2.8v5.6M121.3 348.9h5.6m-2.8-2.8v5.6M110.5 334.3h5.6m-2.8-2.8v5.6M178.7 370.6h5.6m-2.8-2.8v5.6M63.6 334.2h5.6m-2.8-2.8v5.6M284.4 393.1h5.6m-2.8-2.8v5.6M98.4 323.4h5.6m-2.8-2.8v5.6M146.5 344.4h5.6m-2.8-2.8v5.6M62.7 350.9h5.6m-2.8-2.8v5.6M172.8 351.5h5.6m-2.8-2.8v5.6M302.6 375.0h5.6m-2.8-2.8v5.6M210.0 362.9h5.6m-2.8-2.8v5.6M267.7 366.3h5.6m-2.8-2.8v5.6M87.7 334.1h5.6m-2.8-2.8v5.6M67.6 338.2h5.6m-2.8-2.8v5.6M98.7 330.1h5.6m-2.8-2.8v5.6M88.9 342.7h5.6m-2.8-2.8v5.6M308.6 398.4h5.6m-2.8-2.8v5.6M280.0 395.6h5.6m-2.8-2.8v5.6M226.5 353.3h5.6m-2.8-2.8v5.6M258.1 358.5h5.6m-2.8-2.8v5.6M211.3 378.0h5.6m-2.8-2.8v5.6M124.1 362.7h5.6m-2.8-2.8v5.6M70.7 332.6h5.6m-2.8-2.8v5.6M172.1 341.6h5.6m-2.8-2.8v5.6M93.1 332.3h5.6m-2.8-2.8v5.6M233.8 378.8h5.6m-2.8-2.8v5.6M297.0 386.7h5.6m-2.8-2.8v5.6M275.4 382.5h5.6m-2.8-2.8v5.6M111.3 333.3h5.6m-2.8-2.8v5.6M266.7 370.0h5.6m-2.8-2.8v5.6M250.6 350.3h5.6m-2.8-2.8v5.6M297.5 385.0h5.6m-2.8-2.8v5.6M218.2 374.7h5.6m-2.8-2.8v5.6M93.4 320.7h5.6m-2.8-2.8v5.6M250.5 358.9h5.6m-2.8-2.8v5.6M83.1 352.2h5.6m-2.8-2.8v5.6M300.6 377.9h5.6m-2.8-2.8v5.6M207.3 357.2h5.6m-2.8-2.8v5.6M304.5 399.2h5.6m-2.8-2.8v5.6M73.4 368.2h5.6m-2.8-2.8v5.6M158.5 352.3h5.6m-2.8-2.8v5.6M216.5 366.4h5.6m-2.8-2.8v5.6M267.3 367.8h5.6m-2.8-2.8v5.6M247.7 379.0h5.6m-2.8-2.8v5.6M286.3 387.0h5.6m-2.8-2.8v5.6M266.2 397.5h5.6m-2.8-2.8v5.6M293.4 384.5h5.6m-2.8-2.8v5.6M188.0 374.3h5.6m-2.8-2.8v5.6M300.3 400.2h5.6m-2.8-2.8v5.6M216.6 368.0h5.6m-2.8-2.8v5.6M128.5 340.1h5.6m-2.8-2.8v5.6M80.1 329.5h5.6m-2.8-2.8v5.6M165.9 353.3h5.6m-2.8-2.8v5.6M246.6 373.5h5.6m-2.8-2.8v5.6M197.2 365.7h5.6m-2.8-2.8v5.6M180.9 360.3h5.6m-2.8-2.8v5.6M247.1 382.6h5.6m-2.8-2.8v5.6M88.4 345.8h5.6m-2.8-2.8v5.6M255.4 368.5h5.6m-2.8-2.8v5.6M237.2 369.7h5.6m-2.8-2.8v5.6M300.6 394.9h5.6m-2.8-2.8v5.6M258.1 381.4h5.6m-2.8-2.8v5.6M153.7 336.2h5.6m-2.8-2.8v5.6M290.0 394.1h5.6m-2.8-2.8v5.6M271.3 390.2h5.6m-2.8-2.8v5.6M214.9 356.7h5.6m-2.8-2.8v5.6M201.0 361.8h5.6m-2.8-2.8v5.6M292.1 380.5h5.6m-2.8-2.8v5.6M138.1 339.9h5.6m-2.8-2.8v5.6M132.4 359.8h5.6m-2.8-2.8v5.6M68.2 332.2h5.6m-2.8-2.8v5.6M224.4 366.3h5.6m-2.8-2.8v5.6M82.5 334.4h5.6m-2.8-2.8v5.6M166.8 356.8h5.6m-2.8-2.8v5.6M208.4 340.0h5.6m-2.8-2.8v5.6M289.2 393.4h5.6m-2.8-2.8v5.6M283.4 381.4h5.6m-2.8-2.8v5.6M160.2 347.3h5.6m-2.8-2.8v5.6M69.8 322.3h5.6m-2.8-2.8v5.6M181.7 358.0h5.6m-2.8-2.8v5.6M112.5 329.7h5.6m-2.8-2.8v5.6M63.0 338.0h5.6m-2.8-2.8v5.6M188.7 344.3h5.6m-2.8-2.8v5.6M161.1 347.3h5.6m-2.8-2.8v5.6M284.3 370.4h5.6m-2.8-2.8v5.6M139.8 357.9h5.6m-2.8-2.8v5.6M307.2 369.8h5.6m-2.8-2.8v5.6M192.7 353.9h5.6m-2.8-2.8v5.6M125.1 333.3h5.6m-2.8-2.8v5.6M287.7 381.7h5.6m-2.8-2.8v5.6M293.1 382.0h5.6m-2.8-2.8v5.6M269.9 380.4h5.6m-2.8-2.8v5.6M112.8 349.4h5.6m-2.8-2.8v5.6M67.7 302.5h5.6m-2.8-2.8v5.6M208.8 354.4h5.6m-2.8-2.8v5.6M265.1 387.3h5.6m-2.8-2.8v5.6M281.5 388.3h5.6m-2.8-2.8v5.6M314.1 392.7h5.6m-2.8-2.8v5.6M182.6 382.5h5.6m-2.8-2.8v5.6M102.1 325.7h5.6m-2.8-2.8v5.6M271.0 398.7h5.6m-2.8-2.8v5.6M196.5 342.0h5.6m-2.8-2.8v5.6M315.8 390.4h5.6m-2.8-2.8v5.6M147.5 349.7h5.6m-2.8-2.8v5.6M212.2 362.1h5.6m-2.8-2.8v5.6M158.5 359.6h5.6m-2.8-2.8v5.6M220.8 362.3h5.6m-2.8-2.8v5.6M246.0 391.3h5.6m-2.8-2.8v5.6M236.2 364.2h5.6m-2.8-2.8v5.6M161.7 377.2h5.6m-2.8-2.8v5.6M174.8 345.1h5.6m-2.8-2.8v5.6M120.8 343.5h5.6m-2.8-2.8v5.6M195.3 355.9h5.6m-2.8-2.8v5.6M286.9 389.6h5.6m-2.8-2.8v5.6M309.1 397.6h5.6m-2.8-2.8v5.6M79.5 337.4h5.6m-2.8-2.8v5.6M208.9 355.8h5.6m-2.8-2.8v5.6M183.6 370.5h5.6m-2.8-2.8v5.6M238.9 393.5h5.6m-2.8-2.8v5.6M169.9 346.3h5.6m-2.8-2.8v5.6M132.2 339.5h5.6m-2.8-2.8v5.6M297.9 381.3h5.6m-2.8-2.8v5.6M276.5 359.3h5.6m-2.8-2.8v5.6M295.6 398.6h5.6m-2.8-2.8v5.6M60.5 343.1h5.6m-2.8-2.8v5.6M299.4 397.4h5.6m-2.8-2.8v5.6M65.8 340.5h5.6m-2.8-2.8v5.6M271.8 382.5h5.6m-2.8-2.8v5.6M311.6 388.4h5.6m-2.8-2.8v5.6M296.8 389.1h5.6m-2.8-2.8v5.6M241.5 375.4h5.6m-2.8-2.8v5.6M118.4 339.8h5.6m-2.8-2.8v5.6M277.6 384.6h5.6m-2.8-2.8v5.6M212.2 348.9h5.6m-2.8-2.8v5.6M276.7 361.9h5.6m-2.8-2.8v5.6M187.0 338.1h5.6m-2.8-2.8v5.6M185.9 346.4h5.6m-2.8-2.8v5.6M99.6 367.0h5.6m-2.8-2.8v5.6M139.7 367.1h5.6m-2.8-2.8v5.6M303.0 389.7h5.6m-2.8-2.8v5.6M300.5 375.6h5.6m-2.8-2.8v5.6M71.7 322.4h5.6m-2.8-2.8v5.6M85.1 341.7h5.6m-2.8-2.8v5.6M238.0 368.8h5.6m-2.8-2.8v5.6M262.2 375.2h5.6m-2.8-2.8v5.6M164.1 345.3h5.6m-2.8-2.8v5.6M289.2 403.3h5.6m-2.8-2.8v5.6M75.0 327.9h5.6m-2.8-2.8v5.6M148.2 364.0h5.6m-2.8-2.8v5.6M65.5 321.4h5.6m-2.8-2.8v5.6M154.8 342.4h5.6m-2.8-2.8v5.6M93.7 326.7h5.6m-2.8-2.8v5.6M192.8 351.8h5.6m-2.8-2.8v5.6M236.0 361.9h5.6m-2.8-2.8v5.6M280.0 379.4h5.6m-2.8-2.8v5.6M231.1 376.2h5.6m-2.8-2.8v5.6M145.5 368.9h5.6m-2.8-2.8v5.6M84.1 321.8h5.6m-2.8-2.8v5.6M199.6 366.8h5.6m-2.8-2.8v5.6M64.0 336.9h5.6m-2.8-2.8v5.6M281.7 374.4h5.6m-2.8-2.8v5.6M288.5 356.7h5.6m-2.8-2.8v5.6M74.2 327.7h5.6m-2.8-2.8v5.6M179.4 352.4h5.6m-2.8-2.8v5.6M89.1 334.1h5.6m-2.8-2.8v5.6M173.7 358.6h5.6m-2.8-2.8v5.6M103.4 325.3h5.6m-2.8-2.8v5.6M172.2 329.7h5.6m-2.8-2.8v5.6M198.4 374.1h5.6m-2.8-2.8v5.6M312.8 369.6h5.6m-2.8-2.8v5.6M64.9 327.4h5.6m-2.8-2.8v5.6M90.9 316.9h5.6m-2.8-2.8v5.6M239.9 395.0h5.6m-2.8-2.8v5.6M210.1 353.2h5.6m-2.8-2.8v5.6M97.2 350.1h5.6m-2.8-2.8v5.6M167.7 345.1h5.6m-2.8-2.8v5.6M191.0 351.3h5.6m-2.8-2.8v5.6M194.1 341.3h5.6m-2.8-2.8v5.6M188.3 357.6h5.6m-2.8-2.8v5.6M91.6 334.8h5.6m-2.8-2.8v5.6M61.7 332.6h5.6m-2.8-2.8v5.6M180.7 349.9h5.6m-2.8-2.8v5.6M287.7 381.2h5.6m-2.8-2.8v5.6M217.1 345.8h5.6m-2.8-2.8v5.6M291.1 383.5h5.6m-2.8-2.8v5.6M77.2 332.2h5.6m-2.8-2.8v5.6M312.3 365.4h5.6m-2.8-2.8v5.6M224.7 392.1h5.6m-2.8-2.8v5.6M206.4 371.8h5.6m-2.8-2.8v5.6M233.1 368.5h5.6m-2.8-2.8v5.6M225.4 375.5h5.6m-2.8-2.8v5.6M293.9 392.1h5.6m-2.8-2.8v5.6M294.2 386.4h5.6m-2.8-2.8v5.6M300.2 396.6h5.6m-2.8-2.8v5.6M179.2 344.7h5.6m-2.8-2.8v5.6M96.0 345.0h5.6m-2.8-2.8v5.6M119.3 343.2h5.6m-2.8-2.8v5.6M296.0 407.5h5.6m-2.8-2.8v5.6M73.9 336.5h5.6m-2.8-2.8v5.6M88.9 367.2h5.6m-2.8-2.8v5.6M144.6 342.6h5.6m-2.8-2.8v5.6M95.8 327.5h5.6m-2.8-2.8v5.6M317.2 379.3h5.6m-2.8-2.8v5.6M97.9 335.2h5.6m-2.8-2.8v5.6M104.6 338.7h5.6m-2.8-2.8v5.6M160.4 382.3h5.6m-2.8-2.8v5.6M109.1 327.1h5.6m-2.8-2.8v5.6M220.2 372.8h5.6m-2.8-2.8v5.6M132.1 339.0h5.6m-2.8-2.8v5.6M94.4 329.6h5.6m-2.8-2.8v5.6M86.6 347.1h5.6m-2.8-2.8v5.6M77.7 315.3h5.6m-2.8-2.8v5.6M221.7 368.3h5.6m-2.8-2.8v5.6M151.1 334.4h5.6m-2.8-2.8v5.6M262.2 381.5h5.6m-2.8-2.8v5.6M149.4 325.6h5.6m-2.8-2.8v5.6M315.7 390.0h5.6m-2.8-2.8v5.6M310.0 383.8h5.6m-2.8-2.8v5.6M144.1 384.6h5.6m-2.8-2.8v5.6M95.9 341.9h5.6m-2.8-2.8v5.6M103.7 336.0h5.6m-2.8-2.8v5.6M273.7 376.0h5.6m-2.8-2.8v5.6M101.2 320.0h5.6m-2.8-2.8v5.6M190.0 342.0h5.6m-2.8-2.8v5.6M84.8 311.4h5.6m-2.8-2.8v5.6M245.1 349.7h5.6m-2.8-2.8v5.6M193.1 358.4h5.6m-2.8-2.8v5.6M186.8 347.9h5.6m-2.8-2.8v5.6M178.3 373.4h5.6m-2.8-2.8v5.6M255.7 399.4h5.6m-2.8-2.8v5.6M199.8 340.1h5.6m-2.8-2.8v5.6M207.5 355.1h5.6m-2.8-2.8v5.6M164.7 335.5h5.6m-2.8-2.8v5.6M258.3 389.9h5.6m-2.8-2.8v5.6M219.0 354.6h5.6m-2.8-2.8v5.6M154.6 346.7h5.6m-2.8-2.8v5.6M195.8 348.9h5.6m-2.8-2.8v5.6M136.4 354.2h5.6m-2.8-2.8v5.6M222.4 355.3h5.6m-2.8-2.8v5.6M211.3 387.9h5.6m-2.8-2.8v5.6M232.3 366.3h5.6m-2.8-2.8v5.6M237.2 357.8h5.6m-2.8-2.8v5.6M312.4 380.9h5.6m-2.8-2.8v5.6M174.6 341.9h5.6m-2.8-2.8v5.6M90.1 333.5h5.6m-2.8-2.8v5.6M305.1 396.6h5.6m-2.8-2.8v5.6M198.6 362.4h5.6m-2.8-2.8v5.6M68.6 322.7h5.6m-2.8-2.8v5.6M229.6 358.8h5.6m-2.8-2.8v5.6M259.3 375.5h5.6m-2.8-2.8v5.6M131.6 356.7h5.6m-2.8-2.8v5.6M309.9 398.7h5.6m-2.8-2.8v5.6M173.3 346.7h5.6m-2.8-2.8v5.6M306.8 388.5h5.6m-2.8-2.8v5.6M240.1 388.4h5.6m-2.8-2.8v5.6M190.0 355.9h5.6m-2.8-2.8v5.6M274.9 359.2h5.6m-2.8-2.8v5.6M178.1 361.7h5.6m-2.8-2.8v5.6M206.6 349.5h5.6m-2.8-2.8v5.6M265.4 361.2h5.6m-2.8-2.8v5.6M72.1 331.3h5.6m-2.8-2.8v5.6M99.8 329.1h5.6m-2.8-2.8v5.6M228.1 370.4h5.6m-2.8-2.8v5.6M306.4 395.3h5.6m-2.8-2.8v5.6M159.1 362.3h5.6m-2.8-2.8v5.6M162.2 365.3h5.6m-2.8-2.8v5.6M140.5 349.5h5.6m-2.8-2.8v5.6M157.0 344.0h5.6m-2.8-2.8v5.6M216.6 368.4h5.6m-2.8-2.8v5.6M129.8 330.3h5.6m-2.8-2.8v5.6M292.4 375.9h5.6m-2.8-2.8v5.6M249.7 352.4h5.6m-2.8-2.8v5.6M72.7 344.9h5.6m-2.8-2.8v5.6M141.1 351.5h5.6m-2.8-2.8v5.6M118.4 351.6h5.6m-2.8-2.8v5.6M66.3 332.7h5.6m-2.8-2.8v5.6M215.3 361.0h5.6m-2.8-2.8v5.6M170.5 383.0h5.6m-2.8-2.8v5.6M124.2 348.7h5.6m-2.8-2.8v5.6M239.5 347.8h5.6m-2.8-2.8v5.6M95.1 343.7h5.6m-2.8-2.8v5.6M106.4 347.3h5.6m-2.8-2.8v5.6M245.1 367.9h5.6m-2.8-2.8v5.6M140.4 350.9h5.6m-2.8-2.8v5.6M304.1 379.6h5.6m-2.8-2.8v5.6M225.0 370.8h5.6m-2.8-2.8v5.6M298.0 383.0h5.6m-2.8-2.8v5.6M211.6 351.3h5.6m-2.8-2.8v5.6M177.8 348.7h5.6m-2.8-2.8v5.6M95.9 359.1h5.6m-2.8-2.8v5.6M239.0 374.8h5.6m-2.8-2.8v5.6M105.6 351.4h5.6m-2.8-2.8v5.6M217.7 350.3h5.6m-2.8-2.8v5.6M77.3 336.3h5.6m-2.8-2.8v5.6M250.8 382.0h5.6m-2.8-2.8v5.6M182.2 365.0h5.6m-2.8-2.8v5.6M169.8 338.8h5.6m-2.8-2.8v5.6M247.1 379.3h5.6m-2.8-2.8v5.6M79.9 320.3h5.6m-2.8-2.8v5.6M67.8 327.2h5.6m-2.8-2.8v5.6M268.2 383.5h5.6m-2.8-2.8v5.6M287.3 388.5h5.6m-2.8-2.8v5.6M220.6 367.7h5.6m-2.8-2.8v5.6M220.5 372.1h5.6m-2.8-2.8v5.6M209.8 373.7h5.6m-2.8-2.8v5.6M86.9 350.1h5.6m-2.8-2.8v5.6M180.8 359.1h5.6m-2.8-2.8v5.6M276.2 371.5h5.6m-2.8-2.8v5.6M295.6 384.4h5.6m-2.8-2.8v5.6M132.1 353.2h5.6m-2.8-2.8v5.6M261.7 376.3h5.6m-2.8-2.8v5.6M245.2 391.3h5.6m-2.8-2.8v5.6M87.8 325.1h5.6m-2.8-2.8v5.6M276.7 374.5h5.6m-2.8-2.8v5.6M74.0 334.7h5.6m-2.8-2.8v5.6M114.2 344.3h5.6m-2.8-2.8v5.6M295.8 385.9h5.6m-2.8-2.8v5.6M252.5 376.1h5.6m-2.8-2.8v5.6M273.3 382.7h5.6m-2.8-2.8v5.6M306.4 383.2h5.6m-2.8-2.8v5.6M87.0 328.7h5.6m-2.8-2.8v5.6M91.5 353.6h5.6m-2.8-2.8v5.6M127.5 339.9h5.6m-2.8-2.8v5.6M294.5 390.4h5.6m-2.8-2.8v5.6M224.4 352.9h5.6m-2.8-2.8v5.6M311.4 386.6h5.6m-2.8-2.8v5.6M238.3 379.3h5.6m-2.8-2.8v5.6M115.3 344.6h5.6m-2.8-2.8v5.6M191.6 357.7h5.6m-2.8-2.8v5.6M186.9 341.6h5.6m-2.8-2.8v5.6M205.0 379.3h5.6m-2.8-2.8v5.6M259.1 369.6h5.6m-2.8-2.8v5.6M291.4 388.0h5.6m-2.8-2.8v5.6M193.0 354.1h5.6m-2.8-2.8v5.6M136.3 337.5h5.6m-2.8-2.8v5.6M248.7 378.0h5.6m-2.8-2.8v5.6M247.0 375.9h5.6m-2.8-2.8v5.6M121.6 366.8h5.6m-2.8-2.8v5.6M111.3 339.0h5.6m-2.8-2.8v5.6M274.8 388.8h5.6m-2.8-2.8v5.6M257.2 373.0h5.6m-2.8-2.8v5.6M292.5 389.4h5.6m-2.8-2.8v5.6M304.4 380.9h5.6m-2.8-2.8v5.6M102.1 315.5h5.6m-2.8-2.8v5.6M111.0 332.8h5.6m-2.8-2.8v5.6M222.8 323.3h5.6m-2.8-2.8v5.6M251.1 379.9h5.6m-2.8-2.8v5.6M276.6 395.4h5.6m-2.8-2.8v5.6M263.6 377.3h5.6m-2.8-2.8v5.6M102.1 347.7h5.6m-2.8-2.8v5.6M143.8 367.1h5.6m-2.8-2.8v5.6M70.8 324.9h5.6m-2.8-2.8v5.6M156.5 361.8h5.6m-2.8-2.8v5.6M186.0 347.7h5.6m-2.8-2.8v5.6M199.5 350.2h5.6m-2.8-2.8v5.6M268.8 384.1h5.6m-2.8-2.8v5.6M197.6 371.6h5.6m-2.8-2.8v5.6M76.0 333.2h5.6m-2.8-2.8v5.6M291.2 395.2h5.6m-2.8-2.8v5.6M159.8 363.1h5.6m-2.8-2.8v5.6M93.8 351.3h5.6m-2.8-2.8v5.6M88.2 334.8h5.6m-2.8-2.8v5.6M258.0 373.5h5.6m-2.8-2.8v5.6M71.5 327.3h5.6m-2.8-2.8v5.6M73.3 344.3h5.6m-2.8-2.8v5.6M242.9 383.4h5.6m-2.8-2.8v5.6M233.6 362.4h5.6m-2.8-2.8v5.6M140.4 350.2h5.6m-2.8-2.8v5.6M281.5 387.8h5.6m-2.8-2.8v5.6M180.2 352.2h5.6m-2.8-2.8v5.6M261.3 402.8h5.6m-2.8-2.8v5.6M87.7 336.0h5.6m-2.8-2.8v5.6M260.3 369.2h5.6m-2.8-2.8v5.6M259.9 365.9h5.6m-2.8-2.8v5.6M165.5 360.5h5.6m-2.8-2.8v5.6M161.5 345.7h5.6m-2.8-2.8v5.6M203.4 347.4h5.6m-2.8-2.8v5.6M278.7 380.2h5.6m-2.8-2.8v5.6M305.3 379.7h5.6m-2.8-2.8v5.6M69.6 316.1h5.6m-2.8-2.8v5.6M97.4 343.8h5.6m-2.8-2.8v5.6M272.2 364.7h5.6m-2.8-2.8v5.6M254.6 373.1h5.6m-2.8-2.8v5.6M123.0 338.7h5.6m-2.8-2.8v5.6M262.3 393.7h5.6m-2.8-2.8v5.6M254.6 378.5h5.6m-2.8-2.8v5.6M137.3 360.7h5.6m-2.8-2.8v5.6M261.3 367.4h5.6m-2.8-2.8v5.6M275.2 387.8h5.6m-2.8-2.8v5.6M301.7 381.3h5.6m-2.8-2.8v5.6M95.7 330.9h5.6m-2.8-2.8v5.6M114.9 350.9h5.6m-2.8-2.8v5.6M311.4 389.6h5.6m-2.8-2.8v5.6M257.2 367.2h5.6m-2.8-2.8v5.6M73.1 329.6h5.6m-2.8-2.8v5.6M306.5 372.2h5.6m-2.8-2.8v5.6M222.6 375.0h5.6m-2.8-2.8v5.6M126.4 340.2h5.6m-2.8-2.8v5.6M192.6 346.3h5.6m-2.8-2.8v5.6M180.5 346.5h5.6m-2.8-2.8v5.6M181.9 343.9h5.6m-2.8-2.8v5.6M275.6 378.1h5.6m-2.8-2.8v5.6M100.0 341.1h5.6m-2.8-2.8v5.6M105.5 350.7h5.6m-2.8-2.8v5.6M114.9 330.9h5.6m-2.8-2.8v5.6M124.5 330.1h5.6m-2.8-2.8v5.6M83.3 320.3h5.6m-2.8-2.8v5.6M287.0 368.5h5.6m-2.8-2.8v5.6M296.8 388.4h5.6m-2.8-2.8v5.6M288.5 382.3h5.6m-2.8-2.8v5.6M86.9 349.9h5.6m-2.8-2.8v5.6M91.5 326.5h5.6m-2.8-2.8v5.6M293.7 356.7h5.6m-2.8-2.8v5.6M152.9 363.8h5.6m-2.8-2.8v5.6M250.0 373.7h5.6m-2.8-2.8v5.6M77.1 321.8h5.6m-2.8-2.8v5.6M239.0 368.3h5.6m-2.8-2.8v5.6M258.8 362.9h5.6m-2.8-2.8v5.6M106.7 357.2h5.6m-2.8-2.8v5.6M93.4 330.9h5.6m-2.8-2.8v5.6M175.9 358.1h5.6m-2.8-2.8v5.6M290.6 380.9h5.6m-2.8-2.8v5.6M131.6 376.0h5.6m-2.8-2.8v5.6M279.1 385.3h5.6m-2.8-2.8v5.6M185.6 366.2h5.6m-2.8-2.8v5.6M160.0 348.1h5.6m-2.8-2.8v5.6M282.2 384.0h5.6m-2.8-2.8v5.6M278.3 375.0h5.6m-2.8-2.8v5.6M313.7 390.5h5.6m-2.8-2.8v5.6M303.5 375.5h5.6m-2.8-2.8v5.6M264.1 366.1h5.6m-2.8-2.8v5.6M103.5 341.3h5.6m-2.8-2.8v5.6M198.6 340.6h5.6m-2.8-2.8v5.6M306.5 376.4h5.6m-2.8-2.8v5.6M235.6 359.5h5.6m-2.8-2.8v5.6M304.8 399.9h5.6m-2.8-2.8v5.6M195.4 355.8h5.6m-2.8-2.8v5.6M292.7 376.6h5.6m-2.8-2.8v5.6M305.4 390.6h5.6m-2.8-2.8v5.6M276.9 390.7h5.6m-2.8-2.8v5.6M193.4 353.5h5.6m-2.8-2.8v5.6M161.4 348.1h5.6m-2.8-2.8v5.6M222.0 342.5h5.6m-2.8-2.8v5.6M274.2 376.2h5.6m-2.8-2.8v5.6M139.8 342.9h5.6m-2.8-2.8v5.6M79.4 331.8h5.6m-2.8-2.8v5.6M144.0 346.9h5.6m-2.8-2.8v5.6M301.6 392.8h5.6m-2.8-2.8v5.6M298.9 389.2h5.6m-2.8-2.8v5.6M104.8 342.2h5.6m-2.8-2.8v5.6M125.0 356.9h5.6m-2.8-2.8v5.6M199.3 353.3h5.6m-2.8-2.8v5.6M156.1 350.1h5.6m-2.8-2.8v5.6M231.5 355.9h5.6m-2.8-2.8v5.6M208.4 359.0h5.6m-2.8-2.8v5.6M298.8 401.4h5.6m-2.8-2.8v5.6M251.6 365.6h5.6m-2.8-2.8v5.6M258.2 379.9h5.6m-2.8-2.8v5.6M293.8 384.1h5.6m-2.8-2.8v5.6M70.2 332.6h5.6m-2.8-2.8v5.6M268.3 358.5h5.6m-2.8-2.8v5.6M289.8 376.1h5.6m-2.8-2.8v5.6M231.3 384.3h5.6m-2.8-2.8v5.6M287.2 381.0h5.6m-2.8-2.8v5.6M151.6 332.5h5.6m-2.8-2.8v5.6M92.2 352.7h5.6m-2.8-2.8v5.6M131.5 345.3h5.6m-2.8-2.8v5.6M267.3 393.3h5.6m-2.8-2.8v5.6M247.3 380.7h5.6m-2.8-2.8v5.6M259.1 367.2h5.6m-2.8-2.8v5.6M291.4 378.0h5.6m-2.8-2.8v5.6M168.0 365.0h5.6m-2.8-2.8v5.6M68.8 331.6h5.6m-2.8-2.8v5.6M155.4 351.5h5.6m-2.8-2.8v5.6M260.9 378.7h5.6m-2.8-2.8v5.6M211.9 347.9h5.6m-2.8-2.8v5.6M250.9 368.9h5.6m-2.8-2.8v5.6M69.5 351.5h5.6m-2.8-2.8v5.6M77.9 328.8h5.6m-2.8-2.8v5.6M258.2 383.9h5.6m-2.8-2.8v5.6M254.4 379.6h5.6m-2.8-2.8v5.6M82.1 305.2h5.6m-2.8-2.8v5.6M304.6 372.3h5.6m-2.8-2.8v5.6M74.5 357.3h5.6m-2.8-2.8v5.6M108.9 343.2h5.6m-2.8-2.8v5.6M130.9 332.1h5.6m-2.8-2.8v5.6M303.0 382.7h5.6m-2.8-2.8v5.6M295.2 385.5h5.6m-2.8-2.8v5.6M68.6 321.1h5.6m-2.8-2.8v5.6M105.0 335.5h5.6m-2.8-2.8v5.6M245.7 384.0h5.6m-2.8-2.8v5.6M269.5 372.5h5.6m-2.8-2.8v5.6M64.6 333.5h5.6m-2.8-2.8v5.6M77.5 325.8h5.6m-2.8-2.8v5.6M229.0 362.8h5.6m-2.8-2.8v5.6M144.1 323.9h5.6m-2.8-2.8v5.6M185.2 359.4h5.6m-2.8-2.8v5.6M94.2 320.9h5.6m-2.8-2.8v5.6M276.3 388.8h5.6m-2.8-2.8v5.6M70.2 331.3h5.6m-2.8-2.8v5.6M270.1 361.6h5.6m-2.8-2.8v5.6M311.4 352.7h5.6m-2.8-2.8v5.6M270.8 379.6h5.6m-2.8-2.8v5.6M148.5 342.7h5.6m-2.8-2.8v5.6M285.9 379.4h5.6m-2.8-2.8v5.6M309.5 396.1h5.6m-2.8-2.8v5.6M248.2 379.9h5.6m-2.8-2.8v5.6M159.3 352.8h5.6m-2.8-2.8v5.6M65.0 338.3h5.6m-2.8-2.8v5.6M176.8 343.0h5.6m-2.8-2.8v5.6M67.9 330.3h5.6m-2.8-2.8v5.6M299.2 377.7h5.6m-2.8-2.8v5.6M162.1 324.7h5.6m-2.8-2.8v5.6M76.2 324.1h5.6m-2.8-2.8v5.6M267.7 386.9h5.6m-2.8-2.8v5.6M306.4 378.0h5.6m-2.8-2.8v5.6M222.6 371.0h5.6m-2.8-2.8v5.6M98.1 323.0h5.6m-2.8-2.8v5.6M68.9 351.8h5.6m-2.8-2.8v5.6M178.0 341.0h5.6m-2.8-2.8v5.6M273.9 388.5h5.6m-2.8-2.8v5.6M126.3 347.2h5.6m-2.8-2.8v5.6M178.6 341.1h5.6m-2.8-2.8v5.6M181.9 342.6h5.6m-2.8-2.8v5.6M310.8 392.0h5.6m-2.8-2.8v5.6M96.7 324.4h5.6m-2.8-2.8v5.6M214.3 331.7h5.6m-2.8-2.8v5.6M84.9 347.7h5.6m-2.8-2.8v5.6M293.1 387.3h5.6m-2.8-2.8v5.6M311.6 391.6h5.6m-2.8-2.8v5.6M126.8 325.8h5.6m-2.8-2.8v5.6M303.7 362.4h5.6m-2.8-2.8v5.6M80.9 352.5h5.6m-2.8-2.8v5.6M177.0 362.1h5.6m-2.8-2.8v5.6M247.8 390.7h5.6m-2.8-2.8v5.6M230.0 366.1h5.6m-2.8-2.8v5.6M78.8 344.3h5.6m-2.8-2.8v5.6M155.6 368.5h5.6m-2.8-2.8v5.6M119.4 346.8h5.6m-2.8-2.8v5.6M287.3 385.1h5.6m-2.8-2.8v5.6M101.2 337.7h5.6m-2.8-2.8v5.6M72.8 325.3h5.6m-2.8-2.8v5.6M61.2 338.5h5.6m-2.8-2.8v5.6M285.1 368.4h5.6m-2.8-2.8v5.6M296.5 389.6h5.6m-2.8-2.8v5.6M288.8 381.7h5.6m-2.8-2.8v5.6M265.7 371.2h5.6m-2.8-2.8v5.6M83.2 330.1h5.6m-2.8-2.8v5.6M308.6 390.7h5.6m-2.8-2.8v5.6M151.4 348.9h5.6m-2.8-2.8v5.6M278.4 374.6h5.6m-2.8-2.8v5.6M85.9 382.5h5.6m-2.8-2.8v5.6M307.4 397.2h5.6m-2.8-2.8v5.6M177.4 348.8h5.6m-2.8-2.8v5.6M141.9 355.6h5.6m-2.8-2.8v5.6M279.1 366.5h5.6m-2.8-2.8v5.6M299.2 379.6h5.6m-2.8-2.8v5.6M300.4 389.4h5.6m-2.8-2.8v5.6M234.1 366.5h5.6m-2.8-2.8v5.6M312.0 388.7h5.6m-2.8-2.8v5.6M148.3 353.7h5.6m-2.8-2.8v5.6M240.7 365.6h5.6m-2.8-2.8v5.6M75.9 318.7h5.6m-2.8-2.8v5.6M245.9 341.8h5.6m-2.8-2.8v5.6M245.0 340.4h5.6m-2.8-2.8v5.6M124.7 352.6h5.6m-2.8-2.8v5.6M268.7 360.5h5.6m-2.8-2.8v5.6M280.9 380.6h5.6m-2.8-2.8v5.6M299.1 389.5h5.6m-2.8-2.8v5.6M198.0 370.4h5.6m-2.8-2.8v5.6M271.1 370.0h5.6m-2.8-2.8v5.6M144.3 332.8h5.6m-2.8-2.8v5.6M291.9 375.6h5.6m-2.8-2.8v5.6M204.6 369.1h5.6m-2.8-2.8v5.6M220.9 365.6h5.6m-2.8-2.8v5.6M305.3 399.4h5.6m-2.8-2.8v5.6M243.3 386.3h5.6m-2.8-2.8v5.6M264.4 378.4h5.6m-2.8-2.8v5.6M197.6 352.2h5.6m-2.8-2.8v5.6M71.3 329.4h5.6m-2.8-2.8v5.6M285.7 399.4h5.6m-2.8-2.8v5.6M294.9 374.3h5.6m-2.8-2.8v5.6M183.2 377.2h5.6m-2.8-2.8v5.6M169.9 347.2h5.6m-2.8-2.8v5.6M267.1 371.2h5.6m-2.8-2.8v5.6M93.7 331.1h5.6m-2.8-2.8v5.6M122.6 340.2h5.6m-2.8-2.8v5.6M160.6 359.0h5.6m-2.8-2.8v5.6M221.8 370.8h5.6m-2.8-2.8v5.6M150.8 364.6h5.6m-2.8-2.8v5.6M256.5 372.7h5.6m-2.8-2.8v5.6M224.9 334.6h5.6m-2.8-2.8v5.6M276.4 371.8h5.6m-2.8-2.8v5.6M233.5 349.9h5.6m-2.8-2.8v5.6M310.2 378.9h5.6m-2.8-2.8v5.6M168.3 341.8h5.6m-2.8-2.8v5.6M73.1 303.3h5.6m-2.8-2.8v5.6M291.3 383.8h5.6m-2.8-2.8v5.6M85.6 336.4h5.6m-2.8-2.8v5.6M186.1 358.4h5.6m-2.8-2.8v5.6M246.1 348.9h5.6m-2.8-2.8v5.6M315.4 380.3h5.6m-2.8-2.8v5.6M79.7 348.9h5.6m-2.8-2.8v5.6M292.7 386.1h5.6m-2.8-2.8v5.6M156.8 365.9h5.6m-2.8-2.8v5.6M271.4 361.9h5.6m-2.8-2.8v5.6M73.4 308.8h5.6m-2.8-2.8v5.6M120.4 364.3h5.6m-2.8-2.8v5.6M125.1 370.4h5.6m-2.8-2.8v5.6M192.9 363.5h5.6m-2.8-2.8v5.6M121.3 353.8h5.6m-2.8-2.8v5.6M164.0 333.1h5.6m-2.8-2.8v5.6M174.6 358.0h5.6m-2.8-2.8v5.6M61.9 332.9h5.6m-2.8-2.8v5.6M64.7 361.4h5.6m-2.8-2.8v5.6M283.3 378.9h5.6m-2.8-2.8v5.6M312.7 383.5h5.6m-2.8-2.8v5.6M134.1 368.1h5.6m-2.8-2.8v5.6M95.3 334.1h5.6m-2.8-2.8v5.6M68.4 324.1h5.6m-2.8-2.8v5.6M138.6 340.3h5.6m-2.8-2.8v5.6M171.1 343.0h5.6m-2.8-2.8v5.6M263.7 396.4h5.6m-2.8-2.8v5.6M302.5 375.2h5.6m-2.8-2.8v5.6M252.0 371.1h5.6m-2.8-2.8v5.6M240.1 388.7h5.6m-2.8-2.8v5.6M240.7 391.8h5.6m-2.8-2.8v5.6M285.4 385.3h5.6m-2.8-2.8v5.6M117.3 336.8h5.6m-2.8-2.8v5.6M304.1 390.8h5.6m-2.8-2.8v5.6M286.7 379.8h5.6m-2.8-2.8v5.6M279.8 367.8h5.6m-2.8-2.8v5.6M169.8 378.6h5.6m-2.8-2.8v5.6M196.3 354.9h5.6m-2.8-2.8v5.6M181.3 355.9h5.6m-2.8-2.8v5.6M251.3 379.2h5.6m-2.8-2.8v5.6M180.6 339.1h5.6m-2.8-2.8v5.6M110.9 356.3h5.6m-2.8-2.8v5.6M179.7 345.8h5.6m-2.8-2.8v5.6M200.5 366.7h5.6m-2.8-2.8v5.6M164.7 343.0h5.6m-2.8-2.8v5.6M270.2 358.5h5.6m-2.8-2.8v5.6M301.1 372.3h5.6m-2.8-2.8v5.6M139.1 350.7h5.6m-2.8-2.8v5.6M87.7 334.3h5.6m-2.8-2.8v5.6M132.3 366.7h5.6m-2.8-2.8v5.6M68.9 329.0h5.6m-2.8-2.8v5.6M245.4 366.9h5.6m-2.8-2.8v5.6M239.7 356.3h5.6m-2.8-2.8v5.6M92.6 343.6h5.6m-2.8-2.8v5.6M167.8 340.3h5.6m-2.8-2.8v5.6M202.0 371.8h5.6m-2.8-2.8v5.6M146.6 331.8h5.6m-2.8-2.8v5.6M67.3 334.3h5.6m-2.8-2.8v5.6M206.7 358.4h5.6m-2.8-2.8v5.6M161.3 337.9h5.6m-2.8-2.8v5.6M240.3 369.6h5.6m-2.8-2.8v5.6M270.6 391.5h5.6m-2.8-2.8v5.6M279.0 378.5h5.6m-2.8-2.8v5.6M257.3 394.8h5.6m-2.8-2.8v5.6M278.3 387.9h5.6m-2.8-2.8v5.6M219.6 368.1h5.6m-2.8-2.8v5.6M197.1 344.8h5.6m-2.8-2.8v5.6M236.5 342.7h5.6m-2.8-2.8v5.6M216.3 358.1h5.6m-2.8-2.8v5.6M238.4 386.3h5.6m-2.8-2.8v5.6M278.5 377.2h5.6m-2.8-2.8v5.6M286.0 374.5h5.6m-2.8-2.8v5.6M216.0 358.0h5.6m-2.8-2.8v5.6M235.4 353.1h5.6m-2.8-2.8v5.6M72.5 320.4h5.6m-2.8-2.8v5.6M261.1 374.3h5.6m-2.8-2.8v5.6M191.7 358.4h5.6m-2.8-2.8v5.6M155.6 359.4h5.6m-2.8-2.8v5.6M277.4 384.7h5.6m-2.8-2.8v5.6M129.1 330.5h5.6m-2.8-2.8v5.6M197.2 359.8h5.6m-2.8-2.8v5.6M73.6 311.6h5.6m-2.8-2.8v5.6M277.6 362.1h5.6m-2.8-2.8v5.6M229.7 376.2h5.6m-2.8-2.8v5.6M258.4 374.6h5.6m-2.8-2.8v5.6M135.5 348.1h5.6m-2.8-2.8v5.6M246.5 371.6h5.6m-2.8-2.8v5.6M71.6 331.7h5.6m-2.8-2.8v5.6M131.4 351.4h5.6m-2.8-2.8v5.6M188.0 360.6h5.6m-2.8-2.8v5.6M202.2 375.6h5.6m-2.8-2.8v5.6M263.6 371.0h5.6m-2.8-2.8v5.6M194.7 382.1h5.6m-2.8-2.8v5.6M267.8 393.8h5.6m-2.8-2.8v5.6M154.3 340.5h5.6m-2.8-2.8v5.6M145.7 350.4h5.6m-2.8-2.8v5.6M251.2 360.1h5.6m-2.8-2.8v5.6M269.3 373.9h5.6m-2.8-2.8v5.6M67.4 324.8h5.6m-2.8-2.8v5.6M163.2 354.9h5.6m-2.8-2.8v5.6M278.2 374.0h5.6m-2.8-2.8v5.6M178.8 374.3h5.6m-2.8-2.8v5.6M114.9 361.2h5.6m-2.8-2.8v5.6M215.6 372.2h5.6m-2.8-2.8v5.6M300.7 392.4h5.6m-2.8-2.8v5.6M71.5 330.5h5.6m-2.8-2.8v5.6M300.8 376.3h5.6m-2.8-2.8v5.6M245.0 372.2h5.6m-2.8-2.8v5.6M301.3 387.6h5.6m-2.8-2.8v5.6M184.8 381.4h5.6m-2.8-2.8v5.6M260.5 373.4h5.6m-2.8-2.8v5.6M104.0 344.2h5.6m-2.8-2.8v5.6M279.6 374.4h5.6m-2.8-2.8v5.6M280.1 386.4h5.6m-2.8-2.8v5.6M312.1 382.7h5.6m-2.8-2.8v5.6M168.7 356.9h5.6m-2.8-2.8v5.6M286.7 395.3h5.6m-2.8-2.8v5.6M305.7 400.9h5.6m-2.8-2.8v5.6M181.2 360.6h5.6m-2.8-2.8v5.6M252.0 353.3h5.6m-2.8-2.8v5.6M234.7 370.6h5.6m-2.8-2.8v5.6M219.2 377.0h5.6m-2.8-2.8v5.6M111.7 352.3h5.6m-2.8-2.8v5.6M247.4 378.9h5.6m-2.8-2.8v5.6M285.1 380.6h5.6m-2.8-2.8v5.6M301.0 376.6h5.6m-2.8-2.8v5.6M241.3 369.2h5.6m-2.8-2.8v5.6M189.6 339.7h5.6m-2.8-2.8v5.6M259.2 358.3h5.6m-2.8-2.8v5.6M313.1 386.4h5.6m-2.8-2.8v5.6M303.6 380.2h5.6m-2.8-2.8v5.6M90.3 344.0h5.6m-2.8-2.8v5.6M69.2 312.3h5.6m-2.8-2.8v5.6M94.2 340.4h5.6m-2.8-2.8v5.6M105.7 326.6h5.6m-2.8-2.8v5.6M288.9 378.5h5.6m-2.8-2.8v5.6M86.6 328.4h5.6m-2.8-2.8v5.6M97.1 336.0h5.6m-2.8-2.8v5.6M112.5 335.3h5.6m-2.8-2.8v5.6M152.6 356.4h5.6m-2.8-2.8v5.6M75.5 347.7h5.6m-2.8-2.8v5.6M279.2 377.2h5.6m-2.8-2.8v5.6M299.9 393.8h5.6m-2.8-2.8v5.6M210.1 362.2h5.6m-2.8-2.8v5.6M210.7 362.6h5.6m-2.8-2.8v5.6M94.0 368.3h5.6m-2.8-2.8v5.6M139.7 333.1h5.6m-2.8-2.8v5.6M250.2 392.1h5.6m-2.8-2.8v5.6M276.7 372.9h5.6m-2.8-2.8v5.6M224.0 351.5h5.6m-2.8-2.8v5.6M168.4 349.0h5.6m-2.8-2.8v5.6M69.9 308.7h5.6m-2.8-2.8v5.6M126.5 357.0h5.6m-2.8-2.8v5.6M161.7 347.9h5.6m-2.8-2.8v5.6M196.6 354.9h5.6m-2.8-2.8v5.6M96.1 326.2h5.6m-2.8-2.8v5.6M229.7 379.0h5.6m-2.8-2.8v5.6M233.7 374.9h5.6m-2.8-2.8v5.6M233.9 379.3h5.6m-2.8-2.8v5.6M129.8 346.9h5.6m-2.8-2.8v5.6M162.7 356.5h5.6m-2.8-2.8v5.6M147.4 333.8h5.6m-2.8-2.8v5.6M301.8 389.8h5.6m-2.8-2.8v5.6M265.8 376.6h5.6m-2.8-2.8v5.6M172.8 330.2h5.6m-2.8-2.8v5.6M140.8 361.7h5.6m-2.8-2.8v5.6M81.8 316.6h5.6m-2.8-2.8v5.6M305.6 382.6h5.6m-2.8-2.8v5.6M78.4 334.6h5.6m-2.8-2.8v5.6M285.9 377.2h5.6m-2.8-2.8v5.6M214.9 361.0h5.6m-2.8-2.8v5.6M71.5 350.3h5.6m-2.8-2.8v5.6M300.0 380.2h5.6m-2.8-2.8v5.6M300.7 388.9h5.6m-2.8-2.8v5.6M316.1 391.8h5.6m-2.8-2.8v5.6M198.2 339.9h5.6m-2.8-2.8v5.6M312.2 386.5h5.6m-2.8-2.8v5.6M314.8 390.2h5.6m-2.8-2.8v5.6M241.5 360.4h5.6m-2.8-2.8v5.6M249.0 367.4h5.6m-2.8-2.8v5.6M67.7 336.2h5.6m-2.8-2.8v5.6M84.2 333.5h5.6m-2.8-2.8v5.6M277.4 362.3h5.6m-2.8-2.8v5.6M271.2 381.8h5.6m-2.8-2.8v5.6M71.1 332.6h5.6m-2.8-2.8v5.6M97.1 338.7h5.6m-2.8-2.8v5.6M72.6 332.4h5.6m-2.8-2.8v5.6M304.4 367.1h5.6m-2.8-2.8v5.6M74.4 329.7h5.6m-2.8-2.8v5.6M130.1 338.2h5.6m-2.8-2.8v5.6M303.6 388.2h5.6m-2.8-2.8v5.6M119.9 332.4h5.6m-2.8-2.8v5.6M92.3 321.8h5.6m-2.8-2.8v5.6M157.3 348.6h5.6m-2.8-2.8v5.6M293.3 391.1h5.6m-2.8-2.8v5.6M221.2 362.9h5.6m-2.8-2.8v5.6M304.2 396.7h5.6m-2.8-2.8v5.6M111.2 344.5h5.6m-2.8-2.8v5.6M142.6 341.6h5.6m-2.8-2.8v5.6M253.7 372.6h5.6m-2.8-2.8v5.6M300.3 388.5h5.6m-2.8-2.8v5.6M187.0 368.8h5.6m-2.8-2.8v5.6M85.1 338.3h5.6m-2.8-2.8v5.6M67.3 330.7h5.6m-2.8-2.8v5.6M296.5 396.2h5.6m-2.8-2.8v5.6M236.2 359.0h5.6m-2.8-2.8v5.6M209.1 384.9h5.6m-2.8-2.8v5.6M125.7 352.0h5.6m-2.8-2.8v5.6M173.8 347.8h5.6m-2.8-2.8v5.6M107.0 322.1h5.6m-2.8-2.8v5.6M272.0 391.1h5.6m-2.8-2.8v5.6M237.5 358.6h5.6m-2.8-2.8v5.6M274.4 377.8h5.6m-2.8-2.8v5.6M258.9 370.1h5.6m-2.8-2.8v5.6M86.3 335.3h5.6m-2.8-2.8v5.6M287.2 373.3h5.6m-2.8-2.8v5.6M291.0 373.5h5.6m-2.8-2.8v5.6M247.6 357.8h5.6m-2.8-2.8v5.6M106.5 337.1h5.6m-2.8-2.8v5.6M87.8 363.0h5.6m-2.8-2.8v5.6M162.6 362.9h5.6m-2.8-2.8v5.6M217.7 361.5h5.6m-2.8-2.8v5.6M76.2 369.7h5.6m-2.8-2.8v5.6M222.8 344.5h5.6m-2.8-2.8v5.6M136.2 353.9h5.6m-2.8-2.8v5.6M177.6 377.8h5.6m-2.8-2.8v5.6M80.4 325.4h5.6m-2.8-2.8v5.6M94.6 353.2h5.6m-2.8-2.8v5.6M253.6 365.7h5.6m-2.8-2.8v5.6M250.2 373.9h5.6m-2.8-2.8v5.6M201.7 369.9h5.6m-2.8-2.8v5.6M88.4 327.2h5.6m-2.8-2.8v5.6M243.8 375.6h5.6m-2.8-2.8v5.6M249.8 378.6h5.6m-2.8-2.8v5.6M103.9 387.6h5.6m-2.8-2.8v5.6M289.8 370.3h5.6m-2.8-2.8v5.6M267.5 392.1h5.6m-2.8-2.8v5.6M170.0 376.8h5.6m-2.8-2.8v5.6M297.9 392.1h5.6m-2.8-2.8v5.6M303.6 392.5h5.6m-2.8-2.8v5.6M221.7 339.8h5.6m-2.8-2.8v5.6M312.0 390.3h5.6m-2.8-2.8v5.6M102.3 315.3h5.6m-2.8-2.8v5.6M73.6 336.2h5.6m-2.8-2.8v5.6M307.5 373.3h5.6m-2.8-2.8v5.6M61.2 325.4h5.6m-2.8-2.8v5.6M253.2 355.1h5.6m-2.8-2.8v5.6M128.5 343.5h5.6m-2.8-2.8v5.6M296.8 388.4h5.6m-2.8-2.8v5.6M306.1 390.1h5.6m-2.8-2.8v5.6M83.5 346.3h5.6m-2.8-2.8v5.6M302.7 386.7h5.6m-2.8-2.8v5.6M301.4 366.9h5.6m-2.8-2.8v5.6M319.9 387.8h5.6m-2.8-2.8v5.6M137.2 356.4h5.6m-2.8-2.8v5.6M91.1 327.0h5.6m-2.8-2.8v5.6M120.7 343.8h5.6m-2.8-2.8v5.6M256.5 357.7h5.6m-2.8-2.8v5.6M107.5 343.0h5.6m-2.8-2.8v5.6M193.8 359.8h5.6m-2.8-2.8v5.6M279.2 385.4h5.6m-2.8-2.8v5.6M84.5 332.3h5.6m-2.8-2.8v5.6M289.2 408.1h5.6m-2.8-2.8v5.6M297.2 383.0h5.6m-2.8-2.8v5.6M192.9 360.2h5.6m-2.8-2.8v5.6M99.1 335.8h5.6m-2.8-2.8v5.6M204.2 347.5h5.6m-2.8-2.8v5.6M263.6 372.1h5.6m-2.8-2.8v5.6M118.0 327.9h5.6m-2.8-2.8v5.6M234.0 370.9h5.6m-2.8-2.8v5.6M210.4 372.6h5.6m-2.8-2.8v5.6M112.1 343.7h5.6m-2.8-2.8v5.6M287.8 396.3h5.6m-2.8-2.8v5.6M286.2 394.2h5.6m-2.8-2.8v5.6M303.9 391.7h5.6m-2.8-2.8v5.6M296.8 369.2h5.6m-2.8-2.8v5.6M163.6 339.5h5.6m-2.8-2.8v5.6M293.2 379.6h5.6m-2.8-2.8v5.6M208.7 374.2h5.6m-2.8-2.8v5.6M108.3 338.7h5.6m-2.8-2.8v5.6M244.9 372.5h5.6m-2.8-2.8v5.6M304.6 387.3h5.6m-2.8-2.8v5.6M89.4 334.1h5.6m-2.8-2.8v5.6M243.9 380.6h5.6m-2.8-2.8v5.6M311.7 390.8h5.6m-2.8-2.8v5.6M293.1 373.0h5.6m-2.8-2.8v5.6M234.7 375.7h5.6m-2.8-2.8v5.6M131.3 362.8h5.6m-2.8-2.8v5.6M165.7 361.4h5.6m-2.8-2.8v5.6M228.9 364.3h5.6m-2.8-2.8v5.6M147.1 370.4h5.6m-2.8-2.8v5.6M305.2 390.1h5.6m-2.8-2.8v5.6M259.6 365.3h5.6m-2.8-2.8v5.6M71.9 324.3h5.6m-2.8-2.8v5.6M103.1 343.3h5.6m-2.8-2.8v5.6M200.7 364.4h5.6m-2.8-2.8v5.6M253.4 386.8h5.6m-2.8-2.8v5.6M60.4 333.7h5.6m-2.8-2.8v5.6M244.0 373.0h5.6m-2.8-2.8v5.6M253.6 365.7h5.6m-2.8-2.8v5.6M80.7 332.9h5.6m-2.8-2.8v5.6M297.3 384.0h5.6m-2.8-2.8v5.6M275.0 376.8h5.6m-2.8-2.8v5.6M250.6 396.8h5.6m-2.8-2.8v5.6M265.5 384.1h5.6m-2.8-2.8v5.6M308.3 379.3h5.6m-2.8-2.8v5.6M62.9 336.5h5.6m-2.8-2.8v5.6M195.2 352.4h5.6m-2.8-2.8v5.6M252.8 386.3h5.6m-2.8-2.8v5.6M83.1 323.1h5.6m-2.8-2.8v5.6M92.8 342.8h5.6m-2.8-2.8v5.6M156.7 344.1h5.6m-2.8-2.8v5.6M126.7 344.8h5.6m-2.8-2.8v5.6M305.3 380.7h5.6m-2.8-2.8v5.6M238.6 365.3h5.6m-2.8-2.8v5.6M212.1 346.7h5.6m-2.8-2.8v5.6M274.2 373.3h5.6m-2.8-2.8v5.6M292.1 387.2h5.6m-2.8-2.8v5.6M167.8 317.9h5.6m-2.8-2.8v5.6M90.7 329.0h5.6m-2.8-2.8v5.6M238.3 354.9h5.6m-2.8-2.8v5.6M297.3 367.4h5.6m-2.8-2.8v5.6M111.4 332.7h5.6m-2.8-2.8v5.6M320.6 370.6h5.6m-2.8-2.8v5.6M319.5 391.0h5.6m-2.8-2.8v5.6M156.7 364.1h5.6m-2.8-2.8v5.6M146.7 337.8h5.6m-2.8-2.8v5.6M114.0 338.8h5.6m-2.8-2.8v5.6M189.6 351.2h5.6m-2.8-2.8v5.6M238.7 362.9h5.6m-2.8-2.8v5.6M163.2 367.0h5.6m-2.8-2.8v5.6M181.8 365.0h5.6m-2.8-2.8v5.6M184.8 355.2h5.6m-2.8-2.8v5.6M78.6 312.6h5.6m-2.8-2.8v5.6M133.1 343.1h5.6m-2.8-2.8v5.6M177.3 364.5h5.6m-2.8-2.8v5.6M79.3 316.8h5.6m-2.8-2.8v5.6M296.3 385.7h5.6m-2.8-2.8v5.6M245.7 370.4h5.6m-2.8-2.8v5.6M276.1 378.3h5.6m-2.8-2.8v5.6M233.5 363.2h5.6m-2.8-2.8v5.6M150.4 346.3h5.6m-2.8-2.8v5.6M208.9 349.6h5.6m-2.8-2.8v5.6M312.3 387.4h5.6m-2.8-2.8v5.6M149.8 349.9h5.6m-2.8-2.8v5.6M98.7 347.4h5.6m-2.8-2.8v5.6M243.2 384.9h5.6m-2.8-2.8v5.6M228.1 386.4h5.6m-2.8-2.8v5.6M165.2 363.2h5.6m-2.8-2.8v5.6M99.2 329.9h5.6m-2.8-2.8v5.6M80.5 327.8h5.6m-2.8-2.8v5.6M95.0 345.9h5.6m-2.8-2.8v5.6M82.1 329.0h5.6m-2.8-2.8v5.6M278.1 387.8h5.6m-2.8-2.8v5.6M228.6 362.8h5.6m-2.8-2.8v5.6M313.7 391.5h5.6m-2.8-2.8v5.6M189.1 340.4h5.6m-2.8-2.8v5.6M186.9 360.6h5.6m-2.8-2.8v5.6M164.1 331.2h5.6m-2.8-2.8v5.6M121.5 362.1h5.6m-2.8-2.8v5.6M212.7 350.3h5.6m-2.8-2.8v5.6M309.2 367.3h5.6m-2.8-2.8v5.6M223.7 382.8h5.6m-2.8-2.8v5.6M288.7 371.3h5.6m-2.8-2.8v5.6M106.8 353.8h5.6m-2.8-2.8v5.6M304.0 388.8h5.6m-2.8-2.8v5.6M287.6 397.3h5.6m-2.8-2.8v5.6M126.8 345.7h5.6m-2.8-2.8v5.6M188.8 355.3h5.6m-2.8-2.8v5.6M175.8 370.2h5.6m-2.8-2.8v5.6M194.5 365.3h5.6m-2.8-2.8v5.6M257.4 395.1h5.6m-2.8-2.8v5.6M301.5 375.5h5.6m-2.8-2.8v5.6M176.9 355.0h5.6m-2.8-2.8v5.6M68.1 353.3h5.6m-2.8-2.8v5.6M309.0 383.1h5.6m-2.8-2.8v5.6M112.9 361.0h5.6m-2.8-2.8v5.6M82.0 339.7h5.6m-2.8-2.8v5.6M89.2 328.6h5.6m-2.8-2.8v5.6M213.3 353.3h5.6m-2.8-2.8v5.6M198.1 358.0h5.6m-2.8-2.8v5.6M285.0 377.8h5.6m-2.8-2.8v5.6M175.5 354.1h5.6m-2.8-2.8v5.6M229.1 364.2h5.6m-2.8-2.8v5.6M300.0 398.7h5.6m-2.8-2.8v5.6M235.3 356.6h5.6m-2.8-2.8v5.6M135.0 326.6h5.6m-2.8-2.8v5.6M292.8 396.6h5.6m-2.8-2.8v5.6M74.6 324.1h5.6m-2.8-2.8v5.6M289.2 381.7h5.6m-2.8-2.8v5.6M291.9 397.6h5.6m-2.8-2.8v5.6M75.4 330.8h5.6m-2.8-2.8v5.6M148.4 354.7h5.6m-2.8-2.8v5.6M294.2 386.9h5.6m-2.8-2.8v5.6M90.5 321.3h5.6m-2.8-2.8v5.6M247.2 354.2h5.6m-2.8-2.8v5.6M133.3 358.2h5.6m-2.8-2.8v5.6M66.0 337.1h5.6m-2.8-2.8v5.6M201.2 376.6h5.6m-2.8-2.8v5.6M258.2 387.8h5.6m-2.8-2.8v5.6M319.7 388.7h5.6m-2.8-2.8v5.6M303.1 393.3h5.6m-2.8-2.8v5.6M256.1 380.7h5.6m-2.8-2.8v5.6M301.9 389.9h5.6m-2.8-2.8v5.6M249.7 364.6h5.6m-2.8-2.8v5.6M259.8 365.5h5.6m-2.8-2.8v5.6M198.6 369.5h5.6m-2.8-2.8v5.6M276.8 388.4h5.6m-2.8-2.8v5.6M260.2 381.4h5.6m-2.8-2.8v5.6M89.3 340.2h5.6m-2.8-2.8v5.6M289.1 394.8h5.6m-2.8-2.8v5.6M82.6 308.3h5.6m-2.8-2.8v5.6M64.0 339.0h5.6m-2.8-2.8v5.6M158.5 365.5h5.6m-2.8-2.8v5.6M124.2 341.5h5.6m-2.8-2.8v5.6M314.3 394.5h5.6m-2.8-2.8v5.6M153.0 332.6h5.6m-2.8-2.8v5.6M81.2 329.9h5.6m-2.8-2.8v5.6M208.7 370.5h5.6m-2.8-2.8v5.6M200.2 350.6h5.6m-2.8-2.8v5.6M158.7 351.2h5.6m-2.8-2.8v5.6M152.1 343.6h5.6m-2.8-2.8v5.6M228.9 373.7h5.6m-2.8-2.8v5.6M195.0 358.0h5.6m-2.8-2.8v5.6M101.4 333.8h5.6m-2.8-2.8v5.6M281.4 390.7h5.6m-2.8-2.8v5.6M142.3 342.3h5.6m-2.8-2.8v5.6M283.3 377.1h5.6m-2.8-2.8v5.6M282.0 384.2h5.6m-2.8-2.8v5.6M194.6 365.0h5.6m-2.8-2.8v5.6M86.8 313.4h5.6m-2.8-2.8v5.6M208.6 346.9h5.6m-2.8-2.8v5.6M172.1 368.7h5.6m-2.8-2.8v5.6M116.8 338.8h5.6m-2.8-2.8v5.6M278.6 386.0h5.6m-2.8-2.8v5.6M240.1 374.3h5.6m-2.8-2.8v5.6M67.9 332.0h5.6m-2.8-2.8v5.6M229.4 373.4h5.6m-2.8-2.8v5.6M250.3 407.6h5.6m-2.8-2.8v5.6M81.3 344.1h5.6m-2.8-2.8v5.6M308.6 387.5h5.6m-2.8-2.8v5.6M264.7 371.0h5.6m-2.8-2.8v5.6M69.1 356.6h5.6m-2.8-2.8v5.6M309.0 386.2h5.6m-2.8-2.8v5.6M133.3 331.2h5.6m-2.8-2.8v5.6M233.8 347.6h5.6m-2.8-2.8v5.6M178.0 350.8h5.6m-2.8-2.8v5.6M182.0 364.0h5.6m-2.8-2.8v5.6M288.3 386.8h5.6m-2.8-2.8v5.6M160.2 365.9h5.6m-2.8-2.8v5.6M196.8 358.5h5.6m-2.8-2.8v5.6M206.9 377.1h5.6m-2.8-2.8v5.6M229.0 358.9h5.6m-2.8-2.8v5.6M149.2 337.2h5.6m-2.8-2.8v5.6M296.7 379.2h5.6m-2.8-2.8v5.6M232.6 381.1h5.6m-2.8-2.8v5.6M314.3 380.0h5.6m-2.8-2.8v5.6M93.2 338.8h5.6m-2.8-2.8v5.6M200.4 346.4h5.6m-2.8-2.8v5.6M156.4 371.5h5.6m-2.8-2.8v5.6M271.1 379.1h5.6m-2.8-2.8v5.6M243.9 358.8h5.6m-2.8-2.8v5.6M251.9 383.4h5.6m-2.8-2.8v5.6M255.9 393.0h5.6m-2.8-2.8v5.6M308.2 400.8h5.6m-2.8-2.8v5.6M284.5 382.8h5.6m-2.8-2.8v5.6M239.7 374.9h5.6m-2.8-2.8v5.6M275.9 383.1h5.6m-2.8-2.8v5.6M185.5 358.1h5.6m-2.8-2.8v5.6M293.2 406.5h5.6m-2.8-2.8v5.6M307.8 377.6h5.6m-2.8-2.8v5.6M121.9 368.1h5.6m-2.8-2.8v5.6M65.3 325.9h5.6m-2.8-2.8v5.6M90.0 346.2h5.6m-2.8-2.8v5.6M283.8 379.3h5.6m-2.8-2.8v5.6M66.1 312.2h5.6m-2.8-2.8v5.6M264.7 380.4h5.6m-2.8-2.8v5.6M83.1 315.9h5.6m-2.8-2.8v5.6M161.2 345.2h5.6m-2.8-2.8v5.6M108.5 328.4h5.6m-2.8-2.8v5.6M201.7 348.9h5.6m-2.8-2.8v5.6M135.9 352.2h5.6m-2.8-2.8v5.6M85.6 322.9h5.6m-2.8-2.8v5.6M73.2 320.2h5.6m-2.8-2.8v5.6M264.1 377.6h5.6m-2.8-2.8v5.6M109.2 345.5h5.6m-2.8-2.8v5.6M223.2 337.7h5.6m-2.8-2.8v5.6M280.6 381.6h5.6m-2.8-2.8v5.6M198.1 348.9h5.6m-2.8-2.8v5.6M165.7 365.9h5.6m-2.8-2.8v5.6M155.8 339.7h5.6m-2.8-2.8v5.6M273.7 376.4h5.6m-2.8-2.8v5.6M66.8 337.5h5.6m-2.8-2.8v5.6M298.1 387.6h5.6m-2.8-2.8v5.6M283.3 376.1h5.6m-2.8-2.8v5.6M68.7 336.5h5.6m-2.8-2.8v5.6M146.0 331.6h5.6m-2.8-2.8v5.6M183.6 355.4h5.6m-2.8-2.8v5.6M197.1 347.0h5.6m-2.8-2.8v5.6M76.7 316.4h5.6m-2.8-2.8v5.6M132.3 333.2h5.6m-2.8-2.8v5.6M290.5 385.7h5.6m-2.8-2.8v5.6M262.0 390.5h5.6m-2.8-2.8v5.6M224.9 364.6h5.6m-2.8-2.8v5.6M78.2 345.0h5.6m-2.8-2.8v5.6M153.6 355.9h5.6m-2.8-2.8v5.6M134.3 360.7h5.6m-2.8-2.8v5.6M169.9 371.3h5.6m-2.8-2.8v5.6M100.2 333.2h5.6m-2.8-2.8v5.6M81.2 315.8h5.6m-2.8-2.8v5.6M279.6 391.7h5.6m-2.8-2.8v5.6M128.5 349.9h5.6m-2.8-2.8v5.6M148.5 361.1h5.6m-2.8-2.8v5.6M285.5 373.4h5.6m-2.8-2.8v5.6M261.9 380.9h5.6m-2.8-2.8v5.6M127.9 337.4h5.6m-2.8-2.8v5.6M284.7 372.1h5.6m-2.8-2.8v5.6M259.6 373.3h5.6m-2.8-2.8v5.6M145.3 365.0h5.6m-2.8-2.8v5.6M274.4 396.3h5.6m-2.8-2.8v5.6M282.0 368.5h5.6m-2.8-2.8v5.6M282.9 367.0h5.6m-2.8-2.8v5.6M128.5 339.7h5.6m-2.8-2.8v5.6M61.4 319.8h5.6m-2.8-2.8v5.6M286.0 378.6h5.6m-2.8-2.8v5.6M82.8 339.2h5.6m-2.8-2.8v5.6M70.3 332.1h5.6m-2.8-2.8v5.6M185.6 369.5h5.6m-2.8-2.8v5.6M248.6 381.8h5.6m-2.8-2.8v5.6M106.6 338.4h5.6m-2.8-2.8v5.6M265.2 382.4h5.6m-2.8-2.8v5.6M101.3 346.3h5.6m-2.8-2.8v5.6M127.1 361.0h5.6m-2.8-2.8v5.6M282.7 385.8h5.6m-2.8-2.8v5.6M99.4 327.4h5.6m-2.8-2.8v5.6M287.2 380.4h5.6m-2.8-2.8v5.6M289.5 393.8h5.6m-2.8-2.8v5.6M243.5 345.7h5.6m-2.8-2.8v5.6M241.8 363.4h5.6m-2.8-2.8v5.6M175.3 356.3h5.6m-2.8-2.8v5.6M274.1 371.4h5.6m-2.8-2.8v5.6M302.6 396.7h5.6m-2.8-2.8v5.6M68.1 322.7h5.6m-2.8-2.8v5.6M273.5 389.9h5.6m-2.8-2.8v5.6M81.5 340.4h5.6m-2.8-2.8v5.6M82.2 357.3h5.6m-2.8-2.8v5.6M218.6 351.0h5.6m-2.8-2.8v5.6M243.9 380.5h5.6m-2.8-2.8v5.6M80.1 354.4h5.6m-2.8-2.8v5.6M124.5 328.3h5.6m-2.8-2.8v5.6M91.0 338.4h5.6m-2.8-2.8v5.6M70.8 315.3h5.6m-2.8-2.8v5.6M187.5 358.4h5.6m-2.8-2.8v5.6M296.8 374.4h5.6m-2.8-2.8v5.6M105.3 366.8h5.6m-2.8-2.8v5.6M114.7 352.4h5.6m-2.8-2.8v5.6M288.2 373.2h5.6m-2.8-2.8v5.6M232.0 383.5h5.6m-2.8-2.8v5.6M263.1 356.9h5.6m-2.8-2.8v5.6M303.6 401.3h5.6m-2.8-2.8v5.6M260.8 368.1h5.6m-2.8-2.8v5.6M74.5 354.5h5.6m-2.8-2.8v5.6M311.2 390.9h5.6m-2.8-2.8v5.6M114.4 338.0h5.6m-2.8-2.8v5.6M299.2 381.4h5.6m-2.8-2.8v5.6M128.9 356.6h5.6m-2.8-2.8v5.6M206.8 345.2h5.6m-2.8-2.8v5.6M174.4 362.0h5.6m-2.8-2.8v5.6M163.7 348.4h5.6m-2.8-2.8v5.6M108.0 350.3h5.6m-2.8-2.8v5.6M293.1 384.7h5.6m-2.8-2.8v5.6M218.2 338.2h5.6m-2.8-2.8v5.6M199.6 359.9h5.6m-2.8-2.8v5.6M182.4 358.8h5.6m-2.8-2.8v5.6M94.7 312.4h5.6m-2.8-2.8v5.6M112.6 361.8h5.6m-2.8-2.8v5.6M164.0 368.5h5.6m-2.8-2.8v5.6M109.0 331.6h5.6m-2.8-2.8v5.6M264.3 376.4h5.6m-2.8-2.8v5.6M121.2 348.2h5.6m-2.8-2.8v5.6M264.3 385.3h5.6m-2.8-2.8v5.6M80.8 330.0h5.6m-2.8-2.8v5.6M164.0 345.1h5.6m-2.8-2.8v5.6M76.7 341.7h5.6m-2.8-2.8v5.6M171.3 363.6h5.6m-2.8-2.8v5.6M100.5 343.0h5.6m-2.8-2.8v5.6M177.4 362.2h5.6m-2.8-2.8v5.6M112.9 334.6h5.6m-2.8-2.8v5.6M118.7 357.6h5.6m-2.8-2.8v5.6M206.9 376.0h5.6m-2.8-2.8v5.6M159.1 336.0h5.6m-2.8-2.8v5.6M267.9 378.0h5.6m-2.8-2.8v5.6M226.5 369.8h5.6m-2.8-2.8v5.6M296.1 394.1h5.6m-2.8-2.8v5.6M84.1 341.3h5.6m-2.8-2.8v5.6M275.6 380.4h5.6m-2.8-2.8v5.6M258.4 379.5h5.6m-2.8-2.8v5.6M72.2 338.8h5.6m-2.8-2.8v5.6M155.7 340.1h5.6m-2.8-2.8v5.6M234.3 374.6h5.6m-2.8-2.8v5.6M316.3 386.6h5.6m-2.8-2.8v5.6M299.6 400.4h5.6m-2.8-2.8v5.6M210.8 364.7h5.6m-2.8-2.8v5.6M278.1 383.8h5.6m-2.8-2.8v5.6M274.6 386.7h5.6m-2.8-2.8v5.6M171.4 355.9h5.6m-2.8-2.8v5.6M87.6 328.4h5.6m-2.8-2.8v5.6M92.0 349.7h5.6m-2.8-2.8v5.6M247.9 348.3h5.6m-2.8-2.8v5.6M204.2 360.2h5.6m-2.8-2.8v5.6M195.2 381.2h5.6m-2.8-2.8v5.6M230.7 386.1h5.6m-2.8-2.8v5.6M237.8 371.1h5.6m-2.8-2.8v5.6M227.6 372.9h5.6m-2.8-2.8v5.6M250.1 377.5h5.6m-2.8-2.8v5.6M151.4 346.9h5.6m-2.8-2.8v5.6M82.9 334.2h5.6m-2.8-2.8v5.6M163.3 350.2h5.6m-2.8-2.8v5.6M301.7 389.4h5.6m-2.8-2.8v5.6M294.0 356.2h5.6m-2.8-2.8v5.6M286.4 396.3h5.6m-2.8-2.8v5.6M243.6 382.9h5.6m-2.8-2.8v5.6M204.3 384.5h5.6m-2.8-2.8v5.6M91.1 304.7h5.6m-2.8-2.8v5.6M229.7 366.5h5.6m-2.8-2.8v5.6M215.6 367.0h5.6m-2.8-2.8v5.6M144.6 337.3h5.6m-2.8-2.8v5.6M268.7 364.7h5.6m-2.8-2.8v5.6M116.8 346.1h5.6m-2.8-2.8v5.6M282.7 376.8h5.6m-2.8-2.8v5.6M193.9 363.2h5.6m-2.8-2.8v5.6M299.8 381.2h5.6m-2.8-2.8v5.6M152.8 347.6h5.6m-2.8-2.8v5.6M133.0 345.1h5.6m-2.8-2.8v5.6M147.8 324.8h5.6m-2.8-2.8v5.6M74.6 331.2h5.6m-2.8-2.8v5.6M88.9 324.4h5.6m-2.8-2.8v5.6M271.6 397.0h5.6m-2.8-2.8v5.6M135.2 332.5h5.6m-2.8-2.8v5.6M161.9 349.6h5.6m-2.8-2.8v5.6M179.1 373.2h5.6m-2.8-2.8v5.6M283.5 390.6h5.6m-2.8-2.8v5.6M67.1 326.7h5.6m-2.8-2.8v5.6M157.9 352.9h5.6m-2.8-2.8v5.6M135.4 351.6h5.6m-2.8-2.8v5.6M119.3 331.0h5.6m-2.8-2.8v5.6M286.8 377.7h5.6m-2.8-2.8v5.6M137.9 367.9h5.6m-2.8-2.8v5.6M173.2 339.9h5.6m-2.8-2.8v5.6M308.9 387.4h5.6m-2.8-2.8v5.6M286.4 391.4h5.6m-2.8-2.8v5.6M216.1 362.8h5.6m-2.8-2.8v5.6M299.6 390.2h5.6m-2.8-2.8v5.6M218.8 362.2h5.6m-2.8-2.8v5.6M278.1 383.3h5.6m-2.8-2.8v5.6M249.7 380.9h5.6m-2.8-2.8v5.6M289.7 373.9h5.6m-2.8-2.8v5.6M234.4 362.0h5.6m-2.8-2.8v5.6M253.5 388.3h5.6m-2.8-2.8v5.6M217.0 379.7h5.6m-2.8-2.8v5.6M241.0 378.7h5.6m-2.8-2.8v5.6M294.4 389.4h5.6m-2.8-2.8v5.6M231.0 364.5h5.6m-2.8-2.8v5.6M295.9 379.4h5.6m-2.8-2.8v5.6M177.0 375.2h5.6m-2.8-2.8v5.6M129.6 351.6h5.6m-2.8-2.8v5.6M69.6 310.6h5.6m-2.8-2.8v5.6M243.9 373.2h5.6m-2.8-2.8v5.6M177.0 340.2h5.6m-2.8-2.8v5.6M122.6 322.5h5.6m-2.8-2.8v5.6M220.6 359.6h5.6m-2.8-2.8v5.6M134.4 356.6h5.6m-2.8-2.8v5.6M224.5 357.3h5.6m-2.8-2.8v5.6M239.2 373.4h5.6m-2.8-2.8v5.6M282.0 369.8h5.6m-2.8-2.8v5.6M288.8 383.9h5.6m-2.8-2.8v5.6M290.2 364.4h5.6m-2.8-2.8v5.6M253.7 374.0h5.6m-2.8-2.8v5.6M221.2 366.9h5.6m-2.8-2.8v5.6M146.7 365.4h5.6m-2.8-2.8v5.6M295.1 382.3h5.6m-2.8-2.8v5.6M280.8 367.1h5.6m-2.8-2.8v5.6M124.0 336.1h5.6m-2.8-2.8v5.6M89.4 352.8h5.6m-2.8-2.8v5.6M150.9 351.4h5.6m-2.8-2.8v5.6M116.5 357.4h5.6m-2.8-2.8v5.6M208.5 353.1h5.6m-2.8-2.8v5.6M248.8 377.3h5.6m-2.8-2.8v5.6M304.8 382.0h5.6m-2.8-2.8v5.6M147.3 345.8h5.6m-2.8-2.8v5.6M141.3 344.8h5.6m-2.8-2.8v5.6M73.2 310.4h5.6m-2.8-2.8v5.6M289.4 383.8h5.6m-2.8-2.8v5.6M105.3 347.2h5.6m-2.8-2.8v5.6M240.8 347.4h5.6m-2.8-2.8v5.6M253.5 400.9h5.6m-2.8-2.8v5.6M207.5 344.0h5.6m-2.8-2.8v5.6M139.8 340.9h5.6m-2.8-2.8v5.6M224.6 362.0h5.6m-2.8-2.8v5.6M78.9 329.3h5.6m-2.8-2.8v5.6M165.5 381.5h5.6m-2.8-2.8v5.6M292.4 391.4h5.6m-2.8-2.8v5.6M61.8 338.3h5.6m-2.8-2.8v5.6M208.0 383.4h5.6m-2.8-2.8v5.6M96.8 338.3h5.6m-2.8-2.8v5.6M90.8 352.1h5.6m-2.8-2.8v5.6M116.9 350.0h5.6m-2.8-2.8v5.6M220.1 380.7h5.6m-2.8-2.8v5.6M215.5 347.6h5.6m-2.8-2.8v5.6M268.8 371.0h5.6m-2.8-2.8v5.6M231.0 362.3h5.6m-2.8-2.8v5.6M180.7 358.2h5.6m-2.8-2.8v5.6M175.9 356.0h5.6m-2.8-2.8v5.6M164.9 359.2h5.6m-2.8-2.8v5.6M246.1 366.3h5.6m-2.8-2.8v5.6M100.2 335.8h5.6m-2.8-2.8v5.6M181.0 375.3h5.6m-2.8-2.8v5.6M213.7 346.7h5.6m-2.8-2.8v5.6M88.0 354.6h5.6m-2.8-2.8v5.6M273.0 367.5h5.6m-2.8-2.8v5.6M200.3 358.6h5.6m-2.8-2.8v5.6M167.8 366.6h5.6m-2.8-2.8v5.6M266.4 398.5h5.6m-2.8-2.8v5.6M144.2 336.1h5.6m-2.8-2.8v5.6M261.5 362.0h5.6m-2.8-2.8v5.6M91.2 335.0h5.6m-2.8-2.8v5.6M131.1 330.7h5.6m-2.8-2.8v5.6M150.9 348.0h5.6m-2.8-2.8v5.6M96.2 346.6h5.6m-2.8-2.8v5.6M115.3 334.5h5.6m-2.8-2.8v5.6M204.5 372.6h5.6m-2.8-2.8v5.6M222.5 368.5h5.6m-2.8-2.8v5.6M74.1 312.7h5.6m-2.8-2.8v5.6M295.2 373.7h5.6m-2.8-2.8v5.6M166.0 355.1h5.6m-2.8-2.8v5.6M212.9 371.9h5.6m-2.8-2.8v5.6M86.9 324.6h5.6m-2.8-2.8v5.6M226.5 359.8h5.6m-2.8-2.8v5.6M237.4 368.5h5.6m-2.8-2.8v5.6M248.2 358.7h5.6m-2.8-2.8v5.6M71.3 343.5h5.6m-2.8-2.8v5.6M71.8 310.6h5.6m-2.8-2.8v5.6M124.2 354.6h5.6m-2.8-2.8v5.6M146.7 350.2h5.6m-2.8-2.8v5.6M80.1 323.2h5.6m-2.8-2.8v5.6M169.5 367.5h5.6m-2.8-2.8v5.6M285.8 389.9h5.6m-2.8-2.8v5.6M123.9 336.1h5.6m-2.8-2.8v5.6M72.3 333.6h5.6m-2.8-2.8v5.6M179.3 361.4h5.6m-2.8-2.8v5.6M147.3 366.5h5.6m-2.8-2.8v5.6M96.0 332.3h5.6m-2.8-2.8v5.6M307.1 380.1h5.6m-2.8-2.8v5.6M243.2 346.7h5.6m-2.8-2.8v5.6M283.9 376.5h5.6m-2.8-2.8v5.6M133.2 352.0h5.6m-2.8-2.8v5.6M316.2 385.1h5.6m-2.8-2.8v5.6M287.6 378.6h5.6m-2.8-2.8v5.6M311.5 392.0h5.6m-2.8-2.8v5.6M75.6 345.4h5.6m-2.8-2.8v5.6M206.2 365.9h5.6m-2.8-2.8v5.6M159.6 340.8h5.6m-2.8-2.8v5.6M246.9 386.3h5.6m-2.8-2.8v5.6M88.3 324.3h5.6m-2.8-2.8v5.6M157.9 379.8h5.6m-2.8-2.8v5.6M119.2 351.3h5.6m-2.8-2.8v5.6M95.3 330.6h5.6m-2.8-2.8v5.6M86.4 312.1h5.6m-2.8-2.8v5.6M283.4 383.3h5.6m-2.8-2.8v5.6M96.6 348.4h5.6m-2.8-2.8v5.6M74.8 313.6h5.6m-2.8-2.8v5.6M68.5 327.2h5.6m-2.8-2.8v5.6M128.0 360.6h5.6m-2.8-2.8v5.6M79.6 324.7h5.6m-2.8-2.8v5.6M252.5 371.1h5.6m-2.8-2.8v5.6M237.4 344.9h5.6m-2.8-2.8v5.6M69.8 327.4h5.6m-2.8-2.8v5.6M146.4 341.4h5.6m-2.8-2.8v5.6M104.8 351.5h5.6m-2.8-2.8v5.6M113.5 333.6h5.6m-2.8-2.8v5.6M182.4 352.7h5.6m-2.8-2.8v5.6M264.6 370.4h5.6m-2.8-2.8v5.6M105.1 341.9h5.6m-2.8-2.8v5.6M233.7 374.3h5.6m-2.8-2.8v5.6M95.9 331.6h5.6m-2.8-2.8v5.6M305.1 398.5h5.6m-2.8-2.8v5.6M137.1 331.2h5.6m-2.8-2.8v5.6M278.2 373.7h5.6m-2.8-2.8v5.6M188.6 370.0h5.6m-2.8-2.8v5.6M179.7 365.4h5.6m-2.8-2.8v5.6M85.7 317.9h5.6m-2.8-2.8v5.6M303.7 379.2h5.6m-2.8-2.8v5.6M163.0 363.3h5.6m-2.8-2.8v5.6M99.2 322.5h5.6m-2.8-2.8v5.6M64.3 346.7h5.6m-2.8-2.8v5.6M86.4 341.3h5.6m-2.8-2.8v5.6M170.1 345.1h5.6m-2.8-2.8v5.6M230.0 338.4h5.6m-2.8-2.8v5.6M74.5 334.3h5.6m-2.8-2.8v5.6M260.8 370.1h5.6m-2.8-2.8v5.6M170.0 352.4h5.6m-2.8-2.8v5.6M269.3 382.8h5.6m-2.8-2.8v5.6M59.0 340.8h5.6m-2.8-2.8v5.6M300.9 373.7h5.6m-2.8-2.8v5.6M310.2 390.9h5.6m-2.8-2.8v5.6M126.4 376.1h5.6m-2.8-2.8v5.6M169.3 345.0h5.6m-2.8-2.8v5.6M228.9 381.3h5.6m-2.8-2.8v5.6M133.1 343.9h5.6m-2.8-2.8v5.6M183.1 369.2h5.6m-2.8-2.8v5.6M94.1 340.5h5.6m-2.8-2.8v5.6M68.4 345.8h5.6m-2.8-2.8v5.6M96.1 351.5h5.6m-2.8-2.8v5.6M63.9 345.3h5.6m-2.8-2.8v5.6M167.4 351.3h5.6m-2.8-2.8v5.6M276.2 391.4h5.6m-2.8-2.8v5.6M265.7 395.2h5.6m-2.8-2.8v5.6M236.4 365.2h5.6m-2.8-2.8v5.6M108.0 340.3h5.6m-2.8-2.8v5.6M117.8 338.2h5.6m-2.8-2.8v5.6M71.4 315.9h5.6m-2.8-2.8v5.6M108.3 333.1h5.6m-2.8-2.8v5.6M179.8 347.6h5.6m-2.8-2.8v5.6M216.8 348.6h5.6m-2.8-2.8v5.6M122.7 351.5h5.6m-2.8-2.8v5.6M210.1 368.2h5.6m-2.8-2.8v5.6M62.0 322.6h5.6m-2.8-2.8v5.6M285.2 381.7h5.6m-2.8-2.8v5.6M247.3 378.7h5.6m-2.8-2.8v5.6M168.5 372.5h5.6m-2.8-2.8v5.6M98.2 349.9h5.6m-2.8-2.8v5.6M254.3 358.5h5.6m-2.8-2.8v5.6M70.3 323.1h5.6m-2.8-2.8v5.6M235.7 371.5h5.6m-2.8-2.8v5.6M218.1 350.4h5.6m-2.8-2.8v5.6M299.9 377.9h5.6m-2.8-2.8v5.6M298.4 378.6h5.6m-2.8-2.8v5.6M292.8 390.5h5.6m-2.8-2.8v5.6M160.6 333.4h5.6m-2.8-2.8v5.6M83.2 315.2h5.6m-2.8-2.8v5.6M247.3 360.1h5.6m-2.8-2.8v5.6M265.6 358.9h5.6m-2.8-2.8v5.6M240.2 352.1h5.6m-2.8-2.8v5.6M260.3 380.0h5.6m-2.8-2.8v5.6M81.4 343.7h5.6m-2.8-2.8v5.6M89.8 350.7h5.6m-2.8-2.8v5.6M77.4 343.6h5.6m-2.8-2.8v5.6M99.9 328.7h5.6m-2.8-2.8v5.6M105.2 324.1h5.6m-2.8-2.8v5.6M60.5 347.0h5.6m-2.8-2.8v5.6M253.3 367.1h5.6m-2.8-2.8v5.6M275.6 373.5h5.6m-2.8-2.8v5.6M130.3 339.7h5.6m-2.8-2.8v5.6M231.6 384.6h5.6m-2.8-2.8v5.6M282.4 376.1h5.6m-2.8-2.8v5.6M202.3 333.2h5.6m-2.8-2.8v5.6M109.3 335.5h5.6m-2.8-2.8v5.6M259.6 379.8h5.6m-2.8-2.8v5.6M293.1 385.9h5.6m-2.8-2.8v5.6M74.5 325.0h5.6m-2.8-2.8v5.6M170.5 338.6h5.6m-2.8-2.8v5.6M135.6 352.3h5.6m-2.8-2.8v5.6M83.1 336.3h5.6m-2.8-2.8v5.6M266.4 381.6h5.6m-2.8-2.8v5.6M282.7 372.1h5.6m-2.8-2.8v5.6M278.6 390.0h5.6m-2.8-2.8v5.6M150.0 366.3h5.6m-2.8-2.8v5.6M129.5 349.9h5.6m-2.8-2.8v5.6M246.8 359.7h5.6m-2.8-2.8v5.6M247.4 346.0h5.6m-2.8-2.8v5.6M294.1 381.1h5.6m-2.8-2.8v5.6M279.4 376.4h5.6m-2.8-2.8v5.6M263.6 377.8h5.6m-2.8-2.8v5.6M152.3 354.9h5.6m-2.8-2.8v5.6M292.3 388.2h5.6m-2.8-2.8v5.6M60.9 332.1h5.6m-2.8-2.8v5.6M248.7 365.1h5.6m-2.8-2.8v5.6M130.8 333.8h5.6m-2.8-2.8v5.6M232.2 364.0h5.6m-2.8-2.8v5.6M259.2 362.1h5.6m-2.8-2.8v5.6M298.3 401.6h5.6m-2.8-2.8v5.6M290.8 371.1h5.6m-2.8-2.8v5.6M106.8 348.1h5.6m-2.8-2.8v5.6M288.1 393.1h5.6m-2.8-2.8v5.6M105.4 335.1h5.6m-2.8-2.8v5.6M173.0 376.1h5.6m-2.8-2.8v5.6M290.8 381.2h5.6m-2.8-2.8v5.6M85.0 314.6h5.6m-2.8-2.8v5.6M63.7 324.9h5.6m-2.8-2.8v5.6M213.3 348.3h5.6m-2.8-2.8v5.6M205.6 361.4h5.6m-2.8-2.8v5.6M112.2 351.4h5.6m-2.8-2.8v5.6M158.2 352.6h5.6m-2.8-2.8v5.6M261.4 366.7h5.6m-2.8-2.8v5.6M314.8 385.1h5.6m-2.8-2.8v5.6M305.9 380.6h5.6m-2.8-2.8v5.6M89.2 319.8h5.6m-2.8-2.8v5.6M223.8 350.9h5.6m-2.8-2.8v5.6M100.9 352.6h5.6m-2.8-2.8v5.6M272.8 369.5h5.6m-2.8-2.8v5.6M242.2 372.6h5.6m-2.8-2.8v5.6M304.3 389.7h5.6m-2.8-2.8v5.6M142.4 351.3h5.6m-2.8-2.8v5.6M271.0 382.2h5.6m-2.8-2.8v5.6M227.8 400.6h5.6m-2.8-2.8v5.6M188.6 353.2h5.6m-2.8-2.8v5.6M139.7 365.2h5.6m-2.8-2.8v5.6M250.3 400.5h5.6m-2.8-2.8v5.6M70.7 311.5h5.6m-2.8-2.8v5.6M170.6 358.2h5.6m-2.8-2.8v5.6M67.9 338.3h5.6m-2.8-2.8v5.6M134.7 349.8h5.6m-2.8-2.8v5.6M97.4 334.1h5.6m-2.8-2.8v5.6M184.8 346.2h5.6m-2.8-2.8v5.6M158.7 372.4h5.6m-2.8-2.8v5.6M155.3 350.9h5.6m-2.8-2.8v5.6M251.2 375.9h5.6m-2.8-2.8v5.6M179.0 370.4h5.6m-2.8-2.8v5.6M79.9 323.8h5.6m-2.8-2.8v5.6M167.8 328.3h5.6m-2.8-2.8v5.6M273.0 384.4h5.6m-2.8-2.8v5.6M263.3 375.3h5.6m-2.8-2.8v5.6M187.7 358.9h5.6m-2.8-2.8v5.6M172.6 375.5h5.6m-2.8-2.8v5.6M309.4 396.4h5.6m-2.8-2.8v5.6M231.8 362.5h5.6m-2.8-2.8v5.6M196.0 354.9h5.6m-2.8-2.8v5.6M268.2 362.7h5.6m-2.8-2.8v5.6M138.9 365.1h5.6m-2.8-2.8v5.6M151.5 355.3h5.6m-2.8-2.8v5.6M286.9 382.8h5.6m-2.8-2.8v5.6M209.0 343.6h5.6m-2.8-2.8v5.6M158.6 357.4h5.6m-2.8-2.8v5.6M84.9 327.3h5.6m-2.8-2.8v5.6M287.6 373.0h5.6m-2.8-2.8v5.6M120.6 327.0h5.6m-2.8-2.8v5.6M162.8 344.7h5.6m-2.8-2.8v5.6M109.4 340.7h5.6m-2.8-2.8v5.6M222.9 362.3h5.6m-2.8-2.8v5.6M180.2 362.1h5.6m-2.8-2.8v5.6M200.8 350.9h5.6m-2.8-2.8v5.6M127.6 334.4h5.6m-2.8-2.8v5.6M159.8 340.0h5.6m-2.8-2.8v5.6M85.8 343.6h5.6m-2.8-2.8v5.6M197.9 338.1h5.6m-2.8-2.8v5.6M104.3 352.0h5.6m-2.8-2.8v5.6M122.5 354.4h5.6m-2.8-2.8v5.6M153.3 361.7h5.6m-2.8-2.8v5.6M214.6 352.6h5.6m-2.8-2.8v5.6M166.9 353.1h5.6m-2.8-2.8v5.6M80.7 326.5h5.6m-2.8-2.8v5.6M280.1 385.0h5.6m-2.8-2.8v5.6M141.7 357.6h5.6m-2.8-2.8v5.6M277.6 372.0h5.6m-2.8-2.8v5.6M284.2 392.5h5.6m-2.8-2.8v5.6M290.2 393.4h5.6m-2.8-2.8v5.6M265.7 359.0h5.6m-2.8-2.8v5.6M260.8 377.0h5.6m-2.8-2.8v5.6M262.5 390.3h5.6m-2.8-2.8v5.6M79.8 329.9h5.6m-2.8-2.8v5.6M276.8 373.2h5.6m-2.8-2.8v5.6M234.7 348.3h5.6m-2.8-2.8v5.6M256.3 373.5h5.6m-2.8-2.8v5.6M295.8 387.5h5.6m-2.8-2.8v5.6M273.3 351.9h5.6m-2.8-2.8v5.6M146.9 331.6h5.6m-2.8-2.8v5.6M139.5 341.1h5.6m-2.8-2.8v5.6M150.5 355.9h5.6m-2.8-2.8v5.6M216.3 371.7h5.6m-2.8-2.8v5.6M75.0 337.4h5.6m-2.8-2.8v5.6M248.4 345.1h5.6m-2.8-2.8v5.6M80.5 354.1h5.6m-2.8-2.8v5.6M107.3 351.9h5.6m-2.8-2.8v5.6M262.2 390.6h5.6m-2.8-2.8v5.6M217.6 356.8h5.6m-2.8-2.8v5.6M177.4 332.2h5.6m-2.8-2.8v5.6M292.0 395.6h5.6m-2.8-2.8v5.6M243.9 376.7h5.6m-2.8-2.8v5.6M308.4 375.6h5.6m-2.8-2.8v5.6M144.2 344.7h5.6m-2.8-2.8v5.6M276.2 376.7h5.6m-2.8-2.8v5.6M89.1 328.3h5.6m-2.8-2.8v5.6M214.9 378.7h5.6m-2.8-2.8v5.6M130.8 359.3h5.6m-2.8-2.8v5.6M294.7 377.6h5.6m-2.8-2.8v5.6M255.8 376.1h5.6m-2.8-2.8v5.6M160.7 361.6h5.6m-2.8-2.8v5.6M132.0 350.1h5.6m-2.8-2.8v5.6M100.9 343.0h5.6m-2.8-2.8v5.6M220.7 357.9h5.6m-2.8-2.8v5.6M290.8 379.5h5.6m-2.8-2.8v5.6M261.3 377.4h5.6m-2.8-2.8v5.6M310.6 391.0h5.6m-2.8-2.8v5.6M317.9 398.8h5.6m-2.8-2.8v5.6M264.5 395.1h5.6m-2.8-2.8v5.6M231.6 350.3h5.6m-2.8-2.8v5.6M65.7 333.0h5.6m-2.8-2.8v5.6M211.4 354.8h5.6m-2.8-2.8v5.6M198.2 345.1h5.6m-2.8-2.8v5.6M310.7 397.1h5.6m-2.8-2.8v5.6M68.8 331.2h5.6m-2.8-2.8v5.6M155.5 350.8h5.6m-2.8-2.8v5.6M283.9 389.6h5.6m-2.8-2.8v5.6M255.2 358.0h5.6m-2.8-2.8v5.6M294.7 407.0h5.6m-2.8-2.8v5.6M289.5 378.1h5.6m-2.8-2.8v5.6M267.5 376.6h5.6m-2.8-2.8v5.6M65.3 338.6h5.6m-2.8-2.8v5.6M305.6 388.4h5.6m-2.8-2.8v5.6M154.8 350.7h5.6m-2.8-2.8v5.6M242.2 393.8h5.6m-2.8-2.8v5.6M281.3 368.4h5.6m-2.8-2.8v5.6M229.2 364.7h5.6m-2.8-2.8v5.6M78.9 333.1h5.6m-2.8-2.8v5.6M261.6 389.7h5.6m-2.8-2.8v5.6M275.2 380.9h5.6m-2.8-2.8v5.6M291.0 385.7h5.6m-2.8-2.8v5.6M310.4 401.6h5.6m-2.8-2.8v5.6M225.8 386.6h5.6m-2.8-2.8v5.6M65.6 317.1h5.6m-2.8-2.8v5.6M106.5 331.4h5.6m-2.8-2.8v5.6M284.6 388.7h5.6m-2.8-2.8v5.6M158.7 343.7h5.6m-2.8-2.8v5.6M286.7 395.5h5.6m-2.8-2.8v5.6M307.6 393.9h5.6m-2.8-2.8v5.6M254.2 358.7h5.6m-2.8-2.8v5.6M89.8 319.1h5.6m-2.8-2.8v5.6M205.2 360.6h5.6m-2.8-2.8v5.6M173.3 339.9h5.6m-2.8-2.8v5.6M149.1 344.5h5.6m-2.8-2.8v5.6M71.6 309.8h5.6m-2.8-2.8v5.6M171.3 355.7h5.6m-2.8-2.8v5.6M143.6 336.1h5.6m-2.8-2.8v5.6M307.1 382.2h5.6m-2.8-2.8v5.6M183.9 350.2h5.6m-2.8-2.8v5.6M212.2 334.0h5.6m-2.8-2.8v5.6M70.6 344.6h5.6m-2.8-2.8v5.6M96.5 325.9h5.6m-2.8-2.8v5.6M285.5 373.0h5.6m-2.8-2.8v5.6M93.2 344.3h5.6m-2.8-2.8v5.6M83.1 332.9h5.6m-2.8-2.8v5.6M104.0 351.7h5.6m-2.8-2.8v5.6M255.9 381.6h5.6m-2.8-2.8v5.6M194.2 351.3h5.6m-2.8-2.8v5.6M257.2 358.5h5.6m-2.8-2.8v5.6M300.1 383.4h5.6m-2.8-2.8v5.6M81.5 353.7h5.6m-2.8-2.8v5.6M162.6 360.0h5.6m-2.8-2.8v5.6M286.1 374.9h5.6m-2.8-2.8v5.6M191.6 361.5h5.6m-2.8-2.8v5.6M294.9 385.3h5.6m-2.8-2.8v5.6M83.9 322.9h5.6m-2.8-2.8v5.6M102.8 333.0h5.6m-2.8-2.8v5.6M226.4 354.0h5.6m-2.8-2.8v5.6M167.7 367.6h5.6m-2.8-2.8v5.6M271.4 389.0h5.6m-2.8-2.8v5.6M128.2 338.2h5.6m-2.8-2.8v5.6M284.7 388.1h5.6m-2.8-2.8v5.6M73.8 345.5h5.6m-2.8-2.8v5.6M190.5 340.7h5.6m-2.8-2.8v5.6M266.9 372.1h5.6m-2.8-2.8v5.6M265.6 374.7h5.6m-2.8-2.8v5.6M307.4 388.1h5.6m-2.8-2.8v5.6M105.1 344.9h5.6m-2.8-2.8v5.6M233.2 383.2h5.6m-2.8-2.8v5.6M77.0 353.9h5.6m-2.8-2.8v5.6M292.9 373.3h5.6m-2.8-2.8v5.6M96.0 334.3h5.6m-2.8-2.8v5.6M230.9 351.8h5.6m-2.8-2.8v5.6M302.8 399.8h5.6m-2.8-2.8v5.6M231.6 373.1h5.6m-2.8-2.8v5.6M145.2 330.4h5.6m-2.8-2.8v5.6M301.9 391.2h5.6m-2.8-2.8v5.6M273.0 377.2h5.6m-2.8-2.8v5.6M289.1 382.6h5.6m-2.8-2.8v5.6M216.8 325.3h5.6m-2.8-2.8v5.6M97.4 355.6h5.6m-2.8-2.8v5.6M88.7 338.6h5.6m-2.8-2.8v5.6M261.5 382.6h5.6m-2.8-2.8v5.6M191.6 365.7h5.6m-2.8-2.8v5.6M71.9 324.6h5.6m-2.8-2.8v5.6M62.3 339.4h5.6m-2.8-2.8v5.6M246.4 376.7h5.6m-2.8-2.8v5.6M105.3 340.6h5.6m-2.8-2.8v5.6M65.8 326.6h5.6m-2.8-2.8v5.6M175.1 355.7h5.6m-2.8-2.8v5.6M112.1 358.0h5.6m-2.8-2.8v5.6M123.2 365.1h5.6m-2.8-2.8v5.6M62.8 332.3h5.6m-2.8-2.8v5.6M288.9 388.5h5.6m-2.8-2.8v5.6M70.1 311.9h5.6m-2.8-2.8v5.6M248.6 366.9h5.6m-2.8-2.8v5.6M120.1 334.8h5.6m-2.8-2.8v5.6M72.6 326.6h5.6m-2.8-2.8v5.6M309.5 399.1h5.6m-2.8-2.8v5.6M146.8 358.4h5.6m-2.8-2.8v5.6M307.5 383.2h5.6m-2.8-2.8v5.6M300.9 378.8h5.6m-2.8-2.8v5.6M164.9 364.1h5.6m-2.8-2.8v5.6M295.3 383.4h5.6m-2.8-2.8v5.6M64.2 342.7h5.6m-2.8-2.8v5.6M183.2 372.6h5.6m-2.8-2.8v5.6M288.0 375.5h5.6m-2.8-2.8v5.6M291.1 382.3h5.6m-2.8-2.8v5.6M304.1 389.9h5.6m-2.8-2.8v5.6M183.3 364.8h5.6m-2.8-2.8v5.6M84.3 350.3h5.6m-2.8-2.8v5.6M187.8 371.1h5.6m-2.8-2.8v5.6M242.3 342.8h5.6m-2.8-2.8v5.6M272.4 373.6h5.6m-2.8-2.8v5.6M282.0 377.9h5.6m-2.8-2.8v5.6M287.6 383.9h5.6m-2.8-2.8v5.6M277.4 353.1h5.6m-2.8-2.8v5.6M178.9 351.0h5.6m-2.8-2.8v5.6M86.3 322.7h5.6m-2.8-2.8v5.6M239.5 363.6h5.6m-2.8-2.8v5.6M248.3 390.7h5.6m-2.8-2.8v5.6M233.3 363.7h5.6m-2.8-2.8v5.6M228.5 359.4h5.6m-2.8-2.8v5.6M73.1 325.4h5.6m-2.8-2.8v5.6M232.6 396.8h5.6m-2.8-2.8v5.6M140.1 361.7h5.6m-2.8-2.8v5.6M70.7 313.5h5.6m-2.8-2.8v5.6M303.9 377.9h5.6m-2.8-2.8v5.6M300.9 389.2h5.6m-2.8-2.8v5.6M181.6 363.2h5.6m-2.8-2.8v5.6M114.0 348.8h5.6m-2.8-2.8v5.6M107.0 339.9h5.6m-2.8-2.8v5.6M192.8 380.3h5.6m-2.8-2.8v5.6M250.6 379.1h5.6m-2.8-2.8v5.6M66.4 332.7h5.6m-2.8-2.8v5.6M290.9 387.0h5.6m-2.8-2.8v5.6M271.7 388.7h5.6m-2.8-2.8v5.6M299.4 378.9h5.6m-2.8-2.8v5.6M133.9 362.7h5.6m-2.8-2.8v5.6M92.2 340.4h5.6m-2.8-2.8v5.6M219.7 374.4h5.6m-2.8-2.8v5.6M299.9 392.4h5.6m-2.8-2.8v5.6M83.1 306.5h5.6m-2.8-2.8v5.6M155.3 356.6h5.6m-2.8-2.8v5.6M202.6 381.2h5.6m-2.8-2.8v5.6M82.6 317.4h5.6m-2.8-2.8v5.6M107.9 330.8h5.6m-2.8-2.8v5.6M182.6 357.2h5.6m-2.8-2.8v5.6M99.9 335.5h5.6m-2.8-2.8v5.6M288.3 392.1h5.6m-2.8-2.8v5.6M78.1 337.5h5.6m-2.8-2.8v5.6M297.7 393.5h5.6m-2.8-2.8v5.6M105.4 342.7h5.6m-2.8-2.8v5.6M303.9 388.1h5.6m-2.8-2.8v5.6M95.4 360.5h5.6m-2.8-2.8v5.6M218.2 370.0h5.6m-2.8-2.8v5.6M94.3 327.8h5.6m-2.8-2.8v5.6M119.3 368.2h5.6m-2.8-2.8v5.6M248.8 396.2h5.6m-2.8-2.8v5.6M280.0 388.8h5.6m-2.8-2.8v5.6M214.2 360.2h5.6m-2.8-2.8v5.6M173.5 357.9h5.6m-2.8-2.8v5.6M155.6 336.3h5.6m-2.8-2.8v5.6M66.7 322.7h5.6m-2.8-2.8v5.6M144.1 338.7h5.6m-2.8-2.8v5.6M138.0 343.8h5.6m-2.8-2.8v5.6M303.6 384.0h5.6m-2.8-2.8v5.6M136.7 350.2h5.6m-2.8-2.8v5.6M250.5 353.5h5.6m-2.8-2.8v5.6M106.5 359.0h5.6m-2.8-2.8v5.6M171.5 386.9h5.6m-2.8-2.8v5.6M304.0 396.4h5.6m-2.8-2.8v5.6M168.2 365.2h5.6m-2.8-2.8v5.6M204.4 366.7h5.6m-2.8-2.8v5.6M231.5 366.8h5.6m-2.8-2.8v5.6M259.9 382.6h5.6m-2.8-2.8v5.6M166.9 345.3h5.6m-2.8-2.8v5.6M118.4 347.0h5.6m-2.8-2.8v5.6M98.7 338.9h5.6m-2.8-2.8v5.6M112.8 343.3h5.6m-2.8-2.8v5.6M301.8 394.5h5.6m-2.8-2.8v5.6M255.7 355.5h5.6m-2.8-2.8v5.6M237.3 366.7h5.6m-2.8-2.8v5.6M197.4 374.3h5.6m-2.8-2.8v5.6M86.2 339.3h5.6m-2.8-2.8v5.6M109.4 345.2h5.6m-2.8-2.8v5.6M294.6 391.2h5.6m-2.8-2.8v5.6M315.2 374.4h5.6m-2.8-2.8v5.6M117.1 328.6h5.6m-2.8-2.8v5.6M121.2 323.7h5.6m-2.8-2.8v5.6M252.9 386.7h5.6m-2.8-2.8v5.6M232.5 372.8h5.6m-2.8-2.8v5.6M68.7 352.1h5.6m-2.8-2.8v5.6M260.3 345.3h5.6m-2.8-2.8v5.6M256.7 383.2h5.6m-2.8-2.8v5.6M149.4 354.2h5.6m-2.8-2.8v5.6M84.6 351.8h5.6m-2.8-2.8v5.6M301.0 377.6h5.6m-2.8-2.8v5.6M244.9 368.9h5.6m-2.8-2.8v5.6M65.3 321.3h5.6m-2.8-2.8v5.6M181.7 351.9h5.6m-2.8-2.8v5.6M66.2 332.4h5.6m-2.8-2.8v5.6M128.0 357.9h5.6m-2.8-2.8v5.6M65.8 342.2h5.6m-2.8-2.8v5.6M105.1 348.9h5.6m-2.8-2.8v5.6M272.2 384.8h5.6m-2.8-2.8v5.6M284.8 370.4h5.6m-2.8-2.8v5.6M302.8 392.4h5.6m-2.8-2.8v5.6M292.7 376.1h5.6m-2.8-2.8v5.6M303.6 387.0h5.6m-2.8-2.8v5.6M314.9 379.8h5.6m-2.8-2.8v5.6M195.5 366.5h5.6m-2.8-2.8v5.6M305.3 384.2h5.6m-2.8-2.8v5.6M275.8 368.6h5.6m-2.8-2.8v5.6M109.6 352.4h5.6m-2.8-2.8v5.6M102.5 335.9h5.6m-2.8-2.8v5.6M163.2 351.9h5.6m-2.8-2.8v5.6M159.8 330.0h5.6m-2.8-2.8v5.6M177.5 353.5h5.6m-2.8-2.8v5.6M95.1 332.3h5.6m-2.8-2.8v5.6M301.6 386.4h5.6m-2.8-2.8v5.6M145.5 339.8h5.6m-2.8-2.8v5.6M85.9 357.4h5.6m-2.8-2.8v5.6M127.0 353.3h5.6m-2.8-2.8v5.6M220.8 370.3h5.6m-2.8-2.8v5.6M80.4 340.2h5.6m-2.8-2.8v5.6M212.3 347.7h5.6m-2.8-2.8v5.6M148.7 352.1h5.6m-2.8-2.8v5.6M146.6 364.2h5.6m-2.8-2.8v5.6M259.4 395.2h5.6m-2.8-2.8v5.6M102.1 332.8h5.6m-2.8-2.8v5.6M290.0 375.9h5.6m-2.8-2.8v5.6M298.9 393.8h5.6m-2.8-2.8v5.6M215.3 362.3h5.6m-2.8-2.8v5.6M256.7 384.3h5.6m-2.8-2.8v5.6M283.3 372.3h5.6m-2.8-2.8v5.6M191.5 390.6h5.6m-2.8-2.8v5.6M116.4 354.4h5.6m-2.8-2.8v5.6M234.4 369.3h5.6m-2.8-2.8v5.6M300.4 397.3h5.6m-2.8-2.8v5.6M309.1 387.9h5.6m-2.8-2.8v5.6M75.3 321.6h5.6m-2.8-2.8v5.6M102.3 351.2h5.6m-2.8-2.8v5.6M87.0 352.3h5.6m-2.8-2.8v5.6M171.6 353.9h5.6m-2.8-2.8v5.6M191.1 352.0h5.6m-2.8-2.8v5.6M229.0 361.1h5.6m-2.8-2.8v5.6M300.0 389.3h5.6m-2.8-2.8v5.6M200.2 370.1h5.6m-2.8-2.8v5.6M290.9 376.5h5.6m-2.8-2.8v5.6M132.3 331.9h5.6m-2.8-2.8v5.6M64.8 333.4h5.6m-2.8-2.8v5.6M293.3 377.6h5.6m-2.8-2.8v5.6M165.5 368.3h5.6m-2.8-2.8v5.6M62.8 351.4h5.6m-2.8-2.8v5.6M308.0 371.2h5.6m-2.8-2.8v5.6M114.4 349.1h5.6m-2.8-2.8v5.6M96.1 364.7h5.6m-2.8-2.8v5.6M261.9 375.3h5.6m-2.8-2.8v5.6M199.2 374.7h5.6m-2.8-2.8v5.6M268.2 381.8h5.6m-2.8-2.8v5.6M84.2 324.7h5.6m-2.8-2.8v5.6M297.3 393.9h5.6m-2.8-2.8v5.6M122.2 353.1h5.6m-2.8-2.8v5.6M217.1 374.4h5.6m-2.8-2.8v5.6M308.9 394.2h5.6m-2.8-2.8v5.6M123.9 353.0h5.6m-2.8-2.8v5.6M292.4 390.5h5.6m-2.8-2.8v5.6M289.0 394.8h5.6m-2.8-2.8v5.6M89.6 320.4h5.6m-2.8-2.8v5.6M309.7 392.8h5.6m-2.8-2.8v5.6M263.9 386.8h5.6m-2.8-2.8v5.6M299.0 393.1h5.6m-2.8-2.8v5.6M313.0 397.9h5.6m-2.8-2.8v5.6M116.9 336.9h5.6m-2.8-2.8v5.6M299.6 387.7h5.6m-2.8-2.8v5.6M200.8 364.1h5.6m-2.8-2.8v5.6M98.1 344.0h5.6m-2.8-2.8v5.6M169.9 347.3h5.6m-2.8-2.8v5.6M245.3 365.4h5.6m-2.8-2.8v5.6M226.6 374.6h5.6m-2.8-2.8v5.6M69.9 324.7h5.6m-2.8-2.8v5.6M277.0 389.1h5.6m-2.8-2.8v5.6M278.3 386.8h5.6m-2.8-2.8v5.6M289.0 390.0h5.6m-2.8-2.8v5.6M215.7 378.1h5.6m-2.8-2.8v5.6M113.8 373.6h5.6m-2.8-2.8v5.6M172.4 350.6h5.6m-2.8-2.8v5.6M146.9 339.5h5.6m-2.8-2.8v5.6M203.3 342.3h5.6m-2.8-2.8v5.6M298.7 382.5h5.6m-2.8-2.8v5.6M309.9 390.5h5.6m-2.8-2.8v5.6M299.9 389.4h5.6m-2.8-2.8v5.6M166.0 355.7h5.6m-2.8-2.8v5.6M143.7 337.2h5.6m-2.8-2.8v5.6M308.7 384.2h5.6m-2.8-2.8v5.6M204.4 366.9h5.6m-2.8-2.8v5.6M173.6 355.8h5.6m-2.8-2.8v5.6M143.4 367.2h5.6m-2.8-2.8v5.6M208.1 357.1h5.6m-2.8-2.8v5.6M104.1 335.1h5.6m-2.8-2.8v5.6M215.1 356.2h5.6m-2.8-2.8v5.6M157.5 357.5h5.6m-2.8-2.8v5.6M263.4 386.2h5.6m-2.8-2.8v5.6M228.7 355.8h5.6m-2.8-2.8v5.6M113.6 325.5h5.6m-2.8-2.8v5.6M248.2 350.1h5.6m-2.8-2.8v5.6M127.6 344.4h5.6m-2.8-2.8v5.6M283.6 377.3h5.6m-2.8-2.8v5.6M77.7 343.5h5.6m-2.8-2.8v5.6M132.6 346.1h5.6m-2.8-2.8v5.6M271.3 360.0h5.6m-2.8-2.8v5.6M261.6 387.5h5.6m-2.8-2.8v5.6M153.9 353.0h5.6m-2.8-2.8v5.6M248.2 360.7h5.6m-2.8-2.8v5.6M168.6 351.4h5.6m-2.8-2.8v5.6M278.3 395.1h5.6m-2.8-2.8v5.6M216.7 353.0h5.6m-2.8-2.8v5.6M307.9 392.4h5.6m-2.8-2.8v5.6M262.1 373.3h5.6m-2.8-2.8v5.6M265.3 386.2h5.6m-2.8-2.8v5.6M159.4 339.8h5.6m-2.8-2.8v5.6M268.6 371.1h5.6m-2.8-2.8v5.6M282.3 389.5h5.6m-2.8-2.8v5.6M254.8 396.5h5.6m-2.8-2.8v5.6M243.2 366.5h5.6m-2.8-2.8v5.6M114.2 356.2h5.6m-2.8-2.8v5.6M219.1 377.4h5.6m-2.8-2.8v5.6M90.0 339.5h5.6m-2.8-2.8v5.6M264.2 368.5h5.6m-2.8-2.8v5.6M227.7 358.7h5.6m-2.8-2.8v5.6M204.8 344.3h5.6m-2.8-2.8v5.6M206.2 363.3h5.6m-2.8-2.8v5.6M256.2 374.8h5.6m-2.8-2.8v5.6M332.7 380.0h5.6m-2.8-2.8v5.6M191.4 361.9h5.6m-2.8-2.8v5.6M83.0 333.3h5.6m-2.8-2.8v5.6M252.2 368.2h5.6m-2.8-2.8v5.6M124.7 368.3h5.6m-2.8-2.8v5.6M187.0 327.7h5.6m-2.8-2.8v5.6M102.5 347.2h5.6m-2.8-2.8v5.6M121.0 316.4h5.6m-2.8-2.8v5.6M251.7 373.6h5.6m-2.8-2.8v5.6M269.1 361.5h5.6m-2.8-2.8v5.6M192.8 338.6h5.6m-2.8-2.8v5.6M219.4 364.6h5.6m-2.8-2.8v5.6M145.9 343.1h5.6m-2.8-2.8v5.6M194.2 365.8h5.6m-2.8-2.8v5.6M262.5 360.3h5.6m-2.8-2.8v5.6M156.3 344.9h5.6m-2.8-2.8v5.6M237.1 365.3h5.6m-2.8-2.8v5.6M169.5 351.8h5.6m-2.8-2.8v5.6M124.8 331.4h5.6m-2.8-2.8v5.6M303.8 400.3h5.6m-2.8-2.8v5.6M69.4 351.9h5.6m-2.8-2.8v5.6M271.8 366.8h5.6m-2.8-2.8v5.6M187.1 344.5h5.6m-2.8-2.8v5.6M148.3 360.4h5.6m-2.8-2.8v5.6M191.2 392.0h5.6m-2.8-2.8v5.6M264.2 388.2h5.6m-2.8-2.8v5.6M74.6 356.5h5.6m-2.8-2.8v5.6M314.3 380.7h5.6m-2.8-2.8v5.6M85.9 341.2h5.6m-2.8-2.8v5.6M63.1 333.9h5.6m-2.8-2.8v5.6M93.3 341.8h5.6m-2.8-2.8v5.6M259.0 370.4h5.6m-2.8-2.8v5.6M265.1 368.5h5.6m-2.8-2.8v5.6M140.1 361.7h5.6m-2.8-2.8v5.6M227.1 355.0h5.6m-2.8-2.8v5.6M278.7 392.9h5.6m-2.8-2.8v5.6M260.1 399.2h5.6m-2.8-2.8v5.6M100.6 340.8h5.6m-2.8-2.8v5.6M226.6 376.1h5.6m-2.8-2.8v5.6M103.2 349.5h5.6m-2.8-2.8v5.6M113.4 346.5h5.6m-2.8-2.8v5.6M66.2 356.1h5.6m-2.8-2.8v5.6M282.5 376.8h5.6m-2.8-2.8v5.6M173.9 345.2h5.6m-2.8-2.8v5.6M304.0 389.4h5.6m-2.8-2.8v5.6M80.6 345.3h5.6m-2.8-2.8v5.6M242.2 366.6h5.6m-2.8-2.8v5.6M267.6 378.0h5.6m-2.8-2.8v5.6M240.2 376.6h5.6m-2.8-2.8v5.6M281.6 371.6h5.6m-2.8-2.8v5.6M115.7 346.0h5.6m-2.8-2.8v5.6M308.9 385.0h5.6m-2.8-2.8v5.6M298.4 381.6h5.6m-2.8-2.8v5.6M74.1 333.4h5.6m-2.8-2.8v5.6M185.7 375.7h5.6m-2.8-2.8v5.6M86.4 321.2h5.6m-2.8-2.8v5.6M297.9 385.3h5.6m-2.8-2.8v5.6M209.8 363.2h5.6m-2.8-2.8v5.6M181.9 351.4h5.6m-2.8-2.8v5.6M244.8 363.0h5.6m-2.8-2.8v5.6M210.9 355.4h5.6m-2.8-2.8v5.6M287.0 373.3h5.6m-2.8-2.8v5.6M255.1 383.9h5.6m-2.8-2.8v5.6M175.2 370.6h5.6m-2.8-2.8v5.6M217.5 362.5h5.6m-2.8-2.8v5.6M263.3 368.9h5.6m-2.8-2.8v5.6M104.7 335.2h5.6m-2.8-2.8v5.6M139.7 336.4h5.6m-2.8-2.8v5.6M274.7 375.4h5.6m-2.8-2.8v5.6M290.6 375.5h5.6m-2.8-2.8v5.6M259.7 362.6h5.6m-2.8-2.8v5.6M258.0 369.5h5.6m-2.8-2.8v5.6M294.0 374.7h5.6m-2.8-2.8v5.6M289.0 366.4h5.6m-2.8-2.8v5.6M304.2 381.7h5.6m-2.8-2.8v5.6M130.6 349.0h5.6m-2.8-2.8v5.6M212.5 381.1h5.6m-2.8-2.8v5.6M116.0 339.4h5.6m-2.8-2.8v5.6M75.5 326.3h5.6m-2.8-2.8v5.6M243.2 374.3h5.6m-2.8-2.8v5.6M123.8 367.6h5.6m-2.8-2.8v5.6M73.3 327.4h5.6m-2.8-2.8v5.6M87.6 347.9h5.6m-2.8-2.8v5.6M173.8 365.8h5.6m-2.8-2.8v5.6M74.8 308.2h5.6m-2.8-2.8v5.6M132.9 329.6h5.6m-2.8-2.8v5.6M239.7 381.2h5.6m-2.8-2.8v5.6M203.4 376.0h5.6m-2.8-2.8v5.6M103.0 338.8h5.6m-2.8-2.8v5.6M176.9 348.5h5.6m-2.8-2.8v5.6M138.6 363.7h5.6m-2.8-2.8v5.6M85.3 321.0h5.6m-2.8-2.8v5.6M81.6 352.6h5.6m-2.8-2.8v5.6M301.4 384.0h5.6m-2.8-2.8v5.6M226.8 376.4h5.6m-2.8-2.8v5.6M109.3 365.7h5.6m-2.8-2.8v5.6M168.3 358.1h5.6m-2.8-2.8v5.6M282.9 376.1h5.6m-2.8-2.8v5.6M166.7 379.7h5.6m-2.8-2.8v5.6M121.2 356.1h5.6m-2.8-2.8v5.6M106.3 317.5h5.6m-2.8-2.8v5.6M291.3 388.8h5.6m-2.8-2.8v5.6M217.1 382.2h5.6m-2.8-2.8v5.6M205.3 356.7h5.6m-2.8-2.8v5.6M298.7 390.7h5.6m-2.8-2.8v5.6M286.4 371.8h5.6m-2.8-2.8v5.6M186.3 353.2h5.6m-2.8-2.8v5.6M196.8 342.1h5.6m-2.8-2.8v5.6M160.1 368.3h5.6m-2.8-2.8v5.6M257.1 378.6h5.6m-2.8-2.8v5.6M69.9 314.8h5.6m-2.8-2.8v5.6M96.2 334.0h5.6m-2.8-2.8v5.6M75.2 320.0h5.6m-2.8-2.8v5.6M152.5 343.6h5.6m-2.8-2.8v5.6M258.1 392.5h5.6m-2.8-2.8v5.6M98.8 335.7h5.6m-2.8-2.8v5.6M141.5 338.6h5.6m-2.8-2.8v5.6M267.7 390.7h5.6m-2.8-2.8v5.6M73.2 324.0h5.6m-2.8-2.8v5.6M290.3 396.1h5.6m-2.8-2.8v5.6M296.5 396.4h5.6m-2.8-2.8v5.6M292.0 377.3h5.6m-2.8-2.8v5.6M284.8 376.4h5.6m-2.8-2.8v5.6M303.2 370.7h5.6m-2.8-2.8v5.6M239.5 369.8h5.6m-2.8-2.8v5.6M308.5 381.2h5.6m-2.8-2.8v5.6M297.9 369.3h5.6m-2.8-2.8v5.6M275.2 352.6h5.6m-2.8-2.8v5.6M260.6 374.4h5.6m-2.8-2.8v5.6M284.6 387.7h5.6m-2.8-2.8v5.6M76.1 332.4h5.6m-2.8-2.8v5.6M286.7 384.0h5.6m-2.8-2.8v5.6M108.6 330.6h5.6m-2.8-2.8v5.6M191.2 363.2h5.6m-2.8-2.8v5.6M124.7 358.3h5.6m-2.8-2.8v5.6M287.5 386.4h5.6m-2.8-2.8v5.6M104.0 321.9h5.6m-2.8-2.8v5.6M103.5 347.2h5.6m-2.8-2.8v5.6M88.6 333.3h5.6m-2.8-2.8v5.6M190.5 357.5h5.6m-2.8-2.8v5.6M238.4 378.2h5.6m-2.8-2.8v5.6M89.5 319.3h5.6m-2.8-2.8v5.6M100.6 329.8h5.6m-2.8-2.8v5.6M310.5 388.2h5.6m-2.8-2.8v5.6M285.3 394.9h5.6m-2.8-2.8v5.6M88.2 337.2h5.6m-2.8-2.8v5.6M115.1 339.3h5.6m-2.8-2.8v5.6M188.6 344.5h5.6m-2.8-2.8v5.6M311.1 374.5h5.6m-2.8-2.8v5.6M149.1 344.0h5.6m-2.8-2.8v5.6M69.6 311.4h5.6m-2.8-2.8v5.6M187.3 357.7h5.6m-2.8-2.8v5.6M92.7 343.7h5.6m-2.8-2.8v5.6M310.0 406.6h5.6m-2.8-2.8v5.6M281.6 378.5h5.6m-2.8-2.8v5.6M215.9 371.5h5.6m-2.8-2.8v5.6M87.2 277.0h5.6m-2.8-2.8v5.6M141.6 362.8h5.6m-2.8-2.8v5.6M288.2 395.9h5.6m-2.8-2.8v5.6M140.2 367.9h5.6m-2.8-2.8v5.6M120.8 349.4h5.6m-2.8-2.8v5.6M285.6 372.7h5.6m-2.8-2.8v5.6M64.4 310.9h5.6m-2.8-2.8v5.6M76.3 339.1h5.6m-2.8-2.8v5.6M109.7 342.3h5.6m-2.8-2.8v5.6M183.1 333.7h5.6m-2.8-2.8v5.6M190.2 348.0h5.6m-2.8-2.8v5.6M246.7 385.9h5.6m-2.8-2.8v5.6M189.9 356.6h5.6m-2.8-2.8v5.6M77.7 311.6h5.6m-2.8-2.8v5.6M229.6 380.9h5.6m-2.8-2.8v5.6M177.5 362.9h5.6m-2.8-2.8v5.6M284.1 379.3h5.6m-2.8-2.8v5.6M144.7 347.5h5.6m-2.8-2.8v5.6M224.4 379.1h5.6m-2.8-2.8v5.6M67.7 334.5h5.6m-2.8-2.8v5.6M264.8 372.0h5.6m-2.8-2.8v5.6M81.3 345.0h5.6m-2.8-2.8v5.6M313.8 396.2h5.6m-2.8-2.8v5.6M108.3 332.6h5.6m-2.8-2.8v5.6M241.1 368.4h5.6m-2.8-2.8v5.6M104.0 329.5h5.6m-2.8-2.8v5.6M150.6 324.0h5.6m-2.8-2.8v5.6M97.8 324.4h5.6m-2.8-2.8v5.6M236.4 369.8h5.6m-2.8-2.8v5.6M83.9 323.3h5.6m-2.8-2.8v5.6M307.9 413.0h5.6m-2.8-2.8v5.6M110.7 358.2h5.6m-2.8-2.8v5.6M68.0 323.9h5.6m-2.8-2.8v5.6M200.8 359.9h5.6m-2.8-2.8v5.6M79.3 323.0h5.6m-2.8-2.8v5.6M258.4 365.7h5.6m-2.8-2.8v5.6M221.2 345.6h5.6m-2.8-2.8v5.6M272.4 377.6h5.6m-2.8-2.8v5.6M72.9 291.3h5.6m-2.8-2.8v5.6M118.5 362.9h5.6m-2.8-2.8v5.6M208.4 356.6h5.6m-2.8-2.8v5.6M285.3 383.0h5.6m-2.8-2.8v5.6M235.0 363.7h5.6m-2.8-2.8v5.6M94.2 324.1h5.6m-2.8-2.8v5.6M238.5 376.9h5.6m-2.8-2.8v5.6M144.2 321.5h5.6m-2.8-2.8v5.6M67.1 340.1h5.6m-2.8-2.8v5.6M239.3 361.8h5.6m-2.8-2.8v5.6M291.0 385.9h5.6m-2.8-2.8v5.6M258.7 364.2h5.6m-2.8-2.8v5.6M242.7 367.9h5.6m-2.8-2.8v5.6M93.4 348.3h5.6m-2.8-2.8v5.6M293.5 383.4h5.6m-2.8-2.8v5.6M289.2 397.1h5.6m-2.8-2.8v5.6M152.7 338.6h5.6m-2.8-2.8v5.6M86.3 338.2h5.6m-2.8-2.8v5.6M281.9 385.4h5.6m-2.8-2.8v5.6M277.0 400.4h5.6m-2.8-2.8v5.6M290.2 395.2h5.6m-2.8-2.8v5.6M227.3 355.5h5.6m-2.8-2.8v5.6M304.6 381.8h5.6m-2.8-2.8v5.6M168.8 358.2h5.6m-2.8-2.8v5.6M172.8 356.5h5.6m-2.8-2.8v5.6M216.0 359.3h5.6m-2.8-2.8v5.6M273.7 361.0h5.6m-2.8-2.8v5.6M108.8 333.9h5.6m-2.8-2.8v5.6M74.3 334.8h5.6m-2.8-2.8v5.6M97.8 322.9h5.6m-2.8-2.8v5.6M86.0 337.1h5.6m-2.8-2.8v5.6M230.9 383.4h5.6m-2.8-2.8v5.6M176.8 357.7h5.6m-2.8-2.8v5.6M160.2 352.1h5.6m-2.8-2.8v5.6M102.8 362.2h5.6m-2.8-2.8v5.6M201.2 330.6h5.6m-2.8-2.8v5.6M165.3 360.9h5.6m-2.8-2.8v5.6M176.9 368.0h5.6m-2.8-2.8v5.6M78.6 331.8h5.6m-2.8-2.8v5.6M88.7 354.7h5.6m-2.8-2.8v5.6M81.8 338.9h5.6m-2.8-2.8v5.6M170.6 344.8h5.6m-2.8-2.8v5.6M80.0 342.6h5.6m-2.8-2.8v5.6M279.6 393.5h5.6m-2.8-2.8v5.6M192.1 335.0h5.6m-2.8-2.8v5.6M118.6 333.2h5.6m-2.8-2.8v5.6M205.7 340.1h5.6m-2.8-2.8v5.6M170.0 334.6h5.6m-2.8-2.8v5.6M273.5 378.5h5.6m-2.8-2.8v5.6M257.6 362.7h5.6m-2.8-2.8v5.6M65.2 338.9h5.6m-2.8-2.8v5.6M261.8 380.3h5.6m-2.8-2.8v5.6M248.7 372.0h5.6m-2.8-2.8v5.6M309.0 392.7h5.6m-2.8-2.8v5.6M271.9 389.7h5.6m-2.8-2.8v5.6M140.6 343.3h5.6m-2.8-2.8v5.6M284.9 388.3h5.6m-2.8-2.8v5.6M289.1 394.6h5.6m-2.8-2.8v5.6M111.3 346.1h5.6m-2.8-2.8v5.6M64.3 347.1h5.6m-2.8-2.8v5.6M244.1 368.4h5.6m-2.8-2.8v5.6M97.6 328.0h5.6m-2.8-2.8v5.6M269.0 378.8h5.6m-2.8-2.8v5.6M80.1 334.3h5.6m-2.8-2.8v5.6M70.4 326.6h5.6m-2.8-2.8v5.6M233.4 357.6h5.6m-2.8-2.8v5.6M110.6 342.6h5.6m-2.8-2.8v5.6M309.2 399.2h5.6m-2.8-2.8v5.6M66.7 321.8h5.6m-2.8-2.8v5.6M288.2 362.3h5.6m-2.8-2.8v5.6M99.7 351.2h5.6m-2.8-2.8v5.6M63.2 340.5h5.6m-2.8-2.8v5.6M189.6 366.4h5.6m-2.8-2.8v5.6M210.3 335.5h5.6m-2.8-2.8v5.6M186.3 364.3h5.6m-2.8-2.8v5.6M89.7 350.8h5.6m-2.8-2.8v5.6M276.9 388.3h5.6m-2.8-2.8v5.6M79.1 348.6h5.6m-2.8-2.8v5.6M78.1 307.3h5.6m-2.8-2.8v5.6M276.0 386.4h5.6m-2.8-2.8v5.6M245.4 353.3h5.6m-2.8-2.8v5.6M195.1 362.8h5.6m-2.8-2.8v5.6M67.5 321.6h5.6m-2.8-2.8v5.6M69.9 347.4h5.6m-2.8-2.8v5.6M243.6 387.8h5.6m-2.8-2.8v5.6M261.3 387.8h5.6m-2.8-2.8v5.6M209.2 345.2h5.6m-2.8-2.8v5.6M92.9 337.2h5.6m-2.8-2.8v5.6M87.4 346.5h5.6m-2.8-2.8v5.6M178.3 348.8h5.6m-2.8-2.8v5.6M271.0 379.5h5.6m-2.8-2.8v5.6M205.1 338.8h5.6m-2.8-2.8v5.6M197.4 368.9h5.6m-2.8-2.8v5.6M257.4 377.0h5.6m-2.8-2.8v5.6M243.9 372.5h5.6m-2.8-2.8v5.6M158.8 355.4h5.6m-2.8-2.8v5.6M219.4 340.4h5.6m-2.8-2.8v5.6M290.3 380.4h5.6m-2.8-2.8v5.6M312.3 377.9h5.6m-2.8-2.8v5.6M92.4 335.0h5.6m-2.8-2.8v5.6M260.1 355.6h5.6m-2.8-2.8v5.6M102.5 313.3h5.6m-2.8-2.8v5.6M305.6 371.1h5.6m-2.8-2.8v5.6M289.9 400.7h5.6m-2.8-2.8v5.6M280.8 388.6h5.6m-2.8-2.8v5.6M295.5 386.7h5.6m-2.8-2.8v5.6M281.2 387.6h5.6m-2.8-2.8v5.6M146.5 337.0h5.6m-2.8-2.8v5.6M98.8 342.9h5.6m-2.8-2.8v5.6M175.4 349.6h5.6m-2.8-2.8v5.6M128.1 363.7h5.6m-2.8-2.8v5.6M228.0 347.5h5.6m-2.8-2.8v5.6M277.4 394.7h5.6m-2.8-2.8v5.6M291.7 381.1h5.6m-2.8-2.8v5.6M260.3 389.8h5.6m-2.8-2.8v5.6M257.6 355.4h5.6m-2.8-2.8v5.6M306.9 379.2h5.6m-2.8-2.8v5.6M214.8 337.2h5.6m-2.8-2.8v5.6M258.2 362.9h5.6m-2.8-2.8v5.6M289.2 362.1h5.6m-2.8-2.8v5.6M205.5 367.3h5.6m-2.8-2.8v5.6M262.1 364.0h5.6m-2.8-2.8v5.6M305.6 387.8h5.6m-2.8-2.8v5.6M99.3 331.3h5.6m-2.8-2.8v5.6M121.7 351.2h5.6m-2.8-2.8v5.6M146.6 338.7h5.6m-2.8-2.8v5.6M66.0 308.4h5.6m-2.8-2.8v5.6M152.8 352.5h5.6m-2.8-2.8v5.6M152.6 356.6h5.6m-2.8-2.8v5.6M257.7 386.9h5.6m-2.8-2.8v5.6M108.2 341.0h5.6m-2.8-2.8v5.6M248.0 352.9h5.6m-2.8-2.8v5.6M258.2 368.6h5.6m-2.8-2.8v5.6M149.0 351.5h5.6m-2.8-2.8v5.6M299.9 386.2h5.6m-2.8-2.8v5.6M173.8 374.4h5.6m-2.8-2.8v5.6M190.6 342.1h5.6m-2.8-2.8v5.6M92.0 336.0h5.6m-2.8-2.8v5.6M265.7 376.6h5.6m-2.8-2.8v5.6M153.9 333.8h5.6m-2.8-2.8v5.6M187.8 355.2h5.6m-2.8-2.8v5.6M124.3 358.8h5.6m-2.8-2.8v5.6M85.5 316.2h5.6m-2.8-2.8v5.6M169.0 360.1h5.6m-2.8-2.8v5.6M295.0 396.3h5.6m-2.8-2.8v5.6M90.1 354.4h5.6m-2.8-2.8v5.6M245.9 373.1h5.6m-2.8-2.8v5.6M263.8 370.2h5.6m-2.8-2.8v5.6M274.6 397.7h5.6m-2.8-2.8v5.6M60.4 328.4h5.6m-2.8-2.8v5.6M235.2 374.4h5.6m-2.8-2.8v5.6M233.6 357.0h5.6m-2.8-2.8v5.6M272.5 382.0h5.6m-2.8-2.8v5.6M176.6 352.1h5.6m-2.8-2.8v5.6M70.0 348.9h5.6m-2.8-2.8v5.6M106.3 336.0h5.6m-2.8-2.8v5.6M212.2 382.5h5.6m-2.8-2.8v5.6M75.5 338.8h5.6m-2.8-2.8v5.6M221.6 360.2h5.6m-2.8-2.8v5.6M297.1 392.2h5.6m-2.8-2.8v5.6M291.5 381.5h5.6m-2.8-2.8v5.6M158.1 357.2h5.6m-2.8-2.8v5.6M107.8 357.0h5.6m-2.8-2.8v5.6M154.5 328.3h5.6m-2.8-2.8v5.6M67.8 327.8h5.6m-2.8-2.8v5.6M78.7 338.6h5.6m-2.8-2.8v5.6M177.6 338.9h5.6m-2.8-2.8v5.6M264.8 394.1h5.6m-2.8-2.8v5.6M314.6 386.4h5.6m-2.8-2.8v5.6M72.8 336.5h5.6m-2.8-2.8v5.6M175.6 358.8h5.6m-2.8-2.8v5.6M165.9 359.6h5.6m-2.8-2.8v5.6M231.8 363.8h5.6m-2.8-2.8v5.6M136.8 343.9h5.6m-2.8-2.8v5.6M263.0 376.0h5.6m-2.8-2.8v5.6M74.1 343.5h5.6m-2.8-2.8v5.6M183.6 342.6h5.6m-2.8-2.8v5.6M258.9 377.9h5.6m-2.8-2.8v5.6M221.5 356.8h5.6m-2.8-2.8v5.6M257.9 363.3h5.6m-2.8-2.8v5.6M224.6 380.3h5.6m-2.8-2.8v5.6M69.5 336.6h5.6m-2.8-2.8v5.6M258.1 376.9h5.6m-2.8-2.8v5.6M307.2 392.7h5.6m-2.8-2.8v5.6M310.0 379.8h5.6m-2.8-2.8v5.6M101.5 335.2h5.6m-2.8-2.8v5.6M299.2 375.1h5.6m-2.8-2.8v5.6M132.6 338.8h5.6m-2.8-2.8v5.6M265.3 383.2h5.6m-2.8-2.8v5.6M202.2 386.0h5.6m-2.8-2.8v5.6M296.3 387.8h5.6m-2.8-2.8v5.6M252.9 359.9h5.6m-2.8-2.8v5.6M270.3 383.8h5.6m-2.8-2.8v5.6M253.8 386.0h5.6m-2.8-2.8v5.6M181.6 340.7h5.6m-2.8-2.8v5.6M187.6 352.4h5.6m-2.8-2.8v5.6M274.4 415.9h5.6m-2.8-2.8v5.6M141.9 346.0h5.6m-2.8-2.8v5.6M296.5 396.5h5.6m-2.8-2.8v5.6M97.1 353.1h5.6m-2.8-2.8v5.6M115.9 328.8h5.6m-2.8-2.8v5.6M221.2 369.6h5.6m-2.8-2.8v5.6M223.7 365.2h5.6m-2.8-2.8v5.6M155.2 355.3h5.6m-2.8-2.8v5.6M187.7 347.4h5.6m-2.8-2.8v5.6M191.9 340.6h5.6m-2.8-2.8v5.6M312.6 410.2h5.6m-2.8-2.8v5.6M316.4 397.1h5.6m-2.8-2.8v5.6M68.6 308.4h5.6m-2.8-2.8v5.6M307.2 399.9h5.6m-2.8-2.8v5.6M229.4 371.4h5.6m-2.8-2.8v5.6M232.8 382.6h5.6m-2.8-2.8v5.6M307.5 395.4h5.6m-2.8-2.8v5.6M224.4 345.0h5.6m-2.8-2.8v5.6M299.3 402.2h5.6m-2.8-2.8v5.6M96.7 325.3h5.6m-2.8-2.8v5.6M258.5 379.1h5.6m-2.8-2.8v5.6M266.6 374.4h5.6m-2.8-2.8v5.6M208.0 376.8h5.6m-2.8-2.8v5.6M287.5 369.3h5.6m-2.8-2.8v5.6M291.4 386.2h5.6m-2.8-2.8v5.6M74.6 342.4h5.6m-2.8-2.8v5.6M69.8 331.4h5.6m-2.8-2.8v5.6M286.1 380.9h5.6m-2.8-2.8v5.6M89.0 330.1h5.6m-2.8-2.8v5.6M75.8 304.5h5.6m-2.8-2.8v5.6M77.4 333.0h5.6m-2.8-2.8v5.6M196.1 373.0h5.6m-2.8-2.8v5.6M114.3 369.6h5.6m-2.8-2.8v5.6M102.9 343.1h5.6m-2.8-2.8v5.6M288.4 375.2h5.6m-2.8-2.8v5.6M269.6 367.9h5.6m-2.8-2.8v5.6M216.6 359.9h5.6m-2.8-2.8v5.6" fill="none" stroke="#0000ff" stroke-width="0.8" stroke-opacity="0.55"/><path d="M52.65 3 V210.35M52 210.35H353.5" fill="none" stroke="#555" stroke-width="1.3"/><path d="M47 3.5H52M47 37.5H52M47 71.5H52M47 104.5H52M47 138.5H52M47 172.5H52M47 206.5H52M56.4 211V216M93.46 211V216M130.52 211V216M167.58 211V216M204.64 211V216M241.7 211V216M278.76 211V216M315.82 211V216M352.88 211V216" fill="none" stroke="#3a3a3a" stroke-width="1.1"/><path d="M52.65 253 V460.35M52 460.35H353" fill="none" stroke="#555" stroke-width="1.3"/><path d="M47 253.5H52M47 287.5H52M47 321.5H52M47 355.5H52M47 389.5H52M47 423.5H52M47 457.5H52M56.4 461V466M110.4 461V466M164.4 461V466M218.4 461V466M272.4 461V466M326.4 461V466" fill="none" stroke="#3a3a3a" stroke-width="1.1"/><g font-family="'Liberation Sans', Arial, sans-serif" fill="#000" stroke="#000" stroke-width="0.15"><text transform="translate(44 5.9) scale(1 1.2)" text-anchor="end" font-size="8">0.7830</text><text transform="translate(44 39.9) scale(1 1.2)" text-anchor="end" font-size="8">0.7825</text><text transform="translate(44 73.9) scale(1 1.2)" text-anchor="end" font-size="8">0.7820</text><text transform="translate(44 106.9) scale(1 1.2)" text-anchor="end" font-size="8">0.7815</text><text transform="translate(44 140.9) scale(1 1.2)" text-anchor="end" font-size="8">0.7810</text><text transform="translate(44 174.9) scale(1 1.2)" text-anchor="end" font-size="8">0.7805</text><text transform="translate(44 208.9) scale(1 1.2)" text-anchor="end" font-size="8">0.7800</text><text transform="translate(44 255.9) scale(1 1.2)" text-anchor="end" font-size="8">0.7830</text><text transform="translate(44 289.9) scale(1 1.2)" text-anchor="end" font-size="8">0.7825</text><text transform="translate(44 323.9) scale(1 1.2)" text-anchor="end" font-size="8">0.7820</text><text transform="translate(44 357.9) scale(1 1.2)" text-anchor="end" font-size="8">0.7815</text><text transform="translate(44 391.9) scale(1 1.2)" text-anchor="end" font-size="8">0.7810</text><text transform="translate(44 425.9) scale(1 1.2)" text-anchor="end" font-size="8">0.7805</text><text transform="translate(44 459.9) scale(1 1.2)" text-anchor="end" font-size="8">0.7800</text><text transform="translate(56.4 225.6) scale(1 1.2)" text-anchor="middle" font-size="8">0</text><text transform="translate(93.46 225.6) scale(1 1.2)" text-anchor="middle" font-size="8">2</text><text transform="translate(130.52 225.6) scale(1 1.2)" text-anchor="middle" font-size="8">4</text><text transform="translate(167.58 225.6) scale(1 1.2)" text-anchor="middle" font-size="8">6</text><text transform="translate(204.64 225.6) scale(1 1.2)" text-anchor="middle" font-size="8">8</text><text transform="translate(241.7 225.6) scale(1 1.2)" text-anchor="middle" font-size="8">10</text><text transform="translate(278.76 225.6) scale(1 1.2)" text-anchor="middle" font-size="8">12</text><text transform="translate(315.82 225.6) scale(1 1.2)" text-anchor="middle" font-size="8">14</text><text transform="translate(352.88 225.6) scale(1 1.2)" text-anchor="middle" font-size="8">16</text><text transform="translate(56.4 475.6) scale(1 1.2)" text-anchor="middle" font-size="8">0</text><text transform="translate(110.4 475.6) scale(1 1.2)" text-anchor="middle" font-size="8">10</text><text transform="translate(164.4 475.6) scale(1 1.2)" text-anchor="middle" font-size="8">20</text><text transform="translate(218.4 475.6) scale(1 1.2)" text-anchor="middle" font-size="8">30</text><text transform="translate(272.4 475.6) scale(1 1.2)" text-anchor="middle" font-size="8">40</text><text transform="translate(326.4 475.6) scale(1 1.2)" text-anchor="middle" font-size="8">50</text><text transform="translate(188 237.3) scale(1 1.12)" font-size="9.5"><tspan font-style="italic">E</tspan><tspan font-size="6" dy="1.6">w</tspan><tspan dy="-1.6">(hPa)</tspan></text><text transform="translate(181 487.8) scale(1 1.12)" text-anchor="start" font-size="9.5">PWV (mm)</text><text transform="translate(6.5 104.5) rotate(-90) scale(1 1.12)" text-anchor="middle" font-style="italic" font-size="9.5">L</text><text transform="translate(6.5 354.5) rotate(-90) scale(1 1.12)" text-anchor="middle" font-style="italic" font-size="9.5">L</text></g><g font-family="'Liberation Sans', Arial, sans-serif" fill="#000" stroke="#000" stroke-width="0"><text transform="translate(320 25.8) scale(1 1.1)" text-anchor="start" font-size="13.5">(a)</text><text transform="translate(320 275) scale(1 1.1)" text-anchor="start" font-size="13.5">(b)</text></g></svg></body></html>
